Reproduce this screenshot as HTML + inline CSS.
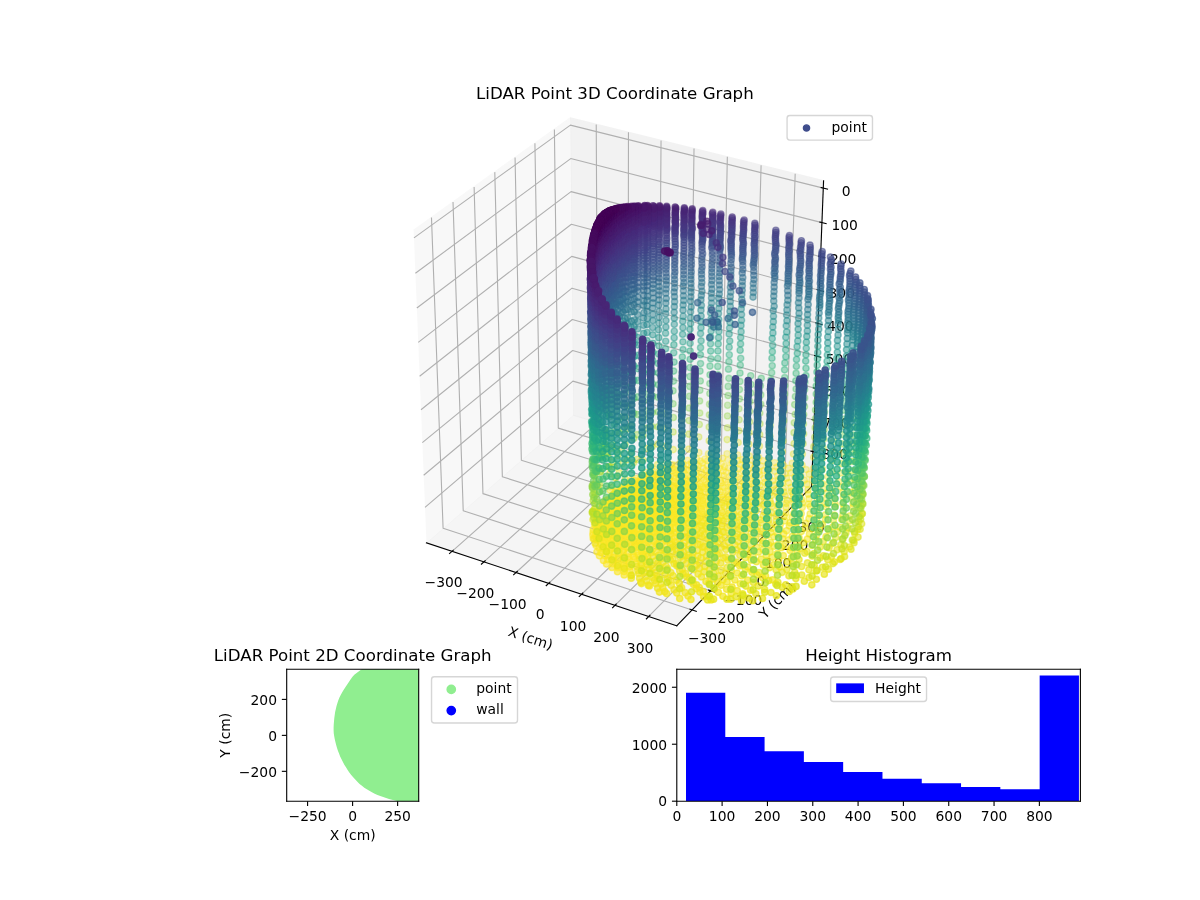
<!DOCTYPE html><html><head><meta charset="utf-8"><title>LiDAR Point Graphs</title><style>html,body{margin:0;padding:0;background:#fff}svg{display:block}</style></head><body><svg width="1200" height="900" viewBox="0 0 864 648"> <defs> <style>text{font-family:"DejaVu Sans","Liberation Sans",sans-serif}.a{fill:#450457;stroke:#450457}.b{fill:#460a5d;stroke:#460a5d}.c{fill:#471063;stroke:#471063}.d{fill:#481668;stroke:#481668}.e{fill:#481b6d;stroke:#481b6d}.f{fill:#482071;stroke:#482071}.g{fill:#482576;stroke:#482576}.h{fill:#472a7a;stroke:#472a7a}.i{fill:#472f7d;stroke:#472f7d}.j{fill:#463480;stroke:#463480}.k{fill:#443983;stroke:#443983}.l{fill:#433e85;stroke:#433e85}.m{fill:#414287;stroke:#414287}.n{fill:#3f4788;stroke:#3f4788}.o{fill:#3e4c8a;stroke:#3e4c8a}.p{fill:#3c508b;stroke:#3c508b}.q{fill:#3a548c;stroke:#3a548c}.r{fill:#38598c;stroke:#38598c}.s{fill:#365d8d;stroke:#365d8d}.t{fill:#34618d;stroke:#34618d}.u{fill:#32658e;stroke:#32658e}.v{fill:#30698e;stroke:#30698e}.w{fill:#2e6d8e;stroke:#2e6d8e}.x{fill:#2d718e;stroke:#2d718e}.y{fill:#2b748e;stroke:#2b748e}.z{fill:#2a788e;stroke:#2a788e}.A{fill:#287c8e;stroke:#287c8e}.B{fill:#27808e;stroke:#27808e}.C{fill:#25838e;stroke:#25838e}.D{fill:#24878e;stroke:#24878e}.E{fill:#228b8d;stroke:#228b8d}.F{fill:#218f8d;stroke:#218f8d}.G{fill:#20928c;stroke:#20928c}.H{fill:#1f968b;stroke:#1f968b}.I{fill:#1f9a8a;stroke:#1f9a8a}.J{fill:#1f9e89;stroke:#1f9e89}.K{fill:#1fa187;stroke:#1fa187}.L{fill:#21a585;stroke:#21a585}.M{fill:#23a983;stroke:#23a983}.N{fill:#26ad81;stroke:#26ad81}.O{fill:#2ab07f;stroke:#2ab07f}.P{fill:#2fb47c;stroke:#2fb47c}.Q{fill:#35b779;stroke:#35b779}.R{fill:#3bbb75;stroke:#3bbb75}.S{fill:#42be71;stroke:#42be71}.T{fill:#4ac16d;stroke:#4ac16d}.U{fill:#52c569;stroke:#52c569}.V{fill:#5ac864;stroke:#5ac864}.W{fill:#63cb5f;stroke:#63cb5f}.X{fill:#6ccd5a;stroke:#6ccd5a}.Y{fill:#75d054;stroke:#75d054}.Z{fill:#7fd34e;stroke:#7fd34e}.aa{fill:#89d548;stroke:#89d548}.ab{fill:#93d741;stroke:#93d741}.ac{fill:#9dd93b;stroke:#9dd93b}.ad{fill:#a8db34;stroke:#a8db34}.ae{fill:#b2dd2d;stroke:#b2dd2d}.af{fill:#bddf26;stroke:#bddf26}.ag{fill:#c8e020;stroke:#c8e020}.ah{fill:#d2e21b;stroke:#d2e21b}.ai{fill:#dde318;stroke:#dde318}.aj{fill:#e7e419;stroke:#e7e419}.ak{fill:#f1e51d;stroke:#f1e51d}.al{fill:#fbe723;stroke:#fbe723}.pts circle{r:2.24px;stroke-width:1px}*{stroke-linejoin: round; stroke-linecap: butt}</style> </defs> <g id="figure_1"> <g id="patch_1"> <path d="M 0 648 L 864 648 L 864 0 L 0 0 z " style="fill: #ffffff"/> </g> <g id="patch_2"> <path d="M 252.53 457.76 L 632.89 457.76 L 632.89 77.40 L 252.53 77.40 z " style="fill: #ffffff"/> </g> <g id="pane3d_1"> <g id="patch_3"> <path d="M 297.81 165.83 L 410.63 84.93 L 412.76 298.83 L 307.04 390.84 " style="fill: #f2f2f2; opacity: 0.5; stroke: #f2f2f2; stroke-linejoin: miter"/> </g> </g> <g id="pane3d_2"> <g id="patch_4"> <path d="M 410.63 84.93 L 592.97 130.11 L 584.32 350.31 L 412.76 298.83 " style="fill: #e6e6e6; opacity: 0.5; stroke: #e6e6e6; stroke-linejoin: miter"/> </g> </g> <g id="pane3d_3"> <g id="patch_5"> <path d="M 307.04 390.84 L 487.29 450.54 L 584.32 350.31 L 412.76 298.83 " style="fill: #ececec; opacity: 0.5; stroke: #ececec; stroke-linejoin: miter"/> </g> </g> <g id="grid3d_1"> <g id="Line3DCollection_1"> <path d="M 325.48 396.94 L 430.36 304.11 L 429.29 89.56 " style="fill: none; stroke: #b0b0b0; stroke-width: 0.8"/> <path d="M 348.40 404.54 L 452.22 310.67 L 452.49 95.30 " style="fill: none; stroke: #b0b0b0; stroke-width: 0.8"/> <path d="M 371.59 412.22 L 474.32 317.31 L 475.95 101.12 " style="fill: none; stroke: #b0b0b0; stroke-width: 0.8"/> <path d="M 395.05 419.99 L 496.66 324.01 L 499.69 107.00 " style="fill: none; stroke: #b0b0b0; stroke-width: 0.8"/> <path d="M 418.78 427.85 L 519.24 330.79 L 523.69 112.94 " style="fill: none; stroke: #b0b0b0; stroke-width: 0.8"/> <path d="M 442.79 435.80 L 542.07 337.64 L 547.98 118.96 " style="fill: none; stroke: #b0b0b0; stroke-width: 0.8"/> <path d="M 467.09 443.85 L 565.14 344.56 L 572.54 125.05 " style="fill: none; stroke: #b0b0b0; stroke-width: 0.8"/> </g> </g> <g id="grid3d_2"> <g id="Line3DCollection_2"> <path d="M 310.66 156.62 L 319.03 380.40 L 498.33 439.14 " style="fill: none; stroke: #b0b0b0; stroke-width: 0.8"/> <path d="M 326.17 145.50 L 333.52 367.79 L 511.65 425.38 " style="fill: none; stroke: #b0b0b0; stroke-width: 0.8"/> <path d="M 341.36 134.60 L 347.73 355.42 L 524.71 411.89 " style="fill: none; stroke: #b0b0b0; stroke-width: 0.8"/> <path d="M 356.25 123.93 L 361.68 343.29 L 537.51 398.66 " style="fill: none; stroke: #b0b0b0; stroke-width: 0.8"/> <path d="M 370.84 113.47 L 375.36 331.38 L 550.06 385.70 " style="fill: none; stroke: #b0b0b0; stroke-width: 0.8"/> <path d="M 385.14 103.21 L 388.79 319.70 L 562.37 372.99 " style="fill: none; stroke: #b0b0b0; stroke-width: 0.8"/> <path d="M 399.16 93.16 L 401.96 308.23 L 574.44 360.52 " style="fill: none; stroke: #b0b0b0; stroke-width: 0.8"/> </g> </g> <g id="grid3d_3"> <g id="Line3DCollection_3"> <path d="M 592.76 135.44 L 410.68 90.10 L 298.04 171.29 " style="fill: none; stroke: #b0b0b0; stroke-width: 0.8"/> <path d="M 591.79 160.29 L 410.92 114.18 L 299.08 196.72 " style="fill: none; stroke: #b0b0b0; stroke-width: 0.8"/> <path d="M 590.82 184.80 L 411.16 137.96 L 300.11 221.80 " style="fill: none; stroke: #b0b0b0; stroke-width: 0.8"/> <path d="M 589.87 208.99 L 411.39 161.42 L 301.12 246.53 " style="fill: none; stroke: #b0b0b0; stroke-width: 0.8"/> <path d="M 588.93 232.85 L 411.62 184.60 L 302.12 270.93 " style="fill: none; stroke: #b0b0b0; stroke-width: 0.8"/> <path d="M 588.01 256.40 L 411.85 207.48 L 303.11 294.99 " style="fill: none; stroke: #b0b0b0; stroke-width: 0.8"/> <path d="M 587.10 279.65 L 412.07 230.07 L 304.08 318.73 " style="fill: none; stroke: #b0b0b0; stroke-width: 0.8"/> <path d="M 586.19 302.60 L 412.30 252.39 L 305.04 342.15 " style="fill: none; stroke: #b0b0b0; stroke-width: 0.8"/> <path d="M 585.30 325.25 L 412.52 274.43 L 305.99 365.27 " style="fill: none; stroke: #b0b0b0; stroke-width: 0.8"/> </g> </g> <g id="axis3d_1"> <g id="line2d_1"> <path d="M 307.04 390.84 L 487.29 450.54 " style="fill: none; stroke: #000000; stroke-width: 0.8; stroke-linecap: square"/> </g> <g id="xtick_1"> <g id="line2d_2"> <path d="M 326.38 396.15 L 323.67 398.54 " style="fill: none; stroke: #000000; stroke-width: 0.8; stroke-linecap: square"/> </g> <g id="text_1"> <text style="font-size: 10px;  text-anchor: middle" x="319.36" y="422.65">−300</text> </g> </g> <g id="xtick_2"> <g id="line2d_3"> <path d="M 349.30 403.73 L 346.61 406.16 " style="fill: none; stroke: #000000; stroke-width: 0.8; stroke-linecap: square"/> </g> <g id="text_2"> <text style="font-size: 10px;  text-anchor: middle" x="342.27" y="430.35">−200</text> </g> </g> <g id="xtick_3"> <g id="line2d_4"> <path d="M 372.47 411.40 L 369.82 413.86 " style="fill: none; stroke: #000000; stroke-width: 0.8; stroke-linecap: square"/> </g> <g id="text_3"> <text style="font-size: 10px;  text-anchor: middle" x="365.44" y="438.14">−100</text> </g> </g> <g id="xtick_4"> <g id="line2d_5"> <path d="M 395.92 419.16 L 393.29 421.64 " style="fill: none; stroke: #000000; stroke-width: 0.8; stroke-linecap: square"/> </g> <g id="text_4"> <text style="font-size: 10px;  text-anchor: middle" x="388.88" y="446.03">0</text> </g> </g> <g id="xtick_5"> <g id="line2d_6"> <path d="M 419.65 427.01 L 417.05 429.53 " style="fill: none; stroke: #000000; stroke-width: 0.8; stroke-linecap: square"/> </g> <g id="text_5"> <text style="font-size: 10px;  text-anchor: middle" x="412.60" y="454.00">100</text> </g> </g> <g id="xtick_6"> <g id="line2d_7"> <path d="M 443.65 434.96 L 441.08 437.50 " style="fill: none; stroke: #000000; stroke-width: 0.8; stroke-linecap: square"/> </g> <g id="text_6"> <text style="font-size: 10px;  text-anchor: middle" x="436.59" y="462.07">200</text> </g> </g> <g id="xtick_7"> <g id="line2d_8"> <path d="M 467.93 443.00 L 465.39 445.57 " style="fill: none; stroke: #000000; stroke-width: 0.8; stroke-linecap: square"/> </g> <g id="text_7"> <text style="font-size: 10px;  text-anchor: middle" x="460.87" y="470.24">300</text> </g> </g> <g id="text_8"> <text style="font-size: 10px;  text-anchor: middle" x="380.88" y="462.77" transform="rotate(-341.67 380.88 462.77)">X (cm)</text> </g> </g> <g id="axis3d_2"> <g id="line2d_9"> <path d="M 584.32 350.31 L 487.29 450.54 " style="fill: none; stroke: #000000; stroke-width: 0.8; stroke-linecap: square"/> </g> <g id="xtick_8"> <g id="line2d_10"> <path d="M 496.83 438.65 L 501.33 440.13 " style="fill: none; stroke: #000000; stroke-width: 0.8; stroke-linecap: square"/> </g> <g id="text_9"> <text style="font-size: 10px;  text-anchor: middle" x="509.00" y="462.82">−300</text> </g> </g> <g id="xtick_9"> <g id="line2d_11"> <path d="M 510.16 424.90 L 514.63 426.34 " style="fill: none; stroke: #000000; stroke-width: 0.8; stroke-linecap: square"/> </g> <g id="text_10"> <text style="font-size: 10px;  text-anchor: middle" x="522.21" y="448.91">−200</text> </g> </g> <g id="xtick_10"> <g id="line2d_12"> <path d="M 523.23 411.42 L 527.67 412.83 " style="fill: none; stroke: #000000; stroke-width: 0.8; stroke-linecap: square"/> </g> <g id="text_11"> <text style="font-size: 10px;  text-anchor: middle" x="535.15" y="435.27">−100</text> </g> </g> <g id="xtick_11"> <g id="line2d_13"> <path d="M 536.05 398.20 L 540.45 399.59 " style="fill: none; stroke: #000000; stroke-width: 0.8; stroke-linecap: square"/> </g> <g id="text_12"> <text style="font-size: 10px;  text-anchor: middle" x="547.83" y="421.90">0</text> </g> </g> <g id="xtick_12"> <g id="line2d_14"> <path d="M 548.61 385.25 L 552.98 386.61 " style="fill: none; stroke: #000000; stroke-width: 0.8; stroke-linecap: square"/> </g> <g id="text_13"> <text style="font-size: 10px;  text-anchor: middle" x="560.27" y="408.80">100</text> </g> </g> <g id="xtick_13"> <g id="line2d_15"> <path d="M 560.92 372.54 L 565.27 373.88 " style="fill: none; stroke: #000000; stroke-width: 0.8; stroke-linecap: square"/> </g> <g id="text_14"> <text style="font-size: 10px;  text-anchor: middle" x="572.46" y="395.95">200</text> </g> </g> <g id="xtick_14"> <g id="line2d_16"> <path d="M 573.00 360.08 L 577.32 361.39 " style="fill: none; stroke: #000000; stroke-width: 0.8; stroke-linecap: square"/> </g> <g id="text_15"> <text style="font-size: 10px;  text-anchor: middle" x="584.43" y="383.35">300</text> </g> </g> <g id="text_16"> <text style="font-size: 10px;  text-anchor: middle" x="562.03" y="434.41" transform="rotate(-45.92 562.03 434.41)">Y (cm)</text> </g> </g> <g id="axis3d_3"> <g id="line2d_17"> <path d="M 584.32 350.31 L 592.97 130.11 " style="fill: none; stroke: #000000; stroke-width: 0.8; stroke-linecap: square"/> </g> <g id="xtick_15"> <g id="line2d_18"> <path d="M 591.24 135.07 L 595.81 136.20 " style="fill: none; stroke: #000000; stroke-width: 0.8; stroke-linecap: square"/> </g> <g id="text_17"> <text style="font-size: 10px;  text-anchor: middle" x="609.28" y="141.03">0</text> </g> </g> <g id="xtick_16"> <g id="line2d_19"> <path d="M 590.27 159.90 L 594.81 161.06 " style="fill: none; stroke: #000000; stroke-width: 0.8; stroke-linecap: square"/> </g> <g id="text_18"> <text style="font-size: 10px;  text-anchor: middle" x="608.19" y="165.84">100</text> </g> </g> <g id="xtick_17"> <g id="line2d_20"> <path d="M 589.32 184.41 L 593.83 185.58 " style="fill: none; stroke: #000000; stroke-width: 0.8; stroke-linecap: square"/> </g> <g id="text_19"> <text style="font-size: 10px;  text-anchor: middle" x="607.12" y="190.32">200</text> </g> </g> <g id="xtick_18"> <g id="line2d_21"> <path d="M 588.38 208.59 L 592.85 209.78 " style="fill: none; stroke: #000000; stroke-width: 0.8; stroke-linecap: square"/> </g> <g id="text_20"> <text style="font-size: 10px;  text-anchor: middle" x="606.07" y="214.48">300</text> </g> </g> <g id="xtick_19"> <g id="line2d_22"> <path d="M 587.45 232.45 L 591.90 233.66 " style="fill: none; stroke: #000000; stroke-width: 0.8; stroke-linecap: square"/> </g> <g id="text_21"> <text style="font-size: 10px;  text-anchor: middle" x="605.02" y="238.31">400</text> </g> </g> <g id="xtick_20"> <g id="line2d_23"> <path d="M 586.54 256.00 L 590.95 257.22 " style="fill: none; stroke: #000000; stroke-width: 0.8; stroke-linecap: square"/> </g> <g id="text_22"> <text style="font-size: 10px;  text-anchor: middle" x="603.99" y="261.84">500</text> </g> </g> <g id="xtick_21"> <g id="line2d_24"> <path d="M 585.64 279.24 L 590.02 280.48 " style="fill: none; stroke: #000000; stroke-width: 0.8; stroke-linecap: square"/> </g> <g id="text_23"> <text style="font-size: 10px;  text-anchor: middle" x="602.98" y="285.06">600</text> </g> </g> <g id="xtick_22"> <g id="line2d_25"> <path d="M 584.74 302.18 L 589.10 303.43 " style="fill: none; stroke: #000000; stroke-width: 0.8; stroke-linecap: square"/> </g> <g id="text_24"> <text style="font-size: 10px;  text-anchor: middle" x="601.98" y="307.97">700</text> </g> </g> <g id="xtick_23"> <g id="line2d_26"> <path d="M 583.86 324.82 L 588.19 326.09 " style="fill: none; stroke: #000000; stroke-width: 0.8; stroke-linecap: square"/> </g> <g id="text_25"> <text style="font-size: 10px;  text-anchor: middle" x="600.99" y="330.60">800</text> </g> </g> </g> <g id="axes_1"> <g id="PTS3D"> <defs> <path id="maa36936b1c" d="M 0 2.23 C 0.59 2.23 1.16 2.00 1.58 1.58 C 2.00 1.16 2.23 0.59 2.23 0 C 2.23 -0.59 2.00 -1.16 1.58 -1.58 C 1.16 -2.00 0.59 -2.23 0 -2.23 C -0.59 -2.23 -1.16 -2.00 -1.58 -1.58 C -2.00 -1.16 -2.23 -0.59 -2.23 0 C -2.23 0.59 -2.00 1.16 -1.58 1.58 C -1.16 2.00 -0.59 2.23 0 2.23 z " style="stroke: #3f4d8c"/> </defs><g class="pts"><g fill-opacity="0.31" stroke-opacity="0.31"><circle cx="523.5" cy="326.7" class="ak"/><circle cx="531.2" cy="327.6" class="al"/><circle cx="513.3" cy="329.7" class="al"/><circle cx="510.1" cy="326.7" class="ak"/><circle cx="539.4" cy="328.2" class="al"/><circle cx="515.5" cy="324.8" class="ak"/><circle cx="507.5" cy="330.6" class="al"/><circle cx="520.3" cy="329.9" class="al"/><circle cx="501.6" cy="330.4" class="al"/><circle cx="528.2" cy="329.9" class="al"/><circle cx="546.3" cy="329.5" class="al"/><circle cx="503.2" cy="325.9" class="ak"/><circle cx="495.1" cy="331.5" class="al"/><circle cx="516.9" cy="332.0" class="al"/><circle cx="534.4" cy="331.0" class="al"/><circle cx="490.2" cy="332.2" class="al"/><circle cx="509.5" cy="331.7" class="al"/><circle cx="553.6" cy="330.1" class="al"/><circle cx="504.4" cy="332.0" class="al"/><circle cx="541.7" cy="331.4" class="al"/><circle cx="524.0" cy="331.4" class="al"/><circle cx="497.8" cy="333.2" class="al"/><circle cx="531.5" cy="318.6" class="ai"/><circle cx="510.6" cy="317.4" class="ah"/><circle cx="531.4" cy="331.8" class="al"/><circle cx="483.8" cy="334.4" class="al"/><circle cx="491.7" cy="334.0" class="al"/><circle cx="549.3" cy="331.7" class="al"/><circle cx="495.9" cy="323.4" class="aj"/><circle cx="523.5" cy="316.5" class="ah"/><circle cx="539.2" cy="319.8" class="ai"/><circle cx="562.6" cy="331.9" class="al"/><circle cx="513.1" cy="333.8" class="al"/><circle cx="546.8" cy="321.2" class="ai"/><circle cx="501.2" cy="334.5" class="al"/><circle cx="505.8" cy="333.5" class="al"/><circle cx="537.0" cy="332.5" class="al"/><circle cx="495.8" cy="334.6" class="al"/><circle cx="519.3" cy="334.0" class="al"/><circle cx="486.6" cy="334.9" class="al"/><circle cx="489.7" cy="335.4" class="al"/><circle cx="545.0" cy="332.8" class="al"/><circle cx="490.5" cy="324.0" class="aj"/><circle cx="527.2" cy="333.2" class="al"/><circle cx="478.4" cy="334.6" class="al"/><circle cx="554.0" cy="321.7" class="ai"/><circle cx="557.8" cy="333.2" class="al"/><circle cx="533.0" cy="334.5" class="al"/><circle cx="503.1" cy="314.6" class="ag"/><circle cx="481.4" cy="335.9" class="al"/><circle cx="502.9" cy="335.4" class="al"/><circle cx="509.3" cy="335.4" class="al"/><circle cx="570.4" cy="333.6" class="al"/><circle cx="497.7" cy="336.3" class="al"/><circle cx="515.7" cy="335.4" class="al"/><circle cx="539.9" cy="334.8" class="al"/><circle cx="563.3" cy="325.1" class="ai"/><circle cx="531.9" cy="310.1" class="af"/></g><g fill-opacity="0.33" stroke-opacity="0.33"><circle cx="476.5" cy="337.3" class="al"/><circle cx="484.7" cy="323.7" class="ai"/><circle cx="492.1" cy="336.5" class="al"/><circle cx="539.4" cy="311.4" class="af"/><circle cx="523.8" cy="308.0" class="ae"/><circle cx="521.7" cy="336.0" class="al"/><circle cx="484.0" cy="336.7" class="al"/><circle cx="552.8" cy="334.2" class="al"/><circle cx="500.1" cy="337.1" class="al"/><circle cx="547.0" cy="312.9" class="af"/><circle cx="510.6" cy="307.5" class="ae"/><circle cx="506.2" cy="337.0" class="al"/><circle cx="528.5" cy="335.6" class="al"/><circle cx="536.1" cy="336.1" class="al"/><circle cx="473.5" cy="334.5" class="ak"/><circle cx="496.0" cy="312.6" class="af"/><circle cx="512.4" cy="336.5" class="al"/><circle cx="564.3" cy="335.2" class="al"/><circle cx="478.9" cy="338.5" class="al"/><circle cx="485.6" cy="337.9" class="al"/><circle cx="518.1" cy="337.0" class="al"/><circle cx="554.3" cy="313.7" class="af"/><circle cx="547.8" cy="335.5" class="al"/><circle cx="494.1" cy="338.0" class="al"/><circle cx="571.3" cy="326.9" class="ai"/><circle cx="577.5" cy="334.9" class="ak"/><circle cx="471.5" cy="339.5" class="al"/><circle cx="559.3" cy="336.3" class="al"/><circle cx="524.6" cy="336.9" class="al"/><circle cx="469.3" cy="336.7" class="al"/><circle cx="503.5" cy="305.6" class="ad"/><circle cx="490.9" cy="313.1" class="af"/><circle cx="531.6" cy="337.6" class="al"/><circle cx="474.0" cy="339.9" class="al"/><circle cx="563.8" cy="317.5" class="ag"/><circle cx="481.3" cy="338.4" class="al"/><circle cx="488.3" cy="339.0" class="al"/><circle cx="508.4" cy="338.7" class="al"/><circle cx="496.2" cy="338.6" class="al"/><circle cx="502.2" cy="338.3" class="al"/><circle cx="532.1" cy="302.2" class="ac"/><circle cx="572.7" cy="336.0" class="ak"/><circle cx="543.2" cy="336.9" class="al"/><circle cx="539.7" cy="303.7" class="ad"/><circle cx="465.2" cy="340.0" class="al"/><circle cx="483.6" cy="339.1" class="al"/><circle cx="514.6" cy="338.4" class="al"/><circle cx="476.7" cy="340.2" class="al"/><circle cx="520.7" cy="338.8" class="al"/><circle cx="478.7" cy="321.3" class="ah"/><circle cx="547.2" cy="305.1" class="ad"/><circle cx="523.8" cy="299.5" class="ab"/><circle cx="554.2" cy="337.6" class="al"/><circle cx="527.8" cy="338.8" class="al"/><circle cx="491.5" cy="339.3" class="al"/><circle cx="470.0" cy="341.3" class="al"/><circle cx="467.5" cy="341.3" class="al"/><circle cx="538.5" cy="338.7" class="al"/><circle cx="567.6" cy="337.1" class="ak"/><circle cx="486.5" cy="340.4" class="al"/><circle cx="510.8" cy="298.7" class="ab"/><circle cx="504.9" cy="340.1" class="al"/><circle cx="498.8" cy="340.5" class="al"/><circle cx="550.1" cy="338.7" class="al"/><circle cx="511.0" cy="339.7" class="al"/><circle cx="571.8" cy="319.4" class="ag"/><circle cx="554.5" cy="306.1" class="ad"/><circle cx="478.3" cy="341.5" class="al"/><circle cx="496.2" cy="302.8" class="ac"/><circle cx="481.1" cy="341.5" class="al"/><circle cx="492.6" cy="340.2" class="al"/><circle cx="577.7" cy="326.8" class="ai"/><circle cx="471.8" cy="341.9" class="al"/><circle cx="516.4" cy="340.1" class="al"/><circle cx="462.5" cy="342.2" class="al"/><circle cx="562.0" cy="338.2" class="ak"/><circle cx="484.6" cy="311.0" class="ae"/><circle cx="503.8" cy="297.4" class="ab"/><circle cx="585.7" cy="337.3" class="ak"/><circle cx="534.8" cy="339.2" class="al"/><circle cx="546.5" cy="339.6" class="al"/><circle cx="463.7" cy="342.1" class="al"/><circle cx="522.8" cy="340.1" class="al"/><circle cx="474.3" cy="342.1" class="al"/><circle cx="487.9" cy="341.7" class="al"/><circle cx="563.7" cy="309.5" class="ad"/><circle cx="532.0" cy="294.3" class="aa"/><circle cx="501.4" cy="341.2" class="al"/><circle cx="465.8" cy="343.0" class="al"/><circle cx="557.7" cy="339.3" class="ak"/><circle cx="482.9" cy="342.7" class="al"/><circle cx="512.9" cy="341.3" class="al"/><circle cx="539.8" cy="296.1" class="aa"/><circle cx="506.8" cy="341.6" class="al"/><circle cx="495.0" cy="342.5" class="al"/><circle cx="580.4" cy="338.1" class="ak"/><circle cx="476.2" cy="343.2" class="al"/><circle cx="523.9" cy="291.8" class="Z"/><circle cx="490.9" cy="302.6" class="ab"/><circle cx="547.1" cy="297.4" class="aa"/><circle cx="467.4" cy="343.8" class="al"/><circle cx="489.6" cy="341.7" class="al"/><circle cx="473.6" cy="319.8" class="ag"/><circle cx="541.3" cy="340.8" class="al"/><circle cx="510.9" cy="291.0" class="Z"/><circle cx="469.8" cy="343.7" class="al"/><circle cx="517.6" cy="342.1" class="al"/><circle cx="529.6" cy="340.2" class="ak"/><circle cx="575.0" cy="339.9" class="ak"/></g><g fill-opacity="0.36" stroke-opacity="0.36"><circle cx="458.4" cy="344.3" class="al"/><circle cx="552.6" cy="340.7" class="al"/><circle cx="477.6" cy="343.8" class="al"/><circle cx="485.0" cy="342.9" class="al"/><circle cx="526.3" cy="342.2" class="al"/><circle cx="554.4" cy="298.6" class="aa"/><circle cx="461.1" cy="344.3" class="al"/><circle cx="509.0" cy="342.9" class="al"/><circle cx="471.9" cy="343.7" class="al"/><circle cx="497.0" cy="343.5" class="al"/><circle cx="502.6" cy="343.3" class="al"/><circle cx="463.0" cy="331.4" class="ai"/><circle cx="491.7" cy="343.9" class="al"/><circle cx="514.9" cy="342.6" class="al"/><circle cx="578.2" cy="319.4" class="af"/><circle cx="571.7" cy="311.5" class="ad"/><circle cx="462.0" cy="345.0" class="al"/><circle cx="569.6" cy="340.5" class="ak"/><circle cx="469.5" cy="321.7" class="ag"/><circle cx="536.1" cy="341.9" class="al"/><circle cx="486.4" cy="344.3" class="al"/><circle cx="473.9" cy="344.8" class="al"/><circle cx="564.3" cy="302.9" class="ab"/><circle cx="496.2" cy="293.8" class="Z"/><circle cx="585.9" cy="329.2" class="ai"/><circle cx="547.0" cy="342.0" class="al"/><circle cx="479.9" cy="343.9" class="al"/><circle cx="463.7" cy="345.7" class="al"/><circle cx="478.7" cy="308.6" class="ad"/><circle cx="466.1" cy="345.2" class="al"/><circle cx="503.7" cy="288.7" class="Y"/><circle cx="532.3" cy="287.2" class="X"/><circle cx="588.4" cy="340.6" class="ak"/><circle cx="540.0" cy="289.1" class="Y"/><circle cx="565.2" cy="341.1" class="ak"/><circle cx="547.7" cy="291.0" class="Y"/><circle cx="592.2" cy="337.8" class="aj"/><circle cx="467.8" cy="345.4" class="al"/><circle cx="531.4" cy="343.5" class="al"/><circle cx="475.5" cy="345.1" class="al"/><circle cx="524.2" cy="284.8" class="X"/><circle cx="505.0" cy="343.8" class="al"/><circle cx="484.8" cy="300.6" class="aa"/><circle cx="481.8" cy="345.1" class="al"/><circle cx="543.0" cy="342.7" class="al"/><circle cx="510.6" cy="344.1" class="al"/><circle cx="499.2" cy="344.2" class="al"/><circle cx="493.6" cy="344.7" class="al"/><circle cx="455.9" cy="346.2" class="al"/><circle cx="521.2" cy="342.6" class="al"/><circle cx="489.1" cy="344.3" class="al"/><circle cx="454.1" cy="345.7" class="al"/><circle cx="559.9" cy="342.8" class="al"/><circle cx="582.6" cy="341.4" class="ak"/><circle cx="460.8" cy="346.6" class="al"/><circle cx="469.7" cy="345.8" class="al"/><circle cx="457.2" cy="346.0" class="al"/><circle cx="465.5" cy="322.9" class="ag"/><circle cx="459.5" cy="347.0" class="al"/><circle cx="511.1" cy="283.3" class="W"/><circle cx="528.0" cy="344.1" class="al"/><circle cx="554.8" cy="292.1" class="Y"/><circle cx="491.0" cy="293.2" class="Y"/><circle cx="538.0" cy="344.0" class="al"/><circle cx="476.9" cy="346.0" class="al"/><circle cx="576.7" cy="342.8" class="ak"/><circle cx="482.1" cy="346.4" class="al"/><circle cx="578.6" cy="312.3" class="ad"/><circle cx="515.8" cy="344.9" class="al"/><circle cx="501.0" cy="345.3" class="al"/><circle cx="506.7" cy="345.4" class="al"/><circle cx="571.9" cy="304.4" class="ab"/><circle cx="490.5" cy="346.1" class="al"/><circle cx="494.9" cy="346.3" class="al"/><circle cx="564.3" cy="295.8" class="Z"/><circle cx="554.0" cy="343.9" class="al"/><circle cx="461.7" cy="347.8" class="al"/><circle cx="470.9" cy="346.8" class="al"/><circle cx="458.8" cy="330.7" class="ah"/><circle cx="540.6" cy="283.0" class="W"/><circle cx="478.4" cy="346.9" class="al"/><circle cx="484.8" cy="346.7" class="al"/><circle cx="463.7" cy="347.7" class="al"/><circle cx="455.0" cy="347.8" class="al"/><circle cx="572.3" cy="343.5" class="ak"/><circle cx="532.4" cy="280.5" class="V"/><circle cx="472.2" cy="347.8" class="al"/><circle cx="550.2" cy="344.4" class="al"/><circle cx="586.0" cy="321.6" class="af"/><circle cx="522.2" cy="345.3" class="al"/><circle cx="473.7" cy="307.3" class="ac"/><circle cx="533.1" cy="344.7" class="al"/><circle cx="547.7" cy="284.2" class="W"/><circle cx="511.6" cy="346.1" class="al"/><circle cx="524.3" cy="278.2" class="U"/><circle cx="453.4" cy="348.7" class="al"/><circle cx="496.4" cy="285.3" class="W"/><circle cx="465.1" cy="348.4" class="al"/><circle cx="503.9" cy="281.0" class="V"/><circle cx="467.1" cy="348.5" class="al"/><circle cx="491.8" cy="347.5" class="al"/><circle cx="566.3" cy="344.3" class="ak"/><circle cx="451.5" cy="348.6" class="al"/><circle cx="479.4" cy="347.4" class="al"/><circle cx="474.0" cy="348.2" class="al"/><circle cx="458.0" cy="349.0" class="al"/><circle cx="487.0" cy="347.6" class="al"/><circle cx="501.8" cy="346.6" class="al"/><circle cx="496.2" cy="347.2" class="al"/><circle cx="592.2" cy="329.7" class="ah"/><circle cx="518.6" cy="346.1" class="al"/><circle cx="544.1" cy="345.7" class="al"/><circle cx="527.7" cy="346.4" class="al"/><circle cx="508.5" cy="347.1" class="al"/><circle cx="511.1" cy="276.2" class="U"/><circle cx="555.0" cy="285.7" class="W"/><circle cx="478.8" cy="297.9" class="Z"/><circle cx="455.7" cy="348.9" class="al"/><circle cx="596.0" cy="343.1" class="ak"/><circle cx="458.8" cy="349.3" class="al"/><circle cx="468.5" cy="348.6" class="al"/><circle cx="560.7" cy="345.4" class="ak"/><circle cx="481.6" cy="348.3" class="al"/><circle cx="572.6" cy="298.3" class="Z"/><circle cx="456.3" cy="333.0" class="ah"/><circle cx="484.6" cy="290.7" class="X"/><circle cx="461.9" cy="349.6" class="al"/><circle cx="475.1" cy="349.1" class="al"/><circle cx="493.5" cy="348.4" class="al"/><circle cx="564.9" cy="289.9" class="X"/><circle cx="524.3" cy="347.0" class="al"/><circle cx="539.8" cy="346.5" class="al"/><circle cx="450.0" cy="344.9" class="ak"/><circle cx="469.5" cy="349.5" class="al"/><circle cx="590.4" cy="344.2" class="ak"/><circle cx="491.1" cy="284.9" class="W"/><circle cx="497.8" cy="348.1" class="al"/><circle cx="556.2" cy="346.3" class="al"/><circle cx="578.5" cy="305.1" class="ab"/><circle cx="540.7" cy="276.8" class="U"/><circle cx="532.7" cy="274.6" class="T"/><circle cx="513.8" cy="347.8" class="al"/><circle cx="460.1" cy="349.2" class="al"/><circle cx="483.5" cy="349.4" class="al"/><circle cx="599.2" cy="339.5" class="aj"/><circle cx="504.1" cy="348.5" class="al"/><circle cx="476.1" cy="349.3" class="al"/><circle cx="487.8" cy="349.1" class="al"/><circle cx="449.6" cy="350.4" class="al"/><circle cx="524.8" cy="272.4" class="T"/><circle cx="584.6" cy="345.4" class="ak"/><circle cx="469.4" cy="307.1" class="ab"/><circle cx="535.4" cy="347.5" class="al"/><circle cx="586.6" cy="314.8" class="ad"/><circle cx="463.0" cy="349.8" class="al"/><circle cx="447.2" cy="350.9" class="al"/><circle cx="470.9" cy="350.0" class="al"/></g><g fill-opacity="0.38" stroke-opacity="0.38"><circle cx="452.5" cy="350.9" class="al"/><circle cx="547.5" cy="277.7" class="U"/><circle cx="496.6" cy="278.2" class="U"/><circle cx="550.8" cy="347.2" class="al"/><circle cx="504.2" cy="274.3" class="T"/><circle cx="464.6" cy="350.2" class="al"/><circle cx="450.9" cy="351.2" class="al"/><circle cx="519.3" cy="347.6" class="al"/><circle cx="509.5" cy="348.8" class="al"/><circle cx="448.5" cy="351.0" class="al"/><circle cx="456.6" cy="351.0" class="al"/><circle cx="579.1" cy="345.7" class="ak"/><circle cx="555.2" cy="279.6" class="U"/><circle cx="472.3" cy="350.5" class="al"/><circle cx="457.3" cy="351.5" class="al"/><circle cx="485.0" cy="349.8" class="al"/><circle cx="516.8" cy="269.7" class="S"/><circle cx="488.8" cy="349.8" class="al"/><circle cx="453.6" cy="350.8" class="al"/><circle cx="477.3" cy="350.6" class="al"/><circle cx="454.6" cy="351.0" class="al"/><circle cx="499.6" cy="349.3" class="al"/><circle cx="493.7" cy="348.9" class="al"/><circle cx="511.2" cy="269.8" class="S"/><circle cx="592.7" cy="322.6" class="ae"/><circle cx="545.6" cy="347.7" class="ak"/><circle cx="462.9" cy="313.3" class="ac"/><circle cx="573.6" cy="346.6" class="ak"/><circle cx="514.6" cy="349.3" class="al"/><circle cx="529.2" cy="348.0" class="ak"/><circle cx="479.6" cy="351.1" class="al"/><circle cx="465.3" cy="308.3" class="ab"/><circle cx="472.9" cy="351.5" class="al"/><circle cx="474.0" cy="296.5" class="Y"/><circle cx="504.9" cy="350.2" class="al"/><circle cx="532.8" cy="268.6" class="R"/><circle cx="465.3" cy="350.8" class="al"/><circle cx="541.4" cy="348.4" class="al"/><circle cx="564.9" cy="283.6" class="V"/><circle cx="458.2" cy="351.8" class="al"/><circle cx="572.2" cy="291.3" class="X"/><circle cx="466.4" cy="351.2" class="al"/><circle cx="525.9" cy="348.9" class="al"/><circle cx="578.7" cy="298.5" class="Y"/><circle cx="567.8" cy="347.5" class="ak"/><circle cx="489.8" cy="350.5" class="al"/><circle cx="540.5" cy="270.5" class="S"/><circle cx="459.6" cy="352.0" class="al"/><circle cx="548.1" cy="272.4" class="S"/><circle cx="495.1" cy="351.0" class="al"/><circle cx="462.3" cy="352.3" class="al"/><circle cx="510.1" cy="350.4" class="al"/><circle cx="491.2" cy="277.2" class="T"/><circle cx="468.0" cy="351.7" class="al"/><circle cx="460.6" cy="352.2" class="al"/><circle cx="445.0" cy="353.0" class="al"/><circle cx="474.8" cy="351.2" class="al"/><circle cx="586.9" cy="308.0" class="ab"/><circle cx="484.5" cy="351.0" class="al"/><circle cx="501.0" cy="350.9" class="al"/><circle cx="478.8" cy="288.0" class="W"/><circle cx="563.4" cy="347.8" class="ak"/><circle cx="536.1" cy="349.1" class="al"/><circle cx="524.5" cy="265.8" class="Q"/><circle cx="480.8" cy="351.4" class="al"/><circle cx="520.6" cy="350.2" class="al"/><circle cx="469.5" cy="351.7" class="al"/><circle cx="603.8" cy="346.8" class="ak"/><circle cx="454.3" cy="325.8" class="af"/><circle cx="449.1" cy="352.7" class="al"/><circle cx="599.2" cy="331.6" class="ag"/><circle cx="516.8" cy="263.8" class="Q"/><circle cx="557.3" cy="349.3" class="ak"/><circle cx="476.2" cy="352.2" class="al"/><circle cx="446.1" cy="353.2" class="al"/><circle cx="496.7" cy="271.1" class="S"/><circle cx="443.7" cy="352.9" class="al"/><circle cx="451.6" cy="353.2" class="al"/><circle cx="484.6" cy="281.4" class="U"/><circle cx="448.4" cy="353.2" class="al"/><circle cx="450.5" cy="353.4" class="al"/><circle cx="451.7" cy="331.1" class="ag"/><circle cx="532.5" cy="349.9" class="al"/><circle cx="452.6" cy="353.5" class="al"/><circle cx="447.4" cy="353.3" class="al"/><circle cx="485.9" cy="352.2" class="al"/><circle cx="463.0" cy="353.0" class="al"/><circle cx="504.0" cy="267.2" class="R"/><circle cx="453.6" cy="352.0" class="al"/><circle cx="596.6" cy="347.8" class="ak"/><circle cx="555.1" cy="273.5" class="S"/><circle cx="469.7" cy="297.0" class="Y"/><circle cx="455.9" cy="353.2" class="al"/><circle cx="516.2" cy="351.2" class="al"/><circle cx="505.9" cy="350.7" class="al"/><circle cx="511.2" cy="263.6" class="Q"/><circle cx="469.9" cy="352.1" class="al"/><circle cx="492.7" cy="351.0" class="al"/><circle cx="593.2" cy="315.9" class="ac"/><circle cx="497.1" cy="352.1" class="al"/><circle cx="481.4" cy="352.7" class="al"/><circle cx="454.9" cy="353.6" class="al"/><circle cx="456.9" cy="353.8" class="al"/><circle cx="502.8" cy="352.1" class="al"/><circle cx="465.6" cy="353.0" class="al"/><circle cx="552.2" cy="349.3" class="ak"/><circle cx="467.2" cy="353.3" class="al"/><circle cx="591.7" cy="348.0" class="ak"/><circle cx="463.7" cy="352.6" class="al"/><circle cx="526.3" cy="351.3" class="al"/><circle cx="476.9" cy="352.9" class="al"/><circle cx="572.7" cy="285.5" class="V"/><circle cx="458.7" cy="312.9" class="ab"/><circle cx="565.0" cy="277.6" class="T"/><circle cx="533.0" cy="262.9" class="P"/><circle cx="457.5" cy="353.9" class="al"/><circle cx="586.9" cy="348.5" class="ak"/><circle cx="511.6" cy="351.9" class="al"/><circle cx="579.2" cy="292.6" class="X"/><circle cx="487.8" cy="353.2" class="al"/><circle cx="547.1" cy="349.5" class="ak"/><circle cx="524.8" cy="260.4" class="P"/><circle cx="492.2" cy="353.2" class="al"/><circle cx="470.2" cy="353.6" class="al"/><circle cx="521.5" cy="351.3" class="al"/><circle cx="482.0" cy="352.9" class="al"/><circle cx="477.5" cy="354.0" class="al"/><circle cx="472.3" cy="353.7" class="al"/><circle cx="458.2" cy="354.5" class="al"/><circle cx="467.2" cy="354.3" class="al"/><circle cx="447.7" cy="355.2" class="al"/><circle cx="448.1" cy="355.0" class="al"/><circle cx="459.5" cy="354.7" class="al"/><circle cx="449.9" cy="355.0" class="al"/><circle cx="504.4" cy="261.8" class="P"/><circle cx="542.0" cy="351.1" class="ak"/><circle cx="605.3" cy="340.6" class="ai"/><circle cx="576.0" cy="349.9" class="ak"/><circle cx="460.3" cy="355.0" class="al"/><circle cx="581.0" cy="348.6" class="ak"/><circle cx="445.6" cy="355.3" class="al"/><circle cx="448.8" cy="355.1" class="al"/><circle cx="497.5" cy="352.7" class="al"/><circle cx="448.5" cy="333.6" class="ag"/><circle cx="454.5" cy="354.9" class="al"/><circle cx="555.6" cy="268.3" class="R"/><circle cx="516.8" cy="258.1" class="O"/><circle cx="444.7" cy="355.6" class="al"/><circle cx="445.9" cy="340.4" class="ai"/><circle cx="451.1" cy="355.4" class="al"/><circle cx="507.5" cy="351.8" class="al"/><circle cx="587.1" cy="301.5" class="Y"/><circle cx="484.9" cy="274.4" class="S"/><circle cx="491.2" cy="269.6" class="R"/><circle cx="516.4" cy="352.9" class="al"/><circle cx="511.8" cy="258.3" class="O"/><circle cx="478.9" cy="354.5" class="al"/><circle cx="479.1" cy="279.8" class="T"/><circle cx="496.8" cy="264.6" class="Q"/><circle cx="456.4" cy="315.6" class="ac"/><circle cx="599.9" cy="324.9" class="ae"/><circle cx="569.4" cy="351.1" class="ak"/><circle cx="442.8" cy="355.3" class="al"/><circle cx="533.3" cy="258.0" class="O"/><circle cx="446.6" cy="354.9" class="al"/><circle cx="443.7" cy="354.9" class="al"/><circle cx="451.7" cy="355.4" class="al"/><circle cx="453.6" cy="355.7" class="al"/><circle cx="441.3" cy="356.0" class="al"/><circle cx="503.3" cy="353.5" class="al"/><circle cx="472.6" cy="354.9" class="al"/><circle cx="488.6" cy="354.0" class="al"/><circle cx="483.2" cy="354.0" class="al"/><circle cx="473.8" cy="286.0" class="V"/><circle cx="493.4" cy="354.2" class="al"/><circle cx="442.2" cy="355.8" class="al"/><circle cx="452.3" cy="355.9" class="al"/><circle cx="461.0" cy="355.2" class="al"/><circle cx="573.2" cy="280.1" class="T"/><circle cx="512.8" cy="353.5" class="al"/><circle cx="463.2" cy="300.7" class="Y"/><circle cx="532.2" cy="352.5" class="al"/><circle cx="536.7" cy="351.2" class="ak"/><circle cx="564.0" cy="351.5" class="ak"/><circle cx="474.2" cy="355.3" class="al"/><circle cx="467.2" cy="354.9" class="al"/><circle cx="461.8" cy="355.6" class="al"/><circle cx="593.5" cy="309.3" class="aa"/><circle cx="525.1" cy="255.4" class="N"/><circle cx="463.1" cy="355.5" class="al"/><circle cx="465.5" cy="295.9" class="X"/><circle cx="565.0" cy="271.9" class="R"/><circle cx="441.0" cy="356.7" class="al"/><circle cx="455.6" cy="355.5" class="al"/><circle cx="558.9" cy="351.9" class="ak"/><circle cx="507.9" cy="354.4" class="al"/><circle cx="480.3" cy="354.5" class="al"/><circle cx="484.3" cy="355.3" class="al"/><circle cx="468.6" cy="354.9" class="al"/><circle cx="456.2" cy="356.6" class="al"/><circle cx="527.7" cy="352.6" class="ak"/><circle cx="489.3" cy="354.9" class="al"/><circle cx="454.5" cy="355.9" class="al"/><circle cx="579.4" cy="286.5" class="V"/><circle cx="553.8" cy="352.6" class="ak"/><circle cx="464.7" cy="356.4" class="al"/><circle cx="498.3" cy="353.9" class="al"/><circle cx="469.5" cy="356.1" class="al"/><circle cx="524.0" cy="353.5" class="al"/><circle cx="556.0" cy="263.3" class="P"/><circle cx="474.3" cy="355.9" class="al"/><circle cx="504.0" cy="355.0" class="al"/><circle cx="605.4" cy="350.7" class="ak"/><circle cx="463.2" cy="355.6" class="al"/></g><g fill-opacity="0.41" stroke-opacity="0.41"><circle cx="516.9" cy="252.7" class="M"/><circle cx="443.2" cy="344.2" class="ai"/><circle cx="457.0" cy="355.8" class="al"/><circle cx="548.0" cy="353.0" class="ak"/><circle cx="457.9" cy="357.0" class="al"/><circle cx="599.0" cy="351.5" class="ak"/><circle cx="511.7" cy="252.8" class="M"/><circle cx="587.2" cy="295.2" class="X"/><circle cx="491.6" cy="263.5" class="P"/><circle cx="496.9" cy="258.7" class="O"/><circle cx="448.0" cy="357.6" class="al"/><circle cx="446.6" cy="357.6" class="al"/><circle cx="470.2" cy="356.4" class="al"/><circle cx="458.9" cy="356.1" class="al"/><circle cx="593.0" cy="351.9" class="ak"/><circle cx="543.3" cy="353.8" class="al"/><circle cx="518.6" cy="354.1" class="al"/><circle cx="444.6" cy="357.7" class="al"/><circle cx="475.9" cy="356.6" class="al"/><circle cx="479.9" cy="356.1" class="al"/><circle cx="447.5" cy="357.5" class="al"/><circle cx="494.0" cy="355.0" class="al"/><circle cx="452.4" cy="356.8" class="al"/><circle cx="450.6" cy="357.7" class="al"/><circle cx="465.2" cy="357.1" class="al"/><circle cx="452.8" cy="357.4" class="al"/><circle cx="483.9" cy="356.3" class="al"/><circle cx="606.0" cy="333.8" class="ag"/><circle cx="445.9" cy="357.2" class="al"/><circle cx="609.3" cy="347.6" class="aj"/><circle cx="504.3" cy="255.4" class="N"/><circle cx="448.9" cy="357.1" class="al"/><circle cx="587.6" cy="352.5" class="ak"/><circle cx="459.7" cy="356.3" class="al"/><circle cx="513.6" cy="355.1" class="al"/><circle cx="490.8" cy="355.9" class="al"/><circle cx="485.0" cy="267.2" class="Q"/><circle cx="538.1" cy="354.4" class="al"/><circle cx="459.9" cy="357.4" class="al"/><circle cx="449.3" cy="358.1" class="al"/><circle cx="600.1" cy="317.9" class="ac"/><circle cx="439.2" cy="353.0" class="ak"/><circle cx="466.1" cy="357.4" class="al"/><circle cx="441.2" cy="357.9" class="al"/><circle cx="444.3" cy="358.2" class="al"/><circle cx="532.9" cy="252.2" class="M"/><circle cx="498.7" cy="355.3" class="al"/><circle cx="470.6" cy="357.0" class="al"/><circle cx="443.0" cy="357.9" class="al"/><circle cx="445.6" cy="358.4" class="al"/><circle cx="442.4" cy="358.7" class="al"/><circle cx="573.0" cy="274.2" class="R"/><circle cx="510.0" cy="355.5" class="al"/><circle cx="450.0" cy="357.0" class="al"/><circle cx="564.9" cy="266.3" class="P"/><circle cx="469.9" cy="285.1" class="U"/><circle cx="581.8" cy="352.7" class="ak"/><circle cx="480.7" cy="356.7" class="al"/><circle cx="495.1" cy="356.5" class="al"/><circle cx="440.9" cy="358.4" class="al"/><circle cx="453.6" cy="358.1" class="al"/><circle cx="460.7" cy="357.0" class="al"/><circle cx="534.4" cy="354.7" class="al"/><circle cx="525.0" cy="250.0" class="L"/><circle cx="450.9" cy="358.2" class="al"/><circle cx="479.0" cy="271.5" class="R"/><circle cx="475.8" cy="357.2" class="al"/><circle cx="440.3" cy="358.6" class="al"/><circle cx="444.0" cy="358.6" class="al"/><circle cx="485.2" cy="357.0" class="al"/><circle cx="575.5" cy="353.1" class="ak"/><circle cx="593.5" cy="302.7" class="Y"/><circle cx="440.0" cy="350.6" class="aj"/><circle cx="504.7" cy="356.6" class="al"/><circle cx="569.8" cy="353.8" class="ak"/><circle cx="450.1" cy="320.0" class="ac"/><circle cx="467.7" cy="358.2" class="al"/><circle cx="461.0" cy="358.0" class="al"/><circle cx="466.2" cy="357.4" class="al"/><circle cx="462.0" cy="358.3" class="al"/><circle cx="471.5" cy="357.0" class="al"/><circle cx="490.4" cy="357.4" class="al"/><circle cx="474.0" cy="277.1" class="S"/><circle cx="579.3" cy="280.5" class="T"/><circle cx="527.9" cy="355.0" class="ak"/><circle cx="452.7" cy="358.5" class="al"/><circle cx="564.5" cy="354.3" class="ak"/><circle cx="524.1" cy="356.1" class="al"/><circle cx="555.8" cy="257.9" class="N"/><circle cx="437.9" cy="359.5" class="al"/><circle cx="439.8" cy="359.6" class="al"/><circle cx="517.1" cy="247.6" class="L"/><circle cx="472.6" cy="358.4" class="al"/><circle cx="454.5" cy="358.6" class="al"/><circle cx="504.4" cy="250.3" class="L"/><circle cx="482.2" cy="357.9" class="al"/><circle cx="519.7" cy="356.4" class="al"/><circle cx="511.6" cy="247.5" class="L"/><circle cx="559.6" cy="355.0" class="ak"/><circle cx="475.7" cy="358.4" class="al"/><circle cx="453.5" cy="358.8" class="al"/><circle cx="462.5" cy="359.0" class="al"/><circle cx="440.6" cy="358.6" class="al"/><circle cx="458.9" cy="298.4" class="X"/><circle cx="499.9" cy="356.9" class="al"/><circle cx="455.5" cy="358.7" class="al"/><circle cx="533.2" cy="247.6" class="L"/><circle cx="439.7" cy="359.5" class="al"/><circle cx="587.7" cy="289.6" class="V"/><circle cx="467.5" cy="359.0" class="al"/><circle cx="486.7" cy="357.4" class="al"/><circle cx="491.3" cy="257.0" class="N"/><circle cx="455.0" cy="358.4" class="al"/><circle cx="456.9" cy="359.5" class="al"/><circle cx="525.4" cy="245.5" class="K"/><circle cx="496.9" cy="252.7" class="M"/><circle cx="447.5" cy="359.7" class="al"/><circle cx="554.6" cy="354.7" class="ak"/><circle cx="457.7" cy="359.3" class="al"/><circle cx="549.3" cy="355.6" class="ak"/><circle cx="495.4" cy="357.8" class="al"/><circle cx="462.0" cy="359.3" class="al"/><circle cx="544.0" cy="356.3" class="al"/><circle cx="438.5" cy="360.3" class="al"/><circle cx="455.7" cy="359.5" class="al"/><circle cx="513.3" cy="357.0" class="al"/><circle cx="447.3" cy="323.7" class="ad"/><circle cx="448.6" cy="359.6" class="al"/><circle cx="468.4" cy="359.3" class="al"/><circle cx="438.1" cy="360.5" class="al"/><circle cx="449.4" cy="359.5" class="al"/><circle cx="444.0" cy="360.4" class="al"/><circle cx="437.1" cy="360.4" class="al"/><circle cx="573.2" cy="268.8" class="Q"/><circle cx="606.2" cy="326.5" class="ad"/><circle cx="444.9" cy="360.2" class="al"/><circle cx="565.1" cy="261.3" class="O"/><circle cx="511.1" cy="357.2" class="al"/><circle cx="463.3" cy="288.7" class="U"/><circle cx="476.3" cy="359.0" class="al"/><circle cx="482.4" cy="358.8" class="al"/><circle cx="454.4" cy="306.4" class="Z"/><circle cx="446.8" cy="360.0" class="al"/><circle cx="491.6" cy="358.4" class="al"/><circle cx="457.6" cy="359.9" class="al"/><circle cx="471.9" cy="358.8" class="al"/><circle cx="448.0" cy="360.4" class="al"/><circle cx="485.3" cy="260.7" class="O"/><circle cx="449.6" cy="360.1" class="al"/><circle cx="446.7" cy="360.0" class="al"/><circle cx="449.8" cy="360.3" class="al"/><circle cx="462.9" cy="359.4" class="al"/><circle cx="458.0" cy="360.1" class="al"/><circle cx="436.7" cy="360.5" class="al"/><circle cx="600.2" cy="311.1" class="aa"/><circle cx="446.1" cy="359.7" class="al"/><circle cx="539.5" cy="355.6" class="ak"/><circle cx="445.3" cy="360.0" class="al"/><circle cx="448.2" cy="360.4" class="al"/><circle cx="443.7" cy="360.6" class="al"/><circle cx="445.7" cy="360.5" class="al"/><circle cx="609.6" cy="340.1" class="ah"/><circle cx="444.8" cy="360.8" class="al"/><circle cx="450.7" cy="360.1" class="al"/><circle cx="452.0" cy="360.5" class="al"/><circle cx="533.9" cy="356.7" class="ak"/><circle cx="517.4" cy="243.1" class="J"/><circle cx="505.3" cy="357.6" class="al"/><circle cx="450.3" cy="360.2" class="al"/><circle cx="556.1" cy="253.2" class="M"/><circle cx="529.7" cy="357.4" class="al"/><circle cx="500.9" cy="358.7" class="al"/><circle cx="452.4" cy="360.3" class="al"/><circle cx="472.6" cy="359.5" class="al"/><circle cx="477.6" cy="359.5" class="al"/><circle cx="451.4" cy="359.5" class="al"/><circle cx="593.7" cy="296.5" class="W"/><circle cx="579.5" cy="275.1" class="R"/><circle cx="452.9" cy="360.4" class="al"/><circle cx="443.6" cy="361.0" class="al"/><circle cx="486.0" cy="358.9" class="al"/><circle cx="467.5" cy="360.0" class="al"/><circle cx="436.5" cy="361.2" class="al"/><circle cx="442.3" cy="336.4" class="ag"/><circle cx="458.3" cy="360.5" class="al"/><circle cx="465.5" cy="283.8" class="T"/><circle cx="443.4" cy="361.0" class="al"/><circle cx="463.1" cy="359.6" class="al"/><circle cx="479.1" cy="264.3" class="O"/><circle cx="612.5" cy="354.3" class="ak"/><circle cx="524.4" cy="357.9" class="al"/><circle cx="469.8" cy="276.4" class="R"/><circle cx="504.8" cy="245.4" class="K"/><circle cx="606.9" cy="354.5" class="ak"/><circle cx="599.5" cy="355.1" class="ak"/><circle cx="482.1" cy="359.6" class="al"/><circle cx="511.7" cy="242.6" class="J"/><circle cx="533.3" cy="243.0" class="J"/><circle cx="444.9" cy="327.9" class="ad"/><circle cx="459.4" cy="359.6" class="al"/><circle cx="451.4" cy="360.0" class="al"/><circle cx="443.1" cy="361.2" class="al"/><circle cx="495.4" cy="358.8" class="al"/><circle cx="442.6" cy="361.3" class="al"/><circle cx="473.8" cy="359.9" class="al"/><circle cx="520.6" cy="358.1" class="al"/><circle cx="441.8" cy="361.4" class="al"/><circle cx="594.9" cy="355.0" class="ak"/><circle cx="442.4" cy="361.6" class="al"/><circle cx="463.4" cy="360.4" class="al"/><circle cx="436.5" cy="360.9" class="al"/><circle cx="452.4" cy="360.9" class="al"/><circle cx="440.4" cy="361.6" class="al"/><circle cx="491.8" cy="251.7" class="L"/><circle cx="468.2" cy="360.2" class="al"/><circle cx="454.1" cy="361.3" class="al"/><circle cx="565.8" cy="256.8" class="M"/><circle cx="451.9" cy="308.8" class="Z"/><circle cx="453.0" cy="360.7" class="al"/><circle cx="491.0" cy="359.5" class="al"/><circle cx="458.5" cy="361.1" class="al"/><circle cx="588.6" cy="354.9" class="ak"/><circle cx="587.7" cy="283.7" class="T"/><circle cx="582.0" cy="355.9" class="ak"/><circle cx="511.2" cy="358.6" class="al"/><circle cx="575.7" cy="356.6" class="ak"/><circle cx="441.6" cy="361.9" class="al"/><circle cx="441.8" cy="361.6" class="al"/><circle cx="515.2" cy="357.9" class="ak"/><circle cx="453.1" cy="361.6" class="al"/><circle cx="496.9" cy="247.2" class="K"/><circle cx="459.9" cy="360.8" class="al"/><circle cx="525.0" cy="240.4" class="I"/><circle cx="435.8" cy="361.9" class="al"/><circle cx="463.9" cy="360.4" class="al"/><circle cx="439.6" cy="362.3" class="al"/><circle cx="477.8" cy="360.0" class="al"/><circle cx="573.4" cy="263.7" class="O"/><circle cx="469.4" cy="360.7" class="al"/><circle cx="486.8" cy="359.6" class="al"/><circle cx="454.3" cy="361.8" class="al"/><circle cx="506.2" cy="359.0" class="al"/><circle cx="453.9" cy="361.6" class="al"/><circle cx="460.8" cy="360.8" class="al"/><circle cx="435.1" cy="362.1" class="al"/><circle cx="565.3" cy="357.0" class="ak"/><circle cx="455.1" cy="361.6" class="al"/><circle cx="435.9" cy="360.2" class="al"/><circle cx="500.4" cy="359.9" class="al"/><circle cx="474.1" cy="268.6" class="P"/><circle cx="517.6" cy="238.7" class="I"/><circle cx="482.8" cy="360.5" class="al"/><circle cx="560.3" cy="357.6" class="ak"/><circle cx="464.9" cy="360.7" class="al"/><circle cx="449.8" cy="362.1" class="al"/><circle cx="446.7" cy="361.4" class="al"/><circle cx="472.8" cy="361.1" class="al"/><circle cx="570.9" cy="355.9" class="ak"/><circle cx="440.1" cy="362.5" class="al"/><circle cx="449.3" cy="361.5" class="al"/><circle cx="580.3" cy="270.4" class="P"/><circle cx="556.3" cy="248.6" class="K"/><circle cx="435.3" cy="362.6" class="al"/><circle cx="465.0" cy="361.7" class="al"/><circle cx="441.2" cy="361.8" class="al"/><circle cx="456.4" cy="297.7" class="W"/><circle cx="455.0" cy="362.0" class="al"/><circle cx="497.3" cy="360.1" class="al"/><circle cx="512.0" cy="238.3" class="I"/><circle cx="469.6" cy="361.6" class="al"/><circle cx="549.4" cy="357.7" class="ak"/><circle cx="447.4" cy="361.4" class="al"/><circle cx="446.1" cy="361.5" class="al"/><circle cx="448.0" cy="361.1" class="al"/><circle cx="459.6" cy="361.5" class="al"/><circle cx="478.4" cy="360.9" class="al"/><circle cx="448.5" cy="361.4" class="al"/><circle cx="533.6" cy="238.8" class="I"/><circle cx="544.6" cy="358.4" class="ak"/><circle cx="445.6" cy="361.9" class="al"/><circle cx="440.0" cy="362.7" class="al"/><circle cx="455.9" cy="362.2" class="al"/><circle cx="447.6" cy="362.2" class="al"/><circle cx="448.7" cy="362.1" class="al"/><circle cx="539.5" cy="358.6" class="ak"/><circle cx="492.6" cy="360.5" class="al"/><circle cx="555.4" cy="356.7" class="ak"/><circle cx="447.8" cy="361.6" class="al"/><circle cx="600.6" cy="305.1" class="Y"/><circle cx="446.6" cy="362.1" class="al"/><circle cx="450.2" cy="362.4" class="al"/><circle cx="447.3" cy="362.6" class="al"/><circle cx="448.6" cy="362.2" class="al"/><circle cx="594.3" cy="291.0" class="U"/><circle cx="606.3" cy="319.6" class="ab"/><circle cx="435.8" cy="363.2" class="al"/><circle cx="446.0" cy="362.8" class="al"/><circle cx="441.5" cy="332.5" class="ae"/><circle cx="444.5" cy="362.4" class="al"/><circle cx="487.6" cy="361.0" class="al"/><circle cx="460.0" cy="361.9" class="al"/><circle cx="473.8" cy="361.4" class="al"/><circle cx="485.1" cy="254.0" class="L"/><circle cx="439.7" cy="362.6" class="al"/><circle cx="446.2" cy="362.3" class="al"/><circle cx="448.1" cy="362.4" class="al"/><circle cx="444.4" cy="362.6" class="al"/><circle cx="524.6" cy="359.6" class="al"/><circle cx="465.3" cy="361.8" class="al"/><circle cx="504.4" cy="240.2" class="I"/><circle cx="533.7" cy="358.7" class="ak"/><circle cx="454.6" cy="361.6" class="al"/><circle cx="455.5" cy="362.8" class="al"/><circle cx="528.4" cy="359.0" class="ak"/><circle cx="445.0" cy="362.5" class="al"/><circle cx="448.9" cy="362.5" class="al"/><circle cx="456.8" cy="362.4" class="al"/><circle cx="610.0" cy="333.1" class="ae"/><circle cx="520.3" cy="359.8" class="al"/><circle cx="439.3" cy="362.9" class="al"/><circle cx="449.7" cy="361.3" class="al"/><circle cx="446.0" cy="363.1" class="al"/><circle cx="433.6" cy="362.6" class="al"/><circle cx="514.3" cy="360.5" class="al"/><circle cx="478.6" cy="361.7" class="al"/><circle cx="449.0" cy="362.9" class="al"/><circle cx="460.2" cy="362.1" class="al"/><circle cx="450.5" cy="362.6" class="al"/><circle cx="445.7" cy="362.7" class="al"/><circle cx="439.0" cy="341.2" class="ag"/><circle cx="451.3" cy="362.7" class="al"/><circle cx="470.2" cy="361.4" class="al"/><circle cx="482.9" cy="361.1" class="al"/><circle cx="445.5" cy="362.8" class="al"/><circle cx="450.7" cy="362.5" class="al"/><circle cx="434.5" cy="363.8" class="al"/><circle cx="451.4" cy="363.1" class="al"/><circle cx="443.8" cy="323.5" class="ac"/><circle cx="443.4" cy="363.3" class="al"/><circle cx="440.1" cy="363.1" class="al"/><circle cx="565.7" cy="251.9" class="L"/><circle cx="450.7" cy="362.8" class="al"/><circle cx="444.9" cy="363.2" class="al"/><circle cx="525.3" cy="236.2" class="H"/><circle cx="510.2" cy="360.2" class="al"/><circle cx="464.8" cy="362.6" class="al"/><circle cx="443.8" cy="363.2" class="al"/><circle cx="491.7" cy="246.1" class="J"/><circle cx="444.6" cy="362.9" class="al"/><circle cx="449.8" cy="363.0" class="al"/><circle cx="444.8" cy="363.5" class="al"/><circle cx="451.3" cy="362.9" class="al"/><circle cx="479.0" cy="257.3" class="M"/><circle cx="505.8" cy="360.4" class="al"/><circle cx="474.2" cy="361.6" class="al"/><circle cx="443.0" cy="363.5" class="al"/><circle cx="573.5" cy="258.8" class="M"/><circle cx="439.4" cy="363.1" class="al"/><circle cx="443.4" cy="363.6" class="al"/><circle cx="455.3" cy="362.8" class="al"/><circle cx="496.9" cy="242.0" class="I"/><circle cx="451.9" cy="362.5" class="al"/><circle cx="460.0" cy="362.2" class="al"/><circle cx="495.9" cy="361.4" class="al"/></g><g fill-opacity="0.43" stroke-opacity="0.43"><circle cx="587.7" cy="278.0" class="R"/><circle cx="465.8" cy="275.2" class="Q"/><circle cx="444.6" cy="363.2" class="al"/><circle cx="438.6" cy="363.0" class="al"/><circle cx="491.9" cy="362.0" class="al"/><circle cx="455.7" cy="363.0" class="al"/><circle cx="612.5" cy="346.2" class="ah"/><circle cx="434.7" cy="364.2" class="al"/><circle cx="469.7" cy="362.3" class="al"/><circle cx="501.9" cy="360.5" class="al"/><circle cx="488.2" cy="362.1" class="al"/><circle cx="460.5" cy="363.2" class="al"/><circle cx="483.1" cy="362.5" class="al"/><circle cx="451.8" cy="363.5" class="al"/><circle cx="451.2" cy="363.1" class="al"/><circle cx="459.1" cy="285.7" class="T"/><circle cx="439.3" cy="363.4" class="al"/><circle cx="464.5" cy="363.2" class="al"/><circle cx="469.7" cy="268.0" class="O"/><circle cx="511.9" cy="233.8" class="G"/><circle cx="451.0" cy="363.5" class="al"/><circle cx="448.5" cy="309.3" class="Y"/><circle cx="556.0" cy="243.7" class="J"/><circle cx="443.3" cy="363.5" class="al"/><circle cx="455.7" cy="362.9" class="al"/><circle cx="443.2" cy="363.9" class="al"/><circle cx="517.2" cy="233.8" class="G"/><circle cx="478.9" cy="362.1" class="al"/><circle cx="452.4" cy="363.5" class="al"/><circle cx="447.0" cy="363.7" class="al"/><circle cx="460.4" cy="363.4" class="al"/><circle cx="438.6" cy="363.7" class="al"/><circle cx="580.3" cy="265.2" class="O"/><circle cx="463.4" cy="277.8" class="R"/><circle cx="474.0" cy="261.7" class="N"/><circle cx="434.4" cy="363.4" class="al"/><circle cx="455.6" cy="363.3" class="al"/><circle cx="533.5" cy="234.3" class="G"/><circle cx="465.6" cy="363.2" class="al"/><circle cx="451.7" cy="363.6" class="al"/><circle cx="451.7" cy="364.2" class="al"/><circle cx="504.7" cy="235.9" class="H"/><circle cx="469.2" cy="363.1" class="al"/><circle cx="457.1" cy="363.5" class="al"/><circle cx="435.3" cy="364.6" class="al"/><circle cx="474.9" cy="362.0" class="al"/><circle cx="461.1" cy="363.5" class="al"/><circle cx="438.5" cy="364.6" class="al"/><circle cx="443.6" cy="363.3" class="al"/><circle cx="443.2" cy="364.4" class="al"/><circle cx="456.9" cy="364.0" class="al"/><circle cx="451.9" cy="363.5" class="al"/><circle cx="438.7" cy="363.6" class="al"/><circle cx="448.2" cy="363.9" class="al"/><circle cx="525.6" cy="232.2" class="G"/><circle cx="452.7" cy="364.1" class="al"/><circle cx="438.4" cy="364.8" class="al"/><circle cx="451.3" cy="364.1" class="al"/><circle cx="444.1" cy="364.1" class="al"/><circle cx="594.5" cy="285.4" class="S"/><circle cx="461.6" cy="364.1" class="al"/><circle cx="443.9" cy="363.6" class="al"/><circle cx="434.0" cy="364.6" class="al"/><circle cx="448.1" cy="363.7" class="al"/><circle cx="446.8" cy="364.3" class="al"/><circle cx="485.2" cy="248.2" class="K"/><circle cx="469.6" cy="363.8" class="al"/><circle cx="479.2" cy="363.1" class="al"/><circle cx="487.5" cy="363.0" class="al"/><circle cx="506.1" cy="362.3" class="al"/><circle cx="455.7" cy="363.9" class="al"/><circle cx="444.5" cy="364.7" class="al"/><circle cx="447.8" cy="363.7" class="al"/><circle cx="566.0" cy="247.4" class="J"/><circle cx="519.8" cy="362.0" class="al"/><circle cx="491.9" cy="362.9" class="al"/><circle cx="439.0" cy="365.0" class="al"/><circle cx="448.0" cy="363.9" class="al"/><circle cx="446.4" cy="363.9" class="al"/><circle cx="465.0" cy="363.5" class="al"/><circle cx="600.6" cy="298.8" class="W"/><circle cx="474.4" cy="363.0" class="al"/><circle cx="517.5" cy="230.0" class="F"/><circle cx="511.4" cy="362.0" class="al"/><circle cx="496.4" cy="362.4" class="al"/><circle cx="451.3" cy="364.2" class="al"/><circle cx="447.7" cy="363.8" class="al"/><circle cx="529.7" cy="361.5" class="al"/><circle cx="452.8" cy="363.5" class="al"/><circle cx="457.4" cy="364.4" class="al"/><circle cx="447.7" cy="363.9" class="al"/><circle cx="606.3" cy="312.9" class="Z"/><circle cx="447.8" cy="364.0" class="al"/><circle cx="501.2" cy="362.2" class="al"/><circle cx="566.7" cy="360.2" class="ak"/><circle cx="574.1" cy="254.4" class="L"/><circle cx="561.0" cy="360.4" class="ak"/><circle cx="447.2" cy="363.7" class="al"/><circle cx="541.1" cy="361.3" class="ak"/><circle cx="447.8" cy="363.5" class="al"/><circle cx="443.3" cy="365.2" class="al"/><circle cx="443.8" cy="364.7" class="al"/><circle cx="447.3" cy="364.8" class="al"/><circle cx="447.9" cy="364.6" class="al"/><circle cx="554.4" cy="360.6" class="ak"/><circle cx="607.2" cy="358.3" class="ak"/><circle cx="524.8" cy="361.3" class="ak"/><circle cx="582.5" cy="359.2" class="ak"/><circle cx="447.8" cy="364.5" class="al"/><circle cx="447.2" cy="364.9" class="al"/><circle cx="456.8" cy="364.6" class="al"/><circle cx="433.6" cy="365.2" class="al"/><circle cx="483.0" cy="362.1" class="al"/><circle cx="600.7" cy="358.8" class="ak"/><circle cx="465.6" cy="364.5" class="al"/><circle cx="577.1" cy="359.6" class="ak"/><circle cx="515.4" cy="361.3" class="ak"/><circle cx="447.7" cy="364.4" class="al"/><circle cx="550.1" cy="360.4" class="ak"/><circle cx="443.5" cy="364.3" class="al"/><circle cx="447.2" cy="364.3" class="al"/><circle cx="544.4" cy="360.2" class="ak"/><circle cx="556.5" cy="239.7" class="H"/><circle cx="588.3" cy="273.2" class="P"/><circle cx="461.0" cy="363.9" class="al"/><circle cx="533.9" cy="230.6" class="F"/><circle cx="451.2" cy="364.2" class="al"/><circle cx="433.9" cy="365.8" class="al"/><circle cx="447.6" cy="365.1" class="al"/><circle cx="534.3" cy="360.6" class="ak"/><circle cx="446.9" cy="365.1" class="al"/><circle cx="456.2" cy="365.0" class="al"/><circle cx="595.1" cy="359.0" class="ak"/><circle cx="571.3" cy="359.2" class="ak"/><circle cx="443.4" cy="365.1" class="al"/><circle cx="610.3" cy="326.2" class="ac"/><circle cx="496.8" cy="237.1" class="H"/><circle cx="588.4" cy="358.9" class="ak"/><circle cx="460.8" cy="364.4" class="al"/><circle cx="443.6" cy="365.1" class="al"/><circle cx="612.9" cy="357.6" class="aj"/><circle cx="469.9" cy="364.0" class="al"/><circle cx="451.5" cy="365.2" class="al"/><circle cx="452.0" cy="364.2" class="al"/><circle cx="454.3" cy="291.3" class="U"/><circle cx="443.6" cy="365.2" class="al"/><circle cx="491.5" cy="240.7" class="I"/><circle cx="439.6" cy="365.5" class="al"/><circle cx="474.8" cy="364.0" class="al"/><circle cx="439.3" cy="365.1" class="al"/><circle cx="452.4" cy="364.5" class="al"/><circle cx="444.1" cy="365.3" class="al"/><circle cx="456.5" cy="286.8" class="T"/><circle cx="450.7" cy="365.2" class="al"/><circle cx="446.0" cy="312.0" class="Z"/><circle cx="452.5" cy="364.5" class="al"/><circle cx="504.7" cy="231.6" class="F"/><circle cx="451.7" cy="365.5" class="al"/><circle cx="456.7" cy="365.3" class="al"/><circle cx="438.3" cy="363.9" class="al"/><circle cx="512.0" cy="229.5" class="F"/><circle cx="438.5" cy="336.0" class="ae"/><circle cx="451.0" cy="364.6" class="al"/><circle cx="488.0" cy="364.1" class="al"/><circle cx="470.2" cy="364.7" class="al"/><circle cx="443.7" cy="365.7" class="al"/><circle cx="444.3" cy="365.6" class="al"/><circle cx="465.0" cy="364.1" class="al"/><circle cx="479.2" cy="251.1" class="K"/><circle cx="479.1" cy="363.6" class="al"/><circle cx="450.1" cy="300.2" class="W"/><circle cx="483.9" cy="363.2" class="al"/><circle cx="451.1" cy="365.7" class="al"/><circle cx="474.1" cy="364.8" class="al"/><circle cx="455.3" cy="364.7" class="al"/><circle cx="438.1" cy="336.1" class="ae"/><circle cx="443.4" cy="366.1" class="al"/><circle cx="461.7" cy="364.9" class="al"/><circle cx="492.1" cy="364.0" class="al"/><circle cx="450.6" cy="365.5" class="al"/><circle cx="580.1" cy="260.0" class="M"/><circle cx="435.2" cy="366.4" class="al"/><circle cx="433.8" cy="365.8" class="al"/><circle cx="438.8" cy="365.5" class="al"/><circle cx="450.5" cy="365.5" class="al"/><circle cx="449.8" cy="365.3" class="al"/><circle cx="451.0" cy="365.5" class="al"/><circle cx="525.4" cy="228.0" class="E"/><circle cx="460.0" cy="365.3" class="al"/><circle cx="497.0" cy="363.6" class="al"/><circle cx="444.3" cy="365.4" class="al"/><circle cx="478.3" cy="364.7" class="al"/><circle cx="438.2" cy="366.5" class="al"/><circle cx="501.4" cy="363.6" class="al"/><circle cx="445.3" cy="366.2" class="al"/><circle cx="444.4" cy="365.7" class="al"/><circle cx="450.1" cy="366.0" class="al"/><circle cx="439.8" cy="366.3" class="al"/><circle cx="456.2" cy="365.4" class="al"/><circle cx="444.2" cy="365.9" class="al"/><circle cx="445.7" cy="365.4" class="al"/><circle cx="456.0" cy="365.6" class="al"/><circle cx="450.6" cy="366.1" class="al"/><circle cx="612.8" cy="338.9" class="af"/><circle cx="485.4" cy="243.2" class="I"/><circle cx="465.0" cy="364.9" class="al"/><circle cx="451.6" cy="366.2" class="al"/><circle cx="506.4" cy="363.5" class="al"/><circle cx="445.5" cy="366.5" class="al"/><circle cx="434.6" cy="366.8" class="al"/><circle cx="443.7" cy="365.9" class="al"/><circle cx="449.0" cy="366.2" class="al"/><circle cx="511.0" cy="363.9" class="al"/><circle cx="435.1" cy="367.0" class="al"/><circle cx="448.7" cy="366.3" class="al"/><circle cx="445.7" cy="366.3" class="al"/><circle cx="448.8" cy="365.4" class="al"/><circle cx="464.5" cy="365.8" class="al"/><circle cx="439.8" cy="366.5" class="al"/><circle cx="565.8" cy="242.8" class="I"/><circle cx="459.7" cy="366.0" class="al"/><circle cx="474.1" cy="254.9" class="L"/><circle cx="454.8" cy="366.0" class="al"/><circle cx="446.0" cy="366.3" class="al"/><circle cx="459.9" cy="365.5" class="al"/><circle cx="594.7" cy="280.0" class="R"/><circle cx="446.1" cy="366.4" class="al"/><circle cx="444.1" cy="366.6" class="al"/><circle cx="489.0" cy="364.8" class="al"/><circle cx="440.2" cy="366.8" class="al"/><circle cx="469.4" cy="365.5" class="al"/><circle cx="447.6" cy="366.4" class="al"/><circle cx="497.2" cy="233.0" class="G"/><circle cx="456.1" cy="366.1" class="al"/><circle cx="515.2" cy="363.0" class="ak"/><circle cx="573.9" cy="249.6" class="J"/><circle cx="491.9" cy="364.9" class="al"/><circle cx="483.9" cy="363.6" class="al"/><circle cx="450.2" cy="366.4" class="al"/><circle cx="533.9" cy="226.5" class="E"/><circle cx="444.3" cy="366.1" class="al"/><circle cx="446.3" cy="366.2" class="al"/><circle cx="448.1" cy="366.4" class="al"/><circle cx="520.1" cy="363.3" class="ak"/><circle cx="473.7" cy="365.3" class="al"/><circle cx="517.3" cy="225.7" class="E"/><circle cx="450.5" cy="366.6" class="al"/><circle cx="449.4" cy="366.1" class="al"/><circle cx="445.9" cy="366.4" class="al"/><circle cx="556.4" cy="235.4" class="G"/><circle cx="446.6" cy="366.5" class="al"/><circle cx="601.0" cy="293.1" class="U"/><circle cx="497.2" cy="364.9" class="al"/><circle cx="455.2" cy="366.5" class="al"/><circle cx="448.6" cy="366.5" class="al"/><circle cx="465.6" cy="265.9" class="N"/><circle cx="450.2" cy="365.8" class="al"/><circle cx="448.0" cy="366.8" class="al"/><circle cx="459.9" cy="366.4" class="al"/><circle cx="455.2" cy="366.2" class="al"/><circle cx="615.6" cy="353.1" class="ai"/><circle cx="525.5" cy="363.0" class="ak"/><circle cx="439.7" cy="366.8" class="al"/><circle cx="447.2" cy="366.6" class="al"/><circle cx="440.1" cy="367.3" class="al"/><circle cx="450.1" cy="366.8" class="al"/><circle cx="530.3" cy="363.0" class="ak"/><circle cx="469.4" cy="365.4" class="al"/><circle cx="511.6" cy="225.2" class="E"/><circle cx="606.8" cy="307.0" class="X"/><circle cx="504.8" cy="227.5" class="E"/><circle cx="446.8" cy="366.3" class="al"/><circle cx="539.0" cy="363.2" class="ak"/><circle cx="588.2" cy="267.8" class="O"/><circle cx="448.7" cy="366.3" class="al"/><circle cx="451.8" cy="292.5" class="U"/><circle cx="465.1" cy="366.0" class="al"/><circle cx="501.1" cy="364.7" class="al"/><circle cx="491.7" cy="235.9" class="G"/><circle cx="440.3" cy="367.5" class="al"/><circle cx="469.9" cy="259.5" class="M"/><circle cx="506.3" cy="364.8" class="al"/><circle cx="440.9" cy="367.5" class="al"/><circle cx="434.2" cy="367.4" class="al"/><circle cx="478.6" cy="365.5" class="al"/><circle cx="440.5" cy="322.7" class="ab"/><circle cx="435.9" cy="367.1" class="al"/><circle cx="463.4" cy="268.4" class="O"/><circle cx="446.4" cy="367.2" class="al"/><circle cx="535.9" cy="362.7" class="ak"/><circle cx="525.6" cy="224.1" class="D"/><circle cx="479.3" cy="245.7" class="I"/><circle cx="545.3" cy="362.6" class="ak"/><circle cx="454.3" cy="367.0" class="al"/><circle cx="460.3" cy="366.4" class="al"/><circle cx="455.5" cy="367.2" class="al"/><circle cx="430.9" cy="367.6" class="al"/><circle cx="580.3" cy="255.4" class="L"/><circle cx="465.3" cy="366.5" class="al"/><circle cx="550.2" cy="363.3" class="ak"/><circle cx="454.9" cy="366.4" class="al"/><circle cx="483.3" cy="366.0" class="al"/><circle cx="435.9" cy="367.6" class="al"/><circle cx="610.9" cy="319.9" class="aa"/><circle cx="473.3" cy="365.6" class="al"/><circle cx="468.9" cy="366.6" class="al"/><circle cx="441.6" cy="367.5" class="al"/><circle cx="517.6" cy="222.1" class="D"/><circle cx="511.0" cy="364.4" class="al"/><circle cx="440.7" cy="367.8" class="al"/><circle cx="464.1" cy="366.9" class="al"/><circle cx="566.4" cy="239.0" class="H"/><circle cx="485.5" cy="238.5" class="H"/><circle cx="560.6" cy="363.1" class="ak"/><circle cx="514.8" cy="364.7" class="al"/><circle cx="555.2" cy="362.6" class="ak"/><circle cx="430.7" cy="368.4" class="al"/><circle cx="441.5" cy="367.9" class="al"/><circle cx="442.3" cy="367.9" class="al"/><circle cx="460.4" cy="366.8" class="al"/><circle cx="478.5" cy="366.6" class="al"/><circle cx="435.8" cy="368.2" class="al"/><circle cx="487.8" cy="366.4" class="al"/><circle cx="453.8" cy="367.3" class="al"/><circle cx="497.2" cy="228.7" class="E"/><circle cx="574.4" cy="245.5" class="I"/><circle cx="453.2" cy="367.7" class="al"/><circle cx="521.5" cy="364.6" class="ak"/><circle cx="566.2" cy="362.4" class="ak"/><circle cx="556.8" cy="231.6" class="F"/><circle cx="458.9" cy="367.3" class="al"/><circle cx="454.5" cy="366.4" class="al"/><circle cx="454.0" cy="367.9" class="al"/><circle cx="431.5" cy="368.8" class="al"/><circle cx="442.1" cy="368.4" class="al"/><circle cx="459.1" cy="273.9" class="P"/><circle cx="571.4" cy="362.1" class="ak"/><circle cx="533.7" cy="222.5" class="D"/><circle cx="582.2" cy="362.9" class="ak"/><circle cx="460.1" cy="367.5" class="al"/><circle cx="441.1" cy="320.1" class="aa"/><circle cx="436.2" cy="368.5" class="al"/><circle cx="511.9" cy="221.6" class="C"/><circle cx="469.4" cy="366.9" class="al"/><circle cx="444.5" cy="368.0" class="al"/><circle cx="442.7" cy="367.9" class="al"/><circle cx="442.8" cy="368.5" class="al"/><circle cx="525.8" cy="220.6" class="C"/><circle cx="464.3" cy="367.7" class="al"/><circle cx="443.7" cy="368.5" class="al"/><circle cx="492.0" cy="366.3" class="al"/><circle cx="452.9" cy="368.0" class="al"/><circle cx="447.4" cy="300.2" class="V"/><circle cx="577.6" cy="362.1" class="ak"/><circle cx="525.3" cy="364.0" class="ak"/><circle cx="474.5" cy="367.1" class="al"/><circle cx="530.1" cy="365.0" class="ak"/><circle cx="444.0" cy="368.2" class="al"/><circle cx="482.0" cy="366.3" class="al"/><circle cx="452.4" cy="367.7" class="al"/><circle cx="594.7" cy="274.6" class="P"/><circle cx="534.4" cy="365.0" class="ak"/><circle cx="474.4" cy="249.0" class="J"/><circle cx="589.4" cy="362.4" class="ak"/><circle cx="594.4" cy="362.7" class="ak"/><circle cx="613.3" cy="332.2" class="ad"/><circle cx="457.6" cy="368.1" class="al"/><circle cx="504.7" cy="223.3" class="D"/><circle cx="464.3" cy="368.0" class="al"/><circle cx="436.3" cy="368.9" class="al"/><circle cx="601.2" cy="287.5" class="S"/><circle cx="458.8" cy="368.0" class="al"/><circle cx="496.5" cy="366.6" class="al"/><circle cx="468.6" cy="367.5" class="al"/><circle cx="444.4" cy="368.8" class="al"/><circle cx="437.5" cy="368.8" class="al"/><circle cx="450.5" cy="368.3" class="al"/><circle cx="588.4" cy="262.9" class="M"/><circle cx="448.6" cy="368.0" class="al"/><circle cx="491.6" cy="231.3" class="F"/><circle cx="451.4" cy="368.6" class="al"/><circle cx="431.0" cy="369.1" class="al"/><circle cx="452.6" cy="368.1" class="al"/><circle cx="601.3" cy="362.7" class="ak"/><circle cx="445.8" cy="368.9" class="al"/><circle cx="478.4" cy="367.4" class="al"/><circle cx="607.8" cy="301.7" class="V"/><circle cx="446.5" cy="368.9" class="al"/><circle cx="487.4" cy="367.2" class="al"/><circle cx="432.5" cy="369.2" class="al"/><circle cx="437.7" cy="369.0" class="al"/><circle cx="470.0" cy="253.5" class="K"/><circle cx="437.9" cy="329.2" class="ac"/><circle cx="606.9" cy="362.6" class="ak"/><circle cx="539.8" cy="364.6" class="ak"/><circle cx="473.4" cy="366.8" class="al"/><circle cx="580.5" cy="250.8" class="J"/><circle cx="443.2" cy="311.0" class="X"/><circle cx="450.1" cy="368.2" class="al"/><circle cx="501.0" cy="366.5" class="al"/><circle cx="517.6" cy="218.4" class="C"/><circle cx="448.2" cy="368.8" class="al"/><circle cx="534.2" cy="219.2" class="C"/><circle cx="451.4" cy="368.1" class="al"/><circle cx="545.5" cy="365.0" class="ak"/><circle cx="447.4" cy="368.8" class="al"/><circle cx="447.8" cy="368.9" class="al"/><circle cx="449.7" cy="368.5" class="al"/><circle cx="444.7" cy="369.0" class="al"/><circle cx="481.6" cy="367.9" class="al"/><circle cx="614.1" cy="362.4" class="ak"/><circle cx="465.8" cy="258.6" class="L"/><circle cx="447.0" cy="369.2" class="al"/><circle cx="452.5" cy="368.5" class="al"/><circle cx="566.1" cy="234.6" class="F"/><circle cx="438.1" cy="369.0" class="al"/><circle cx="469.2" cy="368.1" class="al"/><circle cx="512.3" cy="218.2" class="B"/><circle cx="449.4" cy="368.9" class="al"/><circle cx="490.9" cy="367.0" class="al"/><circle cx="550.1" cy="364.4" class="ak"/><circle cx="449.7" cy="368.9" class="al"/><circle cx="464.3" cy="368.7" class="al"/><circle cx="556.9" cy="227.7" class="E"/><circle cx="458.4" cy="368.1" class="al"/><circle cx="491.9" cy="227.7" class="E"/><circle cx="463.6" cy="368.9" class="al"/><circle cx="574.7" cy="241.3" class="H"/><circle cx="505.1" cy="366.6" class="al"/><circle cx="505.0" cy="219.9" class="C"/><circle cx="479.2" cy="239.9" class="H"/><circle cx="446.1" cy="369.2" class="al"/><circle cx="473.6" cy="368.6" class="al"/><circle cx="445.0" cy="369.1" class="al"/><circle cx="477.8" cy="367.6" class="al"/><circle cx="497.2" cy="224.5" class="D"/><circle cx="458.4" cy="368.7" class="al"/><circle cx="525.8" cy="217.0" class="B"/><circle cx="431.8" cy="369.6" class="al"/><circle cx="455.7" cy="369.3" class="al"/><circle cx="468.4" cy="368.8" class="al"/><circle cx="457.1" cy="369.2" class="al"/><circle cx="485.5" cy="233.5" class="F"/><circle cx="615.6" cy="345.5" class="ag"/><circle cx="556.0" cy="364.6" class="ak"/><circle cx="611.1" cy="313.5" class="Y"/><circle cx="444.9" cy="302.9" class="V"/><circle cx="433.2" cy="369.6" class="al"/></g><g fill-opacity="0.46" stroke-opacity="0.46"><circle cx="437.6" cy="370.2" class="al"/><circle cx="510.8" cy="366.8" class="al"/><circle cx="462.5" cy="369.0" class="al"/><circle cx="566.0" cy="365.2" class="ak"/><circle cx="560.4" cy="364.6" class="ak"/><circle cx="434.3" cy="370.4" class="al"/><circle cx="438.7" cy="369.9" class="al"/><circle cx="595.2" cy="269.8" class="N"/><circle cx="461.1" cy="368.5" class="al"/><circle cx="571.9" cy="365.1" class="ak"/><circle cx="457.1" cy="369.0" class="al"/><circle cx="496.5" cy="366.6" class="ak"/><circle cx="454.4" cy="278.0" class="P"/><circle cx="472.4" cy="368.9" class="al"/><circle cx="486.4" cy="367.9" class="al"/><circle cx="515.5" cy="367.2" class="al"/><circle cx="482.0" cy="368.7" class="al"/><circle cx="477.1" cy="369.1" class="al"/><circle cx="467.3" cy="369.0" class="al"/><circle cx="440.3" cy="370.5" class="al"/><circle cx="439.0" cy="370.5" class="al"/><circle cx="455.6" cy="369.4" class="al"/><circle cx="588.6" cy="258.3" class="L"/><circle cx="456.5" cy="273.8" class="O"/><circle cx="617.5" cy="359.1" class="aj"/><circle cx="601.5" cy="282.2" class="Q"/><circle cx="577.6" cy="365.3" class="ak"/><circle cx="439.6" cy="370.7" class="al"/><circle cx="437.5" cy="326.2" class="ab"/><circle cx="466.8" cy="369.4" class="al"/><circle cx="463.5" cy="259.8" class="L"/><circle cx="441.9" cy="370.7" class="al"/><circle cx="517.5" cy="214.7" class="A"/><circle cx="497.6" cy="221.1" class="C"/><circle cx="566.6" cy="230.9" class="E"/><circle cx="474.3" cy="243.1" class="H"/><circle cx="519.7" cy="367.6" class="al"/><circle cx="580.6" cy="246.4" class="I"/><circle cx="448.7" cy="290.4" class="S"/><circle cx="512.3" cy="214.6" class="A"/><circle cx="454.6" cy="370.2" class="al"/><circle cx="461.6" cy="369.9" class="al"/><circle cx="534.1" cy="215.6" class="A"/><circle cx="491.0" cy="368.6" class="al"/><circle cx="440.8" cy="371.0" class="al"/><circle cx="505.4" cy="368.1" class="al"/><circle cx="500.6" cy="366.4" class="ak"/><circle cx="455.5" cy="370.2" class="al"/><circle cx="459.0" cy="265.4" class="M"/><circle cx="479.4" cy="235.5" class="F"/><circle cx="475.9" cy="369.7" class="al"/><circle cx="436.9" cy="326.4" class="ab"/><circle cx="556.7" cy="223.7" class="C"/><circle cx="485.8" cy="368.5" class="al"/><circle cx="525.8" cy="213.5" class="A"/><circle cx="434.7" cy="371.0" class="al"/><circle cx="574.7" cy="237.1" class="G"/><circle cx="453.9" cy="369.3" class="al"/><circle cx="583.4" cy="364.8" class="ak"/><circle cx="450.5" cy="370.7" class="al"/><circle cx="433.4" cy="369.9" class="al"/><circle cx="435.7" cy="371.0" class="al"/><circle cx="613.6" cy="325.6" class="aa"/><circle cx="453.1" cy="370.2" class="al"/><circle cx="439.9" cy="314.6" class="Y"/><circle cx="588.3" cy="365.4" class="ak"/><circle cx="451.6" cy="370.8" class="al"/><circle cx="472.6" cy="369.0" class="al"/><circle cx="485.5" cy="229.1" class="E"/><circle cx="504.7" cy="215.9" class="A"/><circle cx="482.2" cy="369.8" class="al"/><circle cx="607.3" cy="295.3" class="T"/><circle cx="444.1" cy="370.9" class="al"/><circle cx="525.1" cy="367.2" class="ak"/><circle cx="470.1" cy="247.1" class="I"/><circle cx="453.4" cy="370.8" class="al"/><circle cx="495.3" cy="369.0" class="al"/><circle cx="429.3" cy="370.9" class="al"/><circle cx="442.7" cy="371.2" class="al"/><circle cx="459.5" cy="370.6" class="al"/><circle cx="450.5" cy="370.9" class="al"/><circle cx="449.8" cy="371.2" class="al"/><circle cx="594.8" cy="365.0" class="ak"/><circle cx="467.0" cy="370.5" class="al"/><circle cx="460.0" cy="370.3" class="al"/><circle cx="444.7" cy="370.8" class="al"/><circle cx="443.5" cy="370.2" class="al"/><circle cx="517.9" cy="211.7" class="z"/><circle cx="462.1" cy="370.8" class="al"/><circle cx="470.8" cy="370.2" class="al"/><circle cx="449.3" cy="371.2" class="al"/><circle cx="441.9" cy="370.1" class="al"/><circle cx="510.7" cy="368.6" class="al"/><circle cx="491.8" cy="223.3" class="C"/><circle cx="452.7" cy="371.0" class="al"/><circle cx="465.5" cy="370.5" class="al"/><circle cx="530.2" cy="367.7" class="ak"/><circle cx="431.6" cy="353.6" class="ah"/><circle cx="437.2" cy="371.2" class="al"/><circle cx="491.4" cy="369.8" class="al"/><circle cx="451.8" cy="279.2" class="P"/><circle cx="445.8" cy="371.4" class="al"/><circle cx="446.7" cy="370.6" class="al"/><circle cx="470.9" cy="370.7" class="al"/><circle cx="534.1" cy="212.1" class="z"/><circle cx="445.2" cy="371.6" class="al"/><circle cx="435.8" cy="371.8" class="al"/><circle cx="447.3" cy="371.3" class="al"/><circle cx="430.1" cy="371.7" class="al"/><circle cx="448.4" cy="371.2" class="al"/><circle cx="601.3" cy="364.8" class="ak"/><circle cx="476.0" cy="370.2" class="al"/><circle cx="442.4" cy="305.2" class="V"/><circle cx="595.1" cy="264.7" class="M"/><circle cx="465.8" cy="251.4" class="J"/><circle cx="542.2" cy="213.9" class="A"/><circle cx="499.6" cy="369.5" class="al"/><circle cx="557.4" cy="220.5" class="B"/><circle cx="607.6" cy="365.3" class="ak"/><circle cx="447.9" cy="370.3" class="al"/><circle cx="512.2" cy="211.1" class="z"/><circle cx="480.2" cy="369.8" class="al"/><circle cx="450.0" cy="283.0" class="Q"/><circle cx="580.9" cy="242.2" class="H"/><circle cx="566.4" cy="226.8" class="D"/><circle cx="616.2" cy="338.8" class="ad"/><circle cx="526.1" cy="210.3" class="z"/><circle cx="611.1" cy="307.2" class="W"/><circle cx="588.8" cy="253.8" class="J"/><circle cx="457.7" cy="370.6" class="al"/><circle cx="515.6" cy="368.4" class="ak"/><circle cx="486.5" cy="370.1" class="al"/><circle cx="535.6" cy="367.4" class="ak"/><circle cx="437.2" cy="371.7" class="al"/><circle cx="497.2" cy="216.9" class="A"/><circle cx="469.2" cy="370.8" class="al"/><circle cx="505.0" cy="212.7" class="z"/><circle cx="495.3" cy="370.2" class="al"/><circle cx="614.4" cy="365.1" class="ak"/><circle cx="518.1" cy="208.5" class="y"/><circle cx="465.3" cy="371.2" class="al"/><circle cx="429.9" cy="372.5" class="al"/><circle cx="459.4" cy="370.7" class="al"/><circle cx="574.6" cy="233.0" class="E"/><circle cx="437.7" cy="372.4" class="al"/><circle cx="601.4" cy="276.8" class="P"/><circle cx="539.3" cy="367.3" class="ak"/><circle cx="431.7" cy="349.1" class="ag"/><circle cx="457.7" cy="372.1" class="al"/><circle cx="520.2" cy="369.0" class="ak"/><circle cx="475.0" cy="371.0" class="al"/><circle cx="491.9" cy="219.6" class="B"/><circle cx="464.6" cy="371.7" class="al"/><circle cx="512.6" cy="208.2" class="y"/><circle cx="485.4" cy="224.9" class="C"/><circle cx="474.1" cy="237.5" class="F"/><circle cx="463.2" cy="252.9" class="J"/><circle cx="446.0" cy="291.6" class="S"/><circle cx="479.5" cy="230.8" class="E"/><circle cx="430.9" cy="373.2" class="al"/><circle cx="436.8" cy="322.6" class="Z"/><circle cx="479.9" cy="371.1" class="al"/><circle cx="504.6" cy="369.6" class="al"/><circle cx="534.4" cy="209.0" class="y"/><circle cx="440.6" cy="372.3" class="al"/><circle cx="544.4" cy="367.8" class="ak"/><circle cx="524.7" cy="369.7" class="ak"/><circle cx="438.4" cy="372.8" class="al"/><circle cx="485.2" cy="370.9" class="al"/><circle cx="490.5" cy="370.6" class="al"/><circle cx="607.9" cy="290.0" class="S"/><circle cx="542.4" cy="210.6" class="z"/><circle cx="456.5" cy="372.2" class="al"/><circle cx="474.6" cy="371.5" class="al"/><circle cx="457.2" cy="371.7" class="al"/><circle cx="469.1" cy="371.6" class="al"/><circle cx="454.9" cy="372.3" class="al"/><circle cx="505.4" cy="209.7" class="z"/><circle cx="618.0" cy="351.9" class="ag"/><circle cx="463.4" cy="372.3" class="al"/><circle cx="550.5" cy="368.7" class="ak"/><circle cx="525.9" cy="206.9" class="y"/><circle cx="500.2" cy="370.8" class="al"/><circle cx="614.1" cy="319.4" class="Z"/><circle cx="451.4" cy="372.8" class="al"/><circle cx="566.6" cy="223.2" class="C"/><circle cx="432.2" cy="372.3" class="al"/><circle cx="439.1" cy="310.5" class="W"/><circle cx="581.3" cy="238.3" class="F"/><circle cx="452.8" cy="372.7" class="al"/><circle cx="557.1" cy="216.7" class="A"/><circle cx="618.0" cy="362.7" class="aj"/><circle cx="528.5" cy="370.0" class="ak"/><circle cx="497.4" cy="213.7" class="z"/><circle cx="470.0" cy="241.1" class="G"/><circle cx="432.9" cy="373.9" class="al"/><circle cx="439.4" cy="373.2" class="al"/><circle cx="595.5" cy="260.1" class="K"/><circle cx="453.6" cy="372.6" class="al"/><circle cx="454.5" cy="267.9" class="M"/><circle cx="468.4" cy="372.6" class="al"/><circle cx="588.9" cy="249.3" class="I"/><circle cx="555.4" cy="369.1" class="ak"/><circle cx="509.5" cy="369.6" class="ak"/><circle cx="441.9" cy="373.6" class="al"/><circle cx="455.6" cy="372.6" class="al"/><circle cx="492.2" cy="216.3" class="A"/><circle cx="483.7" cy="372.0" class="al"/><circle cx="517.9" cy="205.2" class="x"/><circle cx="429.5" cy="361.5" class="ai"/><circle cx="503.9" cy="371.2" class="al"/><circle cx="461.9" cy="372.9" class="al"/><circle cx="463.6" cy="372.5" class="al"/><circle cx="473.4" cy="372.1" class="al"/><circle cx="575.0" cy="229.2" class="D"/><circle cx="443.5" cy="373.5" class="al"/><circle cx="494.5" cy="371.4" class="al"/><circle cx="534.5" cy="205.8" class="y"/><circle cx="489.0" cy="371.8" class="al"/><circle cx="443.8" cy="294.9" class="T"/><circle cx="448.9" cy="373.5" class="al"/><circle cx="513.4" cy="370.9" class="al"/><circle cx="467.2" cy="372.8" class="al"/><circle cx="434.6" cy="374.0" class="al"/><circle cx="447.2" cy="284.0" class="Q"/><circle cx="448.0" cy="373.1" class="al"/><circle cx="465.8" cy="245.2" class="H"/><circle cx="559.8" cy="369.3" class="ak"/><circle cx="479.0" cy="371.8" class="al"/><circle cx="533.8" cy="370.3" class="ak"/><circle cx="449.9" cy="373.0" class="al"/><circle cx="440.8" cy="372.7" class="al"/><circle cx="433.3" cy="374.5" class="al"/><circle cx="526.3" cy="204.1" class="x"/><circle cx="611.4" cy="301.5" class="U"/><circle cx="512.3" cy="204.8" class="x"/><circle cx="444.6" cy="373.7" class="al"/><circle cx="601.8" cy="272.0" class="N"/><circle cx="456.5" cy="263.4" class="L"/><circle cx="442.8" cy="373.0" class="al"/><circle cx="450.8" cy="373.6" class="al"/><circle cx="460.9" cy="372.5" class="al"/><circle cx="485.5" cy="220.8" class="B"/><circle cx="436.3" cy="320.2" class="Y"/><circle cx="446.9" cy="374.1" class="al"/><circle cx="474.4" cy="232.7" class="E"/><circle cx="542.4" cy="207.4" class="y"/><circle cx="452.2" cy="373.6" class="al"/><circle cx="445.3" cy="373.4" class="al"/><circle cx="497.5" cy="210.4" class="z"/><circle cx="435.4" cy="374.7" class="al"/><circle cx="498.8" cy="372.0" class="al"/><circle cx="505.0" cy="206.2" class="x"/><circle cx="518.9" cy="371.5" class="al"/><circle cx="566.7" cy="219.5" class="B"/><circle cx="565.9" cy="369.2" class="ak"/><circle cx="460.2" cy="373.9" class="al"/><circle cx="539.5" cy="370.6" class="ak"/><circle cx="616.3" cy="331.8" class="ab"/><circle cx="445.9" cy="373.4" class="al"/><circle cx="459.0" cy="255.9" class="J"/><circle cx="557.1" cy="213.2" class="z"/><circle cx="479.0" cy="372.3" class="al"/><circle cx="472.8" cy="372.6" class="al"/><circle cx="432.2" cy="340.0" class="ad"/><circle cx="479.3" cy="225.9" class="C"/><circle cx="608.5" cy="285.0" class="Q"/><circle cx="492.1" cy="212.9" class="z"/><circle cx="581.3" cy="234.2" class="E"/><circle cx="487.9" cy="372.6" class="al"/><circle cx="509.2" cy="371.6" class="ak"/><circle cx="436.5" cy="374.6" class="al"/><circle cx="441.4" cy="299.2" class="T"/><circle cx="459.5" cy="373.8" class="al"/><circle cx="571.5" cy="369.5" class="ak"/><circle cx="575.3" cy="225.5" class="C"/><circle cx="542.8" cy="370.9" class="ak"/><circle cx="517.9" cy="202.1" class="w"/><circle cx="595.7" cy="255.6" class="J"/><circle cx="534.5" cy="202.7" class="x"/><circle cx="494.3" cy="372.8" class="al"/><circle cx="512.6" cy="201.9" class="w"/><circle cx="465.8" cy="373.2" class="al"/><circle cx="588.9" cy="244.9" class="G"/><circle cx="435.6" cy="319.9" class="Y"/><circle cx="428.9" cy="374.0" class="al"/><circle cx="467.0" cy="373.8" class="al"/><circle cx="469.9" cy="235.8" class="E"/><circle cx="513.0" cy="372.4" class="al"/><circle cx="523.2" cy="371.8" class="ak"/><circle cx="477.9" cy="373.5" class="al"/><circle cx="526.2" cy="200.9" class="w"/><circle cx="448.7" cy="276.7" class="O"/><circle cx="457.2" cy="374.3" class="al"/><circle cx="484.2" cy="373.1" class="al"/><circle cx="464.3" cy="374.4" class="al"/><circle cx="614.4" cy="313.3" class="X"/><circle cx="576.9" cy="369.8" class="ak"/><circle cx="455.1" cy="374.9" class="al"/><circle cx="542.4" cy="204.2" class="x"/><circle cx="429.5" cy="375.4" class="al"/><circle cx="437.5" cy="374.4" class="al"/><circle cx="485.7" cy="217.2" class="A"/><circle cx="463.2" cy="245.5" class="H"/><circle cx="505.3" cy="203.4" class="x"/><circle cx="497.6" cy="207.3" class="y"/><circle cx="479.5" cy="222.4" class="B"/><circle cx="432.4" cy="339.3" class="ad"/><circle cx="459.1" cy="374.3" class="al"/><circle cx="439.5" cy="375.6" class="al"/><circle cx="567.2" cy="216.2" class="A"/><circle cx="457.0" cy="374.9" class="al"/><circle cx="549.5" cy="371.3" class="ak"/><circle cx="504.4" cy="372.6" class="al"/><circle cx="472.7" cy="374.1" class="al"/><circle cx="474.6" cy="228.5" class="C"/><circle cx="618.3" cy="344.8" class="ae"/><circle cx="444.0" cy="375.6" class="al"/><circle cx="483.1" cy="373.5" class="al"/><circle cx="557.3" cy="209.9" class="y"/><circle cx="441.6" cy="375.1" class="al"/><circle cx="430.7" cy="375.7" class="al"/><circle cx="602.1" cy="267.2" class="M"/><circle cx="431.9" cy="376.2" class="al"/><circle cx="583.3" cy="370.0" class="ak"/><circle cx="517.8" cy="199.1" class="w"/><circle cx="451.9" cy="267.4" class="M"/><circle cx="534.8" cy="199.8" class="w"/><circle cx="444.9" cy="375.6" class="al"/><circle cx="527.9" cy="372.4" class="ak"/><circle cx="498.6" cy="373.5" class="al"/><circle cx="465.9" cy="239.4" class="F"/><circle cx="438.1" cy="375.3" class="al"/><circle cx="453.0" cy="375.4" class="al"/><circle cx="450.3" cy="375.5" class="al"/><circle cx="450.1" cy="271.1" class="M"/><circle cx="471.6" cy="374.1" class="al"/><circle cx="493.5" cy="373.9" class="al"/><circle cx="477.0" cy="374.4" class="al"/><circle cx="454.3" cy="375.2" class="al"/><circle cx="442.5" cy="375.8" class="al"/><circle cx="611.6" cy="295.8" class="S"/><circle cx="618.5" cy="355.4" class="ag"/><circle cx="456.8" cy="256.5" class="J"/><circle cx="452.4" cy="375.6" class="al"/><circle cx="492.1" cy="209.4" class="y"/><circle cx="487.1" cy="374.3" class="al"/><circle cx="512.5" cy="198.9" class="v"/><circle cx="433.0" cy="328.8" class="aa"/></g><g fill-opacity="0.48" stroke-opacity="0.48"><circle cx="581.4" cy="230.3" class="D"/><circle cx="518.4" cy="372.8" class="ak"/><circle cx="462.3" cy="375.3" class="al"/><circle cx="440.5" cy="374.7" class="al"/><circle cx="553.6" cy="371.0" class="ak"/><circle cx="588.7" cy="370.5" class="ak"/><circle cx="526.2" cy="198.0" class="v"/><circle cx="451.4" cy="375.2" class="al"/><circle cx="461.4" cy="375.6" class="al"/><circle cx="445.7" cy="376.2" class="al"/><circle cx="464.2" cy="375.4" class="al"/><circle cx="575.1" cy="221.7" class="B"/><circle cx="542.8" cy="201.3" class="w"/><circle cx="446.8" cy="376.3" class="al"/><circle cx="428.5" cy="366.4" class="aj"/><circle cx="508.1" cy="373.0" class="ak"/><circle cx="432.6" cy="376.6" class="al"/><circle cx="444.8" cy="283.9" class="P"/><circle cx="595.9" cy="251.2" class="I"/><circle cx="589.1" cy="240.8" class="F"/><circle cx="481.5" cy="374.7" class="al"/><circle cx="447.7" cy="375.6" class="al"/><circle cx="497.5" cy="204.1" class="x"/><circle cx="531.9" cy="372.2" class="ak"/><circle cx="449.3" cy="376.2" class="al"/><circle cx="518.1" cy="196.4" class="v"/><circle cx="505.2" cy="200.3" class="w"/><circle cx="469.7" cy="374.6" class="al"/><circle cx="608.4" cy="279.7" class="O"/><circle cx="485.6" cy="213.6" class="z"/><circle cx="557.4" cy="206.7" class="x"/><circle cx="558.8" cy="371.7" class="ak"/><circle cx="436.4" cy="314.5" class="X"/><circle cx="594.3" cy="370.7" class="ak"/><circle cx="475.8" cy="375.4" class="al"/><circle cx="567.2" cy="212.7" class="y"/><circle cx="430.0" cy="349.5" class="af"/><circle cx="502.5" cy="373.9" class="ak"/><circle cx="486.9" cy="374.6" class="al"/><circle cx="512.5" cy="196.1" class="v"/><circle cx="616.6" cy="325.5" class="Z"/><circle cx="474.6" cy="224.3" class="B"/><circle cx="512.1" cy="373.8" class="ak"/><circle cx="470.1" cy="230.8" class="D"/><circle cx="433.6" cy="323.4" class="Z"/><circle cx="523.3" cy="373.5" class="ak"/><circle cx="433.9" cy="377.3" class="al"/><circle cx="460.8" cy="376.4" class="al"/><circle cx="479.4" cy="218.2" class="A"/><circle cx="435.6" cy="377.0" class="al"/><circle cx="458.9" cy="248.3" class="H"/><circle cx="537.6" cy="373.2" class="ak"/><circle cx="463.4" cy="240.0" class="F"/><circle cx="470.0" cy="375.7" class="al"/><circle cx="459.0" cy="376.4" class="al"/><circle cx="534.4" cy="196.6" class="v"/><circle cx="497.3" cy="374.4" class="al"/><circle cx="433.1" cy="326.6" class="Z"/><circle cx="434.1" cy="320.8" class="Y"/><circle cx="490.8" cy="374.8" class="al"/><circle cx="526.2" cy="195.1" class="u"/><circle cx="564.6" cy="371.8" class="ak"/><circle cx="443.0" cy="287.5" class="Q"/><circle cx="433.0" cy="328.0" class="aa"/><circle cx="600.7" cy="370.9" class="ak"/><circle cx="505.8" cy="375.0" class="al"/><circle cx="542.7" cy="198.2" class="v"/><circle cx="602.4" cy="262.6" class="K"/><circle cx="492.0" cy="206.0" class="x"/><circle cx="437.9" cy="377.4" class="al"/><circle cx="458.7" cy="376.7" class="al"/><circle cx="480.8" cy="375.8" class="al"/><circle cx="614.7" cy="307.5" class="V"/><circle cx="475.0" cy="375.6" class="al"/><circle cx="581.4" cy="226.5" class="C"/><circle cx="518.2" cy="193.7" class="u"/><circle cx="467.9" cy="376.3" class="al"/><circle cx="436.4" cy="377.6" class="al"/><circle cx="497.5" cy="201.1" class="w"/><circle cx="505.1" cy="197.4" class="v"/><circle cx="527.0" cy="373.7" class="ak"/><circle cx="428.1" cy="377.3" class="al"/><circle cx="570.2" cy="372.5" class="ak"/><circle cx="485.4" cy="210.2" class="y"/><circle cx="557.4" cy="203.4" class="w"/><circle cx="432.9" cy="329.8" class="aa"/><circle cx="574.9" cy="218.0" class="A"/><circle cx="485.4" cy="376.0" class="al"/><circle cx="534.8" cy="194.0" class="u"/><circle cx="512.6" cy="193.4" class="u"/><circle cx="606.9" cy="370.9" class="ak"/><circle cx="501.0" cy="375.6" class="al"/><circle cx="439.1" cy="300.0" class="T"/><circle cx="430.7" cy="378.4" class="al"/><circle cx="567.1" cy="209.3" class="x"/><circle cx="445.9" cy="276.0" class="N"/><circle cx="589.5" cy="237.0" class="E"/><circle cx="596.0" cy="246.9" class="G"/><circle cx="517.4" cy="374.7" class="ak"/><circle cx="465.8" cy="233.7" class="D"/><circle cx="618.7" cy="338.1" class="ac"/><circle cx="433.1" cy="327.2" class="Z"/><circle cx="526.5" cy="192.5" class="t"/><circle cx="438.9" cy="377.7" class="al"/><circle cx="479.7" cy="214.9" class="z"/><circle cx="492.4" cy="203.4" class="w"/><circle cx="440.4" cy="377.9" class="al"/><circle cx="491.0" cy="375.7" class="al"/><circle cx="543.0" cy="373.2" class="ak"/><circle cx="457.1" cy="377.2" class="al"/><circle cx="611.9" cy="371.4" class="ak"/><circle cx="433.7" cy="321.2" class="Y"/><circle cx="455.9" cy="377.7" class="al"/><circle cx="532.3" cy="374.7" class="ak"/><circle cx="428.7" cy="378.4" class="al"/><circle cx="608.6" cy="274.6" class="N"/><circle cx="542.7" cy="195.3" class="u"/><circle cx="446.7" cy="377.9" class="al"/><circle cx="473.3" cy="376.6" class="al"/><circle cx="576.2" cy="373.1" class="ak"/><circle cx="470.1" cy="226.4" class="B"/><circle cx="467.1" cy="377.2" class="al"/><circle cx="618.6" cy="347.9" class="ae"/><circle cx="505.1" cy="194.7" class="u"/><circle cx="441.4" cy="377.9" class="al"/><circle cx="547.6" cy="374.3" class="ak"/><circle cx="497.5" cy="198.3" class="v"/><circle cx="443.0" cy="377.4" class="al"/><circle cx="436.0" cy="311.8" class="V"/><circle cx="479.6" cy="376.8" class="al"/><circle cx="465.4" cy="377.4" class="al"/><circle cx="518.1" cy="190.9" class="t"/><circle cx="441.0" cy="291.1" class="R"/><circle cx="495.7" cy="376.5" class="al"/><circle cx="449.4" cy="378.2" class="al"/><circle cx="440.2" cy="291.6" class="R"/><circle cx="485.7" cy="207.3" class="x"/><circle cx="510.5" cy="375.6" class="ak"/><circle cx="459.1" cy="242.9" class="F"/><circle cx="435.5" cy="312.9" class="W"/><circle cx="472.3" cy="376.9" class="al"/><circle cx="454.3" cy="378.1" class="al"/><circle cx="512.6" cy="190.8" class="t"/><circle cx="453.6" cy="378.0" class="al"/><circle cx="444.0" cy="378.4" class="al"/><circle cx="575.3" cy="214.6" class="z"/><circle cx="445.4" cy="378.6" class="al"/><circle cx="581.6" cy="222.8" class="A"/><circle cx="520.8" cy="375.1" class="ak"/><circle cx="434.7" cy="315.5" class="W"/><circle cx="451.0" cy="377.5" class="al"/><circle cx="557.8" cy="200.5" class="v"/><circle cx="474.3" cy="219.7" class="A"/><circle cx="428.6" cy="356.1" class="ag"/><circle cx="484.2" cy="376.4" class="al"/><circle cx="534.8" cy="191.2" class="t"/><circle cx="464.3" cy="377.8" class="al"/><circle cx="448.1" cy="378.5" class="al"/><circle cx="505.1" cy="376.2" class="al"/><circle cx="452.2" cy="377.2" class="al"/><circle cx="619.4" cy="371.4" class="aj"/><circle cx="567.0" cy="205.9" class="w"/><circle cx="478.3" cy="377.2" class="al"/><circle cx="443.6" cy="278.9" class="O"/><circle cx="492.2" cy="200.4" class="v"/><circle cx="616.9" cy="319.2" class="X"/><circle cx="505.5" cy="192.3" class="t"/><circle cx="431.7" cy="379.0" class="al"/><circle cx="602.4" cy="258.0" class="J"/><circle cx="582.5" cy="373.3" class="ak"/><circle cx="537.1" cy="375.2" class="ak"/><circle cx="589.8" cy="233.1" class="D"/><circle cx="438.0" cy="298.5" class="S"/><circle cx="526.2" cy="189.6" class="t"/><circle cx="463.4" cy="234.2" class="D"/><circle cx="542.7" cy="192.4" class="t"/><circle cx="466.1" cy="229.4" class="C"/><circle cx="497.7" cy="195.7" class="u"/><circle cx="557.9" cy="198.7" class="v"/><circle cx="518.2" cy="188.3" class="s"/><circle cx="489.6" cy="377.0" class="al"/><circle cx="596.0" cy="242.6" class="F"/><circle cx="433.5" cy="378.9" class="al"/><circle cx="442.2" cy="283.3" class="P"/><circle cx="553.6" cy="374.6" class="ak"/><circle cx="454.5" cy="250.4" class="H"/><circle cx="614.5" cy="301.3" class="T"/><circle cx="495.5" cy="376.7" class="ak"/><circle cx="463.3" cy="378.3" class="al"/><circle cx="448.6" cy="264.3" class="K"/><circle cx="447.4" cy="268.4" class="L"/><circle cx="479.4" cy="211.1" class="y"/><circle cx="512.9" cy="188.3" class="s"/><circle cx="461.0" cy="378.7" class="al"/><circle cx="456.7" cy="247.4" class="G"/><circle cx="436.3" cy="379.7" class="al"/><circle cx="460.6" cy="378.5" class="al"/><circle cx="526.8" cy="376.0" class="ak"/><circle cx="588.0" cy="373.6" class="ak"/><circle cx="451.8" cy="256.6" class="I"/><circle cx="567.4" cy="204.2" class="w"/><circle cx="534.8" cy="188.4" class="s"/><circle cx="516.2" cy="376.2" class="ak"/><circle cx="612.0" cy="285.1" class="P"/><circle cx="526.5" cy="187.1" class="s"/><circle cx="471.1" cy="377.8" class="al"/><circle cx="581.9" cy="219.3" class="z"/><circle cx="430.5" cy="338.2" class="ab"/><circle cx="485.6" cy="204.0" class="w"/><circle cx="492.3" cy="197.7" class="u"/><circle cx="437.7" cy="297.2" class="S"/><circle cx="500.0" cy="377.0" class="ak"/><circle cx="505.4" cy="189.6" class="s"/><circle cx="575.3" cy="211.2" class="x"/><circle cx="430.3" cy="336.2" class="ab"/><circle cx="542.2" cy="375.5" class="ak"/><circle cx="428.0" cy="366.5" class="ai"/><circle cx="458.3" cy="378.7" class="al"/><circle cx="469.9" cy="221.9" class="A"/><circle cx="483.3" cy="377.7" class="al"/><circle cx="509.6" cy="376.9" class="ak"/><circle cx="438.9" cy="295.3" class="R"/><circle cx="434.4" cy="379.8" class="al"/><circle cx="557.4" cy="196.7" class="u"/><circle cx="475.5" cy="378.5" class="al"/><circle cx="437.7" cy="379.8" class="al"/><circle cx="608.7" cy="269.7" class="L"/><circle cx="456.9" cy="378.6" class="al"/><circle cx="469.7" cy="379.0" class="al"/><circle cx="542.3" cy="190.6" class="t"/><circle cx="474.5" cy="215.9" class="z"/><circle cx="435.5" cy="309.9" class="V"/><circle cx="558.1" cy="195.3" class="u"/><circle cx="476.6" cy="378.4" class="al"/><circle cx="567.5" cy="202.4" class="v"/><circle cx="559.0" cy="374.9" class="ak"/><circle cx="542.9" cy="189.2" class="s"/><circle cx="488.5" cy="378.5" class="al"/><circle cx="518.3" cy="185.8" class="r"/><circle cx="513.1" cy="185.9" class="r"/><circle cx="439.3" cy="379.8" class="al"/><circle cx="594.4" cy="374.1" class="ak"/><circle cx="440.5" cy="380.4" class="al"/><circle cx="479.6" cy="208.1" class="x"/><circle cx="450.0" cy="258.9" class="J"/><circle cx="497.5" cy="192.9" class="t"/><circle cx="618.5" cy="330.9" class="Z"/><circle cx="602.9" cy="253.7" class="H"/><circle cx="530.6" cy="376.7" class="ak"/><circle cx="534.5" cy="186.8" class="s"/><circle cx="575.4" cy="209.3" class="x"/><circle cx="492.5" cy="378.0" class="al"/><circle cx="468.1" cy="379.4" class="al"/><circle cx="589.5" cy="229.0" class="C"/><circle cx="499.5" cy="378.1" class="al"/><circle cx="520.0" cy="377.2" class="ak"/><circle cx="482.5" cy="379.2" class="al"/><circle cx="596.4" cy="238.7" class="E"/><circle cx="459.2" cy="236.7" class="D"/><circle cx="427.1" cy="381.3" class="al"/><circle cx="526.6" cy="184.6" class="r"/><circle cx="619.3" cy="341.6" class="ac"/><circle cx="485.7" cy="201.2" class="v"/><circle cx="548.0" cy="376.4" class="ak"/><circle cx="452.9" cy="380.0" class="al"/><circle cx="442.1" cy="381.0" class="al"/><circle cx="435.3" cy="309.0" class="U"/><circle cx="534.6" cy="185.3" class="r"/><circle cx="600.0" cy="374.5" class="ak"/><circle cx="567.4" cy="200.5" class="v"/><circle cx="429.4" cy="381.1" class="al"/><circle cx="542.7" cy="187.6" class="s"/><circle cx="497.8" cy="190.6" class="s"/><circle cx="455.6" cy="380.3" class="al"/><circle cx="617.6" cy="313.6" class="V"/><circle cx="492.3" cy="194.9" class="t"/><circle cx="505.3" cy="187.0" class="s"/><circle cx="526.6" cy="183.1" class="r"/><circle cx="454.6" cy="380.4" class="al"/><circle cx="463.3" cy="229.0" class="B"/><circle cx="443.4" cy="380.7" class="al"/><circle cx="565.0" cy="375.0" class="ak"/><circle cx="514.2" cy="378.2" class="ak"/><circle cx="446.6" cy="381.0" class="al"/><circle cx="504.9" cy="378.3" class="ak"/><circle cx="581.7" cy="215.6" class="y"/><circle cx="512.9" cy="183.3" class="r"/><circle cx="486.5" cy="379.5" class="al"/><circle cx="518.1" cy="183.2" class="r"/><circle cx="467.2" cy="380.0" class="al"/><circle cx="448.3" cy="380.6" class="al"/><circle cx="575.4" cy="207.3" class="w"/><circle cx="431.3" cy="381.8" class="al"/><circle cx="474.4" cy="212.4" class="x"/><circle cx="557.6" cy="193.4" class="t"/><circle cx="470.1" cy="218.1" class="z"/><circle cx="449.7" cy="380.8" class="al"/><circle cx="444.9" cy="269.3" class="L"/><circle cx="543.2" cy="186.2" class="r"/><circle cx="439.7" cy="285.9" class="P"/><circle cx="465.3" cy="379.8" class="al"/><circle cx="465.9" cy="224.2" class="A"/><circle cx="445.1" cy="380.9" class="al"/><circle cx="534.8" cy="183.8" class="r"/><circle cx="426.9" cy="374.1" class="aj"/><circle cx="429.1" cy="346.2" class="ad"/><circle cx="568.8" cy="376.3" class="ak"/><circle cx="620.1" cy="364.3" class="ah"/><circle cx="441.5" cy="279.2" class="N"/><circle cx="456.5" cy="241.1" class="E"/><circle cx="615.1" cy="296.3" class="R"/><circle cx="567.6" cy="198.8" class="u"/><circle cx="609.5" cy="265.6" class="K"/><circle cx="479.7" cy="205.0" class="w"/><circle cx="451.7" cy="380.5" class="al"/><circle cx="536.5" cy="377.6" class="ak"/><circle cx="558.1" cy="191.9" class="t"/><circle cx="491.7" cy="379.5" class="al"/><circle cx="535.1" cy="182.5" class="q"/><circle cx="612.1" cy="280.0" class="N"/><circle cx="582.2" cy="213.8" class="y"/><circle cx="553.2" cy="376.8" class="ak"/><circle cx="505.5" cy="184.7" class="r"/><circle cx="474.2" cy="379.8" class="al"/><circle cx="525.4" cy="378.4" class="ak"/><circle cx="589.8" cy="225.4" class="A"/><circle cx="432.6" cy="382.3" class="al"/><circle cx="543.0" cy="184.5" class="r"/><circle cx="497.3" cy="379.7" class="al"/><circle cx="430.7" cy="328.5" class="Z"/><circle cx="575.4" cy="205.4" class="w"/><circle cx="526.6" cy="181.7" class="q"/><circle cx="479.7" cy="380.1" class="al"/><circle cx="485.6" cy="198.3" class="u"/><circle cx="503.6" cy="379.0" class="ak"/><circle cx="463.0" cy="380.5" class="al"/><circle cx="478.7" cy="380.2" class="al"/><circle cx="497.8" cy="188.1" class="s"/><circle cx="518.2" cy="180.9" class="q"/><circle cx="606.0" cy="373.9" class="aj"/><circle cx="513.0" cy="181.0" class="q"/><circle cx="462.7" cy="381.3" class="al"/><circle cx="602.9" cy="249.3" class="G"/><circle cx="434.5" cy="382.4" class="al"/><circle cx="492.2" cy="192.2" class="t"/><circle cx="463.6" cy="225.1" class="A"/><circle cx="485.2" cy="380.3" class="al"/><circle cx="474.7" cy="209.4" class="x"/><circle cx="472.6" cy="380.8" class="al"/><circle cx="567.4" cy="196.9" class="u"/><circle cx="526.4" cy="180.2" class="q"/><circle cx="573.4" cy="376.2" class="ak"/><circle cx="508.2" cy="378.9" class="ak"/><circle cx="558.0" cy="190.2" class="s"/><circle cx="596.1" cy="234.5" class="C"/><circle cx="448.7" cy="255.4" class="H"/><circle cx="582.5" cy="212.0" class="x"/><circle cx="543.4" cy="183.2" class="q"/><circle cx="470.4" cy="214.7" class="y"/><circle cx="454.5" cy="242.5" class="E"/><circle cx="505.9" cy="182.5" class="q"/><circle cx="611.6" cy="375.0" class="aj"/><circle cx="576.0" cy="203.7" class="v"/><circle cx="518.3" cy="179.5" class="p"/></g><g fill-opacity="0.51" stroke-opacity="0.51"><circle cx="492.5" cy="190.0" class="s"/><circle cx="470.2" cy="380.9" class="al"/><circle cx="446.0" cy="262.9" class="J"/><circle cx="479.7" cy="202.1" class="v"/><circle cx="439.2" cy="283.9" class="O"/><circle cx="459.2" cy="231.5" class="C"/><circle cx="485.9" cy="195.9" class="t"/><circle cx="558.4" cy="377.9" class="ak"/><circle cx="427.8" cy="354.7" class="af"/><circle cx="465.9" cy="220.3" class="z"/><circle cx="534.8" cy="180.9" class="q"/><circle cx="518.7" cy="178.3" class="p"/><circle cx="541.5" cy="378.2" class="ak"/><circle cx="437.6" cy="382.8" class="al"/><circle cx="430.8" cy="324.6" class="X"/><circle cx="618.8" cy="324.7" class="Y"/><circle cx="435.9" cy="382.8" class="al"/><circle cx="450.2" cy="251.3" class="G"/><circle cx="519.8" cy="378.8" class="ak"/><circle cx="567.8" cy="195.3" class="t"/><circle cx="530.3" cy="379.2" class="ak"/><circle cx="458.5" cy="381.6" class="al"/><circle cx="526.4" cy="178.8" class="p"/><circle cx="557.8" cy="188.4" class="r"/><circle cx="512.5" cy="178.4" class="p"/><circle cx="460.5" cy="381.6" class="al"/><circle cx="441.4" cy="382.3" class="al"/><circle cx="455.3" cy="381.9" class="al"/><circle cx="534.9" cy="179.5" class="p"/><circle cx="543.2" cy="181.6" class="q"/><circle cx="439.6" cy="382.4" class="al"/><circle cx="497.5" cy="185.5" class="r"/><circle cx="590.0" cy="221.7" class="z"/><circle cx="451.9" cy="247.4" class="F"/><circle cx="582.3" cy="209.9" class="w"/><circle cx="575.7" cy="201.8" class="v"/><circle cx="474.6" cy="206.3" class="w"/><circle cx="476.9" cy="381.8" class="al"/><circle cx="518.6" cy="176.9" class="p"/><circle cx="618.3" cy="375.5" class="aj"/><circle cx="452.2" cy="382.6" class="al"/><circle cx="508.3" cy="380.4" class="ak"/><circle cx="427.0" cy="383.5" class="al"/><circle cx="615.4" cy="290.9" class="P"/><circle cx="467.5" cy="382.3" class="al"/><circle cx="567.9" cy="193.6" class="t"/><circle cx="609.4" cy="260.8" class="I"/><circle cx="456.5" cy="382.6" class="al"/><circle cx="496.1" cy="381.0" class="al"/><circle cx="617.6" cy="307.7" class="T"/><circle cx="526.4" cy="177.4" class="p"/><circle cx="443.0" cy="270.2" class="L"/><circle cx="558.3" cy="187.0" class="r"/><circle cx="580.0" cy="376.8" class="ak"/><circle cx="545.5" cy="379.2" class="ak"/><circle cx="561.8" cy="377.6" class="ak"/><circle cx="442.7" cy="382.4" class="al"/><circle cx="505.5" cy="180.1" class="p"/><circle cx="512.8" cy="177.2" class="p"/><circle cx="447.1" cy="257.2" class="I"/><circle cx="479.8" cy="199.4" class="u"/><circle cx="429.1" cy="337.2" class="aa"/><circle cx="619.4" cy="334.9" class="aa"/><circle cx="512.6" cy="380.2" class="ak"/><circle cx="456.6" cy="235.3" class="C"/><circle cx="453.7" cy="382.9" class="al"/><circle cx="490.8" cy="380.5" class="ak"/><circle cx="469.4" cy="381.0" class="al"/><circle cx="603.0" cy="245.1" class="F"/><circle cx="534.9" cy="178.0" class="p"/><circle cx="482.9" cy="381.8" class="al"/><circle cx="543.1" cy="180.1" class="p"/><circle cx="501.8" cy="381.1" class="al"/><circle cx="497.8" cy="183.4" class="q"/><circle cx="492.4" cy="187.5" class="r"/><circle cx="523.6" cy="379.9" class="ak"/><circle cx="446.5" cy="383.5" class="al"/><circle cx="533.7" cy="379.5" class="ak"/><circle cx="582.5" cy="208.0" class="w"/><circle cx="596.5" cy="230.8" class="B"/><circle cx="435.9" cy="292.1" class="Q"/><circle cx="485.8" cy="193.2" class="s"/><circle cx="590.3" cy="219.8" class="z"/><circle cx="436.9" cy="290.2" class="P"/><circle cx="428.9" cy="384.2" class="al"/><circle cx="489.2" cy="381.9" class="al"/><circle cx="518.3" cy="175.5" class="o"/><circle cx="450.1" cy="383.3" class="al"/><circle cx="513.1" cy="176.0" class="o"/><circle cx="526.5" cy="176.1" class="o"/><circle cx="474.8" cy="382.0" class="al"/><circle cx="558.3" cy="185.4" class="r"/><circle cx="464.2" cy="383.0" class="al"/><circle cx="543.3" cy="178.6" class="p"/><circle cx="535.0" cy="176.7" class="p"/><circle cx="575.7" cy="200.0" class="u"/><circle cx="431.3" cy="384.2" class="al"/><circle cx="505.5" cy="177.8" class="p"/><circle cx="465.9" cy="216.3" class="y"/><circle cx="567.7" cy="191.8" class="s"/><circle cx="465.0" cy="383.0" class="al"/><circle cx="620.5" cy="357.0" class="af"/><circle cx="587.1" cy="378.0" class="ak"/><circle cx="470.2" cy="210.8" class="w"/><circle cx="482.7" cy="382.4" class="al"/><circle cx="448.2" cy="382.8" class="al"/><circle cx="444.6" cy="383.8" class="al"/><circle cx="498.0" cy="181.2" class="q"/><circle cx="518.3" cy="174.2" class="o"/><circle cx="568.3" cy="378.6" class="ak"/><circle cx="459.1" cy="226.5" class="A"/><circle cx="535.3" cy="175.3" class="o"/><circle cx="551.2" cy="380.0" class="ak"/><circle cx="479.6" cy="196.6" class="t"/><circle cx="526.5" cy="174.7" class="o"/><circle cx="473.1" cy="383.2" class="al"/><circle cx="590.3" cy="217.7" class="y"/><circle cx="463.3" cy="219.9" class="z"/><circle cx="575.3" cy="197.9" class="t"/><circle cx="432.6" cy="384.6" class="al"/><circle cx="543.2" cy="177.1" class="p"/><circle cx="568.0" cy="190.2" class="s"/><circle cx="492.2" cy="185.1" class="q"/><circle cx="427.1" cy="360.6" class="af"/><circle cx="582.5" cy="206.1" class="v"/><circle cx="485.7" cy="190.7" class="s"/><circle cx="512.4" cy="381.4" class="ak"/><circle cx="512.7" cy="174.6" class="o"/><circle cx="527.5" cy="380.8" class="ak"/><circle cx="474.3" cy="202.9" class="v"/><circle cx="516.7" cy="381.6" class="ak"/><circle cx="499.4" cy="382.2" class="al"/><circle cx="466.2" cy="213.3" class="x"/><circle cx="557.8" cy="183.6" class="q"/><circle cx="518.4" cy="172.9" class="n"/><circle cx="513.1" cy="173.5" class="o"/><circle cx="437.5" cy="286.9" class="O"/><circle cx="619.5" cy="319.1" class="W"/><circle cx="573.2" cy="379.6" class="ak"/><circle cx="609.5" cy="256.3" class="H"/><circle cx="535.1" cy="173.9" class="o"/><circle cx="470.0" cy="207.6" class="w"/><circle cx="438.8" cy="279.2" class="M"/><circle cx="494.9" cy="382.4" class="al"/><circle cx="603.4" cy="241.2" class="D"/><circle cx="505.5" cy="175.6" class="o"/><circle cx="539.1" cy="380.2" class="ak"/><circle cx="615.6" cy="285.7" class="O"/><circle cx="518.6" cy="171.7" class="n"/><circle cx="612.9" cy="270.6" class="K"/><circle cx="456.7" cy="230.4" class="B"/><circle cx="596.7" cy="227.1" class="A"/><circle cx="454.4" cy="235.5" class="C"/><circle cx="436.7" cy="287.9" class="O"/><circle cx="505.6" cy="381.8" class="ak"/><circle cx="526.1" cy="173.3" class="n"/><circle cx="463.7" cy="216.8" class="y"/><circle cx="443.7" cy="262.3" class="I"/><circle cx="567.9" cy="188.5" class="r"/><circle cx="576.1" cy="196.5" class="t"/><circle cx="471.6" cy="382.8" class="al"/><circle cx="513.0" cy="172.2" class="n"/><circle cx="434.4" cy="384.7" class="al"/><circle cx="557.8" cy="182.0" class="q"/><circle cx="498.1" cy="179.0" class="p"/><circle cx="592.1" cy="377.7" class="aj"/><circle cx="505.6" cy="174.4" class="o"/><circle cx="542.9" cy="175.6" class="o"/><circle cx="436.5" cy="385.1" class="al"/><circle cx="582.3" cy="204.1" class="v"/><circle cx="526.7" cy="172.1" class="n"/><circle cx="617.7" cy="301.9" class="S"/><circle cx="492.3" cy="182.9" class="q"/><circle cx="590.1" cy="215.6" class="x"/><circle cx="620.6" cy="370.0" class="ai"/><circle cx="485.9" cy="188.4" class="r"/><circle cx="480.1" cy="383.8" class="al"/><circle cx="513.3" cy="171.0" class="n"/><circle cx="479.6" cy="193.9" class="s"/><circle cx="558.5" cy="180.7" class="p"/><circle cx="477.3" cy="384.0" class="al"/><circle cx="462.0" cy="383.8" class="al"/><circle cx="534.8" cy="172.4" class="n"/><circle cx="555.9" cy="380.4" class="ak"/><circle cx="438.3" cy="385.5" class="al"/><circle cx="619.6" cy="328.3" class="Y"/><circle cx="568.1" cy="186.9" class="r"/><circle cx="575.8" cy="194.5" class="s"/><circle cx="543.4" cy="174.4" class="o"/><circle cx="518.4" cy="170.4" class="n"/><circle cx="474.6" cy="200.2" class="u"/><circle cx="428.1" cy="341.6" class="ab"/><circle cx="599.5" cy="379.4" class="ak"/><circle cx="526.6" cy="170.8" class="n"/><circle cx="582.8" cy="202.4" class="u"/><circle cx="493.1" cy="383.5" class="al"/><circle cx="440.6" cy="384.9" class="al"/><circle cx="456.5" cy="384.3" class="al"/><circle cx="485.4" cy="383.8" class="al"/><circle cx="469.9" cy="384.1" class="al"/><circle cx="505.7" cy="173.2" class="n"/><circle cx="596.5" cy="224.8" class="z"/><circle cx="442.2" cy="385.7" class="al"/><circle cx="527.0" cy="169.5" class="m"/><circle cx="506.1" cy="172.2" class="n"/><circle cx="440.2" cy="271.0" class="K"/><circle cx="532.5" cy="381.3" class="ak"/><circle cx="431.6" cy="314.1" class="U"/><circle cx="450.5" cy="385.2" class="al"/><circle cx="470.3" cy="204.7" class="v"/><circle cx="518.6" cy="169.2" class="m"/><circle cx="460.2" cy="384.9" class="al"/><circle cx="451.9" cy="239.7" class="D"/><circle cx="497.9" cy="176.8" class="o"/><circle cx="454.6" cy="385.0" class="al"/><circle cx="492.5" cy="180.8" class="p"/><circle cx="487.3" cy="383.5" class="al"/><circle cx="543.3" cy="172.9" class="n"/><circle cx="590.2" cy="213.6" class="x"/><circle cx="426.6" cy="368.5" class="ah"/><circle cx="534.9" cy="171.1" class="n"/><circle cx="442.4" cy="265.0" class="J"/><circle cx="513.2" cy="169.8" class="m"/><circle cx="448.4" cy="384.6" class="al"/><circle cx="516.8" cy="382.2" class="ak"/><circle cx="485.8" cy="186.1" class="q"/><circle cx="579.6" cy="380.2" class="ak"/><circle cx="521.3" cy="382.8" class="ak"/><circle cx="454.6" cy="231.1" class="B"/><circle cx="452.7" cy="385.0" class="al"/><circle cx="558.4" cy="179.1" class="p"/><circle cx="479.7" cy="191.6" class="s"/><circle cx="457.8" cy="384.3" class="al"/><circle cx="544.3" cy="381.4" class="ak"/><circle cx="466.9" cy="384.8" class="al"/><circle cx="475.2" cy="384.6" class="al"/><circle cx="567.9" cy="185.1" class="q"/><circle cx="497.3" cy="382.8" class="ak"/><circle cx="603.6" cy="237.2" class="C"/><circle cx="535.1" cy="169.8" class="m"/><circle cx="446.4" cy="386.0" class="al"/><circle cx="445.8" cy="251.9" class="G"/><circle cx="459.0" cy="221.3" class="y"/><circle cx="426.9" cy="385.3" class="al"/><circle cx="444.3" cy="385.8" class="al"/><circle cx="597.0" cy="222.9" class="z"/><circle cx="609.5" cy="251.8" class="G"/><circle cx="561.7" cy="381.2" class="ak"/><circle cx="504.2" cy="383.8" class="ak"/><circle cx="518.6" cy="167.9" class="m"/><circle cx="428.9" cy="386.5" class="al"/><circle cx="590.6" cy="211.7" class="w"/><circle cx="575.9" cy="192.9" class="s"/><circle cx="441.3" cy="269.0" class="K"/><circle cx="466.0" cy="209.3" class="w"/><circle cx="620.9" cy="350.2" class="ad"/><circle cx="429.6" cy="325.0" class="X"/><circle cx="512.9" cy="168.5" class="m"/><circle cx="431.7" cy="309.7" class="T"/><circle cx="510.1" cy="383.2" class="ak"/><circle cx="492.5" cy="178.7" class="o"/><circle cx="449.8" cy="241.4" class="D"/><circle cx="543.2" cy="171.5" class="n"/><circle cx="605.0" cy="379.6" class="aj"/><circle cx="466.5" cy="385.4" class="al"/><circle cx="505.8" cy="170.9" class="n"/><circle cx="582.2" cy="200.3" class="u"/><circle cx="535.1" cy="168.5" class="m"/><circle cx="474.4" cy="197.3" class="t"/><circle cx="498.0" cy="174.8" class="o"/><circle cx="543.7" cy="170.2" class="m"/><circle cx="558.5" cy="177.6" class="o"/><circle cx="526.5" cy="168.2" class="m"/><circle cx="518.9" cy="166.8" class="m"/><circle cx="576.4" cy="191.3" class="r"/><circle cx="463.4" cy="212.6" class="w"/><circle cx="485.9" cy="183.9" class="q"/><circle cx="526.9" cy="167.0" class="m"/><circle cx="447.3" cy="247.5" class="E"/><circle cx="513.1" cy="167.4" class="m"/><circle cx="619.7" cy="313.2" class="U"/><circle cx="505.9" cy="169.7" class="m"/><circle cx="567.9" cy="183.5" class="q"/><circle cx="479.7" cy="189.2" class="r"/><circle cx="549.1" cy="382.6" class="ak"/><circle cx="537.1" cy="382.8" class="ak"/><circle cx="444.8" cy="254.4" class="G"/><circle cx="618.2" cy="296.8" class="Q"/><circle cx="430.7" cy="387.2" class="al"/><circle cx="585.2" cy="380.6" class="ak"/><circle cx="558.8" cy="176.2" class="o"/><circle cx="582.6" cy="198.7" class="t"/><circle cx="615.4" cy="280.6" class="M"/><circle cx="590.9" cy="209.9" class="w"/><circle cx="470.3" cy="201.6" class="u"/><circle cx="596.9" cy="220.7" class="y"/><circle cx="535.2" cy="167.2" class="m"/><circle cx="520.4" cy="383.1" class="ak"/><circle cx="610.4" cy="380.1" class="aj"/><circle cx="513.2" cy="166.2" class="l"/><circle cx="505.7" cy="168.5" class="m"/><circle cx="474.1" cy="385.3" class="al"/><circle cx="518.6" cy="165.5" class="l"/><circle cx="526.9" cy="165.7" class="l"/><circle cx="432.9" cy="387.2" class="al"/><circle cx="435.7" cy="285.3" class="N"/><circle cx="566.4" cy="382.1" class="ak"/><circle cx="456.7" cy="224.5" class="z"/><circle cx="435.3" cy="387.3" class="al"/><circle cx="497.9" cy="172.7" class="n"/><circle cx="492.5" cy="176.6" class="o"/><circle cx="474.6" cy="194.9" class="s"/><circle cx="490.2" cy="385.4" class="al"/><circle cx="567.9" cy="181.9" class="p"/><circle cx="496.7" cy="384.8" class="ak"/><circle cx="576.3" cy="189.6" class="r"/><circle cx="486.1" cy="181.8" class="p"/><circle cx="513.1" cy="165.0" class="l"/><circle cx="438.0" cy="274.4" class="L"/><circle cx="507.2" cy="384.7" class="ak"/><circle cx="535.4" cy="166.0" class="l"/><circle cx="582.7" cy="196.8" class="s"/><circle cx="518.7" cy="164.3" class="l"/><circle cx="428.2" cy="332.7" class="Y"/><circle cx="459.1" cy="217.3" class="x"/><circle cx="513.8" cy="384.6" class="ak"/><circle cx="543.1" cy="168.7" class="m"/><circle cx="432.0" cy="305.1" class="S"/><circle cx="527.1" cy="164.5" class="l"/><circle cx="501.4" cy="385.2" class="ak"/><circle cx="482.9" cy="384.3" class="ak"/><circle cx="620.0" cy="322.5" class="W"/><circle cx="479.7" cy="187.0" class="q"/><circle cx="590.1" cy="381.6" class="ak"/><circle cx="603.4" cy="233.2" class="B"/><circle cx="568.3" cy="180.4" class="p"/><circle cx="497.8" cy="171.5" class="n"/><circle cx="489.0" cy="385.4" class="al"/><circle cx="480.4" cy="386.1" class="al"/><circle cx="558.4" cy="174.6" class="n"/><circle cx="609.8" cy="247.7" class="E"/><circle cx="432.7" cy="295.9" class="Q"/><circle cx="470.3" cy="199.1" class="t"/><circle cx="543.6" cy="167.4" class="m"/><circle cx="597.0" cy="218.6" class="y"/><circle cx="505.5" cy="167.3" class="m"/><circle cx="441.6" cy="261.6" class="I"/><circle cx="506.1" cy="166.3" class="l"/><circle cx="527.1" cy="383.7" class="ak"/><circle cx="590.7" cy="207.8" class="v"/><circle cx="620.9" cy="362.5" class="af"/><circle cx="464.0" cy="385.7" class="al"/><circle cx="513.4" cy="163.9" class="l"/><circle cx="576.6" cy="187.9" class="q"/><circle cx="444.0" cy="387.8" class="al"/><circle cx="441.6" cy="387.6" class="al"/><circle cx="466.1" cy="205.7" class="u"/><circle cx="526.8" cy="163.2" class="l"/><circle cx="474.8" cy="192.6" class="r"/><circle cx="518.8" cy="163.2" class="l"/><circle cx="455.1" cy="387.3" class="al"/><circle cx="463.5" cy="209.1" class="v"/><circle cx="613.5" cy="261.6" class="I"/><circle cx="492.5" cy="174.6" class="n"/><circle cx="472.6" cy="386.6" class="al"/><circle cx="451.9" cy="233.2" class="B"/><circle cx="437.3" cy="387.9" class="al"/><circle cx="558.4" cy="173.1" class="n"/><circle cx="535.4" cy="164.7" class="l"/><circle cx="497.9" cy="170.4" class="m"/><circle cx="485.9" cy="179.7" class="o"/><circle cx="461.9" cy="386.5" class="al"/><circle cx="430.0" cy="317.8" class="V"/><circle cx="603.8" cy="231.0" class="A"/><circle cx="617.7" cy="381.2" class="aj"/><circle cx="457.7" cy="387.5" class="al"/><circle cx="572.5" cy="383.0" class="ak"/><circle cx="459.3" cy="386.8" class="al"/><circle cx="527.2" cy="162.1" class="k"/><circle cx="542.7" cy="383.3" class="ak"/><circle cx="582.4" cy="194.9" class="s"/><circle cx="543.4" cy="166.0" class="l"/><circle cx="518.8" cy="162.0" class="k"/><circle cx="597.4" cy="216.7" class="x"/><circle cx="439.6" cy="388.3" class="al"/><circle cx="513.1" cy="162.7" class="k"/><circle cx="555.0" cy="383.2" class="ak"/><circle cx="438.6" cy="271.8" class="K"/><circle cx="616.2" cy="276.0" class="L"/><circle cx="479.8" cy="184.8" class="p"/><circle cx="432.3" cy="301.1" class="R"/><circle cx="459.3" cy="214.0" class="w"/><circle cx="535.3" cy="163.4" class="k"/><circle cx="591.0" cy="206.0" class="u"/><circle cx="576.3" cy="186.1" class="q"/><circle cx="439.9" cy="265.5" class="I"/><circle cx="567.9" cy="178.7" class="o"/><circle cx="525.5" cy="385.1" class="ak"/><circle cx="427.7" cy="342.6" class="aa"/><circle cx="497.8" cy="169.3" class="m"/><circle cx="465.9" cy="202.9" class="u"/><circle cx="505.5" cy="165.1" class="l"/><circle cx="433.8" cy="288.8" class="O"/></g><g fill-opacity="0.53" stroke-opacity="0.53"><circle cx="558.3" cy="171.6" class="m"/><circle cx="454.5" cy="224.6" class="z"/><circle cx="535.4" cy="162.1" class="k"/><circle cx="469.1" cy="386.5" class="al"/><circle cx="505.7" cy="164.0" class="l"/><circle cx="513.1" cy="161.6" class="k"/><circle cx="474.7" cy="190.3" class="r"/><circle cx="543.4" cy="164.7" class="l"/><circle cx="478.6" cy="387.0" class="al"/><circle cx="468.1" cy="386.4" class="ak"/><circle cx="618.4" cy="291.6" class="O"/><circle cx="450.1" cy="234.6" class="B"/><circle cx="463.6" cy="206.1" class="u"/><circle cx="582.7" cy="193.3" class="r"/><circle cx="427.1" cy="387.8" class="al"/><circle cx="619.7" cy="307.3" class="S"/><circle cx="621.2" cy="343.4" class="aa"/><circle cx="596.8" cy="381.8" class="aj"/><circle cx="492.6" cy="172.7" class="n"/><circle cx="486.2" cy="177.8" class="o"/><circle cx="446.2" cy="387.8" class="al"/><circle cx="526.9" cy="160.8" class="k"/><circle cx="497.9" cy="168.2" class="m"/><circle cx="436.4" cy="280.3" class="M"/><circle cx="453.4" cy="387.4" class="al"/><circle cx="448.5" cy="388.5" class="al"/><circle cx="439.0" cy="265.4" class="I"/><circle cx="518.6" cy="160.8" class="k"/><circle cx="531.1" cy="384.4" class="ak"/><circle cx="500.3" cy="385.9" class="ak"/><circle cx="470.1" cy="196.1" class="s"/><circle cx="568.1" cy="177.2" class="o"/><circle cx="576.3" cy="184.4" class="p"/><circle cx="426.4" cy="369.0" class="ag"/><circle cx="448.7" cy="237.1" class="C"/><circle cx="543.7" cy="163.4" class="k"/><circle cx="513.5" cy="160.5" class="k"/><circle cx="493.4" cy="386.7" class="ak"/><circle cx="505.9" cy="162.9" class="k"/><circle cx="485.9" cy="386.9" class="al"/><circle cx="597.3" cy="214.7" class="w"/><circle cx="497.8" cy="167.1" class="l"/><circle cx="558.3" cy="170.1" class="m"/><circle cx="451.8" cy="228.7" class="A"/><circle cx="590.6" cy="204.0" class="u"/><circle cx="535.6" cy="160.9" class="k"/><circle cx="456.5" cy="219.4" class="x"/><circle cx="610.0" cy="243.7" class="D"/><circle cx="492.6" cy="170.8" class="m"/><circle cx="479.8" cy="182.6" class="p"/><circle cx="568.5" cy="175.7" class="n"/><circle cx="603.5" cy="228.8" class="A"/><circle cx="450.6" cy="388.4" class="al"/><circle cx="518.0" cy="385.4" class="ak"/><circle cx="559.8" cy="384.5" class="ak"/><circle cx="505.3" cy="386.3" class="ak"/><circle cx="527.0" cy="159.7" class="j"/><circle cx="492.2" cy="386.9" class="ak"/><circle cx="513.2" cy="159.3" class="j"/><circle cx="429.3" cy="388.4" class="al"/><circle cx="474.6" cy="188.0" class="q"/><circle cx="543.6" cy="162.1" class="k"/><circle cx="518.3" cy="159.6" class="j"/><circle cx="470.3" cy="193.9" class="r"/><circle cx="486.2" cy="175.8" class="n"/><circle cx="582.7" cy="191.5" class="r"/><circle cx="512.0" cy="385.7" class="ak"/><circle cx="465.1" cy="388.5" class="al"/><circle cx="547.6" cy="384.3" class="ak"/><circle cx="430.2" cy="311.7" class="T"/><circle cx="576.9" cy="382.7" class="aj"/><circle cx="497.9" cy="166.1" class="l"/><circle cx="576.4" cy="182.8" class="p"/><circle cx="535.4" cy="159.6" class="j"/><circle cx="613.6" cy="257.3" class="G"/><circle cx="466.0" cy="200.0" class="t"/><circle cx="518.7" cy="158.6" class="j"/><circle cx="434.1" cy="389.2" class="al"/><circle cx="479.8" cy="180.7" class="o"/><circle cx="492.3" cy="169.6" class="m"/><circle cx="534.5" cy="385.8" class="ak"/><circle cx="558.5" cy="168.7" class="l"/><circle cx="463.6" cy="203.2" class="u"/><circle cx="527.2" cy="158.5" class="j"/><circle cx="505.8" cy="161.9" class="k"/><circle cx="477.2" cy="387.6" class="al"/><circle cx="433.1" cy="291.2" class="O"/><circle cx="444.7" cy="245.6" class="D"/><circle cx="431.3" cy="389.1" class="al"/><circle cx="620.1" cy="316.5" class="U"/><circle cx="603.1" cy="382.8" class="aj"/><circle cx="513.2" cy="158.2" class="j"/><circle cx="433.0" cy="292.5" class="O"/><circle cx="434.5" cy="284.1" class="M"/><circle cx="590.9" cy="202.2" class="t"/><circle cx="597.2" cy="212.6" class="w"/><circle cx="529.6" cy="386.1" class="ak"/><circle cx="518.8" cy="157.4" class="j"/><circle cx="432.9" cy="293.4" class="O"/><circle cx="498.2" cy="165.1" class="l"/><circle cx="492.7" cy="168.7" class="l"/><circle cx="498.5" cy="164.1" class="k"/><circle cx="505.7" cy="160.7" class="k"/><circle cx="603.7" cy="226.7" class="z"/><circle cx="535.8" cy="158.4" class="j"/><circle cx="454.4" cy="220.2" class="x"/><circle cx="558.6" cy="167.3" class="l"/><circle cx="582.5" cy="189.7" class="q"/><circle cx="527.1" cy="157.3" class="j"/><circle cx="543.5" cy="160.8" class="k"/><circle cx="486.1" cy="173.9" class="n"/><circle cx="620.4" cy="377.1" class="ai"/><circle cx="568.2" cy="174.2" class="n"/><circle cx="435.5" cy="280.1" class="L"/><circle cx="506.1" cy="159.7" class="j"/><circle cx="483.9" cy="388.1" class="al"/><circle cx="463.0" cy="388.5" class="al"/><circle cx="436.2" cy="390.3" class="al"/><circle cx="427.2" cy="349.0" class="ab"/><circle cx="616.0" cy="271.1" class="J"/><circle cx="474.8" cy="388.1" class="al"/><circle cx="575.9" cy="181.0" class="o"/><circle cx="518.7" cy="156.3" class="i"/><circle cx="436.1" cy="278.1" class="L"/><circle cx="492.5" cy="167.5" class="l"/><circle cx="513.1" cy="157.2" class="j"/><circle cx="474.7" cy="185.7" class="p"/><circle cx="582.8" cy="384.4" class="ak"/><circle cx="450.0" cy="229.3" class="z"/><circle cx="503.5" cy="387.8" class="ak"/><circle cx="470.3" cy="191.4" class="r"/><circle cx="591.0" cy="200.4" class="t"/><circle cx="435.2" cy="280.6" class="L"/><circle cx="568.3" cy="172.6" class="m"/><circle cx="479.8" cy="178.7" class="o"/><circle cx="621.1" cy="355.5" class="ad"/><circle cx="492.8" cy="166.6" class="l"/><circle cx="459.1" cy="209.4" class="v"/><circle cx="437.8" cy="268.3" class="J"/><circle cx="604.0" cy="224.6" class="y"/><circle cx="527.2" cy="156.2" class="i"/><circle cx="465.9" cy="197.3" class="s"/><circle cx="558.6" cy="165.8" class="l"/><circle cx="513.3" cy="156.1" class="i"/><circle cx="505.9" cy="158.6" class="j"/><circle cx="610.2" cy="239.7" class="C"/><circle cx="522.1" cy="387.3" class="ak"/><circle cx="460.3" cy="389.3" class="al"/><circle cx="564.3" cy="384.4" class="ak"/><circle cx="456.6" cy="215.3" class="w"/><circle cx="446.0" cy="390.4" class="al"/><circle cx="518.9" cy="155.2" class="i"/><circle cx="597.2" cy="210.7" class="v"/><circle cx="552.5" cy="385.5" class="ak"/><circle cx="618.5" cy="286.4" class="N"/><circle cx="498.0" cy="162.9" class="k"/><circle cx="582.7" cy="188.1" class="q"/><circle cx="453.9" cy="389.9" class="al"/><circle cx="433.8" cy="286.1" class="N"/><circle cx="458.7" cy="389.9" class="al"/><circle cx="620.2" cy="302.1" class="Q"/><circle cx="441.0" cy="389.4" class="al"/><circle cx="429.0" cy="319.8" class="U"/><circle cx="576.6" cy="179.6" class="o"/><circle cx="533.1" cy="387.0" class="ak"/><circle cx="486.0" cy="172.0" class="m"/><circle cx="513.4" cy="155.0" class="i"/><circle cx="609.1" cy="383.5" class="aj"/><circle cx="448.7" cy="231.2" class="A"/><circle cx="463.6" cy="200.2" class="t"/><circle cx="470.4" cy="189.3" class="q"/><circle cx="519.0" cy="154.1" class="i"/><circle cx="590.8" cy="198.4" class="s"/><circle cx="433.1" cy="291.9" class="O"/><circle cx="435.0" cy="280.1" class="L"/><circle cx="497.8" cy="161.9" class="k"/><circle cx="516.2" cy="387.4" class="ak"/><circle cx="496.8" cy="388.0" class="ak"/><circle cx="441.1" cy="255.1" class="F"/><circle cx="459.2" cy="206.7" class="u"/><circle cx="509.5" cy="388.2" class="ak"/><circle cx="456.3" cy="389.8" class="al"/><circle cx="427.8" cy="330.4" class="X"/><circle cx="447.3" cy="233.6" class="A"/><circle cx="479.9" cy="176.8" class="n"/><circle cx="613.7" cy="252.9" class="F"/><circle cx="583.1" cy="186.5" class="p"/><circle cx="438.7" cy="391.1" class="al"/><circle cx="568.1" cy="171.1" class="m"/><circle cx="440.2" cy="255.4" class="F"/><circle cx="505.8" cy="157.7" class="j"/><circle cx="621.3" cy="336.8" class="Y"/><circle cx="597.3" cy="208.7" class="u"/><circle cx="443.4" cy="391.1" class="al"/><circle cx="492.3" cy="165.4" class="k"/><circle cx="466.2" cy="195.0" class="r"/><circle cx="489.2" cy="388.5" class="ak"/><circle cx="539.5" cy="386.7" class="ak"/><circle cx="434.2" cy="283.3" class="M"/><circle cx="448.5" cy="390.8" class="al"/><circle cx="610.4" cy="237.4" class="B"/><circle cx="588.0" cy="385.2" class="ak"/><circle cx="474.6" cy="183.5" class="p"/><circle cx="498.1" cy="160.9" class="j"/><circle cx="451.9" cy="222.8" class="y"/><circle cx="576.4" cy="178.0" class="n"/><circle cx="603.6" cy="222.3" class="y"/><circle cx="430.6" cy="304.0" class="R"/><circle cx="492.5" cy="164.5" class="k"/><circle cx="486.0" cy="170.2" class="l"/><circle cx="470.8" cy="390.0" class="al"/><circle cx="454.4" cy="216.0" class="w"/><circle cx="505.6" cy="156.6" class="i"/><circle cx="481.8" cy="388.5" class="ak"/><circle cx="512.9" cy="153.9" class="i"/><circle cx="591.2" cy="196.7" class="s"/><circle cx="430.4" cy="301.4" class="Q"/><circle cx="616.6" cy="266.8" class="I"/><circle cx="471.8" cy="389.6" class="al"/><circle cx="568.4" cy="169.6" class="l"/><circle cx="576.9" cy="176.4" class="n"/><circle cx="570.4" cy="386.2" class="ak"/><circle cx="498.0" cy="159.9" class="j"/><circle cx="451.1" cy="389.9" class="al"/><circle cx="496.1" cy="388.7" class="ak"/><circle cx="620.6" cy="311.0" class="S"/><circle cx="479.6" cy="389.5" class="ak"/><circle cx="480.0" cy="175.0" class="n"/><circle cx="505.7" cy="155.5" class="i"/><circle cx="474.8" cy="181.7" class="o"/><circle cx="492.9" cy="163.6" class="k"/><circle cx="463.8" cy="197.6" class="s"/><circle cx="486.3" cy="389.9" class="al"/><circle cx="513.2" cy="152.9" class="h"/><circle cx="597.7" cy="206.9" class="u"/><circle cx="466.8" cy="390.5" class="al"/><circle cx="615.4" cy="384.1" class="aj"/><circle cx="557.2" cy="386.5" class="ak"/><circle cx="427.0" cy="340.5" class="Z"/><circle cx="582.7" cy="184.6" class="p"/><circle cx="470.2" cy="186.9" class="p"/><circle cx="498.0" cy="158.9" class="j"/><circle cx="476.8" cy="390.6" class="al"/><circle cx="486.0" cy="168.5" class="l"/><circle cx="436.9" cy="266.5" class="I"/><circle cx="610.7" cy="235.3" class="A"/><circle cx="486.2" cy="167.5" class="l"/><circle cx="427.7" cy="388.1" class="ak"/><circle cx="505.7" cy="154.5" class="i"/><circle cx="603.9" cy="220.4" class="x"/><circle cx="583.3" cy="183.1" class="o"/><circle cx="591.1" cy="194.8" class="r"/><circle cx="506.1" cy="153.5" class="h"/><circle cx="430.6" cy="297.7" class="P"/><circle cx="619.2" cy="281.9" class="L"/><circle cx="576.8" cy="174.8" class="m"/><circle cx="459.3" cy="203.5" class="t"/><circle cx="466.1" cy="192.4" class="q"/><circle cx="456.6" cy="211.0" class="v"/><circle cx="432.6" cy="392.1" class="al"/><circle cx="498.1" cy="157.9" class="i"/><circle cx="492.5" cy="162.5" class="j"/><circle cx="429.0" cy="311.7" class="S"/><circle cx="519.6" cy="388.6" class="ak"/><circle cx="620.8" cy="297.1" class="P"/><circle cx="474.8" cy="179.7" class="n"/><circle cx="479.8" cy="173.1" class="m"/><circle cx="426.9" cy="368.1" class="af"/><circle cx="594.7" cy="386.4" class="ak"/><circle cx="492.4" cy="161.5" class="j"/><circle cx="437.4" cy="264.7" class="H"/><circle cx="486.0" cy="166.5" class="k"/><circle cx="597.5" cy="204.9" class="t"/><circle cx="527.3" cy="388.2" class="ak"/><circle cx="613.8" cy="248.7" class="D"/><circle cx="470.3" cy="184.9" class="p"/><circle cx="498.2" cy="157.0" class="i"/><circle cx="544.3" cy="388.1" class="ak"/><circle cx="575.4" cy="387.2" class="ak"/><circle cx="620.9" cy="369.8" class="ag"/><circle cx="444.8" cy="237.1" class="B"/><circle cx="464.4" cy="390.8" class="al"/><circle cx="499.7" cy="388.9" class="ak"/><circle cx="449.9" cy="223.2" class="y"/><circle cx="538.9" cy="388.0" class="ak"/><circle cx="505.7" cy="152.5" class="h"/><circle cx="508.2" cy="389.3" class="ak"/><circle cx="429.2" cy="392.8" class="al"/><circle cx="492.5" cy="160.5" class="j"/><circle cx="604.2" cy="218.4" class="w"/><circle cx="591.5" cy="193.2" class="r"/><circle cx="435.1" cy="392.4" class="al"/><circle cx="480.1" cy="171.5" class="l"/><circle cx="577.0" cy="173.3" class="m"/><circle cx="463.5" cy="194.7" class="r"/><circle cx="621.4" cy="348.8" class="ab"/><circle cx="426.5" cy="349.4" class="ab"/><circle cx="445.8" cy="233.6" class="A"/><circle cx="454.6" cy="212.0" class="v"/><circle cx="498.1" cy="156.0" class="i"/><circle cx="583.2" cy="181.4" class="o"/><circle cx="610.4" cy="232.9" class="A"/><circle cx="484.0" cy="391.2" class="al"/><circle cx="436.6" cy="265.1" class="H"/><circle cx="461.5" cy="392.0" class="al"/><circle cx="486.0" cy="165.5" class="k"/><circle cx="456.6" cy="208.1" class="u"/><circle cx="492.7" cy="391.0" class="al"/><circle cx="506.0" cy="151.6" class="h"/><circle cx="459.6" cy="392.0" class="al"/><circle cx="454.5" cy="392.6" class="al"/><circle cx="492.7" cy="159.6" class="j"/><circle cx="470.5" cy="183.0" class="o"/><circle cx="616.7" cy="262.3" class="H"/><circle cx="597.7" cy="203.1" class="t"/><circle cx="439.1" cy="256.4" class="F"/><circle cx="498.9" cy="390.2" class="ak"/><circle cx="465.8" cy="189.8" class="q"/><circle cx="514.0" cy="389.4" class="ak"/><circle cx="563.5" cy="388.0" class="ak"/><circle cx="486.1" cy="164.6" class="k"/><circle cx="474.6" cy="177.7" class="n"/><circle cx="440.2" cy="392.9" class="al"/><circle cx="448.6" cy="224.6" class="y"/><circle cx="451.9" cy="217.6" class="w"/><circle cx="463.7" cy="192.6" class="q"/><circle cx="436.2" cy="265.1" class="H"/><circle cx="604.6" cy="216.5" class="w"/><circle cx="445.9" cy="393.2" class="al"/><circle cx="492.8" cy="158.7" class="i"/><circle cx="591.3" cy="191.4" class="q"/><circle cx="583.3" cy="179.8" class="n"/><circle cx="498.0" cy="155.0" class="h"/><circle cx="621.3" cy="330.5" class="W"/><circle cx="437.7" cy="392.9" class="al"/><circle cx="473.7" cy="392.1" class="al"/><circle cx="498.1" cy="154.1" class="h"/><circle cx="485.9" cy="163.6" class="j"/><circle cx="466.2" cy="188.0" class="p"/><circle cx="457.1" cy="392.7" class="al"/><circle cx="619.3" cy="381.1" class="ai"/><circle cx="620.6" cy="305.3" class="Q"/><circle cx="531.3" cy="389.8" class="ak"/><circle cx="610.6" cy="230.8" class="z"/><circle cx="472.8" cy="391.9" class="al"/><circle cx="479.8" cy="169.6" class="l"/><circle cx="486.3" cy="162.7" class="j"/><circle cx="448.6" cy="392.9" class="al"/><circle cx="470.6" cy="181.1" class="o"/><circle cx="597.7" cy="201.1" class="s"/><circle cx="459.1" cy="199.9" class="s"/><circle cx="474.5" cy="175.9" class="m"/><circle cx="492.6" cy="157.7" class="i"/><circle cx="583.4" cy="178.2" class="n"/><circle cx="443.1" cy="393.1" class="al"/><circle cx="451.4" cy="393.5" class="al"/><circle cx="619.2" cy="276.9" class="K"/><circle cx="601.7" cy="387.0" class="aj"/><circle cx="498.1" cy="153.1" class="h"/><circle cx="549.5" cy="389.5" class="ak"/><circle cx="454.5" cy="208.5" class="u"/><circle cx="614.1" cy="244.8" class="C"/><circle cx="435.8" cy="264.6" class="H"/><circle cx="543.2" cy="389.4" class="ak"/><circle cx="428.3" cy="317.4" class="T"/><circle cx="591.4" cy="189.6" class="p"/><circle cx="478.9" cy="392.5" class="al"/><circle cx="475.1" cy="174.4" class="m"/><circle cx="486.5" cy="161.9" class="j"/><circle cx="581.3" cy="388.2" class="ak"/><circle cx="492.6" cy="156.8" class="i"/><circle cx="468.4" cy="392.8" class="al"/><circle cx="511.4" cy="390.4" class="ak"/><circle cx="604.1" cy="214.2" class="v"/><circle cx="524.4" cy="390.4" class="ak"/><circle cx="482.6" cy="391.8" class="ak"/><circle cx="456.7" cy="204.7" class="t"/><circle cx="489.9" cy="391.8" class="ak"/><circle cx="463.7" cy="190.2" class="q"/><circle cx="498.3" cy="152.3" class="h"/><circle cx="459.4" cy="197.7" class="r"/><circle cx="480.0" cy="168.0" class="k"/><circle cx="567.7" cy="388.7" class="ak"/><circle cx="610.8" cy="228.6" class="y"/><circle cx="449.9" cy="218.3" class="w"/><circle cx="597.8" cy="199.3" class="s"/><circle cx="447.3" cy="225.4" class="y"/><circle cx="492.7" cy="155.9" class="i"/><circle cx="429.5" cy="302.6" class="Q"/><circle cx="517.5" cy="391.4" class="ak"/><circle cx="466.0" cy="185.8" class="o"/><circle cx="620.6" cy="291.8" class="N"/><circle cx="583.2" cy="176.5" class="m"/><circle cx="486.3" cy="160.9" class="j"/><circle cx="498.2" cy="151.3" class="g"/><circle cx="435.4" cy="264.3" class="H"/><circle cx="591.6" cy="187.9" class="p"/><circle cx="431.3" cy="394.6" class="al"/><circle cx="465.8" cy="393.4" class="al"/><circle cx="492.6" cy="155.0" class="h"/><circle cx="504.0" cy="392.1" class="ak"/><circle cx="470.3" cy="179.0" class="n"/><circle cx="445.9" cy="227.7" class="y"/><circle cx="604.9" cy="212.6" class="v"/><circle cx="498.4" cy="150.4" class="g"/><circle cx="451.8" cy="213.4" class="v"/><circle cx="479.7" cy="166.3" class="k"/><circle cx="616.6" cy="257.8" class="F"/><circle cx="614.4" cy="242.6" class="C"/><circle cx="431.4" cy="288.1" class="M"/><circle cx="480.1" cy="165.5" class="k"/><circle cx="486.2" cy="159.9" class="i"/><circle cx="459.2" cy="195.4" class="r"/><circle cx="480.2" cy="164.7" class="j"/><circle cx="431.5" cy="282.7" class="L"/></g><g fill-opacity="0.56" stroke-opacity="0.56"><circle cx="428.5" cy="391.1" class="ak"/><circle cx="622.3" cy="342.9" class="Z"/><circle cx="607.0" cy="387.9" class="aj"/><circle cx="598.1" cy="197.6" class="r"/><circle cx="492.5" cy="154.1" class="h"/><circle cx="457.6" cy="394.2" class="al"/><circle cx="486.6" cy="392.7" class="ak"/><circle cx="437.6" cy="254.3" class="E"/><circle cx="456.6" cy="201.8" class="s"/><circle cx="427.1" cy="370.1" class="af"/><circle cx="465.9" cy="183.7" class="o"/><circle cx="492.7" cy="153.1" class="h"/><circle cx="610.6" cy="226.4" class="y"/><circle cx="496.0" cy="392.7" class="ak"/><circle cx="474.5" cy="172.4" class="l"/><circle cx="470.3" cy="177.2" class="m"/><circle cx="462.5" cy="394.3" class="al"/><circle cx="535.5" cy="391.3" class="ak"/><circle cx="591.7" cy="186.2" class="o"/><circle cx="463.4" cy="187.8" class="p"/><circle cx="437.9" cy="253.6" class="E"/><circle cx="454.8" cy="205.1" class="t"/><circle cx="621.3" cy="362.8" class="ad"/><circle cx="502.5" cy="391.8" class="ak"/><circle cx="475.3" cy="393.8" class="al"/><circle cx="486.1" cy="159.1" class="i"/><circle cx="460.6" cy="394.5" class="al"/><circle cx="486.3" cy="158.2" class="i"/><circle cx="604.8" cy="210.5" class="u"/><circle cx="474.8" cy="170.9" class="l"/><circle cx="587.2" cy="388.8" class="aj"/><circle cx="433.9" cy="395.3" class="al"/><circle cx="619.6" cy="272.5" class="I"/><circle cx="448.6" cy="218.9" class="w"/><circle cx="452.0" cy="210.3" class="u"/><circle cx="480.1" cy="163.7" class="j"/><circle cx="426.4" cy="350.6" class="ab"/><circle cx="621.0" cy="300.3" class="P"/><circle cx="439.7" cy="395.5" class="al"/><circle cx="614.3" cy="240.1" class="B"/><circle cx="474.2" cy="393.3" class="ak"/><circle cx="427.6" cy="323.0" class="U"/><circle cx="598.3" cy="195.8" class="r"/><circle cx="621.5" cy="324.5" class="U"/><circle cx="515.1" cy="392.5" class="ak"/><circle cx="554.8" cy="390.6" class="ak"/><circle cx="463.7" cy="185.9" class="o"/><circle cx="447.2" cy="220.9" class="w"/><circle cx="486.3" cy="157.3" class="i"/><circle cx="549.0" cy="391.2" class="ak"/><circle cx="444.9" cy="228.8" class="y"/><circle cx="591.7" cy="184.4" class="o"/><circle cx="573.5" cy="390.2" class="ak"/><circle cx="493.0" cy="151.5" class="g"/><circle cx="492.5" cy="152.3" class="g"/><circle cx="610.6" cy="224.2" class="x"/><circle cx="484.6" cy="393.8" class="ak"/><circle cx="459.1" cy="192.8" class="q"/><circle cx="529.1" cy="392.3" class="ak"/><circle cx="492.2" cy="393.2" class="ak"/><circle cx="437.1" cy="394.9" class="al"/><circle cx="451.5" cy="394.2" class="al"/><circle cx="431.8" cy="282.7" class="L"/><circle cx="492.8" cy="150.5" class="g"/><circle cx="470.4" cy="175.5" class="m"/><circle cx="466.1" cy="181.8" class="n"/><circle cx="486.4" cy="156.5" class="h"/><circle cx="479.9" cy="162.8" class="j"/><circle cx="449.9" cy="213.6" class="v"/><circle cx="429.8" cy="295.2" class="O"/><circle cx="474.8" cy="169.2" class="k"/><circle cx="456.7" cy="198.9" class="r"/><circle cx="604.5" cy="208.4" class="t"/><circle cx="445.6" cy="395.9" class="al"/><circle cx="435.0" cy="262.4" class="G"/><circle cx="506.9" cy="393.6" class="ak"/><circle cx="455.4" cy="395.0" class="al"/><circle cx="597.9" cy="193.8" class="q"/><circle cx="428.7" cy="307.2" class="Q"/><circle cx="616.6" cy="253.5" class="E"/><circle cx="442.6" cy="394.8" class="al"/><circle cx="448.8" cy="395.6" class="al"/><circle cx="521.7" cy="393.0" class="ak"/><circle cx="486.1" cy="155.6" class="h"/><circle cx="429.7" cy="292.5" class="N"/><circle cx="454.6" cy="201.8" class="s"/><circle cx="614.6" cy="389.1" class="aj"/><circle cx="614.2" cy="237.8" class="A"/><circle cx="426.8" cy="331.4" class="W"/><circle cx="619.6" cy="373.8" class="ag"/><circle cx="591.7" cy="182.8" class="n"/><circle cx="474.7" cy="167.7" class="k"/><circle cx="433.6" cy="266.7" class="H"/><circle cx="479.9" cy="161.9" class="i"/><circle cx="479.8" cy="161.0" class="i"/><circle cx="611.1" cy="222.3" class="w"/><circle cx="470.4" cy="173.8" class="l"/><circle cx="492.7" cy="149.7" class="g"/><circle cx="466.2" cy="180.0" class="n"/><circle cx="463.5" cy="183.7" class="o"/><circle cx="592.7" cy="389.9" class="aj"/><circle cx="459.3" cy="190.5" class="p"/><circle cx="486.3" cy="154.8" class="h"/><circle cx="432.1" cy="278.8" class="K"/><circle cx="448.6" cy="214.8" class="v"/><circle cx="498.5" cy="394.3" class="ak"/><circle cx="605.0" cy="206.6" class="t"/><circle cx="479.9" cy="160.2" class="i"/><circle cx="481.9" cy="394.9" class="ak"/><circle cx="470.3" cy="395.3" class="al"/><circle cx="592.0" cy="181.1" class="n"/><circle cx="598.4" cy="192.2" class="p"/><circle cx="486.1" cy="153.9" class="h"/><circle cx="456.7" cy="196.4" class="q"/><circle cx="463.6" cy="182.1" class="n"/><circle cx="553.4" cy="392.3" class="ak"/><circle cx="560.1" cy="392.1" class="ak"/><circle cx="486.3" cy="153.0" class="g"/><circle cx="451.8" cy="206.3" class="t"/><circle cx="474.8" cy="166.2" class="j"/><circle cx="614.6" cy="235.7" class="z"/><circle cx="470.3" cy="172.1" class="l"/><circle cx="578.6" cy="390.7" class="aj"/><circle cx="479.9" cy="159.4" class="i"/><circle cx="454.5" cy="199.1" class="r"/><circle cx="540.5" cy="392.2" class="ak"/><circle cx="611.3" cy="220.3" class="w"/><circle cx="459.4" cy="188.5" class="p"/><circle cx="621.8" cy="295.6" class="N"/><circle cx="505.9" cy="393.9" class="ak"/><circle cx="467.4" cy="396.2" class="al"/><circle cx="622.1" cy="336.2" class="X"/><circle cx="465.9" cy="178.1" class="m"/><circle cx="428.7" cy="301.8" class="P"/><circle cx="447.4" cy="216.1" class="v"/><circle cx="429.8" cy="397.3" class="al"/><circle cx="442.8" cy="229.2" class="y"/><circle cx="533.0" cy="393.5" class="ak"/><circle cx="443.6" cy="226.2" class="x"/><circle cx="466.4" cy="176.7" class="m"/><circle cx="449.8" cy="209.6" class="t"/><circle cx="470.4" cy="170.6" class="k"/><circle cx="480.0" cy="158.5" class="i"/><circle cx="427.7" cy="313.1" class="R"/><circle cx="474.8" cy="164.7" class="j"/><circle cx="486.2" cy="152.2" class="g"/><circle cx="477.5" cy="395.7" class="al"/><circle cx="444.7" cy="223.0" class="w"/><circle cx="597.8" cy="190.2" class="p"/><circle cx="622.5" cy="319.6" class="T"/><circle cx="604.2" cy="204.4" class="s"/><circle cx="617.3" cy="249.7" class="D"/><circle cx="480.1" cy="156.9" class="h"/><circle cx="489.9" cy="394.7" class="ak"/><circle cx="463.8" cy="396.7" class="al"/><circle cx="432.7" cy="398.0" class="al"/><circle cx="479.9" cy="157.7" class="h"/><circle cx="519.3" cy="394.0" class="ak"/><circle cx="427.6" cy="373.0" class="af"/><circle cx="474.9" cy="163.9" class="j"/><circle cx="445.9" cy="220.0" class="w"/><circle cx="621.4" cy="355.9" class="ab"/><circle cx="614.8" cy="233.6" class="z"/><circle cx="463.9" cy="180.1" class="m"/><circle cx="461.8" cy="397.0" class="al"/><circle cx="486.4" cy="151.5" class="g"/><circle cx="435.1" cy="259.2" class="F"/><circle cx="474.9" cy="163.1" class="i"/><circle cx="495.4" cy="395.6" class="ak"/><circle cx="486.3" cy="150.6" class="g"/><circle cx="599.4" cy="391.4" class="aj"/><circle cx="470.5" cy="169.1" class="k"/><circle cx="611.2" cy="218.2" class="v"/><circle cx="438.9" cy="398.1" class="al"/><circle cx="525.8" cy="394.5" class="ak"/><circle cx="487.1" cy="396.0" class="ak"/><circle cx="486.6" cy="149.8" class="f"/><circle cx="454.6" cy="196.4" class="q"/><circle cx="617.8" cy="386.7" class="ai"/><circle cx="604.9" cy="202.7" class="s"/><circle cx="466.2" cy="174.9" class="l"/><circle cx="452.1" cy="203.1" class="s"/><circle cx="598.3" cy="188.6" class="o"/><circle cx="430.3" cy="284.9" class="L"/><circle cx="564.3" cy="392.9" class="ak"/><circle cx="479.9" cy="156.1" class="h"/><circle cx="557.4" cy="393.3" class="ak"/><circle cx="436.3" cy="397.1" class="al"/><circle cx="426.7" cy="351.6" class="aa"/><circle cx="456.7" cy="193.3" class="p"/><circle cx="432.8" cy="271.4" class="I"/><circle cx="450.1" cy="206.4" class="s"/><circle cx="426.9" cy="321.2" class="T"/><circle cx="474.8" cy="162.2" class="i"/><circle cx="459.3" cy="186.0" class="o"/><circle cx="458.7" cy="397.5" class="al"/><circle cx="511.1" cy="395.4" class="ak"/><circle cx="584.6" cy="392.7" class="ak"/><circle cx="617.3" cy="247.3" class="C"/><circle cx="476.8" cy="396.2" class="ak"/><circle cx="615.0" cy="231.4" class="y"/><circle cx="544.7" cy="393.9" class="ak"/><circle cx="474.9" cy="161.4" class="i"/><circle cx="442.3" cy="398.3" class="al"/><circle cx="448.9" cy="397.7" class="al"/><circle cx="448.8" cy="209.9" class="t"/><circle cx="455.8" cy="397.4" class="al"/><circle cx="463.6" cy="178.2" class="m"/><circle cx="486.1" cy="149.0" class="f"/><circle cx="480.0" cy="154.5" class="g"/><circle cx="470.5" cy="167.6" class="j"/><circle cx="605.0" cy="200.8" class="r"/><circle cx="466.2" cy="173.3" class="l"/><circle cx="445.5" cy="398.1" class="al"/><circle cx="463.8" cy="176.8" class="l"/><circle cx="446.0" cy="216.2" class="v"/><circle cx="430.3" cy="280.9" class="K"/><circle cx="479.9" cy="155.3" class="h"/><circle cx="619.3" cy="263.2" class="F"/><circle cx="426.4" cy="332.5" class="W"/><circle cx="448.5" cy="207.7" class="t"/><circle cx="610.9" cy="216.0" class="v"/><circle cx="475.1" cy="160.7" class="i"/><circle cx="454.6" cy="194.1" class="p"/><circle cx="598.6" cy="187.0" class="o"/><circle cx="433.9" cy="262.7" class="F"/><circle cx="447.3" cy="211.7" class="u"/><circle cx="619.7" cy="366.2" class="ad"/><circle cx="484.2" cy="397.2" class="ak"/><circle cx="621.7" cy="290.3" class="M"/><circle cx="434.8" cy="258.6" class="E"/><circle cx="456.6" cy="191.1" class="p"/><circle cx="537.2" cy="395.1" class="ak"/><circle cx="452.1" cy="398.5" class="al"/><circle cx="471.9" cy="397.4" class="al"/><circle cx="502.1" cy="396.4" class="ak"/><circle cx="459.3" cy="184.0" class="n"/><circle cx="441.3" cy="229.4" class="y"/><circle cx="429.0" cy="292.6" class="M"/><circle cx="617.7" cy="245.2" class="B"/><circle cx="509.6" cy="395.6" class="ak"/><circle cx="470.1" cy="166.0" class="j"/><circle cx="479.9" cy="153.8" class="g"/><circle cx="474.8" cy="159.8" class="h"/><circle cx="452.0" cy="200.0" class="r"/><circle cx="466.1" cy="171.7" class="k"/><circle cx="480.0" cy="153.0" class="g"/><circle cx="605.4" cy="392.3" class="aj"/><circle cx="444.9" cy="217.6" class="v"/><circle cx="622.8" cy="330.7" class="V"/><circle cx="522.7" cy="395.6" class="ak"/><circle cx="605.1" cy="199.0" class="q"/><circle cx="611.4" cy="214.2" class="u"/><circle cx="614.7" cy="229.2" class="x"/><circle cx="597.9" cy="185.0" class="n"/><circle cx="622.6" cy="313.8" class="R"/><circle cx="463.7" cy="175.0" class="l"/><circle cx="456.6" cy="189.0" class="o"/><circle cx="470.4" cy="164.7" class="j"/><circle cx="492.3" cy="397.4" class="ak"/><circle cx="450.0" cy="202.8" class="r"/><circle cx="430.7" cy="276.3" class="I"/><circle cx="475.2" cy="157.6" class="h"/><circle cx="474.8" cy="159.0" class="h"/><circle cx="468.8" cy="397.9" class="ak"/><circle cx="569.7" cy="394.4" class="ak"/><circle cx="454.5" cy="191.5" class="p"/><circle cx="466.1" cy="170.2" class="k"/><circle cx="474.9" cy="158.3" class="h"/><circle cx="479.8" cy="151.4" class="f"/><circle cx="480.2" cy="150.7" class="f"/><circle cx="463.8" cy="173.6" class="l"/><circle cx="442.2" cy="224.8" class="w"/><circle cx="479.8" cy="152.2" class="g"/><circle cx="428.1" cy="301.0" class="O"/><circle cx="590.6" cy="393.8" class="aj"/><circle cx="622.0" cy="349.6" class="Z"/><circle cx="530.1" cy="395.8" class="ak"/><circle cx="459.3" cy="182.0" class="m"/><circle cx="549.4" cy="395.6" class="ak"/><circle cx="442.9" cy="221.7" class="w"/><circle cx="443.5" cy="219.1" class="v"/><circle cx="445.8" cy="212.0" class="t"/><circle cx="562.6" cy="394.3" class="ak"/><circle cx="617.3" cy="242.6" class="A"/><circle cx="614.7" cy="226.9" class="x"/><circle cx="605.5" cy="197.4" class="q"/><circle cx="611.4" cy="212.1" class="t"/><circle cx="474.8" cy="156.7" class="h"/><circle cx="465.0" cy="399.0" class="al"/><circle cx="452.0" cy="197.2" class="q"/><circle cx="470.5" cy="163.3" class="i"/><circle cx="619.7" cy="259.0" class="E"/><circle cx="431.6" cy="400.2" class="al"/><circle cx="466.1" cy="168.7" class="j"/><circle cx="435.5" cy="400.0" class="al"/><circle cx="459.3" cy="180.4" class="m"/><circle cx="541.3" cy="396.3" class="ak"/><circle cx="428.4" cy="376.3" class="af"/><circle cx="426.8" cy="356.1" class="ab"/><circle cx="470.4" cy="162.5" class="i"/><circle cx="490.0" cy="397.9" class="ak"/><circle cx="470.5" cy="161.8" class="i"/><circle cx="478.7" cy="398.5" class="ak"/><circle cx="480.0" cy="398.6" class="ak"/><circle cx="480.0" cy="149.2" class="f"/><circle cx="480.0" cy="150.0" class="f"/><circle cx="475.0" cy="156.0" class="g"/><circle cx="463.8" cy="172.0" class="k"/><circle cx="514.7" cy="396.9" class="ak"/><circle cx="448.7" cy="203.4" class="r"/><circle cx="605.6" cy="195.5" class="p"/><circle cx="454.5" cy="189.2" class="o"/><circle cx="499.0" cy="397.8" class="ak"/><circle cx="456.7" cy="186.6" class="n"/><circle cx="450.0" cy="199.8" class="q"/><circle cx="463.0" cy="399.2" class="al"/><circle cx="470.5" cy="161.1" class="h"/><circle cx="618.1" cy="379.2" class="ag"/><circle cx="611.7" cy="393.8" class="aj"/><circle cx="456.8" cy="185.1" class="n"/><circle cx="427.3" cy="308.6" class="Q"/><circle cx="475.0" cy="155.3" class="g"/><circle cx="429.4" cy="284.4" class="K"/><circle cx="480.0" cy="148.5" class="f"/><circle cx="459.2" cy="178.7" class="l"/><circle cx="611.2" cy="210.1" class="t"/><circle cx="614.8" cy="224.9" class="w"/><circle cx="447.4" cy="206.7" class="s"/><circle cx="426.4" cy="335.4" class="W"/><circle cx="474.9" cy="154.5" class="g"/><circle cx="617.6" cy="240.6" class="A"/><circle cx="438.2" cy="400.4" class="al"/><circle cx="466.0" cy="167.3" class="j"/><circle cx="475.1" cy="153.8" class="g"/><circle cx="431.2" cy="268.0" class="G"/><circle cx="513.3" cy="397.7" class="ak"/><circle cx="451.8" cy="194.5" class="p"/></g><g fill-opacity="0.58" stroke-opacity="0.58"><circle cx="459.6" cy="399.8" class="al"/><circle cx="463.6" cy="170.4" class="k"/><circle cx="470.7" cy="159.6" class="h"/><circle cx="470.6" cy="160.3" class="h"/><circle cx="466.1" cy="165.9" class="i"/><circle cx="443.0" cy="217.2" class="u"/><circle cx="605.3" cy="193.6" class="p"/><circle cx="444.8" cy="212.3" class="t"/><circle cx="620.4" cy="359.9" class="ab"/><circle cx="441.3" cy="222.6" class="w"/><circle cx="441.0" cy="225.3" class="w"/><circle cx="611.6" cy="208.2" class="s"/><circle cx="456.7" cy="183.2" class="m"/><circle cx="452.4" cy="401.0" class="al"/><circle cx="622.7" cy="308.3" class="P"/><circle cx="527.6" cy="397.8" class="ak"/><circle cx="454.5" cy="187.0" class="n"/><circle cx="449.1" cy="400.8" class="al"/><circle cx="456.4" cy="400.8" class="al"/><circle cx="426.7" cy="317.6" class="R"/><circle cx="486.8" cy="398.9" class="ak"/><circle cx="447.2" cy="204.0" class="r"/><circle cx="441.8" cy="401.2" class="al"/><circle cx="622.7" cy="324.6" class="T"/><circle cx="470.5" cy="158.8" class="h"/><circle cx="459.1" cy="176.9" class="l"/><circle cx="475.2" cy="152.4" class="f"/><circle cx="445.9" cy="207.7" class="s"/><circle cx="617.6" cy="238.2" class="z"/><circle cx="614.9" cy="222.8" class="w"/><circle cx="596.9" cy="394.4" class="aj"/><circle cx="470.7" cy="158.1" class="h"/><circle cx="619.9" cy="254.9" class="D"/><circle cx="429.5" cy="279.4" class="J"/><circle cx="475.0" cy="153.1" class="f"/><circle cx="466.3" cy="164.7" class="i"/><circle cx="445.3" cy="401.5" class="al"/><circle cx="428.4" cy="292.0" class="M"/><circle cx="505.9" cy="397.7" class="ak"/><circle cx="463.7" cy="169.0" class="j"/><circle cx="568.9" cy="396.3" class="ak"/><circle cx="554.5" cy="397.2" class="ak"/><circle cx="534.0" cy="397.0" class="ak"/><circle cx="605.4" cy="191.7" class="o"/><circle cx="431.6" cy="262.8" class="F"/><circle cx="474.0" cy="399.9" class="ak"/><circle cx="451.8" cy="192.0" class="o"/><circle cx="576.0" cy="395.0" class="aj"/><circle cx="463.7" cy="167.7" class="j"/><circle cx="448.6" cy="199.8" class="q"/><circle cx="456.9" cy="181.4" class="m"/><circle cx="474.9" cy="151.7" class="f"/><circle cx="611.9" cy="206.4" class="s"/><circle cx="470.5" cy="157.4" class="g"/><circle cx="466.3" cy="163.4" class="i"/><circle cx="459.4" cy="175.4" class="k"/><circle cx="454.7" cy="185.0" class="n"/><circle cx="517.9" cy="398.6" class="ak"/><circle cx="474.8" cy="151.0" class="f"/><circle cx="622.3" cy="343.2" class="X"/><circle cx="470.2" cy="400.5" class="ak"/><circle cx="442.3" cy="218.1" class="u"/><circle cx="475.0" cy="150.3" class="f"/><circle cx="615.0" cy="220.7" class="v"/><circle cx="618.0" cy="236.1" class="y"/><circle cx="495.9" cy="399.8" class="ak"/><circle cx="470.3" cy="156.6" class="g"/><circle cx="470.5" cy="156.0" class="g"/><circle cx="619.9" cy="252.4" class="C"/><circle cx="546.2" cy="397.5" class="ak"/><circle cx="463.8" cy="166.4" class="i"/><circle cx="449.9" cy="194.4" class="p"/><circle cx="614.9" cy="390.7" class="ai"/><circle cx="429.8" cy="382.8" class="ag"/><circle cx="450.0" cy="195.9" class="p"/><circle cx="443.8" cy="212.7" class="t"/><circle cx="466.1" cy="162.0" class="h"/><circle cx="605.6" cy="190.1" class="o"/><circle cx="481.9" cy="400.5" class="ak"/><circle cx="474.9" cy="149.6" class="e"/><circle cx="444.9" cy="208.3" class="s"/><circle cx="459.2" cy="173.8" class="k"/><circle cx="463.9" cy="165.1" class="i"/><circle cx="466.3" cy="400.6" class="ak"/><circle cx="492.8" cy="400.3" class="ak"/><circle cx="451.9" cy="189.7" class="o"/><circle cx="612.0" cy="204.5" class="r"/><circle cx="480.7" cy="401.2" class="ak"/><circle cx="470.6" cy="155.3" class="g"/><circle cx="470.7" cy="154.6" class="g"/><circle cx="475.0" cy="148.9" class="e"/><circle cx="448.7" cy="197.1" class="p"/><circle cx="466.2" cy="161.3" class="h"/><circle cx="516.5" cy="399.2" class="ak"/><circle cx="615.4" cy="218.8" class="u"/><circle cx="454.4" cy="183.0" class="m"/><circle cx="427.6" cy="358.2" class="ab"/><circle cx="502.5" cy="400.4" class="ak"/><circle cx="440.0" cy="220.5" class="v"/><circle cx="428.6" cy="285.2" class="K"/><circle cx="470.7" cy="153.9" class="f"/><circle cx="456.8" cy="179.4" class="l"/><circle cx="459.3" cy="172.4" class="k"/><circle cx="463.9" cy="402.0" class="al"/><circle cx="430.0" cy="273.6" class="H"/><circle cx="581.0" cy="397.1" class="aj"/><circle cx="439.6" cy="223.2" class="v"/><circle cx="508.7" cy="400.3" class="ak"/><circle cx="457.3" cy="402.4" class="al"/><circle cx="602.7" cy="395.8" class="aj"/><circle cx="466.2" cy="160.6" class="h"/><circle cx="474.9" cy="148.2" class="e"/><circle cx="617.9" cy="233.9" class="y"/><circle cx="463.9" cy="163.8" class="i"/><circle cx="446.0" cy="203.5" class="r"/><circle cx="623.1" cy="303.2" class="O"/><circle cx="574.0" cy="397.7" class="ak"/><circle cx="437.6" cy="402.9" class="al"/><circle cx="538.2" cy="399.2" class="ak"/><circle cx="618.5" cy="372.2" class="ae"/><circle cx="443.6" cy="209.5" class="s"/><circle cx="427.0" cy="307.4" class="P"/><circle cx="620.0" cy="250.1" class="B"/><circle cx="434.5" cy="403.6" class="al"/><circle cx="426.7" cy="336.9" class="W"/><circle cx="456.7" cy="177.8" class="l"/><circle cx="612.0" cy="202.5" class="q"/><circle cx="466.1" cy="159.9" class="h"/><circle cx="623.1" cy="319.1" class="R"/><circle cx="470.6" cy="152.6" class="f"/><circle cx="447.2" cy="199.6" class="q"/><circle cx="559.6" cy="398.6" class="ak"/><circle cx="426.2" cy="319.4" class="R"/><circle cx="451.9" cy="187.5" class="n"/><circle cx="448.5" cy="194.6" class="p"/><circle cx="470.5" cy="153.3" class="f"/><circle cx="459.3" cy="171.0" class="j"/><circle cx="466.3" cy="159.3" class="g"/><circle cx="463.9" cy="162.6" class="h"/><circle cx="620.6" cy="353.2" class="Z"/><circle cx="615.5" cy="216.9" class="u"/><circle cx="502.3" cy="217.9" class="u"/><circle cx="438.7" cy="222.6" class="v"/><circle cx="532.7" cy="399.8" class="ak"/><circle cx="452.5" cy="402.8" class="al"/><circle cx="449.9" cy="191.4" class="o"/><circle cx="618.4" cy="231.9" class="x"/><circle cx="445.9" cy="201.0" class="q"/><circle cx="466.2" cy="158.6" class="g"/><circle cx="440.9" cy="218.5" class="u"/><circle cx="454.5" cy="181.0" class="l"/><circle cx="463.7" cy="161.4" class="h"/><circle cx="447.2" cy="197.4" class="p"/><circle cx="449.1" cy="403.5" class="al"/><circle cx="470.6" cy="151.9" class="f"/><circle cx="456.8" cy="176.3" class="k"/><circle cx="441.3" cy="215.5" class="t"/><circle cx="460.5" cy="402.5" class="ak"/><circle cx="498.2" cy="400.8" class="ak"/><circle cx="470.6" cy="151.3" class="f"/><circle cx="607.8" cy="397.3" class="aj"/><circle cx="459.2" cy="169.6" class="j"/><circle cx="620.5" cy="248.0" class="B"/><circle cx="466.3" cy="157.9" class="g"/><circle cx="489.5" cy="401.2" class="ak"/><circle cx="466.3" cy="157.2" class="g"/><circle cx="441.5" cy="403.6" class="al"/><circle cx="612.0" cy="200.6" class="q"/><circle cx="454.5" cy="179.5" class="l"/><circle cx="445.0" cy="402.7" class="ak"/><circle cx="448.5" cy="192.3" class="o"/><circle cx="464.0" cy="160.7" class="h"/><circle cx="459.2" cy="168.4" class="i"/><circle cx="438.9" cy="224.4" class="v"/><circle cx="466.2" cy="156.6" class="g"/><circle cx="443.6" cy="206.0" class="r"/><circle cx="615.7" cy="214.8" class="t"/><circle cx="522.4" cy="400.9" class="ak"/><circle cx="551.7" cy="399.8" class="ak"/><circle cx="586.1" cy="398.5" class="aj"/><circle cx="452.0" cy="185.4" class="m"/><circle cx="442.2" cy="212.3" class="t"/><circle cx="429.0" cy="277.4" class="I"/><circle cx="470.7" cy="150.0" class="e"/><circle cx="450.0" cy="189.3" class="n"/><circle cx="444.8" cy="203.7" class="r"/><circle cx="451.9" cy="184.0" class="m"/><circle cx="475.7" cy="402.4" class="ak"/><circle cx="442.8" cy="209.8" class="s"/><circle cx="622.3" cy="337.0" class="V"/><circle cx="454.6" cy="178.0" class="l"/><circle cx="470.5" cy="150.7" class="e"/><circle cx="618.2" cy="229.6" class="w"/><circle cx="456.9" cy="174.7" class="k"/><circle cx="463.7" cy="160.0" class="g"/><circle cx="466.2" cy="155.9" class="f"/><circle cx="463.9" cy="159.4" class="g"/><circle cx="504.8" cy="401.6" class="ak"/><circle cx="428.0" cy="287.7" class="K"/><circle cx="470.6" cy="149.4" class="e"/><circle cx="611.7" cy="198.6" class="p"/><circle cx="459.3" cy="167.1" class="i"/><circle cx="466.3" cy="155.3" class="f"/><circle cx="470.8" cy="148.7" class="e"/><circle cx="495.1" cy="401.5" class="ak"/><circle cx="463.9" cy="158.7" class="g"/><circle cx="620.1" cy="245.5" class="A"/><circle cx="431.3" cy="387.7" class="ah"/><circle cx="454.7" cy="176.5" class="k"/><circle cx="623.1" cy="297.9" class="M"/><circle cx="456.8" cy="173.3" class="j"/><circle cx="564.0" cy="400.0" class="ak"/><circle cx="521.0" cy="401.8" class="ak"/><circle cx="441.3" cy="211.5" class="s"/><circle cx="444.7" cy="201.0" class="q"/><circle cx="615.2" cy="382.8" class="ag"/><circle cx="542.3" cy="400.5" class="ak"/><circle cx="428.2" cy="362.5" class="ab"/><circle cx="615.6" cy="212.9" class="s"/><circle cx="447.3" cy="194.2" class="o"/><circle cx="426.9" cy="341.9" class="W"/><circle cx="466.1" cy="154.6" class="f"/><circle cx="459.1" cy="165.8" class="i"/><circle cx="470.2" cy="148.1" class="e"/><circle cx="579.4" cy="398.3" class="aj"/><circle cx="472.2" cy="403.7" class="ak"/><circle cx="463.6" cy="158.0" class="g"/><circle cx="454.6" cy="175.1" class="k"/><circle cx="426.2" cy="323.2" class="S"/><circle cx="618.5" cy="227.7" class="w"/><circle cx="466.2" cy="154.0" class="f"/><circle cx="451.8" cy="181.9" class="l"/><circle cx="484.4" cy="402.5" class="ak"/><circle cx="482.7" cy="403.1" class="ak"/><circle cx="447.3" cy="192.4" class="o"/><circle cx="612.0" cy="196.9" class="p"/><circle cx="463.8" cy="157.4" class="g"/><circle cx="438.5" cy="222.5" class="v"/><circle cx="623.1" cy="313.5" class="Q"/><circle cx="439.5" cy="216.4" class="t"/><circle cx="512.4" cy="402.3" class="ak"/><circle cx="536.6" cy="401.6" class="ak"/><circle cx="445.8" cy="197.0" class="p"/><circle cx="427.3" cy="294.9" class="L"/><circle cx="465.2" cy="404.4" class="al"/><circle cx="466.2" cy="153.4" class="f"/><circle cx="450.0" cy="186.7" class="m"/><circle cx="620.5" cy="243.3" class="z"/><circle cx="448.6" cy="189.3" class="n"/><circle cx="440.9" cy="213.0" class="s"/><circle cx="438.7" cy="216.7" class="t"/><circle cx="615.6" cy="210.8" class="s"/><circle cx="619.0" cy="365.4" class="ac"/><circle cx="456.6" cy="171.7" class="j"/><circle cx="437.3" cy="223.2" class="v"/><circle cx="450.1" cy="185.1" class="m"/><circle cx="442.3" cy="207.9" class="r"/><circle cx="426.7" cy="305.9" class="O"/><circle cx="459.2" cy="164.5" class="h"/><circle cx="439.9" cy="213.1" class="s"/><circle cx="467.7" cy="404.0" class="ak"/><circle cx="443.6" cy="201.8" class="q"/><circle cx="466.2" cy="152.1" class="e"/><circle cx="466.2" cy="152.8" class="e"/><circle cx="448.7" cy="187.6" class="n"/><circle cx="500.8" cy="403.4" class="ak"/><circle cx="612.6" cy="195.2" class="o"/><circle cx="463.7" cy="156.7" class="f"/><circle cx="428.2" cy="279.9" class="I"/><circle cx="620.7" cy="346.8" class="X"/><circle cx="463.9" cy="155.5" class="f"/><circle cx="463.6" cy="156.1" class="f"/><circle cx="454.7" cy="173.5" class="j"/><circle cx="429.3" cy="267.3" class="F"/><circle cx="450.1" cy="183.6" class="m"/><circle cx="556.1" cy="401.3" class="ak"/><circle cx="451.9" cy="180.0" class="l"/><circle cx="438.7" cy="218.3" class="u"/><circle cx="618.2" cy="225.4" class="v"/><circle cx="456.7" cy="170.4" class="j"/><circle cx="444.7" cy="197.8" class="p"/><circle cx="459.3" cy="163.4" class="h"/><circle cx="443.1" cy="205.1" class="q"/><circle cx="491.9" cy="403.3" class="ak"/><circle cx="445.8" cy="194.5" class="o"/><circle cx="447.3" cy="190.0" class="n"/><circle cx="526.1" cy="402.4" class="ak"/><circle cx="612.7" cy="395.4" class="ai"/><circle cx="466.1" cy="151.6" class="e"/><circle cx="442.9" cy="203.1" class="q"/><circle cx="456.7" cy="169.3" class="i"/><circle cx="616.2" cy="209.1" class="r"/><circle cx="463.8" cy="154.9" class="f"/><circle cx="466.3" cy="151.0" class="e"/><circle cx="592.8" cy="400.1" class="aj"/><circle cx="441.3" cy="405.9" class="al"/><circle cx="463.9" cy="154.3" class="f"/><circle cx="477.2" cy="404.9" class="ak"/><circle cx="461.4" cy="405.5" class="al"/><circle cx="459.2" cy="162.3" class="h"/><circle cx="441.1" cy="207.2" class="r"/><circle cx="620.8" cy="241.3" class="z"/><circle cx="622.9" cy="331.6" class="U"/><circle cx="464.0" cy="153.7" class="f"/><circle cx="457.8" cy="405.7" class="al"/><circle cx="452.0" cy="178.5" class="k"/><circle cx="454.7" cy="172.1" class="j"/><circle cx="584.7" cy="400.4" class="aj"/><circle cx="456.9" cy="168.1" class="i"/><circle cx="452.9" cy="405.7" class="al"/><circle cx="466.2" cy="150.4" class="e"/><circle cx="623.5" cy="293.3" class="L"/><circle cx="438.0" cy="220.7" class="u"/><circle cx="445.1" cy="406.4" class="al"/><circle cx="618.4" cy="223.4" class="v"/><circle cx="436.7" cy="406.1" class="al"/><circle cx="466.3" cy="149.2" class="d"/><circle cx="449.3" cy="406.2" class="al"/><circle cx="463.7" cy="153.1" class="e"/><circle cx="459.2" cy="161.2" class="g"/><circle cx="448.6" cy="185.3" class="m"/><circle cx="524.3" cy="403.3" class="ak"/><circle cx="466.2" cy="149.8" class="e"/><circle cx="443.7" cy="198.5" class="p"/><circle cx="429.7" cy="370.2" class="ac"/><circle cx="497.9" cy="404.6" class="ak"/><circle cx="615.4" cy="206.8" class="r"/><circle cx="466.4" cy="148.6" class="d"/><circle cx="442.1" cy="204.0" class="q"/><circle cx="508.3" cy="403.9" class="ak"/><circle cx="623.7" cy="308.5" class="O"/><circle cx="459.2" cy="160.1" class="g"/><circle cx="436.7" cy="224.8" class="v"/><circle cx="450.0" cy="181.4" class="l"/><circle cx="466.2" cy="148.0" class="d"/><circle cx="463.9" cy="152.6" class="e"/><circle cx="427.4" cy="346.3" class="X"/><circle cx="456.7" cy="166.8" class="h"/><circle cx="451.9" cy="176.8" class="k"/><circle cx="444.8" cy="194.8" class="o"/><circle cx="454.7" cy="170.6" class="i"/><circle cx="454.4" cy="169.5" class="i"/><circle cx="620.5" cy="238.8" class="y"/></g><g fill-opacity="0.61" stroke-opacity="0.61"><circle cx="569.9" cy="401.4" class="aj"/><circle cx="426.7" cy="296.2" class="L"/><circle cx="447.2" cy="187.4" class="m"/><circle cx="463.8" cy="152.0" class="e"/><circle cx="540.9" cy="403.3" class="ak"/><circle cx="463.9" cy="151.4" class="e"/><circle cx="547.9" cy="402.6" class="ak"/><circle cx="440.1" cy="208.3" class="r"/><circle cx="434.2" cy="393.7" class="ai"/><circle cx="446.0" cy="191.5" class="n"/><circle cx="441.0" cy="207.7" class="r"/><circle cx="618.1" cy="221.1" class="u"/><circle cx="446.0" cy="190.0" class="n"/><circle cx="426.7" cy="325.3" class="S"/><circle cx="473.6" cy="405.4" class="ak"/><circle cx="459.2" cy="159.5" class="g"/><circle cx="450.0" cy="179.8" class="k"/><circle cx="448.6" cy="183.3" class="l"/><circle cx="456.7" cy="165.6" class="h"/><circle cx="615.8" cy="376.4" class="ae"/><circle cx="616.1" cy="205.1" class="q"/><circle cx="454.5" cy="168.3" class="i"/><circle cx="456.8" cy="164.6" class="h"/><circle cx="459.4" cy="158.3" class="f"/><circle cx="560.7" cy="402.8" class="ak"/><circle cx="463.8" cy="150.8" class="e"/><circle cx="438.5" cy="215.7" class="t"/><circle cx="444.7" cy="192.6" class="n"/><circle cx="426.4" cy="306.7" class="O"/><circle cx="459.2" cy="158.9" class="f"/><circle cx="452.0" cy="175.3" class="j"/><circle cx="437.7" cy="216.3" class="t"/><circle cx="439.5" cy="210.0" class="r"/><circle cx="487.0" cy="405.8" class="ak"/><circle cx="463.6" cy="150.2" class="d"/><circle cx="448.5" cy="181.8" class="l"/><circle cx="485.3" cy="405.9" class="ak"/><circle cx="451.9" cy="174.1" class="j"/><circle cx="619.3" cy="358.9" class="Z"/><circle cx="459.3" cy="157.1" class="f"/><circle cx="620.8" cy="236.8" class="x"/><circle cx="428.6" cy="267.2" class="E"/><circle cx="437.3" cy="219.2" class="t"/><circle cx="621.1" cy="340.9" class="V"/><circle cx="443.7" cy="195.3" class="o"/><circle cx="447.4" cy="185.3" class="m"/><circle cx="516.0" cy="403.9" class="ak"/><circle cx="443.0" cy="198.6" class="p"/><circle cx="618.7" cy="219.4" class="t"/><circle cx="466.0" cy="406.7" class="ak"/><circle cx="441.3" cy="202.6" class="p"/><circle cx="463.8" cy="149.7" class="d"/><circle cx="469.1" cy="407.0" class="ak"/><circle cx="459.2" cy="157.7" class="f"/><circle cx="616.6" cy="203.3" class="q"/><circle cx="463.9" cy="149.1" class="d"/><circle cx="503.7" cy="405.3" class="ak"/><circle cx="454.7" cy="166.1" class="h"/><circle cx="456.8" cy="163.4" class="g"/><circle cx="494.3" cy="405.7" class="ak"/><circle cx="440.8" cy="204.5" class="q"/><circle cx="438.6" cy="212.2" class="s"/><circle cx="454.5" cy="167.0" class="h"/><circle cx="450.2" cy="176.9" class="k"/><circle cx="450.0" cy="178.0" class="k"/><circle cx="623.9" cy="288.7" class="J"/><circle cx="464.2" cy="148.0" class="d"/><circle cx="590.5" cy="401.6" class="aj"/><circle cx="437.5" cy="215.5" class="s"/><circle cx="459.3" cy="156.6" class="f"/><circle cx="598.6" cy="400.8" class="aj"/><circle cx="513.9" cy="235.5" class="x"/><circle cx="623.1" cy="325.8" class="S"/><circle cx="463.9" cy="148.6" class="d"/><circle cx="442.2" cy="200.0" class="p"/><circle cx="456.6" cy="162.4" class="g"/><circle cx="461.9" cy="407.0" class="ak"/><circle cx="451.9" cy="172.7" class="j"/><circle cx="448.6" cy="180.1" class="k"/><circle cx="501.9" cy="229.1" class="v"/><circle cx="440.6" cy="408.6" class="al"/><circle cx="438.8" cy="209.3" class="r"/><circle cx="436.7" cy="219.2" class="t"/><circle cx="530.4" cy="404.7" class="ak"/><circle cx="621.2" cy="234.7" class="x"/><circle cx="459.3" cy="156.0" class="f"/><circle cx="436.5" cy="219.2" class="t"/><circle cx="447.3" cy="183.4" class="l"/><circle cx="459.2" cy="155.4" class="f"/><circle cx="453.3" cy="408.2" class="al"/><circle cx="445.9" cy="187.2" class="m"/><circle cx="449.9" cy="175.5" class="j"/><circle cx="454.5" cy="164.9" class="h"/><circle cx="449.3" cy="408.4" class="al"/><circle cx="613.7" cy="388.8" class="ag"/><circle cx="444.9" cy="408.7" class="al"/><circle cx="575.3" cy="402.8" class="aj"/><circle cx="428.1" cy="275.3" class="G"/><circle cx="618.6" cy="217.3" class="t"/><circle cx="616.1" cy="201.2" class="p"/><circle cx="623.9" cy="303.4" class="M"/><circle cx="443.8" cy="192.6" class="n"/><circle cx="439.4" cy="206.1" class="q"/><circle cx="456.8" cy="161.3" class="g"/><circle cx="451.9" cy="170.3" class="i"/><circle cx="459.4" cy="154.9" class="e"/><circle cx="436.0" cy="219.3" class="t"/><circle cx="440.0" cy="203.6" class="q"/><circle cx="458.4" cy="407.9" class="ak"/><circle cx="438.3" cy="211.0" class="r"/><circle cx="442.9" cy="195.5" class="o"/><circle cx="427.0" cy="330.3" class="T"/><circle cx="451.9" cy="171.2" class="i"/><circle cx="511.6" cy="405.9" class="ak"/><circle cx="459.2" cy="153.8" class="e"/><circle cx="456.8" cy="160.3" class="g"/><circle cx="459.3" cy="154.3" class="e"/><circle cx="442.2" cy="197.1" class="o"/><circle cx="552.1" cy="404.0" class="ak"/><circle cx="459.3" cy="153.2" class="e"/><circle cx="544.7" cy="404.5" class="ak"/><circle cx="621.5" cy="232.7" class="w"/><circle cx="428.4" cy="350.2" class="X"/><circle cx="454.9" cy="162.9" class="g"/><circle cx="445.7" cy="185.2" class="l"/><circle cx="426.5" cy="311.3" class="O"/><circle cx="619.1" cy="215.4" class="s"/><circle cx="444.8" cy="189.1" class="m"/><circle cx="441.3" cy="198.9" class="o"/><circle cx="454.3" cy="163.7" class="g"/><circle cx="431.6" cy="374.2" class="ad"/><circle cx="449.9" cy="173.9" class="j"/><circle cx="447.2" cy="181.4" class="k"/><circle cx="528.9" cy="405.6" class="ak"/><circle cx="448.5" cy="178.0" class="k"/><circle cx="438.8" cy="205.6" class="q"/><circle cx="616.0" cy="199.4" class="o"/><circle cx="475.1" cy="408.1" class="ak"/><circle cx="479.6" cy="407.6" class="ak"/><circle cx="426.6" cy="294.2" class="K"/><circle cx="448.5" cy="176.8" class="j"/><circle cx="456.7" cy="159.3" class="f"/><circle cx="444.7" cy="187.4" class="m"/><circle cx="459.2" cy="152.7" class="e"/><circle cx="459.2" cy="152.2" class="e"/><circle cx="488.5" cy="407.3" class="ak"/><circle cx="456.7" cy="158.8" class="f"/><circle cx="440.0" cy="200.7" class="p"/><circle cx="604.9" cy="402.8" class="aj"/><circle cx="501.5" cy="407.1" class="ak"/><circle cx="519.0" cy="405.4" class="ak"/><circle cx="596.0" cy="403.1" class="aj"/><circle cx="448.5" cy="175.6" class="j"/><circle cx="443.7" cy="190.0" class="m"/><circle cx="447.2" cy="179.9" class="k"/><circle cx="452.1" cy="168.9" class="h"/><circle cx="450.0" cy="172.6" class="i"/><circle cx="428.3" cy="268.0" class="E"/><circle cx="438.7" cy="207.0" class="q"/><circle cx="456.8" cy="158.2" class="f"/><circle cx="454.5" cy="161.7" class="g"/><circle cx="445.9" cy="183.2" class="l"/><circle cx="440.9" cy="199.9" class="o"/><circle cx="621.5" cy="335.1" class="T"/><circle cx="436.7" cy="397.2" class="ai"/><circle cx="621.3" cy="230.5" class="v"/><circle cx="618.8" cy="213.3" class="s"/><circle cx="470.1" cy="409.1" class="ak"/><circle cx="446.0" cy="182.0" class="k"/><circle cx="616.1" cy="369.6" class="ab"/><circle cx="459.1" cy="151.7" class="d"/><circle cx="524.2" cy="229.3" class="v"/><circle cx="459.4" cy="151.2" class="d"/><circle cx="566.9" cy="404.5" class="aj"/><circle cx="442.9" cy="192.6" class="n"/><circle cx="456.9" cy="157.7" class="f"/><circle cx="456.9" cy="157.2" class="f"/><circle cx="459.3" cy="150.6" class="d"/><circle cx="623.7" cy="320.6" class="Q"/><circle cx="444.8" cy="185.5" class="l"/><circle cx="619.3" cy="352.2" class="X"/><circle cx="442.1" cy="194.2" class="n"/><circle cx="533.9" cy="406.7" class="ak"/><circle cx="443.7" cy="188.2" class="m"/><circle cx="437.8" cy="209.5" class="r"/><circle cx="452.0" cy="167.7" class="h"/><circle cx="437.4" cy="209.8" class="r"/><circle cx="441.4" cy="195.8" class="n"/><circle cx="454.7" cy="160.7" class="f"/><circle cx="450.2" cy="171.3" class="i"/><circle cx="454.8" cy="159.8" class="f"/><circle cx="459.3" cy="150.1" class="d"/><circle cx="451.9" cy="166.7" class="h"/><circle cx="467.2" cy="409.4" class="ak"/><circle cx="456.7" cy="156.6" class="e"/><circle cx="459.4" cy="149.6" class="d"/><circle cx="448.6" cy="174.0" class="i"/><circle cx="487.4" cy="407.6" class="ak"/><circle cx="496.8" cy="408.5" class="ak"/><circle cx="436.9" cy="212.4" class="r"/><circle cx="456.8" cy="156.1" class="e"/><circle cx="624.5" cy="298.9" class="L"/><circle cx="447.2" cy="178.1" class="j"/><circle cx="451.9" cy="165.7" class="g"/><circle cx="426.7" cy="286.8" class="I"/><circle cx="459.5" cy="149.1" class="d"/><circle cx="429.9" cy="253.1" class="B"/><circle cx="621.5" cy="228.4" class="v"/><circle cx="437.4" cy="211.7" class="r"/><circle cx="456.8" cy="155.6" class="e"/><circle cx="438.8" cy="201.7" class="p"/><circle cx="447.2" cy="176.9" class="j"/><circle cx="428.6" cy="262.8" class="D"/><circle cx="456.9" cy="155.1" class="e"/><circle cx="435.4" cy="217.5" class="s"/><circle cx="442.9" cy="190.3" class="m"/><circle cx="618.9" cy="211.4" class="r"/><circle cx="438.2" cy="205.9" class="q"/><circle cx="450.0" cy="169.1" class="h"/><circle cx="429.8" cy="359.3" class="Z"/><circle cx="450.0" cy="170.0" class="h"/><circle cx="439.7" cy="200.8" class="o"/><circle cx="427.4" cy="335.1" class="T"/><circle cx="451.9" cy="164.7" class="g"/><circle cx="459.6" cy="148.2" class="c"/><circle cx="426.2" cy="298.2" class="L"/><circle cx="623.1" cy="243.9" class="y"/><circle cx="581.4" cy="405.3" class="aj"/><circle cx="436.2" cy="215.7" class="s"/><circle cx="507.5" cy="407.8" class="ak"/><circle cx="435.8" cy="213.4" class="r"/><circle cx="509.6" cy="161.2" class="f"/><circle cx="454.7" cy="158.8" class="f"/><circle cx="445.8" cy="179.9" class="k"/><circle cx="426.7" cy="314.9" class="P"/><circle cx="456.7" cy="154.5" class="e"/><circle cx="444.8" cy="183.3" class="k"/><circle cx="463.1" cy="409.7" class="ak"/><circle cx="557.1" cy="406.5" class="ak"/><circle cx="440.0" cy="196.8" class="o"/><circle cx="443.5" cy="185.8" class="l"/><circle cx="459.3" cy="148.7" class="c"/><circle cx="480.7" cy="409.5" class="ak"/><circle cx="453.7" cy="410.9" class="al"/><circle cx="441.0" cy="196.2" class="n"/><circle cx="600.8" cy="404.6" class="aj"/><circle cx="532.6" cy="407.5" class="ak"/><circle cx="549.7" cy="406.8" class="ak"/><circle cx="454.7" cy="156.8" class="e"/><circle cx="448.4" cy="172.5" class="i"/><circle cx="514.8" cy="408.4" class="ak"/><circle cx="613.4" cy="380.8" class="ae"/><circle cx="442.2" cy="191.1" class="m"/><circle cx="619.2" cy="209.5" class="q"/><circle cx="454.5" cy="157.7" class="e"/><circle cx="456.8" cy="154.1" class="e"/><circle cx="504.5" cy="162.5" class="g"/><circle cx="456.8" cy="153.6" class="e"/><circle cx="454.8" cy="157.3" class="e"/><circle cx="441.2" cy="192.7" class="m"/><circle cx="621.5" cy="226.3" class="u"/><circle cx="448.7" cy="171.4" class="i"/><circle cx="503.6" cy="409.2" class="ak"/><circle cx="445.7" cy="178.3" class="j"/><circle cx="454.4" cy="158.2" class="f"/><circle cx="447.2" cy="175.2" class="i"/><circle cx="436.7" cy="211.2" class="r"/><circle cx="608.1" cy="400.7" class="ai"/><circle cx="449.9" cy="166.9" class="h"/><circle cx="435.4" cy="216.3" class="s"/><circle cx="434.4" cy="380.9" class="ae"/><circle cx="448.6" cy="170.4" class="h"/><circle cx="447.3" cy="174.1" class="i"/><circle cx="454.7" cy="156.3" class="e"/><circle cx="443.7" cy="184.0" class="k"/><circle cx="450.0" cy="167.7" class="h"/><circle cx="623.3" cy="241.7" class="y"/><circle cx="451.9" cy="163.5" class="g"/><circle cx="444.7" cy="181.4" class="k"/><circle cx="571.2" cy="406.1" class="aj"/><circle cx="456.8" cy="152.6" class="d"/><circle cx="438.7" cy="198.3" class="o"/><circle cx="456.8" cy="153.1" class="d"/><circle cx="444.6" cy="411.7" class="al"/><circle cx="454.6" cy="155.3" class="e"/><circle cx="437.1" cy="207.7" class="q"/><circle cx="452.0" cy="162.6" class="g"/><circle cx="443.0" cy="187.6" class="l"/><circle cx="449.3" cy="411.5" class="al"/><circle cx="439.6" cy="197.5" class="o"/><circle cx="459.2" cy="410.8" class="ak"/><circle cx="440.9" cy="193.7" class="n"/><circle cx="454.5" cy="155.8" class="e"/><circle cx="438.8" cy="201.6" class="o"/><circle cx="437.9" cy="204.4" class="p"/><circle cx="621.8" cy="329.5" class="S"/><circle cx="619.3" cy="207.5" class="q"/><circle cx="517.2" cy="235.4" class="w"/><circle cx="437.5" cy="204.7" class="p"/><circle cx="447.4" cy="172.9" class="i"/><circle cx="440.1" cy="193.8" class="n"/><circle cx="621.3" cy="224.0" class="u"/><circle cx="624.1" cy="315.5" class="P"/><circle cx="456.7" cy="152.1" class="d"/><circle cx="454.7" cy="154.8" class="e"/><circle cx="516.6" cy="232.0" class="v"/><circle cx="445.8" cy="176.7" class="j"/><circle cx="454.7" cy="154.3" class="e"/><circle cx="476.7" cy="411.0" class="ak"/><circle cx="442.1" cy="188.6" class="l"/><circle cx="456.8" cy="151.6" class="d"/><circle cx="620.0" cy="346.5" class="W"/><circle cx="447.3" cy="171.8" class="i"/><circle cx="523.4" cy="408.7" class="ak"/><circle cx="448.5" cy="169.1" class="h"/><circle cx="624.3" cy="293.7" class="J"/><circle cx="444.7" cy="179.8" class="j"/><circle cx="426.0" cy="303.6" class="M"/><circle cx="516.3" cy="231.7" class="v"/><circle cx="452.1" cy="161.6" class="f"/><circle cx="443.7" cy="182.1" class="k"/><circle cx="448.7" cy="168.1" class="h"/><circle cx="508.9" cy="165.0" class="g"/><circle cx="450.0" cy="164.8" class="g"/><circle cx="456.9" cy="151.2" class="d"/><circle cx="616.6" cy="363.4" class="Z"/><circle cx="442.9" cy="185.6" class="l"/><circle cx="450.1" cy="165.6" class="g"/><circle cx="522.0" cy="195.5" class="n"/><circle cx="426.8" cy="321.4" class="Q"/><circle cx="445.8" cy="175.5" class="i"/><circle cx="623.0" cy="239.3" class="x"/><circle cx="586.2" cy="406.9" class="aj"/><circle cx="441.4" cy="189.8" class="m"/><circle cx="440.5" cy="403.1" class="ai"/><circle cx="491.2" cy="409.8" class="ak"/><circle cx="489.4" cy="410.9" class="ak"/><circle cx="436.7" cy="207.0" class="q"/><circle cx="454.6" cy="153.8" class="d"/><circle cx="456.8" cy="150.7" class="d"/><circle cx="435.9" cy="210.7" class="q"/><circle cx="452.1" cy="159.9" class="f"/><circle cx="439.4" cy="195.0" class="n"/><circle cx="454.7" cy="153.4" class="d"/><circle cx="451.9" cy="160.7" class="f"/><circle cx="456.9" cy="150.2" class="d"/><circle cx="621.8" cy="222.2" class="t"/><circle cx="454.8" cy="152.9" class="d"/><circle cx="450.1" cy="163.8" class="g"/><circle cx="435.3" cy="211.6" class="r"/><circle cx="426.5" cy="284.9" class="H"/><circle cx="435.5" cy="214.6" class="r"/><circle cx="443.7" cy="180.4" class="j"/><circle cx="618.9" cy="205.6" class="p"/><circle cx="538.4" cy="408.2" class="ak"/><circle cx="454.6" cy="152.4" class="d"/><circle cx="561.4" cy="408.1" class="ak"/><circle cx="438.8" cy="198.3" class="n"/><circle cx="456.9" cy="149.3" class="c"/><circle cx="428.5" cy="339.2" class="U"/><circle cx="445.8" cy="174.1" class="i"/><circle cx="499.4" cy="410.2" class="ak"/><circle cx="442.1" cy="186.4" class="l"/><circle cx="445.8" cy="173.1" class="i"/><circle cx="456.7" cy="149.8" class="c"/><circle cx="456.9" cy="148.9" class="c"/><circle cx="434.6" cy="216.5" class="s"/><circle cx="454.6" cy="152.0" class="d"/><circle cx="441.3" cy="187.9" class="l"/><circle cx="435.1" cy="215.0" class="r"/><circle cx="431.5" cy="364.2" class="Z"/><circle cx="450.1" cy="162.8" class="f"/><circle cx="448.6" cy="166.9" class="g"/><circle cx="440.9" cy="190.6" class="m"/><circle cx="452.0" cy="158.2" class="e"/><circle cx="623.5" cy="237.3" class="w"/><circle cx="435.7" cy="207.7" class="q"/><circle cx="444.8" cy="177.8" class="j"/><circle cx="452.1" cy="159.0" class="e"/><circle cx="454.6" cy="151.5" class="d"/><circle cx="447.1" cy="169.3" class="h"/><circle cx="444.6" cy="176.8" class="i"/><circle cx="442.3" cy="184.8" class="k"/><circle cx="438.7" cy="199.7" class="o"/><circle cx="456.9" cy="148.4" class="c"/></g><g fill-opacity="0.63" stroke-opacity="0.63"><circle cx="440.0" cy="190.8" class="m"/><circle cx="443.1" cy="183.4" class="k"/><circle cx="554.0" cy="408.7" class="ak"/><circle cx="448.4" cy="165.9" class="g"/><circle cx="450.0" cy="161.9" class="f"/><circle cx="447.2" cy="170.1" class="h"/><circle cx="619.1" cy="203.7" class="p"/><circle cx="434.0" cy="217.8" class="s"/><circle cx="450.2" cy="161.1" class="f"/><circle cx="436.6" cy="205.8" class="p"/><circle cx="468.6" cy="412.4" class="ak"/><circle cx="536.7" cy="410.0" class="ak"/><circle cx="444.6" cy="175.6" class="i"/><circle cx="443.7" cy="178.6" class="j"/><circle cx="471.7" cy="412.3" class="ak"/><circle cx="437.9" cy="199.9" class="o"/><circle cx="621.6" cy="220.2" class="s"/><circle cx="534.6" cy="218.0" class="s"/><circle cx="454.6" cy="150.2" class="c"/><circle cx="451.9" cy="157.2" class="e"/><circle cx="451.9" cy="157.6" class="e"/><circle cx="426.7" cy="277.7" class="F"/><circle cx="454.5" cy="151.1" class="d"/><circle cx="442.8" cy="180.7" class="j"/><circle cx="435.4" cy="210.1" class="q"/><circle cx="438.8" cy="193.7" class="m"/><circle cx="448.6" cy="164.9" class="g"/><circle cx="443.0" cy="181.7" class="k"/><circle cx="438.5" cy="197.2" class="n"/><circle cx="447.1" cy="168.1" class="g"/><circle cx="624.0" cy="309.9" class="N"/><circle cx="605.6" cy="402.2" class="ai"/><circle cx="452.0" cy="155.8" class="e"/><circle cx="510.9" cy="410.0" class="ak"/><circle cx="613.8" cy="374.1" class="ac"/><circle cx="623.7" cy="235.2" class="w"/><circle cx="622.3" cy="324.3" class="Q"/><circle cx="441.2" cy="185.5" class="k"/><circle cx="624.3" cy="288.8" class="I"/><circle cx="440.0" cy="188.6" class="l"/><circle cx="451.8" cy="156.7" class="e"/><circle cx="454.6" cy="150.7" class="c"/><circle cx="445.9" cy="171.4" class="h"/><circle cx="459.9" cy="412.9" class="ak"/><circle cx="507.0" cy="411.6" class="ak"/><circle cx="577.1" cy="407.9" class="aj"/><circle cx="454.6" cy="149.8" class="c"/><circle cx="439.7" cy="191.4" class="m"/><circle cx="452.2" cy="156.3" class="e"/><circle cx="510.6" cy="168.8" class="g"/><circle cx="437.7" cy="199.3" class="n"/><circle cx="436.7" cy="384.8" class="ae"/><circle cx="483.0" cy="412.2" class="ak"/><circle cx="426.2" cy="288.6" class="I"/><circle cx="454.5" cy="149.4" class="c"/><circle cx="436.8" cy="202.3" class="o"/><circle cx="448.6" cy="163.9" class="f"/><circle cx="437.3" cy="201.7" class="o"/><circle cx="450.1" cy="160.1" class="e"/><circle cx="463.9" cy="412.2" class="ak"/><circle cx="448.6" cy="163.1" class="f"/><circle cx="438.9" cy="194.6" class="m"/><circle cx="438.6" cy="191.7" class="m"/><circle cx="440.7" cy="186.6" class="l"/><circle cx="443.6" cy="177.0" class="i"/><circle cx="452.1" cy="154.9" class="d"/><circle cx="621.7" cy="218.2" class="s"/><circle cx="526.5" cy="410.7" class="ak"/><circle cx="434.2" cy="216.6" class="r"/><circle cx="445.8" cy="170.4" class="h"/><circle cx="447.4" cy="167.0" class="g"/><circle cx="426.6" cy="305.1" class="M"/><circle cx="447.3" cy="166.2" class="g"/><circle cx="454.7" cy="148.5" class="c"/><circle cx="449.4" cy="414.0" class="al"/><circle cx="452.0" cy="154.5" class="d"/><circle cx="444.9" cy="173.9" class="i"/><circle cx="433.4" cy="214.3" class="r"/><circle cx="452.0" cy="155.4" class="d"/><circle cx="508.9" cy="159.3" class="e"/><circle cx="454.8" cy="149.0" class="c"/><circle cx="427.5" cy="324.9" class="Q"/><circle cx="608.0" cy="392.8" class="ag"/><circle cx="620.2" cy="340.7" class="U"/><circle cx="429.7" cy="349.2" class="W"/><circle cx="519.0" cy="410.6" class="ak"/><circle cx="435.8" cy="205.6" class="p"/><circle cx="592.2" cy="408.4" class="aj"/><circle cx="542.2" cy="410.5" class="ak"/><circle cx="446.0" cy="169.4" class="h"/><circle cx="448.6" cy="162.2" class="f"/><circle cx="444.9" cy="172.8" class="h"/><circle cx="452.1" cy="154.1" class="d"/><circle cx="617.0" cy="357.0" class="X"/><circle cx="437.2" cy="197.3" class="n"/><circle cx="450.2" cy="159.3" class="e"/><circle cx="520.2" cy="189.8" class="l"/><circle cx="527.7" cy="206.0" class="p"/><circle cx="443.7" cy="175.6" class="i"/><circle cx="438.0" cy="196.4" class="n"/><circle cx="623.5" cy="233.0" class="v"/><circle cx="447.4" cy="165.2" class="g"/><circle cx="438.6" cy="189.6" class="l"/><circle cx="442.9" cy="178.6" class="j"/><circle cx="452.0" cy="153.6" class="d"/><circle cx="454.2" cy="414.4" class="al"/><circle cx="450.0" cy="157.8" class="e"/><circle cx="441.4" cy="183.2" class="k"/><circle cx="512.7" cy="231.0" class="v"/><circle cx="622.0" cy="216.2" class="r"/><circle cx="446.0" cy="168.3" class="g"/><circle cx="442.2" cy="181.8" class="j"/><circle cx="623.4" cy="244.7" class="y"/><circle cx="441.1" cy="186.8" class="k"/><circle cx="450.1" cy="158.5" class="e"/><circle cx="566.5" cy="410.1" class="aj"/><circle cx="439.8" cy="188.7" class="l"/><circle cx="442.2" cy="180.6" class="j"/><circle cx="434.3" cy="211.2" class="q"/><circle cx="438.7" cy="192.1" class="m"/><circle cx="447.2" cy="164.3" class="f"/><circle cx="436.5" cy="201.4" class="o"/><circle cx="448.6" cy="161.3" class="f"/><circle cx="444.7" cy="171.6" class="h"/><circle cx="434.9" cy="209.6" class="q"/><circle cx="443.6" cy="174.4" class="i"/><circle cx="438.4" cy="193.8" class="m"/><circle cx="440.1" cy="184.6" class="k"/><circle cx="452.1" cy="153.2" class="d"/><circle cx="440.1" cy="185.7" class="k"/><circle cx="435.9" cy="202.2" class="o"/><circle cx="493.7" cy="412.8" class="ak"/><circle cx="525.5" cy="199.5" class="n"/><circle cx="491.8" cy="413.2" class="ak"/><circle cx="442.8" cy="177.2" class="i"/><circle cx="435.5" cy="208.0" class="p"/><circle cx="433.1" cy="214.8" class="r"/><circle cx="452.0" cy="152.8" class="d"/><circle cx="450.1" cy="156.9" class="e"/><circle cx="444.6" cy="407.3" class="aj"/><circle cx="434.7" cy="210.0" class="q"/><circle cx="451.9" cy="152.4" class="d"/><circle cx="439.5" cy="187.1" class="k"/><circle cx="434.1" cy="371.4" class="ab"/><circle cx="440.8" cy="184.0" class="k"/><circle cx="449.9" cy="157.2" class="e"/><circle cx="447.2" cy="163.4" class="f"/><circle cx="442.2" cy="179.2" class="j"/><circle cx="426.0" cy="294.9" class="J"/><circle cx="441.4" cy="181.5" class="j"/><circle cx="478.7" cy="413.6" class="ak"/><circle cx="435.6" cy="204.8" class="o"/><circle cx="445.9" cy="167.2" class="g"/><circle cx="450.2" cy="156.0" class="d"/><circle cx="448.7" cy="160.5" class="e"/><circle cx="623.8" cy="231.0" class="u"/><circle cx="451.9" cy="151.5" class="c"/><circle cx="504.8" cy="161.5" class="f"/><circle cx="452.0" cy="152.0" class="c"/><circle cx="624.9" cy="284.5" class="H"/><circle cx="438.6" cy="187.4" class="k"/><circle cx="436.7" cy="198.5" class="n"/><circle cx="449.9" cy="156.4" class="d"/><circle cx="448.5" cy="159.0" class="e"/><circle cx="624.0" cy="242.7" class="x"/><circle cx="447.3" cy="162.6" class="f"/><circle cx="443.7" cy="173.1" class="h"/><circle cx="447.2" cy="161.8" class="f"/><circle cx="426.9" cy="313.2" class="N"/><circle cx="558.8" cy="410.3" class="aj"/><circle cx="448.6" cy="159.7" class="e"/><circle cx="450.1" cy="155.6" class="d"/><circle cx="520.5" cy="185.3" class="k"/><circle cx="437.3" cy="197.5" class="n"/><circle cx="514.0" cy="412.8" class="ak"/><circle cx="624.2" cy="304.9" class="L"/><circle cx="515.7" cy="174.8" class="i"/><circle cx="439.2" cy="185.5" class="k"/><circle cx="622.0" cy="214.3" class="r"/><circle cx="502.6" cy="413.3" class="ak"/><circle cx="445.0" cy="170.2" class="g"/><circle cx="440.8" cy="182.3" class="j"/><circle cx="441.3" cy="180.0" class="j"/><circle cx="450.1" cy="155.1" class="d"/><circle cx="452.1" cy="151.2" class="c"/><circle cx="435.7" cy="204.0" class="o"/><circle cx="445.9" cy="166.2" class="g"/><circle cx="442.8" cy="174.7" class="h"/><circle cx="426.7" cy="275.7" class="F"/><circle cx="622.1" cy="318.6" class="O"/><circle cx="506.4" cy="168.0" class="g"/><circle cx="532.3" cy="209.3" class="p"/><circle cx="541.4" cy="412.1" class="ak"/><circle cx="438.0" cy="193.0" class="m"/><circle cx="582.4" cy="410.3" class="aj"/><circle cx="596.5" cy="409.8" class="aj"/><circle cx="473.0" cy="414.4" class="ak"/><circle cx="435.7" cy="199.3" class="n"/><circle cx="451.9" cy="150.4" class="c"/><circle cx="444.8" cy="169.3" class="g"/><circle cx="448.6" cy="158.2" class="e"/><circle cx="443.5" cy="171.9" class="h"/><circle cx="438.2" cy="191.1" class="l"/><circle cx="451.8" cy="150.8" class="c"/><circle cx="436.5" cy="198.1" class="n"/><circle cx="445.7" cy="165.3" class="f"/><circle cx="435.2" cy="204.7" class="o"/><circle cx="450.2" cy="154.3" class="d"/><circle cx="446.0" cy="164.5" class="f"/><circle cx="624.3" cy="229.1" class="u"/><circle cx="452.0" cy="149.6" class="c"/><circle cx="440.9" cy="180.8" class="j"/><circle cx="448.7" cy="157.5" class="d"/><circle cx="428.3" cy="330.8" class="R"/><circle cx="435.5" cy="201.5" class="o"/><circle cx="614.6" cy="368.1" class="aa"/><circle cx="442.8" cy="175.3" class="i"/><circle cx="437.5" cy="193.1" class="m"/><circle cx="450.1" cy="153.9" class="d"/><circle cx="436.0" cy="200.6" class="n"/><circle cx="437.1" cy="195.1" class="m"/><circle cx="439.9" cy="182.2" class="j"/><circle cx="623.9" cy="240.3" class="w"/><circle cx="447.3" cy="160.9" class="e"/><circle cx="622.5" cy="212.5" class="q"/><circle cx="438.8" cy="188.9" class="l"/><circle cx="450.1" cy="153.1" class="c"/><circle cx="450.1" cy="153.5" class="d"/><circle cx="447.5" cy="160.2" class="e"/><circle cx="444.9" cy="168.2" class="g"/><circle cx="442.3" cy="177.1" class="i"/><circle cx="452.0" cy="150.0" class="c"/><circle cx="449.8" cy="154.7" class="d"/><circle cx="448.8" cy="157.0" class="d"/><circle cx="620.4" cy="334.7" class="S"/><circle cx="452.1" cy="149.2" class="c"/><circle cx="440.4" cy="392.5" class="af"/><circle cx="448.6" cy="156.6" class="d"/><circle cx="522.4" cy="413.0" class="ak"/><circle cx="438.5" cy="187.5" class="k"/><circle cx="606.2" cy="395.2" class="ag"/><circle cx="445.9" cy="163.6" class="f"/><circle cx="425.8" cy="282.8" class="G"/><circle cx="443.7" cy="169.7" class="g"/><circle cx="451.8" cy="148.8" class="b"/><circle cx="443.0" cy="173.1" class="h"/><circle cx="431.5" cy="354.2" class="W"/><circle cx="448.6" cy="155.4" class="d"/><circle cx="464.8" cy="415.2" class="ak"/><circle cx="448.5" cy="154.6" class="d"/><circle cx="444.7" cy="167.3" class="g"/><circle cx="441.3" cy="178.0" class="i"/><circle cx="441.2" cy="177.1" class="i"/><circle cx="484.6" cy="414.5" class="ak"/><circle cx="436.6" cy="195.1" class="m"/><circle cx="443.8" cy="170.4" class="g"/><circle cx="448.5" cy="155.0" class="d"/><circle cx="449.9" cy="152.7" class="c"/><circle cx="442.3" cy="175.8" class="i"/><circle cx="438.0" cy="190.3" class="l"/><circle cx="617.0" cy="350.5" class="V"/><circle cx="470.0" cy="415.8" class="ak"/><circle cx="448.6" cy="155.8" class="d"/><circle cx="443.5" cy="168.8" class="g"/><circle cx="435.1" cy="204.1" class="o"/><circle cx="622.3" cy="210.3" class="p"/><circle cx="623.7" cy="226.7" class="t"/><circle cx="444.7" cy="166.4" class="f"/><circle cx="625.4" cy="280.3" class="F"/><circle cx="450.1" cy="152.4" class="c"/><circle cx="546.5" cy="412.2" class="aj"/><circle cx="608.3" cy="385.5" class="ad"/><circle cx="447.2" cy="159.3" class="e"/><circle cx="448.6" cy="156.2" class="d"/><circle cx="516.9" cy="178.1" class="i"/><circle cx="625.4" cy="263.8" class="C"/><circle cx="440.2" cy="180.1" class="i"/><circle cx="448.8" cy="154.2" class="d"/><circle cx="437.5" cy="189.0" class="l"/><circle cx="624.2" cy="238.3" class="w"/><circle cx="438.5" cy="188.2" class="k"/><circle cx="447.2" cy="157.9" class="d"/><circle cx="440.0" cy="179.2" class="i"/><circle cx="530.8" cy="412.6" class="ak"/><circle cx="450.1" cy="152.0" class="c"/><circle cx="439.5" cy="182.5" class="j"/><circle cx="435.6" cy="195.8" class="m"/><circle cx="445.9" cy="162.7" class="e"/><circle cx="442.9" cy="171.9" class="h"/><circle cx="450.1" cy="151.2" class="c"/><circle cx="426.7" cy="298.2" class="J"/><circle cx="437.6" cy="190.2" class="l"/><circle cx="434.8" cy="204.4" class="o"/><circle cx="435.0" cy="198.8" class="n"/><circle cx="450.0" cy="150.8" class="c"/><circle cx="440.9" cy="178.7" class="i"/><circle cx="447.3" cy="158.6" class="e"/><circle cx="442.4" cy="174.5" class="h"/><circle cx="439.0" cy="183.8" class="j"/><circle cx="427.2" cy="318.1" class="O"/><circle cx="445.9" cy="161.9" class="e"/><circle cx="438.8" cy="182.8" class="j"/><circle cx="433.9" cy="206.8" class="p"/><circle cx="450.0" cy="151.6" class="c"/><circle cx="436.0" cy="197.1" class="m"/><circle cx="438.7" cy="185.1" class="k"/><circle cx="441.3" cy="175.6" class="h"/><circle cx="437.2" cy="192.0" class="l"/><circle cx="435.5" cy="200.1" class="n"/><circle cx="454.5" cy="416.3" class="ak"/><circle cx="624.4" cy="300.0" class="K"/><circle cx="448.8" cy="153.8" class="c"/><circle cx="443.6" cy="167.7" class="g"/><circle cx="432.6" cy="211.2" class="q"/><circle cx="444.8" cy="165.3" class="f"/><circle cx="460.5" cy="416.3" class="ak"/><circle cx="436.6" cy="194.2" class="m"/><circle cx="444.9" cy="164.6" class="f"/><circle cx="563.2" cy="412.1" class="aj"/><circle cx="449.9" cy="150.5" class="c"/><circle cx="447.4" cy="157.2" class="d"/><circle cx="624.3" cy="224.9" class="t"/><circle cx="437.2" cy="188.6" class="k"/><circle cx="447.3" cy="156.8" class="d"/><circle cx="572.2" cy="412.0" class="aj"/><circle cx="433.4" cy="208.2" class="p"/><circle cx="443.6" cy="166.8" class="f"/><circle cx="433.7" cy="207.3" class="p"/><circle cx="444.8" cy="163.9" class="f"/><circle cx="434.8" cy="204.2" class="o"/><circle cx="622.3" cy="208.4" class="p"/><circle cx="450.1" cy="150.1" class="c"/><circle cx="448.5" cy="153.5" class="c"/><circle cx="622.7" cy="313.7" class="N"/><circle cx="442.9" cy="170.6" class="g"/><circle cx="442.2" cy="173.2" class="h"/><circle cx="439.9" cy="177.5" class="i"/><circle cx="441.2" cy="174.3" class="h"/><circle cx="433.0" cy="209.6" class="p"/><circle cx="438.4" cy="186.0" class="k"/><circle cx="496.3" cy="415.8" class="ak"/><circle cx="450.1" cy="149.8" class="b"/><circle cx="432.4" cy="212.3" class="q"/><circle cx="445.9" cy="161.0" class="e"/><circle cx="450.0" cy="149.4" class="b"/><circle cx="434.6" cy="201.5" class="n"/><circle cx="625.3" cy="261.2" class="B"/><circle cx="436.6" cy="375.1" class="ab"/><circle cx="439.5" cy="180.6" class="i"/><circle cx="624.5" cy="236.3" class="v"/><circle cx="429.6" cy="339.5" class="T"/><circle cx="511.0" cy="414.4" class="ak"/><circle cx="447.2" cy="156.0" class="d"/><circle cx="445.9" cy="159.1" class="e"/><circle cx="445.7" cy="160.4" class="e"/><circle cx="440.9" cy="177.0" class="i"/><circle cx="432.3" cy="212.7" class="q"/><circle cx="448.6" cy="153.1" class="c"/><circle cx="445.8" cy="159.7" class="e"/><circle cx="436.7" cy="191.8" class="l"/><circle cx="448.6" cy="152.4" class="c"/><circle cx="448.7" cy="152.7" class="c"/><circle cx="447.3" cy="156.4" class="d"/><circle cx="442.2" cy="171.3" class="g"/><circle cx="438.5" cy="183.2" class="j"/><circle cx="442.3" cy="172.1" class="g"/><circle cx="444.6" cy="162.3" class="e"/><circle cx="436.5" cy="190.2" class="l"/><circle cx="449.5" cy="409.3" class="aj"/><circle cx="545.1" cy="413.9" class="ak"/><circle cx="443.6" cy="165.8" class="f"/><circle cx="474.1" cy="416.8" class="ak"/><circle cx="448.6" cy="152.0" class="c"/><circle cx="433.6" cy="203.6" class="o"/><circle cx="435.5" cy="199.2" class="n"/><circle cx="447.4" cy="155.6" class="d"/><circle cx="448.6" cy="150.5" class="c"/><circle cx="480.5" cy="416.4" class="ak"/><circle cx="426.0" cy="286.0" class="G"/><circle cx="443.7" cy="165.0" class="f"/><circle cx="450.0" cy="149.1" class="b"/><circle cx="440.7" cy="174.9" class="h"/><circle cx="587.6" cy="411.1" class="aj"/><circle cx="442.7" cy="169.5" class="g"/><circle cx="444.9" cy="162.9" class="e"/><circle cx="447.4" cy="155.2" class="d"/><circle cx="624.4" cy="222.8" class="s"/><circle cx="426.6" cy="269.4" class="D"/><circle cx="438.9" cy="180.4" class="i"/><circle cx="512.4" cy="166.1" class="f"/><circle cx="448.6" cy="151.3" class="c"/><circle cx="447.2" cy="154.9" class="c"/><circle cx="517.3" cy="414.7" class="ak"/><circle cx="505.1" cy="415.4" class="ak"/><circle cx="434.6" cy="201.0" class="n"/><circle cx="439.8" cy="176.0" class="h"/><circle cx="494.5" cy="415.4" class="ak"/><circle cx="443.7" cy="164.3" class="f"/><circle cx="440.8" cy="175.6" class="h"/><circle cx="439.5" cy="179.0" class="i"/><circle cx="442.9" cy="168.6" class="g"/><circle cx="435.8" cy="194.1" class="l"/><circle cx="432.4" cy="207.3" class="o"/><circle cx="439.8" cy="175.0" class="h"/><circle cx="436.6" cy="191.2" class="l"/><circle cx="434.2" cy="201.8" class="n"/><circle cx="620.6" cy="329.2" class="Q"/><circle cx="441.4" cy="172.8" class="h"/><circle cx="445.8" cy="158.3" class="d"/><circle cx="426.7" cy="304.5" class="L"/><circle cx="448.6" cy="150.9" class="c"/><circle cx="442.9" cy="167.8" class="f"/><circle cx="624.4" cy="234.1" class="u"/><circle cx="442.3" cy="170.1" class="g"/><circle cx="447.3" cy="154.5" class="c"/><circle cx="614.7" cy="361.4" class="Y"/><circle cx="445.8" cy="157.6" class="d"/><circle cx="445.0" cy="161.4" class="e"/><circle cx="448.8" cy="149.9" class="b"/><circle cx="447.3" cy="154.2" class="c"/><circle cx="441.3" cy="171.8" class="g"/><circle cx="438.3" cy="183.8" class="j"/><circle cx="625.2" cy="275.7" class="E"/><circle cx="447.4" cy="153.8" class="c"/><circle cx="504.9" cy="162.3" class="e"/><circle cx="435.3" cy="194.6" class="l"/><circle cx="448.8" cy="150.2" class="b"/><circle cx="441.9" cy="169.3" class="g"/><circle cx="448.7" cy="149.5" class="b"/><circle cx="447.3" cy="153.1" class="c"/><circle cx="447.4" cy="153.4" class="c"/><circle cx="443.5" cy="163.4" class="e"/><circle cx="438.5" cy="181.2" class="i"/><circle cx="444.6" cy="160.1" class="e"/><circle cx="525.5" cy="415.2" class="ak"/><circle cx="439.3" cy="177.7" class="i"/><circle cx="434.2" cy="361.4" class="X"/><circle cx="435.5" cy="196.1" class="m"/><circle cx="433.2" cy="204.5" class="o"/><circle cx="437.9" cy="185.1" class="j"/><circle cx="437.7" cy="184.0" class="j"/><circle cx="436.0" cy="191.5" class="l"/><circle cx="599.7" cy="405.8" class="ai"/><circle cx="441.0" cy="170.2" class="g"/><circle cx="435.2" cy="196.7" class="m"/><circle cx="445.7" cy="157.0" class="d"/><circle cx="437.3" cy="185.6" class="j"/><circle cx="439.3" cy="176.6" class="h"/><circle cx="436.4" cy="189.3" class="k"/><circle cx="448.7" cy="149.2" class="b"/><circle cx="443.7" cy="162.7" class="e"/><circle cx="446.1" cy="156.6" class="d"/><circle cx="433.6" cy="203.0" class="n"/><circle cx="445.9" cy="156.2" class="d"/><circle cx="617.3" cy="344.8" class="U"/><circle cx="432.7" cy="211.8" class="p"/><circle cx="425.7" cy="276.0" class="E"/><circle cx="439.0" cy="178.6" class="i"/><circle cx="624.2" cy="220.8" class="r"/><circle cx="437.5" cy="187.9" class="k"/><circle cx="471.1" cy="417.9" class="ak"/><circle cx="447.4" cy="152.4" class="c"/><circle cx="442.9" cy="166.7" class="f"/><circle cx="444.5" cy="396.7" class="af"/><circle cx="534.1" cy="414.7" class="ak"/><circle cx="624.9" cy="295.6" class="I"/><circle cx="428.3" cy="322.5" class="P"/><circle cx="606.5" cy="388.2" class="ad"/><circle cx="441.4" cy="170.5" class="g"/><circle cx="440.7" cy="172.3" class="g"/><circle cx="437.2" cy="186.6" class="k"/><circle cx="444.9" cy="160.6" class="e"/><circle cx="447.2" cy="152.7" class="c"/><circle cx="440.0" cy="173.3" class="g"/><circle cx="465.7" cy="418.2" class="ak"/><circle cx="442.0" cy="168.1" class="f"/><circle cx="624.6" cy="232.1" class="u"/><circle cx="434.0" cy="198.8" class="m"/><circle cx="443.0" cy="165.9" class="f"/><circle cx="440.9" cy="173.0" class="g"/><circle cx="442.8" cy="165.2" class="f"/><circle cx="551.2" cy="414.8" class="ak"/><circle cx="443.5" cy="161.9" class="e"/><circle cx="446.0" cy="155.5" class="c"/><circle cx="447.3" cy="151.7" class="c"/><circle cx="433.4" cy="200.3" class="n"/><circle cx="439.3" cy="175.3" class="h"/><circle cx="435.9" cy="189.4" class="k"/><circle cx="444.7" cy="159.3" class="d"/><circle cx="432.5" cy="207.0" class="o"/><circle cx="625.9" cy="273.5" class="D"/><circle cx="608.8" cy="378.8" class="ab"/><circle cx="442.0" cy="167.3" class="f"/><circle cx="434.8" cy="197.0" class="m"/><circle cx="437.6" cy="183.5" class="j"/></g><g fill-opacity="0.66" stroke-opacity="0.66"><circle cx="444.7" cy="158.7" class="d"/><circle cx="622.8" cy="308.6" class="L"/><circle cx="438.5" cy="181.6" class="i"/><circle cx="440.0" cy="172.4" class="g"/><circle cx="577.3" cy="414.0" class="aj"/><circle cx="445.9" cy="155.1" class="c"/><circle cx="447.3" cy="152.1" class="c"/><circle cx="432.2" cy="208.5" class="o"/><circle cx="568.0" cy="414.6" class="aj"/><circle cx="447.4" cy="151.4" class="b"/><circle cx="445.9" cy="154.8" class="c"/><circle cx="445.7" cy="155.8" class="c"/><circle cx="434.4" cy="197.7" class="m"/><circle cx="436.2" cy="187.3" class="k"/><circle cx="447.3" cy="150.7" class="b"/><circle cx="438.1" cy="179.5" class="i"/><circle cx="438.4" cy="180.4" class="i"/><circle cx="433.2" cy="200.7" class="n"/><circle cx="435.3" cy="191.7" class="l"/><circle cx="442.9" cy="163.7" class="e"/><circle cx="444.7" cy="157.5" class="d"/><circle cx="438.8" cy="179.0" class="i"/><circle cx="442.7" cy="164.3" class="e"/><circle cx="435.7" cy="192.8" class="l"/><circle cx="441.4" cy="168.7" class="f"/><circle cx="442.2" cy="166.4" class="f"/><circle cx="624.3" cy="218.8" class="r"/><circle cx="447.2" cy="151.1" class="b"/><circle cx="431.4" cy="213.9" class="q"/><circle cx="439.4" cy="174.0" class="h"/><circle cx="443.5" cy="161.1" class="e"/><circle cx="445.9" cy="154.1" class="c"/><circle cx="433.1" cy="204.7" class="o"/><circle cx="447.4" cy="150.1" class="b"/><circle cx="445.7" cy="154.5" class="c"/><circle cx="443.5" cy="160.5" class="d"/><circle cx="426.7" cy="290.1" class="H"/><circle cx="431.4" cy="345.2" class="U"/><circle cx="486.9" cy="417.8" class="ak"/><circle cx="441.1" cy="167.9" class="f"/><circle cx="625.0" cy="230.1" class="t"/><circle cx="432.0" cy="210.5" class="p"/><circle cx="436.9" cy="186.1" class="j"/><circle cx="443.5" cy="159.8" class="d"/><circle cx="513.6" cy="416.8" class="ak"/><circle cx="436.1" cy="190.1" class="k"/><circle cx="437.1" cy="184.5" class="j"/><circle cx="437.9" cy="181.4" class="i"/><circle cx="447.3" cy="150.4" class="b"/><circle cx="440.6" cy="170.9" class="g"/><circle cx="447.1" cy="149.8" class="b"/><circle cx="437.5" cy="180.6" class="i"/><circle cx="444.7" cy="157.9" class="d"/><circle cx="436.5" cy="185.0" class="j"/><circle cx="440.5" cy="382.6" class="ac"/><circle cx="445.8" cy="153.4" class="c"/><circle cx="442.0" cy="165.6" class="f"/><circle cx="593.5" cy="413.4" class="aj"/><circle cx="441.3" cy="167.0" class="f"/><circle cx="441.0" cy="166.4" class="f"/><circle cx="431.9" cy="211.3" class="p"/><circle cx="442.8" cy="162.9" class="e"/><circle cx="432.6" cy="202.3" class="n"/><circle cx="439.0" cy="175.6" class="h"/><circle cx="427.4" cy="309.5" class="L"/><circle cx="445.8" cy="153.1" class="c"/><circle cx="437.4" cy="181.6" class="i"/><circle cx="447.2" cy="149.4" class="b"/><circle cx="461.4" cy="419.3" class="ak"/><circle cx="440.2" cy="170.9" class="g"/><circle cx="438.8" cy="177.5" class="h"/><circle cx="445.9" cy="153.8" class="c"/><circle cx="444.7" cy="156.4" class="c"/><circle cx="443.4" cy="159.2" class="d"/><circle cx="549.1" cy="415.9" class="ak"/><circle cx="444.8" cy="156.8" class="d"/><circle cx="433.2" cy="200.4" class="m"/><circle cx="436.9" cy="183.1" class="j"/><circle cx="440.7" cy="169.1" class="f"/><circle cx="441.9" cy="164.1" class="e"/><circle cx="445.8" cy="152.5" class="c"/><circle cx="624.6" cy="216.8" class="q"/><circle cx="439.0" cy="174.5" class="h"/><circle cx="625.5" cy="270.8" class="C"/><circle cx="444.8" cy="156.1" class="c"/><circle cx="435.9" cy="186.9" class="j"/><circle cx="425.8" cy="280.9" class="F"/><circle cx="442.9" cy="162.1" class="e"/><circle cx="440.9" cy="169.7" class="f"/><circle cx="620.6" cy="323.7" class="P"/><circle cx="446.0" cy="152.8" class="c"/><circle cx="432.1" cy="204.5" class="n"/><circle cx="436.2" cy="183.7" class="j"/><circle cx="432.6" cy="207.4" class="o"/><circle cx="442.1" cy="164.7" class="e"/><circle cx="438.7" cy="176.3" class="h"/><circle cx="481.7" cy="418.3" class="ak"/><circle cx="440.1" cy="169.2" class="f"/><circle cx="434.0" cy="195.5" class="l"/><circle cx="445.8" cy="151.8" class="b"/><circle cx="430.7" cy="211.8" class="p"/><circle cx="443.5" cy="157.9" class="d"/><circle cx="434.3" cy="194.6" class="l"/><circle cx="439.5" cy="172.4" class="g"/><circle cx="443.5" cy="158.5" class="d"/><circle cx="444.7" cy="155.7" class="c"/><circle cx="498.7" cy="417.6" class="ak"/><circle cx="445.8" cy="152.2" class="b"/><circle cx="438.3" cy="177.4" class="h"/><circle cx="435.4" cy="188.8" class="k"/><circle cx="435.5" cy="190.4" class="k"/><circle cx="444.9" cy="155.4" class="c"/><circle cx="445.8" cy="151.5" class="b"/><circle cx="454.6" cy="414.1" class="aj"/><circle cx="433.4" cy="196.7" class="m"/><circle cx="435.5" cy="192.3" class="l"/><circle cx="614.9" cy="355.1" class="W"/><circle cx="435.6" cy="185.5" class="j"/><circle cx="440.0" cy="169.8" class="f"/><circle cx="625.3" cy="291.1" class="H"/><circle cx="624.7" cy="227.9" class="t"/><circle cx="442.7" cy="161.4" class="d"/><circle cx="444.8" cy="154.8" class="c"/><circle cx="444.7" cy="155.1" class="c"/><circle cx="435.1" cy="192.8" class="l"/><circle cx="440.7" cy="168.1" class="f"/><circle cx="429.7" cy="331.1" class="Q"/><circle cx="443.8" cy="157.3" class="d"/><circle cx="426.3" cy="257.9" class="z"/><circle cx="439.6" cy="171.4" class="g"/><circle cx="437.1" cy="179.0" class="h"/><circle cx="436.1" cy="187.6" class="j"/><circle cx="445.9" cy="150.9" class="b"/><circle cx="439.1" cy="173.1" class="g"/><circle cx="435.0" cy="191.0" class="k"/><circle cx="439.9" cy="168.3" class="f"/><circle cx="520.6" cy="417.5" class="ak"/><circle cx="436.6" cy="184.1" class="j"/><circle cx="437.5" cy="179.7" class="i"/><circle cx="617.5" cy="338.8" class="S"/><circle cx="436.2" cy="181.9" class="i"/><circle cx="442.1" cy="163.2" class="e"/><circle cx="442.9" cy="160.7" class="d"/><circle cx="426.6" cy="297.4" class="I"/><circle cx="497.0" cy="418.8" class="ak"/><circle cx="441.4" cy="165.1" class="e"/><circle cx="444.8" cy="154.1" class="c"/><circle cx="436.5" cy="367.2" class="Y"/><circle cx="437.9" cy="178.2" class="h"/><circle cx="445.8" cy="151.2" class="b"/><circle cx="431.7" cy="207.0" class="o"/><circle cx="436.9" cy="181.1" class="i"/><circle cx="541.8" cy="224.9" class="s"/><circle cx="441.1" cy="164.5" class="e"/><circle cx="529.1" cy="417.6" class="ak"/><circle cx="432.4" cy="203.4" class="n"/><circle cx="439.8" cy="167.5" class="f"/><circle cx="624.7" cy="215.0" class="q"/><circle cx="438.9" cy="172.2" class="g"/><circle cx="444.9" cy="154.4" class="c"/><circle cx="444.8" cy="153.5" class="c"/><circle cx="433.5" cy="196.2" class="l"/><circle cx="445.8" cy="150.6" class="b"/><circle cx="445.9" cy="150.3" class="b"/><circle cx="622.8" cy="303.6" class="K"/><circle cx="440.8" cy="167.1" class="f"/><circle cx="442.0" cy="161.9" class="e"/><circle cx="443.6" cy="156.7" class="c"/><circle cx="438.8" cy="174.7" class="g"/><circle cx="508.3" cy="418.6" class="ak"/><circle cx="445.9" cy="150.0" class="b"/><circle cx="512.4" cy="223.2" class="r"/><circle cx="433.2" cy="200.5" class="m"/><circle cx="444.6" cy="153.2" class="c"/><circle cx="434.7" cy="191.2" class="k"/><circle cx="433.1" cy="197.4" class="m"/><circle cx="441.9" cy="161.3" class="d"/><circle cx="625.5" cy="268.5" class="C"/><circle cx="439.9" cy="166.7" class="f"/><circle cx="538.3" cy="417.7" class="ak"/><circle cx="625.0" cy="225.9" class="s"/><circle cx="443.5" cy="156.0" class="c"/><circle cx="444.7" cy="153.8" class="c"/><circle cx="432.6" cy="198.7" class="m"/><circle cx="434.0" cy="192.6" class="k"/><circle cx="443.0" cy="160.0" class="d"/><circle cx="442.7" cy="159.5" class="d"/><circle cx="441.2" cy="163.2" class="e"/><circle cx="438.9" cy="171.2" class="g"/><circle cx="442.4" cy="162.3" class="e"/><circle cx="436.1" cy="185.5" class="j"/><circle cx="441.3" cy="163.7" class="e"/><circle cx="445.9" cy="149.7" class="b"/><circle cx="443.6" cy="155.7" class="c"/><circle cx="600.1" cy="398.5" class="af"/><circle cx="435.6" cy="187.7" class="j"/><circle cx="439.3" cy="169.5" class="f"/><circle cx="443.6" cy="156.3" class="c"/><circle cx="426.0" cy="267.6" class="B"/><circle cx="606.7" cy="380.9" class="ab"/><circle cx="435.3" cy="186.5" class="j"/><circle cx="432.5" cy="203.8" class="n"/><circle cx="438.4" cy="175.4" class="g"/><circle cx="449.6" cy="401.7" class="ag"/><circle cx="440.7" cy="165.0" class="e"/><circle cx="442.9" cy="158.8" class="d"/><circle cx="439.7" cy="169.9" class="f"/><circle cx="440.9" cy="166.1" class="e"/><circle cx="472.1" cy="420.2" class="ak"/><circle cx="436.6" cy="182.0" class="i"/><circle cx="437.5" cy="176.9" class="h"/><circle cx="624.6" cy="212.8" class="p"/><circle cx="444.7" cy="152.9" class="b"/><circle cx="442.0" cy="160.5" class="d"/><circle cx="442.9" cy="158.2" class="d"/><circle cx="435.9" cy="182.7" class="i"/><circle cx="573.0" cy="416.6" class="aj"/><circle cx="434.6" cy="191.1" class="k"/><circle cx="438.1" cy="174.6" class="g"/><circle cx="439.0" cy="170.2" class="f"/><circle cx="428.0" cy="315.5" class="M"/><circle cx="438.9" cy="173.3" class="g"/><circle cx="432.1" cy="206.4" class="o"/><circle cx="582.5" cy="415.8" class="aj"/><circle cx="443.6" cy="155.1" class="c"/><circle cx="437.8" cy="175.6" class="h"/><circle cx="556.2" cy="417.5" class="ak"/><circle cx="445.0" cy="152.6" class="b"/><circle cx="444.7" cy="152.3" class="b"/><circle cx="609.1" cy="372.4" class="Z"/><circle cx="434.1" cy="353.5" class="V"/><circle cx="439.4" cy="168.5" class="f"/><circle cx="438.0" cy="176.4" class="h"/><circle cx="475.9" cy="420.5" class="ak"/><circle cx="443.7" cy="154.4" class="c"/><circle cx="443.5" cy="154.8" class="c"/><circle cx="514.6" cy="226.8" class="s"/><circle cx="440.9" cy="165.3" class="e"/><circle cx="432.3" cy="200.1" class="m"/><circle cx="433.7" cy="190.8" class="k"/><circle cx="438.2" cy="173.5" class="g"/><circle cx="442.9" cy="157.1" class="c"/><circle cx="444.8" cy="151.4" class="b"/><circle cx="431.3" cy="204.6" class="n"/><circle cx="438.9" cy="172.3" class="g"/><circle cx="624.9" cy="223.8" class="r"/><circle cx="439.9" cy="165.6" class="e"/><circle cx="436.4" cy="180.7" class="i"/><circle cx="432.9" cy="198.2" class="m"/><circle cx="430.9" cy="207.2" class="o"/><circle cx="444.8" cy="151.7" class="b"/><circle cx="625.7" cy="266.0" class="B"/><circle cx="442.0" cy="159.9" class="d"/><circle cx="426.5" cy="283.8" class="F"/><circle cx="441.2" cy="161.7" class="d"/><circle cx="444.7" cy="150.8" class="b"/><circle cx="440.8" cy="164.0" class="e"/><circle cx="433.9" cy="192.5" class="k"/><circle cx="437.7" cy="174.5" class="g"/><circle cx="435.4" cy="187.4" class="j"/><circle cx="441.2" cy="162.2" class="d"/><circle cx="438.9" cy="169.2" class="f"/><circle cx="443.7" cy="154.1" class="c"/><circle cx="432.2" cy="200.9" class="m"/><circle cx="435.4" cy="185.8" class="j"/><circle cx="444.8" cy="151.1" class="b"/><circle cx="437.3" cy="175.6" class="g"/><circle cx="444.7" cy="152.0" class="b"/><circle cx="437.1" cy="177.7" class="h"/><circle cx="440.7" cy="163.4" class="e"/><circle cx="443.6" cy="153.5" class="b"/><circle cx="442.9" cy="157.6" class="c"/><circle cx="426.3" cy="259.3" class="z"/><circle cx="444.8" cy="150.5" class="b"/><circle cx="435.4" cy="184.3" class="i"/><circle cx="439.6" cy="167.4" class="f"/><circle cx="435.8" cy="181.1" class="i"/><circle cx="625.1" cy="286.3" class="G"/><circle cx="439.8" cy="164.2" class="e"/><circle cx="442.1" cy="158.7" class="d"/><circle cx="432.4" cy="196.2" class="l"/><circle cx="437.2" cy="178.5" class="h"/><circle cx="620.7" cy="318.5" class="N"/><circle cx="444.7" cy="150.2" class="b"/><circle cx="438.9" cy="171.2" class="f"/><circle cx="436.2" cy="183.1" class="i"/><circle cx="466.8" cy="421.3" class="ak"/><circle cx="442.9" cy="156.5" class="c"/><circle cx="442.0" cy="159.2" class="d"/><circle cx="444.8" cy="149.9" class="b"/><circle cx="436.9" cy="178.8" class="h"/><circle cx="441.3" cy="161.0" class="d"/><circle cx="443.7" cy="153.2" class="b"/><circle cx="516.7" cy="419.6" class="ak"/><circle cx="430.8" cy="209.1" class="o"/><circle cx="443.5" cy="152.7" class="b"/><circle cx="443.5" cy="153.0" class="b"/><circle cx="441.1" cy="159.9" class="d"/><circle cx="439.8" cy="163.6" class="e"/><circle cx="433.2" cy="194.0" class="l"/><circle cx="433.7" cy="192.9" class="k"/><circle cx="440.0" cy="164.7" class="e"/><circle cx="442.9" cy="156.2" class="c"/><circle cx="436.2" cy="179.4" class="h"/><circle cx="438.3" cy="172.2" class="g"/><circle cx="439.4" cy="166.7" class="e"/><circle cx="442.2" cy="158.1" class="c"/><circle cx="427.0" cy="303.4" class="J"/><circle cx="435.2" cy="184.4" class="i"/><circle cx="444.4" cy="387.6" class="ad"/><circle cx="441.3" cy="160.4" class="d"/><circle cx="437.5" cy="174.3" class="g"/><circle cx="439.9" cy="162.9" class="d"/><circle cx="425.8" cy="274.3" class="D"/><circle cx="594.5" cy="408.1" class="ah"/><circle cx="435.0" cy="187.8" class="j"/><circle cx="436.7" cy="177.7" class="h"/><circle cx="442.8" cy="155.9" class="c"/><circle cx="443.6" cy="152.1" class="b"/><circle cx="442.9" cy="155.6" class="c"/><circle cx="435.9" cy="181.9" class="i"/><circle cx="625.3" cy="221.9" class="r"/><circle cx="553.5" cy="418.0" class="aj"/><circle cx="438.9" cy="170.2" class="f"/><circle cx="443.6" cy="152.4" class="b"/><circle cx="434.7" cy="188.3" class="j"/><circle cx="433.2" cy="191.6" class="k"/><circle cx="431.3" cy="337.2" class="R"/><circle cx="442.8" cy="155.3" class="c"/><circle cx="437.2" cy="176.2" class="g"/><circle cx="432.5" cy="196.1" class="l"/><circle cx="439.5" cy="165.9" class="e"/><circle cx="431.9" cy="203.3" class="n"/><circle cx="489.1" cy="419.9" class="ak"/><circle cx="433.6" cy="190.5" class="k"/><circle cx="440.9" cy="162.5" class="d"/><circle cx="625.9" cy="263.7" class="A"/><circle cx="437.3" cy="173.3" class="g"/><circle cx="434.5" cy="186.7" class="j"/><circle cx="442.1" cy="157.1" class="c"/><circle cx="437.0" cy="175.3" class="g"/><circle cx="439.0" cy="167.3" class="e"/><circle cx="437.9" cy="172.9" class="g"/><circle cx="435.4" cy="185.1" class="i"/><circle cx="442.9" cy="154.7" class="c"/><circle cx="483.3" cy="421.4" class="ak"/><circle cx="614.9" cy="349.2" class="U"/><circle cx="623.0" cy="299.0" class="I"/><circle cx="461.9" cy="420.2" class="ak"/><circle cx="432.5" cy="200.2" class="m"/><circle cx="438.6" cy="168.8" class="f"/><circle cx="618.0" cy="333.8" class="Q"/><circle cx="443.7" cy="151.6" class="b"/><circle cx="443.6" cy="151.3" class="b"/><circle cx="432.9" cy="192.2" class="k"/><circle cx="439.5" cy="165.2" class="e"/><circle cx="432.4" cy="196.8" class="l"/><circle cx="435.8" cy="180.5" class="h"/><circle cx="442.2" cy="157.5" class="c"/><circle cx="439.4" cy="164.6" class="e"/><circle cx="438.7" cy="169.3" class="f"/><circle cx="438.9" cy="166.6" class="e"/><circle cx="438.8" cy="166.0" class="e"/><circle cx="437.8" cy="172.0" class="f"/><circle cx="443.6" cy="151.0" class="b"/><circle cx="442.8" cy="154.2" class="b"/><circle cx="438.3" cy="170.2" class="f"/><circle cx="440.0" cy="162.1" class="d"/><circle cx="442.8" cy="154.4" class="b"/><circle cx="426.4" cy="291.5" class="H"/><circle cx="436.7" cy="176.2" class="g"/><circle cx="435.1" cy="182.6" class="i"/><circle cx="440.8" cy="161.3" class="d"/><circle cx="439.9" cy="161.5" class="d"/><circle cx="442.1" cy="156.5" class="c"/><circle cx="441.4" cy="159.1" class="c"/><circle cx="523.5" cy="419.0" class="ak"/><circle cx="442.1" cy="155.9" class="c"/><circle cx="434.0" cy="187.5" class="j"/><circle cx="440.8" cy="161.8" class="d"/><circle cx="443.9" cy="150.7" class="b"/><circle cx="432.3" cy="197.1" class="l"/><circle cx="510.5" cy="419.8" class="ak"/><circle cx="429.3" cy="325.0" class="O"/><circle cx="442.0" cy="155.7" class="c"/><circle cx="438.5" cy="170.6" class="f"/><circle cx="441.4" cy="158.6" class="c"/><circle cx="431.6" cy="200.2" class="m"/><circle cx="443.6" cy="150.5" class="a"/><circle cx="425.8" cy="262.7" class="A"/><circle cx="443.7" cy="150.2" class="a"/><circle cx="434.6" cy="186.3" class="j"/><circle cx="625.3" cy="219.9" class="q"/><circle cx="438.6" cy="167.2" class="e"/><circle cx="435.9" cy="177.9" class="h"/><circle cx="435.2" cy="180.9" class="h"/><circle cx="440.5" cy="372.6" class="Z"/><circle cx="436.6" cy="177.1" class="h"/><circle cx="440.8" cy="160.7" class="d"/><circle cx="442.0" cy="155.4" class="c"/><circle cx="441.4" cy="158.0" class="c"/><circle cx="501.5" cy="421.1" class="ak"/><circle cx="431.2" cy="202.9" class="m"/><circle cx="436.9" cy="174.0" class="g"/><circle cx="430.3" cy="209.4" class="o"/><circle cx="440.1" cy="160.8" class="d"/><circle cx="437.6" cy="171.8" class="f"/><circle cx="438.8" cy="167.6" class="e"/><circle cx="442.2" cy="156.1" class="c"/><circle cx="440.7" cy="159.1" class="c"/><circle cx="432.8" cy="192.4" class="k"/><circle cx="439.3" cy="163.2" class="d"/><circle cx="438.1" cy="169.2" class="f"/><circle cx="434.8" cy="184.2" class="i"/><circle cx="443.2" cy="153.8" class="b"/><circle cx="430.8" cy="205.4" class="n"/><circle cx="438.4" cy="166.4" class="e"/><circle cx="438.9" cy="165.0" class="e"/><circle cx="435.4" cy="183.2" class="i"/><circle cx="441.8" cy="155.1" class="b"/><circle cx="533.0" cy="420.3" class="ak"/><circle cx="437.4" cy="171.1" class="f"/><circle cx="440.1" cy="160.3" class="d"/><circle cx="626.2" cy="261.6" class="A"/><circle cx="436.8" cy="174.8" class="g"/><circle cx="435.8" cy="178.8" class="h"/><circle cx="443.1" cy="153.3" class="b"/><circle cx="442.7" cy="152.3" class="b"/><circle cx="442.8" cy="153.6" class="b"/><circle cx="437.9" cy="170.7" class="f"/><circle cx="439.7" cy="163.5" class="d"/><circle cx="432.3" cy="197.7" class="l"/><circle cx="435.2" cy="179.5" class="h"/><circle cx="431.7" cy="200.5" class="m"/><circle cx="442.0" cy="154.8" class="b"/><circle cx="441.2" cy="156.5" class="c"/><circle cx="433.9" cy="187.6" class="j"/><circle cx="441.2" cy="157.0" class="c"/><circle cx="442.8" cy="152.0" class="b"/><circle cx="442.3" cy="154.5" class="b"/><circle cx="440.9" cy="159.5" class="c"/><circle cx="432.3" cy="194.1" class="k"/><circle cx="433.0" cy="189.5" class="j"/><circle cx="443.1" cy="152.8" class="b"/><circle cx="625.4" cy="282.1" class="E"/><circle cx="437.7" cy="170.0" class="f"/><circle cx="441.2" cy="156.3" class="c"/><circle cx="440.9" cy="160.0" class="d"/><circle cx="439.9" cy="159.2" class="c"/><circle cx="436.8" cy="175.5" class="g"/><circle cx="435.3" cy="180.4" class="h"/><circle cx="560.1" cy="419.3" class="aj"/><circle cx="440.1" cy="159.7" class="c"/><circle cx="438.4" cy="168.2" class="e"/><circle cx="426.3" cy="279.4" class="E"/><circle cx="600.2" cy="390.7" class="ad"/><circle cx="433.6" cy="188.1" class="j"/><circle cx="437.3" cy="170.1" class="f"/><circle cx="434.0" cy="185.3" class="i"/><circle cx="436.4" cy="174.9" class="g"/><circle cx="621.3" cy="313.8" class="L"/><circle cx="439.1" cy="163.6" class="d"/><circle cx="437.6" cy="169.3" class="f"/><circle cx="499.4" cy="420.8" class="ak"/><circle cx="441.2" cy="156.0" class="c"/><circle cx="606.8" cy="374.2" class="Z"/><circle cx="609.4" cy="365.8" class="X"/><circle cx="442.8" cy="151.8" class="b"/><circle cx="508.4" cy="232.1" class="t"/><circle cx="432.1" cy="194.9" class="k"/><circle cx="437.2" cy="172.4" class="f"/><circle cx="454.7" cy="406.4" class="ag"/><circle cx="433.0" cy="192.0" class="k"/><circle cx="442.0" cy="153.2" class="b"/><circle cx="435.2" cy="181.7" class="h"/><circle cx="438.4" cy="167.4" class="e"/><circle cx="442.8" cy="151.2" class="b"/><circle cx="440.7" cy="158.5" class="c"/><circle cx="437.0" cy="171.8" class="f"/><circle cx="587.8" cy="417.1" class="aj"/><circle cx="436.6" cy="358.1" class="V"/><circle cx="426.4" cy="253.2" class="y"/><circle cx="436.4" cy="173.1" class="f"/><circle cx="436.8" cy="173.6" class="g"/><circle cx="435.3" cy="177.9" class="h"/><circle cx="439.5" cy="161.8" class="d"/><circle cx="625.1" cy="217.9" class="q"/><circle cx="519.2" cy="421.4" class="ak"/><circle cx="434.7" cy="184.1" class="i"/><circle cx="441.3" cy="155.7" class="b"/><circle cx="442.9" cy="151.5" class="b"/><circle cx="542.5" cy="419.4" class="aj"/><circle cx="439.6" cy="162.2" class="d"/><circle cx="428.1" cy="307.5" class="K"/><circle cx="432.8" cy="190.2" class="j"/><circle cx="430.9" cy="200.5" class="m"/><circle cx="434.8" cy="182.3" class="i"/><circle cx="438.8" cy="165.2" class="e"/><circle cx="433.7" cy="185.8" class="i"/><circle cx="437.6" cy="168.3" class="e"/><circle cx="442.3" cy="153.7" class="b"/><circle cx="442.9" cy="150.7" class="a"/><circle cx="440.8" cy="157.9" class="c"/><circle cx="438.6" cy="164.8" class="e"/><circle cx="439.9" cy="158.1" class="c"/><circle cx="442.9" cy="151.0" class="a"/><circle cx="436.0" cy="176.9" class="g"/><circle cx="625.9" cy="258.9" class="z"/><circle cx="439.5" cy="161.2" class="d"/><circle cx="425.7" cy="269.6" class="B"/><circle cx="435.8" cy="175.2" class="g"/><circle cx="431.7" cy="197.0" class="l"/><circle cx="437.4" cy="169.1" class="e"/><circle cx="442.0" cy="153.4" class="b"/><circle cx="438.9" cy="162.4" class="d"/><circle cx="442.1" cy="152.7" class="b"/><circle cx="442.9" cy="150.5" class="a"/><circle cx="438.5" cy="164.2" class="d"/><circle cx="434.4" cy="181.5" class="h"/><circle cx="623.5" cy="294.5" class="H"/><circle cx="442.0" cy="152.4" class="b"/><circle cx="440.9" cy="156.9" class="c"/><circle cx="439.5" cy="160.6" class="d"/><circle cx="442.1" cy="152.1" class="b"/><circle cx="430.2" cy="206.6" class="n"/><circle cx="438.4" cy="165.9" class="e"/><circle cx="436.7" cy="173.3" class="f"/><circle cx="435.0" cy="180.5" class="h"/><circle cx="435.4" cy="178.6" class="h"/><circle cx="477.2" cy="423.2" class="ak"/><circle cx="435.7" cy="174.2" class="g"/><circle cx="430.7" cy="202.8" class="m"/><circle cx="434.5" cy="182.5" class="h"/><circle cx="438.4" cy="166.4" class="e"/><circle cx="437.1" cy="170.6" class="f"/><circle cx="433.5" cy="186.3" class="i"/><circle cx="441.1" cy="157.3" class="c"/><circle cx="511.0" cy="243.1" class="v"/><circle cx="432.7" cy="190.4" class="j"/><circle cx="440.0" cy="157.1" class="c"/><circle cx="441.0" cy="156.4" class="c"/><circle cx="441.4" cy="154.6" class="b"/><circle cx="442.2" cy="151.9" class="b"/><circle cx="625.5" cy="279.6" class="D"/><circle cx="430.7" cy="203.8" class="m"/><circle cx="432.4" cy="194.8" class="k"/><circle cx="434.2" cy="344.9" class="S"/><circle cx="442.0" cy="151.4" class="a"/><circle cx="439.3" cy="160.1" class="c"/><circle cx="438.7" cy="163.4" class="d"/><circle cx="438.0" cy="167.2" class="e"/><circle cx="626.2" cy="241.1" class="v"/><circle cx="430.2" cy="207.9" class="n"/><circle cx="579.1" cy="418.5" class="aj"/><circle cx="437.8" cy="166.7" class="e"/><circle cx="441.4" cy="153.8" class="b"/><circle cx="427.1" cy="295.9" class="H"/><circle cx="625.1" cy="215.9" class="p"/><circle cx="437.5" cy="168.1" class="e"/><circle cx="434.3" cy="182.9" class="i"/><circle cx="436.4" cy="171.0" class="f"/><circle cx="615.4" cy="343.6" class="S"/><circle cx="618.0" cy="328.2" class="O"/><circle cx="433.8" cy="182.3" class="h"/><circle cx="473.5" cy="423.5" class="ak"/><circle cx="436.9" cy="171.3" class="f"/><circle cx="438.8" cy="160.7" class="c"/><circle cx="436.2" cy="175.3" class="g"/><circle cx="439.4" cy="159.1" class="c"/><circle cx="432.3" cy="192.0" class="k"/><circle cx="449.8" cy="391.9" class="ad"/><circle cx="432.6" cy="190.9" class="j"/><circle cx="490.8" cy="423.2" class="ak"/><circle cx="437.5" cy="166.8" class="e"/><circle cx="432.0" cy="197.0" class="l"/><circle cx="436.5" cy="172.4" class="f"/><circle cx="442.2" cy="151.7" class="a"/><circle cx="441.5" cy="153.5" class="b"/><circle cx="441.0" cy="156.1" class="b"/><circle cx="439.6" cy="159.4" class="c"/><circle cx="441.2" cy="153.3" class="b"/><circle cx="437.0" cy="169.6" class="e"/><circle cx="431.3" cy="195.7" class="k"/><circle cx="438.3" cy="165.1" class="d"/><circle cx="433.4" cy="186.4" class="i"/><circle cx="440.9" cy="155.6" class="b"/><circle cx="442.3" cy="151.2" class="a"/><circle cx="438.6" cy="162.8" class="d"/><circle cx="441.3" cy="153.1" class="b"/><circle cx="442.2" cy="151.0" class="a"/><circle cx="432.8" cy="188.0" class="j"/><circle cx="437.6" cy="166.0" class="e"/><circle cx="435.9" cy="172.8" class="f"/><circle cx="426.0" cy="257.3" class="y"/><circle cx="442.2" cy="150.7" class="a"/><circle cx="441.0" cy="155.9" class="b"/><circle cx="439.2" cy="158.1" class="c"/><circle cx="440.1" cy="155.5" class="b"/><circle cx="594.8" cy="400.6" class="af"/><circle cx="436.4" cy="171.5" class="f"/><circle cx="434.5" cy="180.9" class="h"/><circle cx="626.2" cy="256.8" class="y"/><circle cx="441.4" cy="152.3" class="b"/><circle cx="430.8" cy="198.3" class="l"/><circle cx="435.4" cy="178.3" class="g"/><circle cx="435.9" cy="174.5" class="g"/><circle cx="438.8" cy="160.1" class="c"/><circle cx="435.6" cy="176.8" class="g"/><circle cx="437.3" cy="166.0" class="e"/><circle cx="441.3" cy="152.8" class="b"/><circle cx="435.4" cy="175.1" class="g"/><circle cx="438.5" cy="164.3" class="d"/><circle cx="437.8" cy="165.2" class="d"/><circle cx="436.6" cy="169.8" class="e"/><circle cx="441.2" cy="152.1" class="a"/><circle cx="426.6" cy="284.5" class="E"/><circle cx="432.9" cy="187.9" class="j"/><circle cx="434.1" cy="183.0" class="h"/><circle cx="431.5" cy="329.4" class="P"/><circle cx="435.3" cy="176.1" class="g"/><circle cx="441.0" cy="155.3" class="b"/><circle cx="434.8" cy="179.1" class="h"/><circle cx="430.2" cy="202.2" class="m"/><circle cx="438.4" cy="163.7" class="d"/><circle cx="439.6" cy="158.4" class="c"/><circle cx="432.3" cy="192.5" class="k"/><circle cx="441.2" cy="151.1" class="a"/><circle cx="438.3" cy="163.2" class="d"/><circle cx="438.5" cy="161.6" class="d"/><circle cx="440.9" cy="154.6" class="b"/><circle cx="441.4" cy="151.4" class="a"/><circle cx="435.9" cy="173.5" class="f"/><circle cx="467.6" cy="421.9" class="ak"/><circle cx="439.5" cy="157.5" class="c"/><circle cx="558.6" cy="420.5" class="aj"/><circle cx="433.6" cy="182.4" class="h"/></g><g fill-opacity="0.68" stroke-opacity="0.68"><circle cx="441.2" cy="151.9" class="a"/><circle cx="430.1" cy="203.6" class="m"/><circle cx="440.9" cy="154.4" class="b"/><circle cx="440.8" cy="153.9" class="b"/><circle cx="439.0" cy="159.0" class="c"/><circle cx="438.6" cy="161.1" class="c"/><circle cx="438.9" cy="161.9" class="d"/><circle cx="437.2" cy="168.5" class="e"/><circle cx="626.1" cy="239.0" class="u"/><circle cx="437.0" cy="168.0" class="e"/><circle cx="439.3" cy="157.1" class="c"/><circle cx="429.7" cy="208.0" class="n"/><circle cx="440.9" cy="154.9" class="b"/><circle cx="625.1" cy="276.7" class="D"/><circle cx="436.7" cy="168.8" class="e"/><circle cx="435.2" cy="177.2" class="g"/><circle cx="431.8" cy="194.8" class="k"/><circle cx="433.8" cy="183.7" class="i"/><circle cx="527.1" cy="422.6" class="ak"/><circle cx="433.4" cy="184.5" class="i"/><circle cx="437.7" cy="164.5" class="d"/><circle cx="437.9" cy="163.9" class="d"/><circle cx="436.3" cy="169.8" class="e"/><circle cx="435.3" cy="174.0" class="f"/><circle cx="436.6" cy="170.3" class="f"/><circle cx="434.9" cy="176.5" class="g"/><circle cx="440.1" cy="154.5" class="b"/><circle cx="621.5" cy="308.9" class="K"/><circle cx="441.3" cy="151.7" class="a"/><circle cx="431.1" cy="198.8" class="l"/><circle cx="438.2" cy="162.6" class="d"/><circle cx="444.4" cy="377.1" class="Z"/><circle cx="435.9" cy="172.5" class="f"/><circle cx="438.4" cy="160.6" class="c"/><circle cx="429.5" cy="317.6" class="M"/><circle cx="440.1" cy="154.3" class="b"/><circle cx="437.8" cy="165.0" class="d"/><circle cx="503.5" cy="423.0" class="ak"/><circle cx="434.3" cy="179.7" class="h"/><circle cx="441.3" cy="151.0" class="a"/><circle cx="439.3" cy="156.4" class="b"/><circle cx="438.8" cy="157.7" class="c"/><circle cx="439.5" cy="156.6" class="b"/><circle cx="434.6" cy="179.1" class="g"/><circle cx="438.0" cy="162.2" class="d"/><circle cx="440.9" cy="153.6" class="b"/><circle cx="439.4" cy="156.1" class="b"/><circle cx="440.7" cy="153.2" class="b"/><circle cx="432.8" cy="188.3" class="j"/><circle cx="441.0" cy="153.4" class="b"/><circle cx="436.9" cy="166.6" class="e"/><circle cx="430.4" cy="204.2" class="m"/><circle cx="434.8" cy="177.7" class="g"/><circle cx="435.7" cy="170.3" class="e"/><circle cx="440.8" cy="153.0" class="b"/><circle cx="437.2" cy="167.0" class="e"/><circle cx="626.5" cy="254.7" class="y"/><circle cx="426.4" cy="272.8" class="C"/><circle cx="432.7" cy="186.2" class="i"/><circle cx="440.6" cy="152.8" class="a"/><circle cx="440.0" cy="153.1" class="b"/><circle cx="432.5" cy="189.3" class="j"/><circle cx="438.3" cy="161.5" class="c"/><circle cx="485.3" cy="424.6" class="ak"/><circle cx="438.9" cy="158.1" class="c"/><circle cx="439.4" cy="155.9" class="b"/><circle cx="435.5" cy="174.6" class="f"/><circle cx="433.6" cy="182.3" class="h"/><circle cx="433.1" cy="183.4" class="h"/><circle cx="501.4" cy="423.9" class="ak"/><circle cx="436.8" cy="167.9" class="e"/><circle cx="623.6" cy="290.0" class="G"/><circle cx="437.7" cy="163.3" class="d"/><circle cx="437.4" cy="164.0" class="d"/><circle cx="430.9" cy="195.4" class="k"/><circle cx="434.0" cy="178.9" class="g"/><circle cx="435.7" cy="171.6" class="f"/><circle cx="433.8" cy="180.4" class="h"/><circle cx="437.7" cy="164.3" class="d"/><circle cx="545.9" cy="421.9" class="aj"/><circle cx="609.5" cy="359.5" class="V"/><circle cx="431.9" cy="191.8" class="j"/><circle cx="439.5" cy="155.4" class="b"/><circle cx="435.0" cy="175.1" class="f"/><circle cx="425.8" cy="263.9" class="A"/><circle cx="438.7" cy="159.9" class="c"/><circle cx="430.6" cy="197.2" class="k"/><circle cx="436.8" cy="167.1" class="e"/><circle cx="440.8" cy="152.0" class="a"/><circle cx="439.4" cy="155.2" class="b"/><circle cx="430.2" cy="199.4" class="l"/><circle cx="626.3" cy="236.9" class="t"/><circle cx="440.9" cy="152.5" class="a"/><circle cx="435.3" cy="173.8" class="f"/><circle cx="436.4" cy="168.8" class="e"/><circle cx="429.3" cy="206.4" class="n"/><circle cx="434.8" cy="176.4" class="g"/><circle cx="435.8" cy="170.7" class="e"/><circle cx="440.4" cy="364.4" class="W"/><circle cx="439.5" cy="155.6" class="b"/><circle cx="436.5" cy="167.9" class="e"/><circle cx="607.1" cy="368.0" class="X"/><circle cx="438.2" cy="161.0" class="c"/><circle cx="427.9" cy="302.5" class="I"/><circle cx="438.9" cy="156.7" class="b"/><circle cx="437.7" cy="162.1" class="d"/><circle cx="429.2" cy="208.0" class="n"/><circle cx="625.4" cy="274.4" class="C"/><circle cx="432.5" cy="189.9" class="j"/><circle cx="433.7" cy="179.2" class="g"/><circle cx="461.9" cy="410.9" class="ah"/><circle cx="440.7" cy="151.6" class="a"/><circle cx="438.7" cy="159.4" class="c"/><circle cx="433.4" cy="181.3" class="h"/><circle cx="438.2" cy="160.5" class="c"/><circle cx="434.7" cy="177.6" class="g"/><circle cx="432.7" cy="186.7" class="i"/><circle cx="440.8" cy="151.9" class="a"/><circle cx="436.5" cy="166.6" class="e"/><circle cx="439.4" cy="154.2" class="b"/><circle cx="436.0" cy="169.0" class="e"/><circle cx="435.2" cy="172.9" class="f"/><circle cx="433.8" cy="177.8" class="g"/><circle cx="440.8" cy="151.4" class="a"/><circle cx="439.4" cy="154.7" class="b"/><circle cx="438.9" cy="156.2" class="b"/><circle cx="431.9" cy="192.1" class="j"/><circle cx="430.3" cy="200.4" class="l"/><circle cx="600.5" cy="384.4" class="ab"/><circle cx="514.5" cy="423.9" class="ak"/><circle cx="440.9" cy="151.2" class="a"/><circle cx="537.0" cy="422.0" class="aj"/><circle cx="437.5" cy="162.7" class="d"/><circle cx="588.3" cy="410.7" class="ah"/><circle cx="438.6" cy="158.5" class="c"/><circle cx="430.0" cy="202.8" class="m"/><circle cx="435.8" cy="169.8" class="e"/><circle cx="440.0" cy="151.8" class="a"/><circle cx="439.6" cy="154.4" class="b"/><circle cx="425.7" cy="253.5" class="x"/><circle cx="618.5" cy="323.2" class="N"/><circle cx="437.4" cy="165.4" class="d"/><circle cx="434.7" cy="175.3" class="f"/><circle cx="439.9" cy="151.6" class="a"/><circle cx="438.4" cy="159.9" class="c"/><circle cx="440.2" cy="151.3" class="a"/><circle cx="626.5" cy="252.3" class="x"/><circle cx="437.8" cy="161.5" class="c"/><circle cx="437.2" cy="164.9" class="d"/><circle cx="437.7" cy="161.1" class="c"/><circle cx="433.3" cy="181.4" class="h"/><circle cx="520.0" cy="217.8" class="p"/><circle cx="438.7" cy="158.0" class="c"/><circle cx="435.3" cy="171.8" class="f"/><circle cx="438.7" cy="157.6" class="b"/><circle cx="432.4" cy="185.5" class="i"/><circle cx="438.3" cy="159.4" class="c"/><circle cx="615.8" cy="338.1" class="Q"/><circle cx="438.9" cy="155.5" class="b"/><circle cx="432.7" cy="186.8" class="i"/><circle cx="439.5" cy="154.0" class="b"/><circle cx="427.1" cy="290.6" class="G"/><circle cx="437.5" cy="162.1" class="c"/><circle cx="436.4" cy="167.2" class="e"/><circle cx="431.8" cy="190.0" class="j"/><circle cx="436.2" cy="166.1" class="d"/><circle cx="436.6" cy="350.0" class="T"/><circle cx="436.6" cy="165.2" class="d"/><circle cx="432.9" cy="180.7" class="h"/><circle cx="435.9" cy="167.6" class="e"/><circle cx="439.5" cy="153.7" class="b"/><circle cx="626.7" cy="234.9" class="t"/><circle cx="434.8" cy="176.1" class="g"/><circle cx="439.4" cy="153.5" class="a"/><circle cx="439.4" cy="153.1" class="a"/><circle cx="435.5" cy="173.1" class="f"/><circle cx="434.9" cy="173.0" class="f"/><circle cx="584.5" cy="421.1" class="aj"/><circle cx="433.2" cy="183.4" class="h"/><circle cx="433.6" cy="179.5" class="g"/><circle cx="528.8" cy="223.9" class="q"/><circle cx="434.8" cy="174.1" class="f"/><circle cx="433.7" cy="177.9" class="g"/><circle cx="430.2" cy="196.9" class="k"/><circle cx="439.5" cy="153.3" class="a"/><circle cx="436.0" cy="168.7" class="e"/><circle cx="432.4" cy="188.0" class="i"/><circle cx="438.7" cy="156.7" class="b"/><circle cx="436.5" cy="166.4" class="d"/><circle cx="436.4" cy="164.7" class="d"/><circle cx="565.7" cy="421.0" class="aj"/><circle cx="437.8" cy="160.4" class="c"/><circle cx="434.0" cy="176.2" class="g"/><circle cx="438.6" cy="157.2" class="b"/><circle cx="437.2" cy="164.2" class="d"/><circle cx="426.2" cy="244.1" class="v"/><circle cx="431.3" cy="192.4" class="j"/><circle cx="478.6" cy="426.0" class="ak"/><circle cx="437.5" cy="161.0" class="c"/><circle cx="432.3" cy="185.9" class="i"/><circle cx="436.2" cy="164.8" class="d"/><circle cx="430.8" cy="194.8" class="k"/><circle cx="431.3" cy="189.0" class="i"/><circle cx="434.5" cy="175.4" class="f"/><circle cx="435.4" cy="169.9" class="e"/><circle cx="426.5" cy="280.0" class="D"/><circle cx="437.1" cy="163.2" class="d"/><circle cx="439.5" cy="152.9" class="a"/><circle cx="437.4" cy="163.5" class="d"/><circle cx="439.2" cy="154.7" class="b"/><circle cx="431.9" cy="190.1" class="j"/><circle cx="432.7" cy="181.3" class="h"/><circle cx="438.5" cy="156.3" class="b"/><circle cx="435.4" cy="170.7" class="e"/><circle cx="437.1" cy="162.6" class="c"/><circle cx="438.2" cy="157.7" class="b"/><circle cx="625.4" cy="272.0" class="B"/><circle cx="429.8" cy="200.5" class="l"/><circle cx="434.0" cy="337.4" class="Q"/><circle cx="621.7" cy="304.0" class="I"/><circle cx="429.4" cy="203.4" class="m"/><circle cx="430.6" cy="191.8" class="j"/><circle cx="438.6" cy="158.4" class="b"/><circle cx="433.6" cy="176.9" class="g"/><circle cx="529.3" cy="233.6" class="t"/><circle cx="432.4" cy="183.9" class="h"/><circle cx="438.7" cy="156.5" class="b"/><circle cx="438.3" cy="158.0" class="b"/><circle cx="432.8" cy="182.7" class="h"/><circle cx="436.0" cy="167.9" class="e"/><circle cx="430.4" cy="197.4" class="k"/><circle cx="436.5" cy="164.0" class="d"/><circle cx="434.1" cy="175.0" class="f"/><circle cx="429.3" cy="205.2" class="m"/><circle cx="437.5" cy="160.1" class="c"/><circle cx="454.7" cy="395.7" class="ad"/><circle cx="437.9" cy="159.5" class="c"/><circle cx="439.5" cy="151.8" class="a"/><circle cx="627.0" cy="250.4" class="w"/><circle cx="435.3" cy="171.5" class="e"/><circle cx="433.0" cy="179.2" class="g"/><circle cx="433.5" cy="178.2" class="g"/><circle cx="439.4" cy="151.6" class="a"/><circle cx="435.9" cy="167.3" class="d"/><circle cx="432.2" cy="184.4" class="h"/><circle cx="623.7" cy="285.3" class="E"/><circle cx="439.1" cy="153.7" class="a"/><circle cx="439.7" cy="152.0" class="a"/><circle cx="432.3" cy="186.5" class="i"/><circle cx="434.9" cy="172.8" class="f"/><circle cx="437.2" cy="162.0" class="c"/><circle cx="438.8" cy="155.8" class="b"/><circle cx="435.5" cy="169.7" class="e"/><circle cx="438.3" cy="156.8" class="b"/><circle cx="437.9" cy="159.0" class="c"/><circle cx="438.5" cy="152.0" class="a"/><circle cx="434.6" cy="174.2" class="f"/><circle cx="437.7" cy="158.7" class="b"/><circle cx="436.7" cy="164.9" class="d"/><circle cx="439.7" cy="152.3" class="a"/><circle cx="432.7" cy="181.5" class="h"/><circle cx="426.2" cy="267.2" class="A"/><circle cx="595.4" cy="393.9" class="ad"/><circle cx="626.6" cy="232.8" class="s"/><circle cx="528.7" cy="227.0" class="r"/><circle cx="438.3" cy="157.2" class="b"/><circle cx="523.2" cy="424.3" class="ak"/><circle cx="437.2" cy="161.5" class="c"/><circle cx="474.8" cy="426.3" class="ak"/><circle cx="438.9" cy="155.1" class="b"/><circle cx="431.2" cy="187.4" class="i"/><circle cx="437.6" cy="159.5" class="c"/><circle cx="433.5" cy="177.0" class="g"/><circle cx="438.3" cy="156.6" class="b"/><circle cx="438.7" cy="155.3" class="b"/><circle cx="438.0" cy="156.4" class="b"/><circle cx="432.1" cy="182.8" class="h"/><circle cx="433.7" cy="175.5" class="f"/><circle cx="425.7" cy="259.9" class="y"/><circle cx="436.0" cy="164.8" class="d"/><circle cx="431.5" cy="322.5" class="N"/><circle cx="432.4" cy="180.6" class="g"/><circle cx="435.3" cy="170.6" class="e"/><circle cx="437.4" cy="159.2" class="c"/><circle cx="435.2" cy="169.2" class="e"/><circle cx="437.9" cy="158.1" class="b"/><circle cx="429.7" cy="197.5" class="k"/><circle cx="436.6" cy="163.8" class="d"/><circle cx="438.9" cy="152.5" class="a"/><circle cx="434.4" cy="173.4" class="f"/><circle cx="434.2" cy="173.7" class="f"/><circle cx="435.7" cy="166.2" class="d"/><circle cx="438.2" cy="156.2" class="b"/><circle cx="439.0" cy="151.8" class="a"/><circle cx="437.4" cy="158.7" class="b"/><circle cx="438.8" cy="154.7" class="b"/><circle cx="430.5" cy="194.1" class="j"/><circle cx="438.7" cy="154.5" class="a"/><circle cx="430.9" cy="192.4" class="j"/><circle cx="436.4" cy="162.9" class="c"/><circle cx="437.6" cy="157.8" class="b"/><circle cx="436.8" cy="162.2" class="c"/><circle cx="433.4" cy="176.0" class="f"/><circle cx="437.3" cy="160.9" class="c"/><circle cx="436.8" cy="163.1" class="c"/><circle cx="437.6" cy="157.0" class="b"/><circle cx="438.6" cy="153.8" class="a"/><circle cx="435.0" cy="171.8" class="e"/><circle cx="563.3" cy="422.9" class="aj"/><circle cx="433.2" cy="177.6" class="g"/><circle cx="625.7" cy="269.7" class="B"/><circle cx="436.6" cy="161.8" class="c"/><circle cx="429.6" cy="310.6" class="K"/><circle cx="425.7" cy="248.9" class="w"/><circle cx="449.5" cy="382.6" class="aa"/><circle cx="429.5" cy="200.6" class="l"/><circle cx="432.2" cy="187.6" class="i"/><circle cx="438.2" cy="155.9" class="b"/><circle cx="436.1" cy="166.3" class="d"/><circle cx="432.5" cy="179.0" class="g"/><circle cx="438.6" cy="153.7" class="a"/><circle cx="432.2" cy="185.2" class="h"/><circle cx="438.4" cy="155.6" class="b"/><circle cx="436.7" cy="161.3" class="c"/><circle cx="438.5" cy="153.2" class="a"/><circle cx="437.7" cy="157.4" class="b"/><circle cx="437.4" cy="158.3" class="b"/><circle cx="626.5" cy="247.8" class="w"/><circle cx="435.7" cy="165.5" class="d"/><circle cx="438.4" cy="155.4" class="b"/><circle cx="435.4" cy="168.2" class="e"/><circle cx="438.7" cy="153.4" class="a"/><circle cx="432.3" cy="182.8" class="h"/><circle cx="437.8" cy="156.5" class="b"/><circle cx="429.0" cy="205.0" class="m"/><circle cx="431.2" cy="185.8" class="i"/><circle cx="435.0" cy="170.9" class="e"/><circle cx="435.4" cy="169.6" class="e"/><circle cx="437.0" cy="159.8" class="c"/><circle cx="437.5" cy="160.4" class="c"/><circle cx="437.2" cy="160.1" class="c"/><circle cx="434.1" cy="172.9" class="f"/><circle cx="610.1" cy="354.0" class="U"/><circle cx="431.2" cy="188.6" class="i"/><circle cx="430.1" cy="197.5" class="k"/><circle cx="437.8" cy="156.7" class="b"/><circle cx="434.6" cy="172.2" class="e"/><circle cx="493.3" cy="426.7" class="ak"/><circle cx="432.3" cy="181.0" class="g"/><circle cx="626.6" cy="230.7" class="s"/><circle cx="438.3" cy="154.8" class="a"/><circle cx="437.8" cy="156.3" class="b"/><circle cx="438.6" cy="153.1" class="a"/><circle cx="435.0" cy="168.6" class="e"/><circle cx="435.4" cy="167.5" class="d"/><circle cx="437.3" cy="157.1" class="b"/><circle cx="618.9" cy="318.3" class="L"/><circle cx="438.5" cy="155.2" class="b"/><circle cx="436.3" cy="161.4" class="c"/><circle cx="434.9" cy="170.1" class="e"/><circle cx="506.3" cy="426.0" class="ak"/><circle cx="429.6" cy="201.7" class="l"/><circle cx="427.9" cy="296.6" class="H"/><circle cx="433.1" cy="176.6" class="f"/><circle cx="624.3" cy="283.3" class="E"/><circle cx="435.7" cy="164.8" class="d"/><circle cx="432.0" cy="181.8" class="h"/><circle cx="438.2" cy="154.4" class="a"/><circle cx="431.8" cy="187.0" class="i"/><circle cx="432.1" cy="183.5" class="h"/><circle cx="435.4" cy="166.9" class="d"/><circle cx="530.8" cy="425.2" class="ak"/><circle cx="437.8" cy="155.8" class="b"/><circle cx="437.7" cy="156.1" class="b"/><circle cx="438.5" cy="152.9" class="a"/><circle cx="438.7" cy="152.2" class="a"/><circle cx="430.7" cy="190.9" class="j"/><circle cx="436.8" cy="160.7" class="c"/><circle cx="434.3" cy="171.7" class="e"/><circle cx="433.6" cy="174.7" class="f"/><circle cx="607.2" cy="361.8" class="V"/><circle cx="437.4" cy="156.7" class="b"/><circle cx="436.7" cy="161.6" class="c"/><circle cx="540.5" cy="425.0" class="ak"/><circle cx="436.3" cy="160.9" class="c"/><circle cx="434.5" cy="171.4" class="e"/><circle cx="438.3" cy="154.6" class="a"/><circle cx="426.8" cy="286.2" class="E"/><circle cx="438.9" cy="152.6" class="a"/><circle cx="616.0" cy="332.7" class="P"/><circle cx="438.6" cy="152.5" class="a"/><circle cx="444.5" cy="369.8" class="X"/><circle cx="435.9" cy="163.6" class="c"/><circle cx="438.4" cy="153.8" class="a"/><circle cx="434.8" cy="169.5" class="e"/><circle cx="437.7" cy="155.7" class="b"/><circle cx="432.8" cy="178.6" class="g"/><circle cx="437.7" cy="155.5" class="b"/><circle cx="434.5" cy="170.6" class="e"/><circle cx="430.8" cy="187.8" class="i"/><circle cx="434.0" cy="171.3" class="e"/><circle cx="436.9" cy="159.7" class="c"/><circle cx="435.5" cy="165.5" class="d"/><circle cx="430.6" cy="192.1" class="j"/><circle cx="437.3" cy="158.7" class="b"/><circle cx="437.5" cy="156.4" class="b"/><circle cx="437.9" cy="155.2" class="a"/><circle cx="429.8" cy="196.3" class="k"/><circle cx="438.3" cy="154.0" class="a"/><circle cx="436.5" cy="160.4" class="c"/><circle cx="433.4" cy="175.0" class="f"/><circle cx="467.9" cy="413.0" class="ah"/><circle cx="601.2" cy="378.2" class="Z"/><circle cx="436.0" cy="164.0" class="c"/><circle cx="433.4" cy="174.0" class="f"/><circle cx="433.8" cy="172.4" class="e"/><circle cx="503.9" cy="426.3" class="ak"/><circle cx="438.8" cy="152.1" class="a"/><circle cx="438.4" cy="153.6" class="a"/><circle cx="438.2" cy="153.0" class="a"/><circle cx="438.2" cy="152.8" class="a"/><circle cx="430.3" cy="193.8" class="j"/><circle cx="626.0" cy="267.5" class="A"/><circle cx="438.3" cy="153.2" class="a"/><circle cx="435.2" cy="167.6" class="d"/><circle cx="437.1" cy="158.4" class="b"/><circle cx="433.0" cy="174.6" class="f"/><circle cx="431.5" cy="183.8" class="h"/><circle cx="436.8" cy="159.4" class="b"/><circle cx="437.5" cy="156.0" class="b"/><circle cx="426.5" cy="274.8" class="B"/><circle cx="437.8" cy="154.8" class="a"/><circle cx="626.8" cy="245.8" class="v"/><circle cx="436.7" cy="159.0" class="b"/><circle cx="621.8" cy="299.3" class="H"/><circle cx="437.8" cy="154.6" class="a"/><circle cx="429.6" cy="198.1" class="k"/><circle cx="432.7" cy="177.6" class="f"/><circle cx="438.4" cy="153.4" class="a"/><circle cx="430.1" cy="191.2" class="j"/><circle cx="435.8" cy="163.1" class="c"/><circle cx="433.9" cy="170.5" class="e"/><circle cx="429.3" cy="200.2" class="l"/><circle cx="432.1" cy="182.3" class="h"/><circle cx="434.9" cy="168.7" class="d"/><circle cx="626.8" cy="228.7" class="r"/><circle cx="438.2" cy="152.7" class="a"/><circle cx="440.4" cy="357.3" class="U"/><circle cx="437.1" cy="157.6" class="b"/><circle cx="435.8" cy="162.6" class="c"/><circle cx="435.6" cy="166.0" class="d"/><circle cx="429.0" cy="202.8" class="l"/><circle cx="437.3" cy="157.9" class="b"/><circle cx="435.7" cy="162.2" class="c"/><circle cx="437.0" cy="156.8" class="b"/><circle cx="436.5" cy="158.2" class="b"/><circle cx="436.4" cy="159.9" class="b"/><circle cx="434.6" cy="169.7" class="e"/><circle cx="435.7" cy="165.3" class="d"/><circle cx="438.1" cy="152.3" class="a"/><circle cx="435.3" cy="165.0" class="d"/><circle cx="550.5" cy="424.3" class="aj"/><circle cx="437.9" cy="154.0" class="a"/><circle cx="437.8" cy="154.2" class="a"/><circle cx="434.8" cy="168.0" class="d"/><circle cx="431.0" cy="188.5" class="i"/><circle cx="434.5" cy="169.0" class="e"/><circle cx="433.6" cy="172.8" class="e"/><circle cx="432.3" cy="184.1" class="h"/><circle cx="436.3" cy="159.6" class="b"/><circle cx="517.2" cy="426.5" class="ak"/><circle cx="430.7" cy="186.5" class="h"/><circle cx="438.2" cy="152.5" class="a"/><circle cx="588.6" cy="403.4" class="ae"/><circle cx="436.9" cy="158.5" class="b"/><circle cx="426.4" cy="263.2" class="z"/><circle cx="425.7" cy="255.0" class="x"/><circle cx="437.2" cy="157.0" class="b"/><circle cx="437.7" cy="153.7" class="a"/><circle cx="436.5" cy="157.9" class="b"/><circle cx="433.4" cy="171.2" class="e"/><circle cx="435.4" cy="163.4" class="c"/><circle cx="437.5" cy="155.0" class="a"/><circle cx="435.3" cy="166.2" class="d"/><circle cx="584.7" cy="414.7" class="ah"/><circle cx="434.9" cy="166.0" class="d"/><circle cx="434.7" cy="167.4" class="d"/><circle cx="624.2" cy="280.8" class="D"/><circle cx="436.8" cy="157.4" class="b"/><circle cx="425.6" cy="245.7" class="v"/><circle cx="430.3" cy="191.9" class="j"/><circle cx="432.8" cy="179.2" class="g"/><circle cx="570.9" cy="424.1" class="aj"/><circle cx="433.0" cy="176.0" class="f"/><circle cx="435.8" cy="161.2" class="c"/><circle cx="437.7" cy="153.5" class="a"/><circle cx="436.6" cy="342.9" class="R"/><circle cx="487.3" cy="427.0" class="ak"/><circle cx="431.6" cy="182.1" class="g"/><circle cx="431.8" cy="183.7" class="h"/><circle cx="437.4" cy="156.5" class="b"/><circle cx="434.2" cy="169.4" class="e"/><circle cx="436.3" cy="158.4" class="b"/><circle cx="437.8" cy="153.1" class="a"/><circle cx="434.9" cy="165.4" class="d"/><circle cx="435.3" cy="163.9" class="c"/><circle cx="432.3" cy="180.5" class="g"/><circle cx="433.7" cy="171.8" class="e"/><circle cx="434.0" cy="168.9" class="d"/><circle cx="437.9" cy="152.9" class="a"/><circle cx="433.3" cy="173.3" class="e"/><circle cx="432.3" cy="178.9" class="g"/><circle cx="437.7" cy="152.7" class="a"/><circle cx="434.8" cy="168.0" class="d"/><circle cx="433.4" cy="170.4" class="e"/><circle cx="462.2" cy="402.2" class="ae"/><circle cx="430.1" cy="189.4" class="i"/><circle cx="430.1" cy="193.5" class="j"/><circle cx="435.4" cy="162.8" class="c"/><circle cx="437.1" cy="156.2" class="b"/><circle cx="437.4" cy="153.6" class="a"/><circle cx="431.1" cy="181.7" class="g"/><circle cx="435.9" cy="161.6" class="c"/><circle cx="429.7" cy="195.7" class="j"/><circle cx="437.3" cy="153.0" class="a"/><circle cx="435.6" cy="162.2" class="c"/><circle cx="436.6" cy="158.6" class="b"/><circle cx="434.4" cy="167.8" class="d"/><circle cx="426.1" cy="232.3" class="s"/><circle cx="432.7" cy="175.4" class="f"/><circle cx="437.4" cy="153.2" class="a"/><circle cx="435.2" cy="163.0" class="c"/><circle cx="432.7" cy="174.4" class="f"/><circle cx="430.7" cy="187.6" class="i"/><circle cx="433.8" cy="168.5" class="d"/><circle cx="437.3" cy="155.9" class="a"/><circle cx="434.0" cy="331.0" class="O"/><circle cx="433.3" cy="172.4" class="e"/><circle cx="436.8" cy="157.2" class="b"/><circle cx="428.9" cy="200.8" class="l"/><circle cx="435.3" cy="163.4" class="c"/><circle cx="432.7" cy="176.8" class="f"/><circle cx="429.3" cy="198.1" class="k"/><circle cx="437.1" cy="155.8" class="a"/><circle cx="435.9" cy="159.0" class="b"/><circle cx="626.8" cy="243.7" class="u"/><circle cx="626.0" cy="265.1" class="z"/><circle cx="433.3" cy="169.9" class="e"/><circle cx="437.3" cy="152.9" class="a"/><circle cx="626.9" cy="226.7" class="q"/><circle cx="428.6" cy="203.3" class="l"/><circle cx="437.2" cy="155.5" class="a"/><circle cx="437.1" cy="155.0" class="a"/><circle cx="437.1" cy="152.8" class="a"/><circle cx="438.0" cy="152.6" class="a"/><circle cx="434.3" cy="167.3" class="d"/><circle cx="431.0" cy="184.3" class="h"/><circle cx="432.6" cy="173.5" class="e"/><circle cx="436.1" cy="160.5" class="b"/><circle cx="433.9" cy="167.7" class="d"/><circle cx="430.1" cy="190.7" class="i"/><circle cx="432.3" cy="177.7" class="f"/><circle cx="433.1" cy="170.9" class="e"/><circle cx="432.2" cy="179.5" class="g"/><circle cx="432.3" cy="176.4" class="f"/><circle cx="437.2" cy="155.2" class="a"/><circle cx="431.2" cy="316.6" class="L"/><circle cx="436.5" cy="157.6" class="b"/><circle cx="437.0" cy="156.7" class="b"/><circle cx="434.9" cy="165.9" class="d"/><circle cx="436.4" cy="157.2" class="b"/><circle cx="432.7" cy="174.5" class="f"/><circle cx="435.1" cy="164.6" class="c"/><circle cx="435.2" cy="166.3" class="d"/><circle cx="437.1" cy="154.8" class="a"/><circle cx="435.9" cy="160.2" class="b"/><circle cx="436.6" cy="156.2" class="a"/><circle cx="526.4" cy="427.2" class="ak"/><circle cx="435.0" cy="163.7" class="c"/><circle cx="432.1" cy="181.6" class="g"/><circle cx="433.6" cy="168.8" class="d"/><circle cx="437.1" cy="154.6" class="a"/><circle cx="437.0" cy="154.5" class="a"/><circle cx="429.4" cy="305.0" class="I"/><circle cx="430.0" cy="188.2" class="i"/><circle cx="434.4" cy="166.5" class="d"/><circle cx="624.2" cy="278.1" class="C"/><circle cx="595.7" cy="387.2" class="ab"/><circle cx="429.9" cy="192.3" class="j"/><circle cx="436.4" cy="156.8" class="b"/><circle cx="436.1" cy="158.1" class="b"/><circle cx="436.6" cy="156.1" class="a"/><circle cx="434.9" cy="165.4" class="d"/><circle cx="619.1" cy="313.4" class="K"/><circle cx="433.6" cy="168.1" class="d"/><circle cx="433.5" cy="171.4" class="e"/><circle cx="429.5" cy="194.5" class="j"/><circle cx="431.4" cy="180.1" class="g"/><circle cx="435.3" cy="162.0" class="c"/><circle cx="433.4" cy="169.8" class="e"/><circle cx="437.1" cy="154.3" class="a"/><circle cx="432.2" cy="176.9" class="f"/><circle cx="480.0" cy="427.4" class="ak"/><circle cx="435.9" cy="159.4" class="b"/><circle cx="437.0" cy="154.1" class="a"/><circle cx="432.3" cy="175.4" class="f"/><circle cx="434.1" cy="166.8" class="d"/><circle cx="436.9" cy="155.7" class="a"/><circle cx="430.9" cy="185.7" class="h"/><circle cx="431.0" cy="183.0" class="g"/><circle cx="436.7" cy="153.2" class="a"/><circle cx="436.1" cy="159.7" class="b"/><circle cx="436.8" cy="155.2" class="a"/><circle cx="436.6" cy="156.5" class="a"/><circle cx="436.4" cy="156.4" class="a"/><circle cx="435.2" cy="163.0" class="c"/><circle cx="434.3" cy="166.0" class="d"/><circle cx="428.0" cy="290.8" class="F"/><circle cx="435.7" cy="159.1" class="b"/><circle cx="432.7" cy="173.6" class="e"/><circle cx="610.2" cy="348.2" class="S"/><circle cx="432.4" cy="178.0" class="f"/><circle cx="434.9" cy="164.8" class="c"/><circle cx="429.3" cy="196.0" class="j"/><circle cx="428.7" cy="199.2" class="k"/><circle cx="434.0" cy="166.3" class="d"/><circle cx="433.4" cy="169.1" class="d"/><circle cx="435.8" cy="158.3" class="b"/><circle cx="432.4" cy="173.2" class="e"/><circle cx="432.9" cy="170.5" class="e"/><circle cx="568.2" cy="425.8" class="aj"/><circle cx="435.3" cy="162.5" class="c"/><circle cx="433.4" cy="167.6" class="d"/><circle cx="454.9" cy="387.1" class="ab"/><circle cx="513.2" cy="232.0" class="r"/><circle cx="427.1" cy="279.7" class="C"/><circle cx="430.4" cy="182.9" class="g"/><circle cx="436.7" cy="154.5" class="a"/><circle cx="430.2" cy="188.8" class="i"/><circle cx="626.7" cy="241.5" class="u"/><circle cx="432.2" cy="180.4" class="g"/><circle cx="435.8" cy="158.7" class="b"/><circle cx="436.4" cy="156.0" class="a"/><circle cx="426.3" cy="270.6" class="A"/><circle cx="435.4" cy="161.0" class="b"/><circle cx="432.7" cy="171.8" class="e"/><circle cx="625.6" cy="262.5" class="y"/><circle cx="434.0" cy="165.8" class="d"/><circle cx="616.1" cy="327.5" class="N"/><circle cx="428.6" cy="201.6" class="l"/><circle cx="626.7" cy="224.7" class="q"/><circle cx="430.6" cy="184.8" class="h"/><circle cx="607.7" cy="356.0" class="T"/><circle cx="432.8" cy="169.9" class="d"/><circle cx="622.4" cy="295.2" class="G"/><circle cx="435.8" cy="157.9" class="b"/><circle cx="437.3" cy="153.5" class="a"/><circle cx="433.4" cy="168.4" class="d"/><circle cx="430.0" cy="190.1" class="i"/><circle cx="433.5" cy="167.0" class="d"/><circle cx="437.3" cy="153.4" class="a"/><circle cx="425.6" cy="241.6" class="u"/><circle cx="436.5" cy="155.4" class="a"/><circle cx="434.5" cy="165.3" class="c"/><circle cx="426.2" cy="259.8" class="y"/><circle cx="435.0" cy="162.2" class="c"/><circle cx="425.8" cy="250.6" class="w"/><circle cx="434.8" cy="163.4" class="c"/><circle cx="436.5" cy="155.2" class="a"/><circle cx="429.3" cy="193.1" class="j"/><circle cx="432.2" cy="177.4" class="f"/><circle cx="434.6" cy="164.6" class="c"/><circle cx="437.2" cy="153.1" class="a"/><circle cx="432.6" cy="175.3" class="f"/><circle cx="435.8" cy="157.3" class="b"/><circle cx="430.5" cy="185.9" class="h"/><circle cx="436.5" cy="154.8" class="a"/><circle cx="435.8" cy="157.7" class="b"/><circle cx="428.9" cy="195.3" class="j"/><circle cx="436.6" cy="153.6" class="a"/><circle cx="436.4" cy="155.0" class="a"/><circle cx="436.7" cy="153.2" class="a"/><circle cx="436.5" cy="153.8" class="a"/><circle cx="433.4" cy="166.4" class="d"/><circle cx="432.0" cy="179.6" class="g"/><circle cx="436.4" cy="154.3" class="a"/><circle cx="495.4" cy="429.1" class="ak"/><circle cx="435.2" cy="161.2" class="b"/><circle cx="624.4" cy="275.7" class="B"/><circle cx="433.6" cy="167.6" class="d"/><circle cx="434.6" cy="164.1" class="c"/><circle cx="430.7" cy="183.1" class="g"/><circle cx="435.3" cy="161.6" class="b"/><circle cx="449.5" cy="374.3" class="X"/><circle cx="435.5" cy="160.2" class="b"/><circle cx="432.6" cy="174.3" class="e"/><circle cx="475.1" cy="417.1" class="ah"/><circle cx="436.1" cy="153.6" class="a"/><circle cx="430.2" cy="187.3" class="h"/><circle cx="435.1" cy="162.7" class="c"/><circle cx="433.1" cy="167.6" class="d"/><circle cx="436.2" cy="157.4" class="b"/><circle cx="432.6" cy="170.5" class="d"/><circle cx="431.8" cy="178.7" class="f"/><circle cx="428.9" cy="196.8" class="j"/><circle cx="432.5" cy="175.9" class="f"/><circle cx="436.2" cy="153.5" class="a"/><circle cx="627.1" cy="222.7" class="p"/><circle cx="436.5" cy="154.2" class="a"/><circle cx="601.1" cy="371.4" class="X"/><circle cx="436.5" cy="153.8" class="a"/><circle cx="433.8" cy="165.5" class="c"/><circle cx="431.2" cy="180.3" class="g"/><circle cx="430.3" cy="184.9" class="h"/><circle cx="626.6" cy="260.7" class="y"/><circle cx="433.0" cy="170.8" class="e"/><circle cx="431.9" cy="175.9" class="f"/><circle cx="435.5" cy="159.3" class="b"/><circle cx="432.2" cy="174.1" class="e"/><circle cx="433.1" cy="168.3" class="d"/><circle cx="429.3" cy="191.5" class="i"/><circle cx="435.0" cy="160.1" class="b"/><circle cx="436.2" cy="155.2" class="a"/><circle cx="435.4" cy="160.7" class="b"/><circle cx="436.0" cy="156.9" class="a"/><circle cx="428.6" cy="199.3" class="k"/><circle cx="434.3" cy="163.9" class="c"/><circle cx="427.9" cy="203.9" class="l"/><circle cx="435.9" cy="156.4" class="a"/><circle cx="434.7" cy="163.5" class="c"/><circle cx="626.8" cy="239.5" class="t"/><circle cx="434.8" cy="162.0" class="c"/><circle cx="436.2" cy="156.5" class="a"/><circle cx="544.2" cy="427.5" class="aj"/><circle cx="435.1" cy="160.5" class="b"/><circle cx="435.4" cy="158.7" class="b"/><circle cx="444.5" cy="362.3" class="V"/><circle cx="430.3" cy="188.4" class="h"/><circle cx="433.6" cy="166.4" class="c"/><circle cx="430.6" cy="180.3" class="g"/><circle cx="433.2" cy="167.5" class="d"/><circle cx="431.6" cy="178.1" class="f"/><circle cx="435.5" cy="153.8" class="a"/><circle cx="434.7" cy="163.0" class="c"/><circle cx="431.7" cy="176.5" class="f"/><circle cx="430.0" cy="186.3" class="h"/><circle cx="435.9" cy="156.2" class="a"/><circle cx="435.7" cy="156.1" class="a"/><circle cx="433.0" cy="167.1" class="d"/><circle cx="435.4" cy="158.3" class="b"/><circle cx="534.7" cy="427.6" class="aj"/><circle cx="434.4" cy="163.4" class="c"/><circle cx="435.8" cy="154.1" class="a"/><circle cx="433.0" cy="169.3" class="d"/><circle cx="435.6" cy="154.0" class="a"/></g><g fill-opacity="0.71" stroke-opacity="0.71"><circle cx="434.6" cy="162.2" class="c"/><circle cx="430.2" cy="183.8" class="g"/><circle cx="430.9" cy="181.8" class="g"/><circle cx="434.7" cy="161.3" class="b"/><circle cx="430.4" cy="179.4" class="f"/><circle cx="432.8" cy="171.4" class="e"/><circle cx="436.1" cy="155.6" class="a"/><circle cx="433.9" cy="164.4" class="c"/><circle cx="434.1" cy="163.2" class="c"/><circle cx="428.9" cy="195.0" class="j"/><circle cx="434.8" cy="160.8" class="b"/><circle cx="429.8" cy="187.8" class="h"/><circle cx="432.2" cy="174.6" class="e"/><circle cx="440.4" cy="349.3" class="S"/><circle cx="431.5" cy="176.0" class="f"/><circle cx="429.8" cy="191.6" class="i"/><circle cx="433.4" cy="165.5" class="c"/><circle cx="433.1" cy="166.5" class="c"/><circle cx="435.0" cy="159.4" class="b"/><circle cx="433.7" cy="165.7" class="c"/><circle cx="429.2" cy="190.2" class="i"/><circle cx="555.1" cy="426.6" class="aj"/><circle cx="619.0" cy="308.2" class="I"/><circle cx="573.2" cy="422.2" class="ai"/><circle cx="436.0" cy="155.3" class="a"/><circle cx="434.5" cy="161.9" class="b"/><circle cx="433.2" cy="165.2" class="c"/><circle cx="625.0" cy="273.7" class="B"/><circle cx="430.6" cy="181.2" class="g"/><circle cx="435.6" cy="157.7" class="a"/><circle cx="435.1" cy="159.0" class="b"/><circle cx="435.9" cy="155.1" class="a"/><circle cx="432.5" cy="172.0" class="e"/><circle cx="435.9" cy="154.6" class="a"/><circle cx="434.2" cy="162.2" class="b"/><circle cx="425.6" cy="238.8" class="t"/><circle cx="435.6" cy="154.3" class="a"/><circle cx="436.4" cy="335.7" class="P"/><circle cx="428.5" cy="197.8" class="j"/><circle cx="430.1" cy="184.8" class="h"/><circle cx="588.7" cy="396.1" class="ac"/><circle cx="435.1" cy="158.6" class="b"/><circle cx="433.0" cy="166.0" class="c"/><circle cx="435.7" cy="154.5" class="a"/><circle cx="434.8" cy="160.0" class="b"/><circle cx="434.9" cy="161.1" class="b"/><circle cx="425.6" cy="247.4" class="v"/><circle cx="432.9" cy="168.1" class="d"/><circle cx="627.2" cy="237.4" class="s"/><circle cx="432.0" cy="176.6" class="f"/><circle cx="435.5" cy="157.2" class="a"/><circle cx="434.0" cy="325.1" class="M"/><circle cx="434.5" cy="161.1" class="b"/><circle cx="506.6" cy="429.6" class="ak"/><circle cx="435.5" cy="156.7" class="a"/><circle cx="432.4" cy="173.4" class="e"/><circle cx="430.4" cy="182.1" class="g"/><circle cx="467.8" cy="404.6" class="ae"/><circle cx="429.1" cy="300.1" class="H"/><circle cx="434.4" cy="160.7" class="b"/><circle cx="432.4" cy="171.4" class="d"/><circle cx="431.3" cy="311.4" class="J"/><circle cx="434.0" cy="161.5" class="b"/><circle cx="428.0" cy="201.8" class="k"/><circle cx="433.0" cy="168.8" class="d"/><circle cx="426.9" cy="276.5" class="B"/><circle cx="426.1" cy="255.3" class="w"/><circle cx="434.8" cy="159.6" class="b"/><circle cx="435.6" cy="156.9" class="a"/><circle cx="429.3" cy="191.2" class="i"/><circle cx="584.5" cy="406.6" class="af"/><circle cx="626.0" cy="258.1" class="x"/><circle cx="520.5" cy="429.3" class="ak"/><circle cx="426.5" cy="265.1" class="z"/><circle cx="428.0" cy="285.8" class="D"/><circle cx="428.7" cy="193.8" class="j"/><circle cx="433.7" cy="164.2" class="c"/><circle cx="435.9" cy="154.0" class="a"/><circle cx="622.5" cy="290.7" class="E"/><circle cx="435.5" cy="156.2" class="a"/><circle cx="430.6" cy="180.1" class="f"/><circle cx="434.4" cy="160.3" class="b"/><circle cx="435.3" cy="157.7" class="a"/><circle cx="434.9" cy="154.3" class="a"/><circle cx="434.5" cy="161.5" class="b"/><circle cx="431.8" cy="176.0" class="f"/><circle cx="435.2" cy="154.4" class="a"/><circle cx="430.0" cy="186.3" class="h"/><circle cx="431.0" cy="177.7" class="f"/><circle cx="433.3" cy="164.1" class="c"/><circle cx="610.8" cy="343.0" class="Q"/><circle cx="432.6" cy="169.5" class="d"/><circle cx="435.1" cy="154.7" class="a"/><circle cx="436.3" cy="154.1" class="a"/><circle cx="509.5" cy="429.5" class="ak"/><circle cx="432.7" cy="168.0" class="d"/><circle cx="433.3" cy="163.6" class="c"/><circle cx="433.5" cy="162.4" class="b"/><circle cx="428.3" cy="202.7" class="k"/><circle cx="432.5" cy="172.5" class="e"/><circle cx="431.6" cy="174.1" class="e"/><circle cx="435.2" cy="157.4" class="a"/><circle cx="435.5" cy="155.5" class="a"/><circle cx="432.0" cy="172.3" class="e"/><circle cx="435.6" cy="155.9" class="a"/><circle cx="429.7" cy="187.7" class="h"/><circle cx="434.7" cy="159.8" class="b"/><circle cx="616.3" cy="322.4" class="L"/><circle cx="489.4" cy="430.9" class="ak"/><circle cx="435.5" cy="155.7" class="a"/><circle cx="433.2" cy="164.8" class="c"/><circle cx="430.4" cy="183.1" class="g"/><circle cx="431.8" cy="175.2" class="e"/><circle cx="428.6" cy="196.0" class="j"/><circle cx="430.9" cy="176.8" class="f"/><circle cx="429.6" cy="185.6" class="h"/><circle cx="435.3" cy="155.5" class="a"/><circle cx="434.5" cy="159.6" class="b"/><circle cx="435.2" cy="158.7" class="b"/><circle cx="596.1" cy="380.8" class="Z"/><circle cx="435.3" cy="154.7" class="a"/><circle cx="434.0" cy="159.9" class="b"/><circle cx="429.5" cy="189.2" class="h"/><circle cx="435.5" cy="155.1" class="a"/><circle cx="433.4" cy="163.1" class="c"/><circle cx="427.9" cy="199.9" class="k"/><circle cx="435.0" cy="158.1" class="a"/><circle cx="430.7" cy="179.0" class="f"/><circle cx="433.6" cy="161.1" class="b"/><circle cx="608.0" cy="350.3" class="S"/><circle cx="430.5" cy="176.4" class="f"/><circle cx="624.5" cy="271.0" class="A"/><circle cx="433.1" cy="163.9" class="c"/><circle cx="462.0" cy="394.0" class="ac"/><circle cx="433.3" cy="164.3" class="c"/><circle cx="435.4" cy="154.9" class="a"/><circle cx="434.7" cy="159.9" class="b"/><circle cx="627.4" cy="235.4" class="s"/><circle cx="432.7" cy="165.5" class="c"/><circle cx="435.1" cy="156.4" class="a"/><circle cx="434.6" cy="159.2" class="b"/><circle cx="427.6" cy="202.5" class="k"/><circle cx="430.4" cy="178.3" class="f"/><circle cx="432.0" cy="173.9" class="e"/><circle cx="434.1" cy="159.5" class="b"/><circle cx="428.9" cy="192.1" class="i"/><circle cx="435.3" cy="154.7" class="a"/><circle cx="432.5" cy="169.3" class="d"/><circle cx="435.3" cy="156.5" class="a"/><circle cx="430.3" cy="182.2" class="g"/><circle cx="432.3" cy="171.3" class="d"/><circle cx="434.8" cy="158.9" class="b"/><circle cx="435.0" cy="155.9" class="a"/><circle cx="429.6" cy="186.6" class="h"/><circle cx="432.9" cy="166.0" class="c"/><circle cx="433.4" cy="162.8" class="b"/><circle cx="434.6" cy="158.6" class="a"/><circle cx="435.0" cy="155.7" class="a"/><circle cx="432.2" cy="170.7" class="d"/><circle cx="626.6" cy="256.1" class="w"/><circle cx="433.8" cy="162.0" class="b"/><circle cx="435.0" cy="157.1" class="a"/><circle cx="434.7" cy="158.4" class="a"/><circle cx="425.7" cy="234.9" class="s"/><circle cx="432.4" cy="168.8" class="d"/><circle cx="435.5" cy="154.5" class="a"/><circle cx="428.4" cy="194.9" class="j"/><circle cx="433.1" cy="163.1" class="b"/><circle cx="432.4" cy="167.4" class="c"/><circle cx="429.9" cy="183.8" class="g"/><circle cx="434.1" cy="159.2" class="b"/><circle cx="432.6" cy="165.8" class="c"/><circle cx="429.2" cy="188.5" class="h"/><circle cx="434.7" cy="155.0" class="a"/><circle cx="435.0" cy="155.3" class="a"/><circle cx="622.6" cy="288.1" class="E"/><circle cx="434.7" cy="158.2" class="a"/><circle cx="431.0" cy="174.9" class="e"/><circle cx="430.4" cy="177.4" class="f"/><circle cx="433.0" cy="162.7" class="b"/><circle cx="434.4" cy="158.8" class="a"/><circle cx="432.3" cy="168.3" class="d"/><circle cx="433.3" cy="161.5" class="b"/><circle cx="428.5" cy="191.1" class="i"/><circle cx="433.6" cy="160.0" class="b"/><circle cx="425.7" cy="243.7" class="u"/><circle cx="432.5" cy="164.8" class="c"/><circle cx="432.1" cy="173.2" class="e"/><circle cx="570.3" cy="422.5" class="ai"/><circle cx="427.9" cy="198.0" class="j"/><circle cx="432.8" cy="162.4" class="b"/><circle cx="432.1" cy="167.8" class="c"/><circle cx="432.3" cy="166.9" class="c"/><circle cx="434.4" cy="158.4" class="a"/><circle cx="434.9" cy="157.7" class="a"/><circle cx="434.7" cy="157.4" class="a"/><circle cx="432.0" cy="172.4" class="d"/><circle cx="430.4" cy="181.1" class="f"/><circle cx="435.1" cy="154.8" class="a"/><circle cx="429.6" cy="185.6" class="g"/><circle cx="433.4" cy="161.1" class="b"/><circle cx="430.7" cy="174.7" class="e"/><circle cx="601.2" cy="365.0" class="V"/><circle cx="434.5" cy="157.3" class="a"/><circle cx="434.5" cy="157.8" class="a"/><circle cx="434.7" cy="157.0" class="a"/><circle cx="435.1" cy="156.1" class="a"/><circle cx="429.9" cy="182.6" class="g"/><circle cx="429.0" cy="187.6" class="h"/><circle cx="454.7" cy="378.6" class="Y"/><circle cx="530.1" cy="429.6" class="aj"/><circle cx="434.5" cy="157.0" class="a"/><circle cx="426.3" cy="251.7" class="v"/><circle cx="627.5" cy="233.4" class="r"/><circle cx="434.0" cy="158.1" class="a"/><circle cx="624.8" cy="268.7" class="z"/><circle cx="432.3" cy="169.4" class="d"/><circle cx="427.9" cy="199.9" class="k"/><circle cx="430.8" cy="176.1" class="e"/><circle cx="430.2" cy="180.2" class="f"/><circle cx="434.7" cy="155.2" class="a"/><circle cx="426.4" cy="261.9" class="y"/><circle cx="619.3" cy="303.8" class="H"/><circle cx="480.3" cy="419.3" class="ah"/><circle cx="435.0" cy="155.5" class="a"/><circle cx="432.2" cy="167.3" class="c"/><circle cx="433.7" cy="160.6" class="b"/><circle cx="434.6" cy="156.6" class="a"/><circle cx="433.5" cy="160.3" class="b"/><circle cx="435.0" cy="155.3" class="a"/><circle cx="434.7" cy="156.8" class="a"/><circle cx="431.9" cy="172.0" class="d"/><circle cx="432.7" cy="164.4" class="c"/><circle cx="433.1" cy="161.5" class="b"/><circle cx="428.8" cy="192.7" class="i"/><circle cx="626.9" cy="254.0" class="w"/><circle cx="430.6" cy="178.1" class="f"/><circle cx="434.6" cy="156.3" class="a"/><circle cx="431.0" cy="173.4" class="e"/><circle cx="427.0" cy="271.1" class="A"/><circle cx="429.3" cy="185.0" class="g"/><circle cx="434.6" cy="155.1" class="a"/><circle cx="434.7" cy="156.4" class="a"/><circle cx="434.0" cy="157.2" class="a"/><circle cx="427.6" cy="197.1" class="j"/><circle cx="432.7" cy="163.9" class="b"/><circle cx="434.1" cy="156.9" class="a"/><circle cx="429.6" cy="182.4" class="g"/><circle cx="429.8" cy="180.0" class="f"/><circle cx="433.4" cy="160.2" class="b"/><circle cx="449.6" cy="367.6" class="V"/><circle cx="433.6" cy="159.4" class="a"/><circle cx="432.3" cy="166.8" class="c"/><circle cx="434.5" cy="156.2" class="a"/><circle cx="428.0" cy="281.4" class="C"/><circle cx="432.8" cy="163.4" class="b"/><circle cx="431.7" cy="171.6" class="d"/><circle cx="434.6" cy="155.6" class="a"/><circle cx="429.1" cy="189.0" class="h"/><circle cx="434.9" cy="155.9" class="a"/><circle cx="430.8" cy="175.4" class="e"/><circle cx="434.5" cy="155.9" class="a"/><circle cx="429.2" cy="186.0" class="g"/><circle cx="434.5" cy="155.5" class="a"/><circle cx="434.1" cy="155.4" class="a"/><circle cx="429.3" cy="294.9" class="F"/><circle cx="431.1" cy="172.7" class="d"/><circle cx="432.4" cy="168.1" class="c"/><circle cx="433.8" cy="158.0" class="a"/><circle cx="432.6" cy="163.1" class="b"/><circle cx="622.8" cy="285.6" class="D"/><circle cx="429.4" cy="183.6" class="g"/><circle cx="444.4" cy="355.2" class="T"/><circle cx="433.1" cy="159.8" class="b"/><circle cx="434.3" cy="156.2" class="a"/><circle cx="431.2" cy="305.7" class="H"/><circle cx="434.2" cy="156.1" class="a"/><circle cx="425.8" cy="232.4" class="r"/><circle cx="428.6" cy="191.5" class="i"/><circle cx="430.1" cy="178.4" class="f"/><circle cx="430.9" cy="172.2" class="d"/><circle cx="430.3" cy="176.6" class="e"/><circle cx="433.4" cy="159.0" class="a"/><circle cx="428.0" cy="198.4" class="j"/><circle cx="440.3" cy="343.2" class="Q"/><circle cx="432.0" cy="170.5" class="d"/><circle cx="433.6" cy="155.8" class="a"/><circle cx="434.0" cy="156.0" class="a"/><circle cx="432.8" cy="161.6" class="b"/><circle cx="432.3" cy="164.6" class="c"/><circle cx="436.3" cy="330.2" class="N"/><circle cx="433.5" cy="158.8" class="a"/><circle cx="434.1" cy="317.9" class="K"/><circle cx="433.9" cy="159.2" class="a"/><circle cx="428.9" cy="188.1" class="h"/><circle cx="433.2" cy="159.7" class="a"/><circle cx="434.0" cy="155.9" class="a"/><circle cx="627.2" cy="231.2" class="r"/><circle cx="431.0" cy="171.3" class="d"/><circle cx="430.2" cy="175.9" class="e"/><circle cx="433.5" cy="158.4" class="a"/><circle cx="616.6" cy="317.6" class="K"/><circle cx="474.9" cy="409.3" class="af"/><circle cx="432.9" cy="162.0" class="b"/><circle cx="431.3" cy="173.9" class="e"/><circle cx="432.0" cy="169.9" class="d"/><circle cx="432.2" cy="167.3" class="c"/><circle cx="425.6" cy="240.2" class="t"/><circle cx="432.9" cy="162.6" class="b"/><circle cx="432.5" cy="164.0" class="b"/><circle cx="430.4" cy="180.2" class="f"/><circle cx="433.3" cy="156.4" class="a"/><circle cx="589.5" cy="390.0" class="aa"/><circle cx="432.3" cy="163.6" class="b"/><circle cx="429.5" cy="184.5" class="g"/><circle cx="429.3" cy="182.8" class="g"/><circle cx="625.0" cy="266.5" class="y"/><circle cx="428.1" cy="194.9" class="i"/><circle cx="433.9" cy="156.6" class="a"/><circle cx="431.1" cy="173.3" class="d"/><circle cx="610.7" cy="337.5" class="O"/><circle cx="433.4" cy="158.1" class="a"/><circle cx="433.8" cy="156.5" class="a"/><circle cx="626.8" cy="251.7" class="v"/><circle cx="433.2" cy="161.5" class="b"/><circle cx="428.5" cy="190.3" class="h"/><circle cx="433.2" cy="156.1" class="a"/><circle cx="432.8" cy="160.6" class="b"/><circle cx="432.5" cy="163.1" class="b"/><circle cx="432.6" cy="161.5" class="b"/><circle cx="433.7" cy="156.2" class="a"/><circle cx="431.9" cy="169.5" class="d"/><circle cx="497.5" cy="431.6" class="ak"/><circle cx="430.3" cy="179.3" class="f"/><circle cx="428.7" cy="187.1" class="h"/><circle cx="431.5" cy="169.3" class="d"/><circle cx="432.6" cy="161.3" class="b"/><circle cx="433.3" cy="158.5" class="a"/><circle cx="430.7" cy="173.2" class="d"/><circle cx="559.0" cy="428.9" class="aj"/><circle cx="431.0" cy="170.9" class="d"/><circle cx="432.3" cy="166.3" class="c"/><circle cx="426.1" cy="248.7" class="u"/><circle cx="512.0" cy="432.0" class="ak"/><circle cx="538.8" cy="430.6" class="aj"/><circle cx="573.3" cy="414.2" class="ag"/><circle cx="428.1" cy="196.6" class="j"/><circle cx="432.2" cy="165.7" class="c"/><circle cx="549.0" cy="430.9" class="aj"/><circle cx="608.4" cy="345.0" class="Q"/><circle cx="433.6" cy="157.3" class="a"/><circle cx="430.0" cy="177.0" class="e"/><circle cx="429.2" cy="183.9" class="g"/><circle cx="432.4" cy="163.8" class="b"/><circle cx="433.0" cy="158.3" class="a"/><circle cx="430.6" cy="170.6" class="d"/><circle cx="433.6" cy="156.9" class="a"/><circle cx="430.4" cy="172.8" class="d"/><circle cx="584.9" cy="399.6" class="ac"/><circle cx="432.9" cy="160.7" class="b"/><circle cx="433.1" cy="157.8" class="a"/><circle cx="433.3" cy="156.5" class="a"/><circle cx="622.6" cy="282.9" class="C"/><circle cx="628.1" cy="229.4" class="q"/><circle cx="432.7" cy="160.6" class="b"/><circle cx="433.3" cy="158.0" class="a"/><circle cx="523.4" cy="431.4" class="aj"/><circle cx="426.4" cy="258.3" class="x"/><circle cx="433.7" cy="156.6" class="a"/><circle cx="428.2" cy="189.8" class="h"/><circle cx="432.4" cy="165.1" class="c"/><circle cx="430.3" cy="178.5" class="f"/><circle cx="427.5" cy="200.2" class="j"/><circle cx="428.2" cy="193.3" class="i"/><circle cx="431.9" cy="168.5" class="c"/><circle cx="596.2" cy="374.3" class="X"/><circle cx="431.7" cy="168.0" class="c"/><circle cx="425.7" cy="229.5" class="q"/><circle cx="433.3" cy="157.4" class="a"/><circle cx="433.2" cy="157.1" class="a"/><circle cx="429.3" cy="182.6" class="f"/><circle cx="432.1" cy="164.9" class="b"/><circle cx="432.8" cy="160.2" class="a"/><circle cx="433.7" cy="156.3" class="a"/><circle cx="429.5" cy="180.5" class="f"/><circle cx="430.5" cy="172.2" class="d"/><circle cx="427.5" cy="196.0" class="i"/><circle cx="432.9" cy="160.0" class="a"/><circle cx="431.1" cy="169.6" class="c"/><circle cx="432.7" cy="156.9" class="a"/><circle cx="428.9" cy="186.0" class="g"/><circle cx="467.8" cy="395.7" class="ab"/><circle cx="619.9" cy="299.5" class="G"/><circle cx="432.4" cy="162.7" class="b"/><circle cx="429.9" cy="178.1" class="e"/><circle cx="427.1" cy="266.5" class="y"/><circle cx="432.2" cy="164.4" class="b"/><circle cx="430.8" cy="169.3" class="c"/><circle cx="433.1" cy="157.0" class="a"/><circle cx="432.4" cy="156.9" class="a"/><circle cx="432.9" cy="159.3" class="a"/><circle cx="624.9" cy="264.2" class="y"/><circle cx="430.5" cy="171.5" class="d"/><circle cx="428.3" cy="188.1" class="h"/><circle cx="431.6" cy="167.0" class="c"/><circle cx="432.1" cy="167.1" class="c"/><circle cx="432.3" cy="164.0" class="b"/><circle cx="430.4" cy="175.0" class="e"/><circle cx="430.9" cy="168.6" class="c"/><circle cx="428.4" cy="185.4" class="g"/><circle cx="626.9" cy="249.6" class="u"/><circle cx="509.5" cy="432.0" class="aj"/><circle cx="432.8" cy="158.8" class="a"/><circle cx="429.2" cy="180.1" class="f"/><circle cx="425.7" cy="237.6" class="s"/><circle cx="428.0" cy="276.8" class="B"/><circle cx="430.5" cy="170.8" class="d"/><circle cx="429.5" cy="181.5" class="f"/><circle cx="429.8" cy="177.6" class="e"/><circle cx="432.2" cy="163.7" class="b"/><circle cx="489.4" cy="423.9" class="ai"/><circle cx="427.4" cy="199.0" class="j"/><circle cx="430.0" cy="174.8" class="e"/><circle cx="432.5" cy="160.0" class="a"/><circle cx="601.3" cy="358.9" class="T"/><circle cx="432.6" cy="160.5" class="a"/><circle cx="431.8" cy="166.4" class="c"/><circle cx="432.2" cy="163.2" class="b"/><circle cx="432.6" cy="157.5" class="a"/><circle cx="432.1" cy="157.5" class="a"/><circle cx="431.0" cy="168.1" class="c"/><circle cx="429.3" cy="178.9" class="e"/><circle cx="427.8" cy="194.1" class="i"/><circle cx="462.0" cy="386.2" class="Z"/><circle cx="432.4" cy="161.5" class="b"/><circle cx="429.4" cy="289.3" class="D"/><circle cx="627.3" cy="227.1" class="p"/><circle cx="432.8" cy="158.6" class="a"/><circle cx="430.0" cy="176.4" class="e"/><circle cx="429.0" cy="183.5" class="g"/><circle cx="432.0" cy="165.8" class="c"/><circle cx="428.1" cy="187.8" class="g"/><circle cx="432.7" cy="157.6" class="a"/><circle cx="432.8" cy="157.2" class="a"/><circle cx="430.8" cy="170.1" class="c"/><circle cx="427.8" cy="191.3" class="h"/><circle cx="623.3" cy="281.0" class="B"/><circle cx="432.7" cy="157.9" class="a"/><circle cx="432.9" cy="158.0" class="a"/><circle cx="429.6" cy="180.6" class="f"/><circle cx="431.7" cy="165.6" class="b"/><circle cx="426.4" cy="244.8" class="t"/><circle cx="430.6" cy="169.6" class="c"/><circle cx="431.0" cy="301.4" class="G"/><circle cx="432.4" cy="162.8" class="b"/><circle cx="432.0" cy="157.6" class="a"/><circle cx="430.8" cy="167.2" class="c"/><circle cx="625.1" cy="261.8" class="x"/><circle cx="429.1" cy="178.4" class="e"/><circle cx="432.0" cy="164.8" class="b"/><circle cx="432.7" cy="157.5" class="a"/><circle cx="429.0" cy="180.3" class="f"/><circle cx="432.6" cy="159.2" class="a"/><circle cx="430.0" cy="173.4" class="d"/><circle cx="425.9" cy="226.6" class="p"/><circle cx="427.1" cy="197.9" class="j"/><circle cx="432.6" cy="158.7" class="a"/><circle cx="432.6" cy="160.1" class="a"/><circle cx="617.2" cy="313.1" class="J"/><circle cx="430.2" cy="171.2" class="d"/><circle cx="570.3" cy="414.3" class="af"/><circle cx="427.6" cy="193.0" class="i"/><circle cx="430.2" cy="175.6" class="e"/><circle cx="428.6" cy="183.0" class="f"/><circle cx="430.7" cy="168.9" class="c"/><circle cx="432.3" cy="161.7" class="b"/><circle cx="626.9" cy="247.4" class="u"/><circle cx="431.0" cy="166.6" class="c"/><circle cx="426.2" cy="254.7" class="v"/><circle cx="428.0" cy="186.8" class="g"/><circle cx="454.8" cy="371.0" class="W"/><circle cx="433.8" cy="313.4" class="J"/><circle cx="429.9" cy="175.1" class="e"/><circle cx="431.6" cy="164.4" class="b"/><circle cx="431.7" cy="164.8" class="b"/><circle cx="430.8" cy="166.3" class="c"/><circle cx="428.0" cy="189.8" class="h"/><circle cx="429.2" cy="177.7" class="e"/><circle cx="430.3" cy="172.5" class="d"/><circle cx="611.0" cy="332.2" class="N"/><circle cx="432.1" cy="158.1" class="a"/><circle cx="432.1" cy="157.9" class="a"/><circle cx="430.7" cy="168.6" class="c"/><circle cx="432.6" cy="159.5" class="a"/><circle cx="429.2" cy="179.3" class="e"/><circle cx="425.5" cy="235.1" class="r"/><circle cx="436.6" cy="323.2" class="L"/><circle cx="432.5" cy="161.3" class="a"/><circle cx="449.5" cy="360.8" class="T"/><circle cx="432.1" cy="158.4" class="a"/><circle cx="430.3" cy="170.0" class="c"/><circle cx="427.3" cy="192.2" class="h"/><circle cx="440.4" cy="337.9" class="O"/><circle cx="430.4" cy="171.8" class="d"/><circle cx="428.2" cy="185.3" class="g"/><circle cx="432.6" cy="161.0" class="a"/><circle cx="444.4" cy="348.7" class="R"/><circle cx="432.4" cy="159.0" class="a"/><circle cx="432.5" cy="159.2" class="a"/><circle cx="427.4" cy="196.1" class="i"/><circle cx="427.0" cy="263.0" class="x"/><circle cx="430.0" cy="174.4" class="d"/><circle cx="533.9" cy="432.5" class="aj"/><circle cx="431.0" cy="167.8" class="c"/><circle cx="431.7" cy="163.7" class="b"/><circle cx="432.0" cy="163.8" class="b"/><circle cx="432.3" cy="160.8" class="a"/><circle cx="432.2" cy="160.6" class="a"/><circle cx="429.2" cy="181.6" class="f"/><circle cx="429.1" cy="178.5" class="e"/><circle cx="429.5" cy="176.4" class="e"/><circle cx="432.1" cy="158.5" class="a"/><circle cx="430.0" cy="173.4" class="d"/><circle cx="623.0" cy="278.3" class="B"/><circle cx="430.5" cy="167.7" class="c"/><circle cx="430.0" cy="171.5" class="d"/><circle cx="432.3" cy="158.7" class="a"/><circle cx="432.1" cy="163.2" class="b"/><circle cx="432.1" cy="158.4" class="a"/><circle cx="432.4" cy="160.3" class="a"/><circle cx="608.6" cy="339.5" class="O"/><circle cx="428.2" cy="188.5" class="g"/><circle cx="431.7" cy="163.3" class="b"/><circle cx="429.3" cy="175.9" class="e"/><circle cx="431.1" cy="164.7" class="b"/><circle cx="480.2" cy="410.5" class="ae"/><circle cx="625.3" cy="259.6" class="w"/><circle cx="428.8" cy="181.0" class="f"/><circle cx="425.6" cy="224.8" class="p"/><circle cx="430.8" cy="164.7" class="b"/><circle cx="432.2" cy="158.2" class="a"/><circle cx="431.7" cy="162.8" class="b"/><circle cx="589.5" cy="383.0" class="Y"/><circle cx="430.6" cy="167.2" class="c"/><circle cx="428.3" cy="184.0" class="f"/><circle cx="432.3" cy="160.1" class="a"/><circle cx="432.3" cy="162.7" class="b"/><circle cx="626.9" cy="245.3" class="t"/><circle cx="431.7" cy="162.6" class="b"/><circle cx="432.3" cy="159.6" class="a"/><circle cx="619.8" cy="295.0" class="E"/><circle cx="432.3" cy="159.9" class="a"/><circle cx="431.7" cy="162.3" class="b"/><circle cx="429.8" cy="173.2" class="d"/><circle cx="428.0" cy="273.2" class="z"/><circle cx="429.3" cy="177.7" class="e"/><circle cx="427.9" cy="190.1" class="h"/><circle cx="430.3" cy="166.9" class="c"/><circle cx="432.5" cy="159.4" class="a"/><circle cx="426.4" cy="241.8" class="s"/><circle cx="429.8" cy="172.3" class="d"/><circle cx="430.8" cy="164.0" class="b"/><circle cx="430.2" cy="168.6" class="c"/><circle cx="430.2" cy="170.2" class="c"/><circle cx="429.6" cy="175.0" class="d"/><circle cx="431.8" cy="162.2" class="a"/><circle cx="428.2" cy="187.3" class="g"/><circle cx="428.9" cy="180.1" class="e"/><circle cx="427.5" cy="194.8" class="i"/><circle cx="430.6" cy="166.2" class="b"/><circle cx="432.3" cy="158.9" class="a"/><circle cx="431.7" cy="162.0" class="a"/><circle cx="429.2" cy="174.6" class="d"/><circle cx="596.6" cy="368.3" class="V"/><circle cx="428.5" cy="182.9" class="f"/><circle cx="431.9" cy="161.7" class="a"/><circle cx="541.9" cy="432.5" class="aj"/><circle cx="432.2" cy="158.6" class="a"/><circle cx="430.6" cy="165.8" class="b"/><circle cx="585.0" cy="392.3" class="aa"/><circle cx="430.2" cy="167.5" class="c"/><circle cx="429.2" cy="285.5" class="C"/><circle cx="432.4" cy="158.8" class="a"/><circle cx="426.1" cy="251.7" class="v"/><circle cx="474.9" cy="401.4" class="ac"/><circle cx="428.8" cy="179.5" class="e"/><circle cx="431.9" cy="161.6" class="a"/><circle cx="430.1" cy="171.7" class="d"/><circle cx="425.7" cy="232.2" class="q"/><circle cx="427.7" cy="189.4" class="h"/><circle cx="428.2" cy="182.2" class="f"/><circle cx="429.3" cy="176.0" class="e"/><circle cx="430.7" cy="165.2" class="b"/><circle cx="497.9" cy="426.1" class="ai"/><circle cx="430.2" cy="169.1" class="c"/><circle cx="573.5" cy="406.7" class="ad"/><circle cx="432.0" cy="161.0" class="a"/><circle cx="432.2" cy="161.2" class="a"/><circle cx="623.2" cy="275.9" class="A"/><circle cx="431.2" cy="159.7" class="a"/><circle cx="428.1" cy="186.5" class="g"/><circle cx="431.3" cy="159.5" class="a"/><circle cx="432.0" cy="160.9" class="a"/><circle cx="430.7" cy="165.6" class="b"/><circle cx="550.6" cy="426.4" class="ai"/><circle cx="430.1" cy="168.6" class="c"/><circle cx="431.1" cy="162.8" class="b"/><circle cx="430.0" cy="171.3" class="c"/><circle cx="427.9" cy="192.8" class="h"/><circle cx="431.5" cy="159.2" class="a"/><circle cx="429.7" cy="173.7" class="d"/><circle cx="559.5" cy="421.5" class="ah"/><circle cx="425.8" cy="221.8" class="o"/><circle cx="627.2" cy="243.2" class="t"/><circle cx="430.7" cy="164.8" class="b"/><circle cx="429.0" cy="178.4" class="e"/><circle cx="432.2" cy="160.4" class="a"/><circle cx="625.1" cy="257.3" class="w"/><circle cx="513.8" cy="431.4" class="aj"/><circle cx="429.0" cy="173.6" class="d"/><circle cx="430.2" cy="166.7" class="b"/><circle cx="616.9" cy="307.9" class="H"/><circle cx="429.2" cy="175.6" class="d"/><circle cx="431.2" cy="296.4" class="E"/><circle cx="430.8" cy="164.1" class="b"/><circle cx="429.9" cy="170.8" class="c"/><circle cx="431.4" cy="161.7" class="a"/><circle cx="431.6" cy="160.1" class="a"/><circle cx="428.0" cy="185.6" class="g"/><circle cx="427.5" cy="188.8" class="g"/><circle cx="430.1" cy="166.4" class="b"/><circle cx="428.3" cy="181.3" class="f"/><circle cx="620.2" cy="292.7" class="E"/><circle cx="428.7" cy="177.7" class="e"/></g><g fill-opacity="0.73" stroke-opacity="0.73"><circle cx="430.5" cy="164.8" class="b"/><circle cx="427.1" cy="259.2" class="w"/><circle cx="601.7" cy="353.9" class="R"/><circle cx="431.0" cy="163.8" class="b"/><circle cx="427.5" cy="191.9" class="h"/><circle cx="431.2" cy="161.7" class="a"/><circle cx="431.1" cy="160.2" class="a"/><circle cx="429.0" cy="175.3" class="d"/><circle cx="426.3" cy="239.0" class="s"/><circle cx="429.4" cy="172.7" class="d"/><circle cx="430.3" cy="170.0" class="c"/><circle cx="467.9" cy="387.9" class="Z"/><circle cx="426.8" cy="197.3" class="i"/><circle cx="431.7" cy="159.8" class="a"/><circle cx="430.7" cy="163.9" class="b"/><circle cx="430.6" cy="163.6" class="b"/><circle cx="427.7" cy="187.0" class="g"/><circle cx="431.7" cy="159.6" class="a"/><circle cx="429.4" cy="172.0" class="c"/><circle cx="433.7" cy="308.0" class="H"/><circle cx="428.2" cy="180.7" class="e"/><circle cx="430.6" cy="163.1" class="a"/><circle cx="429.5" cy="173.9" class="d"/><circle cx="428.2" cy="184.4" class="f"/><circle cx="430.0" cy="169.7" class="c"/><circle cx="430.8" cy="163.4" class="b"/><circle cx="526.0" cy="431.4" class="aj"/><circle cx="429.2" cy="176.7" class="e"/><circle cx="611.0" cy="327.1" class="L"/><circle cx="425.5" cy="230.2" class="q"/><circle cx="431.2" cy="160.7" class="a"/><circle cx="430.8" cy="160.6" class="a"/><circle cx="431.1" cy="162.7" class="a"/><circle cx="430.3" cy="165.2" class="b"/><circle cx="430.6" cy="160.5" class="a"/><circle cx="429.8" cy="169.3" class="c"/><circle cx="427.9" cy="269.6" class="y"/><circle cx="510.7" cy="429.1" class="ai"/><circle cx="427.5" cy="191.0" class="h"/><circle cx="430.7" cy="162.2" class="a"/><circle cx="626.9" cy="240.9" class="s"/><circle cx="429.3" cy="171.6" class="c"/><circle cx="429.3" cy="173.5" class="d"/><circle cx="425.7" cy="220.0" class="n"/><circle cx="436.4" cy="318.0" class="J"/><circle cx="623.1" cy="273.5" class="z"/><circle cx="427.8" cy="183.8" class="f"/><circle cx="428.5" cy="179.5" class="e"/><circle cx="430.0" cy="168.6" class="c"/><circle cx="431.0" cy="160.2" class="a"/><circle cx="462.0" cy="379.3" class="X"/><circle cx="625.4" cy="255.3" class="v"/><circle cx="428.7" cy="176.7" class="d"/><circle cx="430.2" cy="163.8" class="b"/><circle cx="430.9" cy="162.5" class="a"/><circle cx="426.2" cy="248.6" class="u"/><circle cx="427.2" cy="195.4" class="i"/><circle cx="428.0" cy="186.0" class="g"/><circle cx="430.2" cy="167.9" class="b"/><circle cx="428.6" cy="175.9" class="d"/><circle cx="489.5" cy="415.1" class="af"/><circle cx="430.2" cy="165.7" class="b"/><circle cx="429.0" cy="173.4" class="d"/><circle cx="440.3" cy="331.0" class="M"/><circle cx="428.4" cy="178.9" class="e"/><circle cx="430.7" cy="161.7" class="a"/><circle cx="430.8" cy="161.9" class="a"/><circle cx="430.6" cy="161.5" class="a"/><circle cx="429.9" cy="167.9" class="b"/><circle cx="427.4" cy="190.1" class="g"/><circle cx="608.5" cy="334.2" class="N"/><circle cx="571.1" cy="407.8" class="ad"/><circle cx="429.4" cy="170.4" class="c"/><circle cx="619.8" cy="289.8" class="D"/><circle cx="454.8" cy="364.9" class="U"/><circle cx="428.0" cy="182.9" class="f"/><circle cx="429.2" cy="172.5" class="c"/><circle cx="444.5" cy="342.8" class="P"/><circle cx="429.2" cy="169.9" class="c"/><circle cx="429.7" cy="167.9" class="b"/><circle cx="428.9" cy="175.0" class="d"/><circle cx="430.2" cy="165.3" class="b"/><circle cx="429.2" cy="281.3" class="B"/><circle cx="427.8" cy="185.4" class="f"/><circle cx="449.5" cy="353.6" class="R"/><circle cx="430.9" cy="161.3" class="a"/><circle cx="430.8" cy="160.8" class="a"/><circle cx="430.0" cy="166.9" class="b"/><circle cx="427.1" cy="194.1" class="h"/><circle cx="430.4" cy="162.9" class="a"/><circle cx="426.3" cy="236.5" class="r"/><circle cx="430.6" cy="161.2" class="a"/><circle cx="427.7" cy="188.1" class="g"/><circle cx="426.9" cy="256.2" class="v"/><circle cx="429.0" cy="172.1" class="c"/><circle cx="429.9" cy="167.6" class="b"/><circle cx="428.5" cy="178.2" class="e"/><circle cx="427.9" cy="182.1" class="f"/><circle cx="430.2" cy="164.2" class="b"/><circle cx="425.5" cy="227.7" class="p"/><circle cx="428.8" cy="174.4" class="d"/><circle cx="426.9" cy="198.8" class="i"/><circle cx="430.0" cy="165.0" class="b"/><circle cx="425.6" cy="218.3" class="n"/><circle cx="429.9" cy="166.9" class="b"/><circle cx="534.9" cy="428.6" class="ai"/><circle cx="429.5" cy="168.9" class="c"/><circle cx="428.3" cy="177.5" class="e"/><circle cx="427.8" cy="184.3" class="f"/><circle cx="627.3" cy="239.0" class="r"/><circle cx="625.3" cy="253.0" class="u"/><circle cx="623.6" cy="271.4" class="z"/><circle cx="429.6" cy="171.0" class="c"/><circle cx="430.1" cy="162.3" class="a"/><circle cx="429.8" cy="166.8" class="b"/><circle cx="430.1" cy="166.3" class="b"/><circle cx="589.8" cy="377.1" class="W"/><circle cx="428.7" cy="174.0" class="d"/><circle cx="427.1" cy="192.7" class="h"/><circle cx="430.3" cy="163.5" class="a"/><circle cx="429.2" cy="170.7" class="c"/><circle cx="617.2" cy="303.4" class="G"/><circle cx="429.9" cy="162.2" class="a"/><circle cx="431.1" cy="291.9" class="D"/><circle cx="428.2" cy="181.1" class="e"/><circle cx="427.6" cy="183.4" class="f"/><circle cx="429.6" cy="168.3" class="b"/><circle cx="429.8" cy="162.0" class="a"/><circle cx="427.2" cy="188.2" class="g"/><circle cx="428.7" cy="176.6" class="d"/><circle cx="426.7" cy="197.6" class="i"/><circle cx="596.4" cy="362.1" class="T"/><circle cx="430.3" cy="165.4" class="b"/><circle cx="429.9" cy="165.3" class="b"/><circle cx="429.9" cy="161.8" class="a"/><circle cx="426.2" cy="245.4" class="t"/><circle cx="428.9" cy="173.2" class="c"/><circle cx="427.8" cy="180.4" class="e"/><circle cx="430.4" cy="163.1" class="a"/><circle cx="620.1" cy="287.4" class="C"/><circle cx="427.9" cy="265.5" class="x"/><circle cx="429.7" cy="167.4" class="b"/><circle cx="430.0" cy="165.0" class="b"/><circle cx="429.2" cy="170.0" class="c"/><circle cx="428.0" cy="176.5" class="d"/><circle cx="430.2" cy="162.8" class="a"/><circle cx="428.7" cy="172.8" class="c"/><circle cx="602.3" cy="348.4" class="Q"/><circle cx="585.7" cy="386.5" class="Y"/><circle cx="429.2" cy="169.6" class="c"/><circle cx="480.3" cy="402.5" class="ac"/><circle cx="427.8" cy="182.6" class="f"/><circle cx="427.1" cy="192.0" class="h"/><circle cx="426.0" cy="234.3" class="q"/><circle cx="427.5" cy="186.8" class="f"/><circle cx="425.7" cy="216.5" class="m"/><circle cx="427.9" cy="179.7" class="e"/><circle cx="430.0" cy="164.7" class="b"/><circle cx="429.5" cy="167.1" class="b"/><circle cx="429.1" cy="169.5" class="c"/><circle cx="429.8" cy="162.6" class="a"/><circle cx="425.5" cy="225.6" class="o"/><circle cx="433.7" cy="303.8" class="G"/><circle cx="430.5" cy="162.0" class="a"/><circle cx="429.7" cy="164.5" class="a"/><circle cx="428.9" cy="169.2" class="c"/><circle cx="429.9" cy="162.8" class="a"/><circle cx="627.7" cy="237.1" class="r"/><circle cx="428.5" cy="175.4" class="d"/><circle cx="429.1" cy="171.9" class="c"/><circle cx="426.9" cy="196.2" class="i"/><circle cx="611.5" cy="322.4" class="K"/><circle cx="429.7" cy="164.3" class="a"/><circle cx="625.5" cy="250.9" class="u"/><circle cx="427.7" cy="181.9" class="e"/><circle cx="429.0" cy="169.0" class="b"/><circle cx="428.9" cy="171.4" class="c"/><circle cx="429.5" cy="166.6" class="b"/><circle cx="428.0" cy="178.7" class="e"/><circle cx="574.0" cy="400.2" class="ab"/><circle cx="428.0" cy="175.1" class="d"/><circle cx="623.6" cy="269.1" class="y"/><circle cx="429.5" cy="166.3" class="b"/><circle cx="426.9" cy="191.0" class="g"/><circle cx="427.6" cy="185.7" class="f"/><circle cx="428.9" cy="168.7" class="b"/><circle cx="427.1" cy="252.9" class="u"/><circle cx="475.0" cy="393.1" class="aa"/><circle cx="430.2" cy="163.4" class="a"/><circle cx="430.2" cy="163.7" class="a"/><circle cx="428.6" cy="171.5" class="c"/><circle cx="542.2" cy="424.6" class="ah"/><circle cx="428.7" cy="170.9" class="c"/><circle cx="436.2" cy="313.5" class="I"/><circle cx="429.2" cy="168.3" class="b"/><circle cx="427.5" cy="181.3" class="e"/><circle cx="428.2" cy="174.3" class="d"/><circle cx="429.4" cy="277.3" class="A"/><circle cx="430.0" cy="163.0" class="a"/><circle cx="428.8" cy="170.5" class="c"/><circle cx="429.5" cy="167.8" class="b"/><circle cx="427.0" cy="194.7" class="h"/><circle cx="430.0" cy="163.4" class="a"/><circle cx="427.3" cy="185.1" class="f"/><circle cx="425.5" cy="214.6" class="m"/><circle cx="559.8" cy="414.2" class="ae"/><circle cx="498.1" cy="417.7" class="af"/><circle cx="428.5" cy="173.5" class="c"/><circle cx="551.0" cy="419.5" class="af"/><circle cx="427.2" cy="189.7" class="g"/><circle cx="620.4" cy="285.1" class="B"/><circle cx="426.1" cy="242.9" class="s"/><circle cx="429.2" cy="167.5" class="b"/><circle cx="609.3" cy="329.7" class="L"/><circle cx="429.8" cy="163.0" class="a"/><circle cx="428.5" cy="170.6" class="c"/><circle cx="427.5" cy="180.5" class="e"/><circle cx="429.3" cy="167.1" class="b"/><circle cx="427.8" cy="177.7" class="d"/><circle cx="627.9" cy="235.1" class="q"/><circle cx="428.6" cy="172.8" class="c"/><circle cx="426.1" cy="231.7" class="p"/><circle cx="425.3" cy="224.2" class="o"/><circle cx="428.8" cy="170.2" class="c"/><circle cx="429.4" cy="164.7" class="a"/><circle cx="440.4" cy="325.3" class="K"/><circle cx="428.8" cy="169.7" class="b"/><circle cx="467.8" cy="380.8" class="X"/><circle cx="427.2" cy="184.4" class="f"/><circle cx="429.2" cy="167.0" class="b"/><circle cx="625.6" cy="248.7" class="t"/><circle cx="426.7" cy="193.9" class="h"/><circle cx="514.0" cy="423.4" class="ag"/><circle cx="428.3" cy="172.7" class="c"/><circle cx="429.3" cy="166.6" class="b"/><circle cx="428.7" cy="169.5" class="b"/><circle cx="623.9" cy="266.9" class="x"/><circle cx="429.5" cy="166.2" class="b"/><circle cx="428.0" cy="261.9" class="w"/><circle cx="428.0" cy="176.8" class="d"/><circle cx="431.0" cy="287.1" class="C"/><circle cx="427.0" cy="189.1" class="g"/><circle cx="427.7" cy="179.7" class="e"/><circle cx="428.6" cy="169.3" class="b"/><circle cx="429.3" cy="164.0" class="a"/><circle cx="429.4" cy="164.6" class="a"/><circle cx="429.5" cy="164.3" class="a"/><circle cx="428.4" cy="172.4" class="c"/><circle cx="444.5" cy="335.6" class="N"/><circle cx="427.5" cy="183.2" class="e"/><circle cx="428.4" cy="172.0" class="c"/><circle cx="617.7" cy="299.2" class="E"/><circle cx="462.0" cy="372.1" class="V"/><circle cx="427.9" cy="176.2" class="d"/><circle cx="425.7" cy="212.6" class="l"/><circle cx="429.2" cy="165.9" class="b"/><circle cx="429.1" cy="164.0" class="a"/><circle cx="428.9" cy="168.6" class="b"/><circle cx="429.4" cy="165.6" class="a"/><circle cx="427.6" cy="179.0" class="d"/><circle cx="428.4" cy="171.7" class="c"/><circle cx="426.6" cy="192.9" class="h"/><circle cx="449.5" cy="347.1" class="P"/><circle cx="426.9" cy="188.1" class="f"/><circle cx="454.8" cy="359.2" class="S"/><circle cx="429.4" cy="165.3" class="a"/><circle cx="428.3" cy="171.4" class="c"/><circle cx="426.9" cy="250.5" class="t"/><circle cx="627.5" cy="232.8" class="p"/><circle cx="429.2" cy="165.2" class="a"/><circle cx="526.2" cy="424.3" class="ag"/><circle cx="427.8" cy="178.0" class="d"/><circle cx="428.9" cy="168.4" class="b"/><circle cx="425.5" cy="221.1" class="n"/><circle cx="620.4" cy="282.6" class="B"/><circle cx="510.8" cy="420.8" class="ag"/><circle cx="571.2" cy="400.8" class="ab"/><circle cx="427.4" cy="182.7" class="e"/><circle cx="428.8" cy="167.8" class="b"/><circle cx="425.8" cy="229.7" class="p"/><circle cx="428.8" cy="167.4" class="b"/><circle cx="429.0" cy="165.2" class="a"/><circle cx="428.4" cy="170.8" class="c"/><circle cx="426.9" cy="187.1" class="f"/><circle cx="426.3" cy="240.2" class="r"/><circle cx="429.0" cy="164.9" class="a"/><circle cx="429.1" cy="164.5" class="a"/><circle cx="489.8" cy="407.1" class="ac"/><circle cx="425.8" cy="210.2" class="k"/><circle cx="626.0" cy="246.8" class="t"/><circle cx="427.6" cy="177.5" class="d"/><circle cx="427.8" cy="175.2" class="d"/><circle cx="597.0" cy="356.9" class="R"/><circle cx="589.9" cy="371.0" class="U"/><circle cx="427.1" cy="191.4" class="g"/><circle cx="434.0" cy="299.0" class="E"/><circle cx="427.7" cy="181.5" class="e"/><circle cx="428.6" cy="167.4" class="b"/><circle cx="429.3" cy="273.4" class="z"/><circle cx="428.3" cy="170.2" class="b"/><circle cx="429.1" cy="166.9" class="b"/><circle cx="623.4" cy="264.3" class="w"/><circle cx="427.8" cy="174.3" class="c"/><circle cx="612.0" cy="317.9" class="I"/><circle cx="602.2" cy="342.8" class="O"/><circle cx="427.0" cy="186.1" class="f"/><circle cx="427.3" cy="181.0" class="e"/><circle cx="428.8" cy="169.7" class="b"/><circle cx="428.6" cy="167.0" class="b"/><circle cx="426.9" cy="190.5" class="g"/><circle cx="428.4" cy="169.2" class="b"/><circle cx="428.6" cy="166.7" class="b"/><circle cx="617.9" cy="296.8" class="E"/><circle cx="427.8" cy="174.1" class="c"/><circle cx="428.3" cy="169.7" class="b"/><circle cx="535.3" cy="420.5" class="af"/><circle cx="428.8" cy="166.3" class="a"/><circle cx="427.9" cy="259.0" class="v"/><circle cx="428.0" cy="173.1" class="c"/><circle cx="428.6" cy="166.1" class="a"/><circle cx="425.7" cy="219.4" class="m"/><circle cx="427.6" cy="176.3" class="d"/><circle cx="436.3" cy="309.4" class="G"/><circle cx="428.4" cy="169.1" class="b"/><circle cx="427.2" cy="180.5" class="e"/><circle cx="428.8" cy="165.8" class="a"/><circle cx="585.6" cy="379.9" class="W"/><circle cx="428.6" cy="168.6" class="b"/><circle cx="427.7" cy="175.8" class="d"/><circle cx="426.2" cy="226.9" class="o"/><circle cx="425.7" cy="209.5" class="k"/><circle cx="426.7" cy="248.0" class="t"/><circle cx="427.6" cy="175.4" class="c"/><circle cx="428.4" cy="165.7" class="a"/><circle cx="620.6" cy="280.4" class="A"/><circle cx="426.7" cy="189.8" class="g"/><circle cx="609.2" cy="324.3" class="K"/><circle cx="428.0" cy="172.5" class="c"/><circle cx="427.4" cy="179.4" class="d"/><circle cx="626.1" cy="244.8" class="s"/><circle cx="431.0" cy="283.7" class="B"/><circle cx="428.1" cy="168.8" class="b"/><circle cx="427.0" cy="184.3" class="e"/><circle cx="426.2" cy="237.8" class="q"/><circle cx="428.3" cy="168.3" class="b"/><circle cx="427.7" cy="175.1" class="c"/><circle cx="428.0" cy="172.2" class="c"/><circle cx="480.4" cy="395.8" class="aa"/><circle cx="623.7" cy="262.3" class="w"/><circle cx="428.3" cy="168.1" class="b"/><circle cx="428.2" cy="167.8" class="b"/><circle cx="427.1" cy="188.4" class="f"/><circle cx="574.3" cy="393.9" class="Z"/><circle cx="427.6" cy="174.9" class="c"/><circle cx="440.3" cy="320.6" class="J"/><circle cx="427.1" cy="179.1" class="d"/><circle cx="428.1" cy="171.5" class="c"/><circle cx="425.5" cy="217.9" class="m"/><circle cx="425.5" cy="208.1" class="k"/><circle cx="427.8" cy="171.4" class="b"/><circle cx="428.5" cy="166.7" class="a"/><circle cx="428.1" cy="167.7" class="b"/><circle cx="428.1" cy="170.8" class="b"/><circle cx="426.4" cy="194.3" class="h"/><circle cx="427.5" cy="174.2" class="c"/><circle cx="428.3" cy="167.3" class="b"/><circle cx="617.7" cy="294.1" class="D"/><circle cx="427.4" cy="178.1" class="d"/><circle cx="475.3" cy="386.6" class="Y"/><circle cx="425.8" cy="224.9" class="n"/><circle cx="426.8" cy="187.6" class="f"/><circle cx="428.6" cy="166.5" class="a"/><circle cx="429.0" cy="270.4" class="y"/><circle cx="427.5" cy="173.9" class="c"/><circle cx="427.6" cy="177.5" class="d"/><circle cx="427.7" cy="170.8" class="b"/><circle cx="626.0" cy="242.5" class="r"/><circle cx="444.4" cy="330.6" class="L"/><circle cx="620.7" cy="277.9" class="z"/><circle cx="559.9" cy="406.6" class="ac"/><circle cx="426.8" cy="183.1" class="e"/><circle cx="542.5" cy="417.0" class="ae"/><circle cx="427.5" cy="173.1" class="c"/><circle cx="427.9" cy="170.4" class="b"/><circle cx="427.5" cy="173.7" class="c"/><circle cx="427.7" cy="256.1" class="u"/><circle cx="427.3" cy="177.4" class="d"/><circle cx="433.9" cy="294.1" class="D"/><circle cx="425.9" cy="235.4" class="q"/><circle cx="426.8" cy="244.5" class="s"/><circle cx="427.5" cy="176.8" class="d"/><circle cx="427.8" cy="172.6" class="c"/><circle cx="623.9" cy="260.0" class="v"/><circle cx="550.9" cy="411.2" class="ad"/><circle cx="468.1" cy="374.9" class="V"/><circle cx="426.3" cy="193.7" class="g"/><circle cx="426.8" cy="187.0" class="f"/><circle cx="425.6" cy="206.6" class="j"/><circle cx="449.7" cy="341.3" class="N"/><circle cx="425.5" cy="216.0" class="l"/><circle cx="427.7" cy="172.4" class="c"/><circle cx="427.9" cy="170.3" class="b"/><circle cx="498.1" cy="409.5" class="ad"/><circle cx="427.0" cy="181.0" class="d"/><circle cx="611.8" cy="312.7" class="H"/><circle cx="462.3" cy="365.5" class="T"/><circle cx="427.9" cy="169.6" class="b"/><circle cx="427.3" cy="176.9" class="d"/><circle cx="454.7" cy="352.7" class="Q"/><circle cx="428.0" cy="169.2" class="b"/><circle cx="427.8" cy="172.1" class="b"/><circle cx="426.8" cy="185.9" class="f"/><circle cx="427.5" cy="176.2" class="c"/><circle cx="597.3" cy="351.3" class="Q"/><circle cx="428.0" cy="168.8" class="b"/><circle cx="427.9" cy="171.8" class="b"/><circle cx="427.1" cy="176.1" class="c"/><circle cx="425.7" cy="204.5" class="j"/><circle cx="602.7" cy="337.9" class="N"/><circle cx="514.2" cy="415.4" class="ae"/><circle cx="590.5" cy="365.5" class="T"/><circle cx="436.3" cy="303.7" class="F"/><circle cx="427.8" cy="168.8" class="b"/><circle cx="427.6" cy="171.6" class="b"/><circle cx="427.5" cy="171.1" class="b"/><circle cx="431.0" cy="279.8" class="A"/><circle cx="426.0" cy="223.9" class="n"/><circle cx="617.9" cy="291.7" class="C"/><circle cx="427.3" cy="175.6" class="c"/><circle cx="427.0" cy="179.9" class="d"/><circle cx="626.2" cy="240.6" class="r"/><circle cx="427.1" cy="184.9" class="e"/><circle cx="427.7" cy="168.6" class="b"/><circle cx="427.7" cy="170.8" class="b"/><circle cx="571.4" cy="394.1" class="Z"/><circle cx="427.9" cy="168.1" class="b"/><circle cx="620.8" cy="275.6" class="z"/><circle cx="425.3" cy="214.6" class="l"/><circle cx="427.3" cy="175.3" class="c"/><circle cx="426.3" cy="232.5" class="p"/><circle cx="427.7" cy="170.5" class="b"/><circle cx="427.1" cy="175.0" class="c"/></g><g fill-opacity="0.76" stroke-opacity="0.76"><circle cx="609.4" cy="319.5" class="I"/><circle cx="426.5" cy="184.4" class="e"/><circle cx="526.0" cy="414.8" class="ae"/><circle cx="427.6" cy="252.8" class="t"/><circle cx="426.9" cy="179.8" class="d"/><circle cx="427.6" cy="170.3" class="b"/><circle cx="429.1" cy="266.9" class="x"/><circle cx="427.1" cy="179.1" class="d"/><circle cx="426.7" cy="242.6" class="r"/><circle cx="624.4" cy="258.2" class="v"/><circle cx="427.2" cy="174.8" class="c"/><circle cx="425.7" cy="203.6" class="i"/><circle cx="510.9" cy="413.3" class="ad"/><circle cx="427.6" cy="170.1" class="b"/><circle cx="427.0" cy="178.7" class="d"/><circle cx="489.7" cy="399.4" class="aa"/><circle cx="427.1" cy="174.4" class="c"/><circle cx="426.0" cy="190.9" class="g"/><circle cx="427.0" cy="183.2" class="e"/><circle cx="426.1" cy="221.5" class="m"/><circle cx="427.5" cy="169.8" class="b"/><circle cx="427.2" cy="178.2" class="d"/><circle cx="427.2" cy="174.0" class="c"/><circle cx="440.4" cy="315.5" class="H"/><circle cx="425.5" cy="212.6" class="k"/><circle cx="586.1" cy="374.4" class="U"/><circle cx="626.4" cy="238.6" class="q"/><circle cx="427.3" cy="169.7" class="b"/><circle cx="427.5" cy="169.2" class="b"/><circle cx="618.2" cy="289.3" class="B"/><circle cx="433.7" cy="289.9" class="C"/><circle cx="426.9" cy="182.5" class="e"/><circle cx="425.6" cy="202.3" class="i"/><circle cx="427.6" cy="172.6" class="b"/><circle cx="427.2" cy="173.4" class="c"/><circle cx="621.1" cy="273.5" class="y"/><circle cx="426.3" cy="230.8" class="o"/><circle cx="535.4" cy="413.5" class="ad"/><circle cx="426.8" cy="182.3" class="e"/><circle cx="624.2" cy="255.8" class="u"/><circle cx="427.3" cy="172.6" class="b"/><circle cx="444.4" cy="325.8" class="K"/><circle cx="426.1" cy="188.7" class="f"/><circle cx="425.5" cy="210.9" class="k"/><circle cx="427.3" cy="172.3" class="b"/><circle cx="431.3" cy="275.2" class="y"/><circle cx="426.1" cy="219.8" class="m"/><circle cx="426.5" cy="192.5" class="g"/><circle cx="426.7" cy="182.0" class="d"/><circle cx="574.6" cy="387.5" class="X"/><circle cx="427.2" cy="171.9" class="b"/><circle cx="427.0" cy="239.9" class="q"/><circle cx="427.9" cy="249.3" class="s"/><circle cx="612.1" cy="308.4" class="G"/><circle cx="427.5" cy="171.4" class="b"/><circle cx="425.4" cy="201.5" class="i"/><circle cx="480.2" cy="387.9" class="X"/><circle cx="426.5" cy="181.8" class="d"/><circle cx="426.2" cy="187.8" class="f"/><circle cx="429.3" cy="263.5" class="w"/><circle cx="426.8" cy="181.1" class="d"/><circle cx="436.5" cy="299.3" class="E"/><circle cx="626.2" cy="236.5" class="q"/><circle cx="449.6" cy="336.0" class="M"/><circle cx="427.4" cy="170.9" class="b"/><circle cx="475.2" cy="379.8" class="V"/><circle cx="426.8" cy="180.5" class="d"/><circle cx="426.0" cy="228.5" class="o"/><circle cx="602.8" cy="332.7" class="L"/><circle cx="427.4" cy="171.5" class="b"/><circle cx="618.1" cy="286.8" class="B"/><circle cx="597.6" cy="346.1" class="O"/><circle cx="425.4" cy="209.6" class="j"/><circle cx="426.3" cy="192.2" class="g"/><circle cx="426.6" cy="176.3" class="c"/><circle cx="621.5" cy="271.4" class="x"/><circle cx="426.7" cy="180.2" class="d"/><circle cx="425.4" cy="200.3" class="h"/><circle cx="427.1" cy="170.9" class="b"/><circle cx="560.1" cy="399.7" class="aa"/><circle cx="454.8" cy="346.7" class="O"/><circle cx="624.0" cy="253.5" class="t"/><circle cx="467.9" cy="368.0" class="T"/><circle cx="426.2" cy="217.9" class="l"/><circle cx="462.0" cy="359.4" class="R"/><circle cx="426.8" cy="179.8" class="d"/><circle cx="590.3" cy="359.4" class="R"/><circle cx="426.8" cy="237.4" class="q"/><circle cx="542.6" cy="410.0" class="ac"/><circle cx="426.1" cy="191.3" class="f"/><circle cx="426.8" cy="179.3" class="d"/><circle cx="551.3" cy="404.8" class="ab"/><circle cx="609.5" cy="315.0" class="H"/><circle cx="426.3" cy="186.1" class="e"/><circle cx="426.5" cy="185.2" class="e"/><circle cx="426.7" cy="174.2" class="b"/><circle cx="434.0" cy="286.2" class="A"/><circle cx="425.6" cy="208.1" class="j"/><circle cx="426.7" cy="179.1" class="d"/><circle cx="427.8" cy="247.5" class="s"/><circle cx="425.9" cy="215.9" class="l"/><circle cx="426.9" cy="173.8" class="b"/><circle cx="498.4" cy="403.3" class="ab"/><circle cx="426.0" cy="190.3" class="f"/><circle cx="440.4" cy="311.8" class="G"/><circle cx="426.0" cy="226.8" class="n"/><circle cx="427.2" cy="172.7" class="b"/><circle cx="426.7" cy="178.8" class="c"/><circle cx="431.0" cy="272.5" class="x"/><circle cx="426.2" cy="185.2" class="e"/><circle cx="571.6" cy="387.6" class="X"/><circle cx="426.8" cy="178.2" class="c"/><circle cx="426.4" cy="173.7" class="b"/><circle cx="429.3" cy="260.0" class="v"/><circle cx="624.5" cy="251.5" class="t"/><circle cx="618.0" cy="284.3" class="A"/><circle cx="427.1" cy="172.6" class="b"/><circle cx="514.2" cy="408.2" class="ac"/><circle cx="621.4" cy="269.1" class="x"/><circle cx="426.2" cy="184.9" class="e"/><circle cx="426.0" cy="189.5" class="f"/><circle cx="426.8" cy="177.3" class="c"/><circle cx="586.1" cy="367.9" class="T"/><circle cx="426.7" cy="235.3" class="p"/><circle cx="425.1" cy="207.5" class="j"/><circle cx="426.7" cy="172.5" class="b"/><circle cx="427.0" cy="176.9" class="c"/><circle cx="612.3" cy="303.9" class="E"/><circle cx="426.1" cy="184.6" class="e"/><circle cx="426.0" cy="214.5" class="k"/><circle cx="444.5" cy="320.9" class="I"/><circle cx="436.3" cy="294.8" class="C"/><circle cx="426.7" cy="176.7" class="c"/><circle cx="426.0" cy="224.7" class="n"/><circle cx="526.2" cy="408.4" class="ac"/><circle cx="425.9" cy="188.6" class="f"/><circle cx="426.1" cy="183.3" class="d"/><circle cx="425.4" cy="197.1" class="g"/><circle cx="426.9" cy="176.1" class="c"/><circle cx="489.9" cy="392.8" class="Y"/><circle cx="427.8" cy="244.7" class="r"/><circle cx="510.8" cy="405.6" class="ab"/><circle cx="426.2" cy="187.9" class="e"/><circle cx="426.9" cy="175.8" class="c"/><circle cx="621.2" cy="266.5" class="w"/><circle cx="425.2" cy="206.1" class="i"/><circle cx="624.8" cy="249.5" class="s"/><circle cx="618.2" cy="281.9" class="z"/><circle cx="426.8" cy="175.4" class="c"/><circle cx="426.0" cy="187.6" class="e"/><circle cx="426.3" cy="186.6" class="e"/><circle cx="449.7" cy="330.7" class="K"/><circle cx="426.9" cy="175.0" class="b"/><circle cx="602.8" cy="327.7" class="J"/><circle cx="425.9" cy="213.1" class="k"/><circle cx="574.8" cy="381.2" class="V"/><circle cx="433.9" cy="282.3" class="z"/><circle cx="429.2" cy="257.2" class="u"/><circle cx="426.7" cy="233.4" class="o"/><circle cx="609.6" cy="310.2" class="G"/><circle cx="597.6" cy="340.7" class="M"/><circle cx="426.2" cy="182.1" class="d"/><circle cx="426.1" cy="222.5" class="m"/><circle cx="425.7" cy="204.1" class="i"/><circle cx="431.2" cy="269.6" class="w"/><circle cx="535.6" cy="406.6" class="ab"/><circle cx="426.2" cy="186.5" class="e"/><circle cx="480.4" cy="380.9" class="V"/><circle cx="426.7" cy="175.1" class="b"/><circle cx="454.7" cy="340.8" class="M"/><circle cx="427.0" cy="173.9" class="b"/><circle cx="425.3" cy="195.0" class="g"/><circle cx="426.7" cy="174.6" class="b"/><circle cx="612.2" cy="301.3" class="D"/><circle cx="426.0" cy="181.3" class="d"/><circle cx="440.3" cy="306.2" class="F"/><circle cx="590.9" cy="354.2" class="P"/><circle cx="426.0" cy="186.1" class="e"/><circle cx="475.4" cy="373.3" class="T"/><circle cx="624.8" cy="247.3" class="r"/><circle cx="427.8" cy="242.4" class="q"/><circle cx="425.9" cy="211.6" class="j"/><circle cx="426.1" cy="185.5" class="e"/><circle cx="468.1" cy="361.9" class="R"/><circle cx="462.1" cy="353.3" class="P"/><circle cx="621.3" cy="264.4" class="v"/><circle cx="426.4" cy="179.6" class="c"/><circle cx="425.2" cy="203.5" class="i"/><circle cx="618.6" cy="279.8" class="z"/><circle cx="425.9" cy="180.6" class="c"/><circle cx="560.3" cy="393.2" class="Y"/><circle cx="426.0" cy="185.2" class="e"/><circle cx="426.6" cy="231.3" class="o"/><circle cx="425.9" cy="221.6" class="m"/><circle cx="436.2" cy="291.7" class="B"/><circle cx="551.3" cy="397.1" class="Z"/><circle cx="426.1" cy="209.7" class="j"/><circle cx="426.0" cy="184.8" class="d"/><circle cx="425.5" cy="201.6" class="h"/><circle cx="425.8" cy="184.3" class="d"/><circle cx="425.7" cy="179.3" class="c"/><circle cx="429.2" cy="255.0" class="t"/><circle cx="542.7" cy="403.1" class="aa"/><circle cx="444.5" cy="316.5" class="H"/><circle cx="612.5" cy="298.9" class="D"/><circle cx="426.2" cy="178.7" class="c"/><circle cx="426.0" cy="183.8" class="d"/><circle cx="426.0" cy="183.0" class="d"/><circle cx="431.0" cy="266.7" class="w"/><circle cx="586.7" cy="362.7" class="R"/><circle cx="433.7" cy="279.4" class="y"/><circle cx="426.2" cy="218.9" class="l"/><circle cx="571.6" cy="381.4" class="V"/><circle cx="427.8" cy="240.3" class="q"/><circle cx="426.1" cy="178.3" class="c"/><circle cx="498.4" cy="395.9" class="Y"/><circle cx="624.4" cy="245.2" class="r"/><circle cx="621.3" cy="262.1" class="v"/><circle cx="426.0" cy="177.9" class="c"/><circle cx="425.0" cy="200.9" class="h"/><circle cx="426.8" cy="229.5" class="n"/><circle cx="425.9" cy="182.9" class="d"/><circle cx="618.9" cy="277.7" class="y"/><circle cx="425.7" cy="209.5" class="j"/><circle cx="426.0" cy="177.5" class="c"/><circle cx="602.9" cy="322.8" class="I"/><circle cx="426.0" cy="182.4" class="d"/><circle cx="426.2" cy="181.6" class="d"/><circle cx="426.0" cy="177.1" class="c"/><circle cx="514.5" cy="401.5" class="Z"/><circle cx="449.6" cy="326.5" class="J"/><circle cx="610.1" cy="306.2" class="E"/><circle cx="426.1" cy="176.6" class="b"/><circle cx="425.3" cy="199.5" class="g"/><circle cx="426.0" cy="181.3" class="c"/><circle cx="440.3" cy="302.3" class="D"/><circle cx="624.8" cy="243.1" class="q"/><circle cx="597.8" cy="335.9" class="L"/><circle cx="426.3" cy="217.7" class="l"/><circle cx="426.2" cy="180.7" class="c"/><circle cx="426.1" cy="207.5" class="i"/><circle cx="489.9" cy="385.9" class="W"/><circle cx="427.8" cy="237.8" class="p"/><circle cx="526.8" cy="402.2" class="aa"/><circle cx="428.9" cy="253.0" class="s"/><circle cx="612.6" cy="296.4" class="C"/><circle cx="426.9" cy="227.0" class="n"/><circle cx="426.2" cy="180.3" class="c"/><circle cx="574.8" cy="374.9" class="T"/><circle cx="425.3" cy="198.2" class="g"/><circle cx="511.3" cy="399.2" class="Z"/><circle cx="454.7" cy="335.6" class="L"/><circle cx="621.6" cy="260.1" class="u"/><circle cx="431.0" cy="262.8" class="u"/><circle cx="426.1" cy="179.9" class="c"/><circle cx="436.3" cy="288.1" class="A"/><circle cx="590.8" cy="348.5" class="O"/><circle cx="618.7" cy="275.3" class="x"/><circle cx="433.8" cy="275.8" class="x"/><circle cx="426.1" cy="179.7" class="c"/><circle cx="425.9" cy="216.6" class="k"/><circle cx="425.3" cy="197.3" class="g"/><circle cx="462.2" cy="348.3" class="N"/><circle cx="480.6" cy="375.3" class="T"/><circle cx="609.7" cy="303.2" class="D"/><circle cx="425.8" cy="186.8" class="e"/><circle cx="535.5" cy="399.0" class="Z"/><circle cx="475.3" cy="366.7" class="S"/><circle cx="624.8" cy="241.1" class="q"/><circle cx="444.5" cy="311.7" class="F"/><circle cx="468.1" cy="356.8" class="P"/><circle cx="426.1" cy="179.4" class="c"/><circle cx="426.7" cy="225.4" class="m"/><circle cx="426.3" cy="178.7" class="c"/></g><g fill-opacity="0.78" stroke-opacity="0.78"><circle cx="481.1" cy="181.9" class="c"/><circle cx="427.9" cy="235.8" class="o"/><circle cx="426.0" cy="178.3" class="c"/><circle cx="612.9" cy="294.0" class="B"/><circle cx="425.6" cy="195.5" class="f"/><circle cx="426.0" cy="204.9" class="h"/><circle cx="429.0" cy="249.9" class="r"/><circle cx="621.3" cy="257.8" class="t"/><circle cx="480.6" cy="180.5" class="c"/><circle cx="425.2" cy="187.0" class="d"/><circle cx="478.5" cy="180.8" class="c"/><circle cx="560.6" cy="387.2" class="W"/><circle cx="426.1" cy="214.7" class="k"/><circle cx="425.3" cy="186.4" class="d"/><circle cx="425.5" cy="195.2" class="f"/><circle cx="619.3" cy="273.3" class="x"/><circle cx="425.5" cy="185.6" class="d"/><circle cx="431.1" cy="260.1" class="u"/><circle cx="426.1" cy="203.5" class="h"/><circle cx="425.7" cy="184.9" class="d"/><circle cx="425.5" cy="194.4" class="f"/><circle cx="586.3" cy="356.8" class="P"/><circle cx="440.4" cy="298.4" class="C"/><circle cx="603.8" cy="318.9" class="H"/><circle cx="551.6" cy="391.3" class="X"/><circle cx="449.4" cy="320.9" class="H"/><circle cx="571.9" cy="375.3" class="T"/><circle cx="426.6" cy="223.9" class="m"/><circle cx="610.5" cy="301.2" class="D"/><circle cx="426.2" cy="213.0" class="j"/><circle cx="436.5" cy="284.4" class="z"/><circle cx="428.2" cy="233.4" class="o"/><circle cx="542.8" cy="396.6" class="Y"/><circle cx="425.2" cy="194.2" class="f"/><circle cx="598.1" cy="330.9" class="J"/><circle cx="425.4" cy="184.9" class="d"/><circle cx="433.7" cy="273.1" class="w"/><circle cx="429.0" cy="247.1" class="r"/><circle cx="622.1" cy="256.0" class="t"/><circle cx="425.3" cy="184.3" class="d"/><circle cx="482.3" cy="182.1" class="c"/><circle cx="498.5" cy="389.2" class="W"/><circle cx="425.8" cy="202.8" class="h"/><circle cx="612.9" cy="291.7" class="B"/><circle cx="425.3" cy="193.6" class="f"/><circle cx="618.3" cy="270.3" class="w"/><circle cx="425.2" cy="184.0" class="d"/><circle cx="454.8" cy="331.0" class="J"/><circle cx="426.2" cy="211.5" class="j"/><circle cx="425.2" cy="193.1" class="f"/><circle cx="425.3" cy="183.4" class="c"/><circle cx="426.5" cy="222.6" class="l"/><circle cx="425.4" cy="182.8" class="c"/><circle cx="514.7" cy="395.1" class="X"/><circle cx="444.4" cy="307.4" class="E"/><circle cx="425.3" cy="192.5" class="e"/><circle cx="431.2" cy="257.6" class="t"/><circle cx="590.9" cy="343.5" class="M"/><circle cx="427.6" cy="232.2" class="n"/><circle cx="575.4" cy="370.0" class="S"/><circle cx="425.3" cy="182.5" class="c"/><circle cx="490.0" cy="380.3" class="U"/><circle cx="610.8" cy="298.9" class="C"/><circle cx="462.2" cy="342.0" class="M"/><circle cx="621.6" cy="253.6" class="s"/><circle cx="425.1" cy="192.1" class="e"/><circle cx="425.3" cy="182.0" class="c"/><circle cx="527.0" cy="395.8" class="Y"/><circle cx="426.8" cy="220.3" class="l"/><circle cx="426.0" cy="210.6" class="i"/><circle cx="618.7" cy="268.2" class="v"/><circle cx="429.1" cy="245.2" class="q"/><circle cx="511.2" cy="392.3" class="X"/><circle cx="467.8" cy="349.9" class="N"/><circle cx="425.2" cy="191.4" class="e"/><circle cx="425.6" cy="181.4" class="c"/><circle cx="425.9" cy="200.2" class="g"/><circle cx="613.1" cy="289.4" class="A"/><circle cx="440.3" cy="294.5" class="B"/><circle cx="433.9" cy="269.6" class="v"/><circle cx="436.3" cy="280.9" class="y"/><circle cx="475.4" cy="361.4" class="Q"/><circle cx="480.5" cy="369.1" class="S"/><circle cx="425.7" cy="199.4" class="g"/><circle cx="425.4" cy="190.8" class="e"/><circle cx="425.2" cy="190.1" class="e"/><circle cx="603.4" cy="313.9" class="F"/><circle cx="449.6" cy="316.5" class="G"/><circle cx="426.3" cy="208.9" class="i"/><circle cx="535.8" cy="393.0" class="X"/><circle cx="427.9" cy="230.6" class="n"/><circle cx="425.4" cy="189.5" class="e"/><circle cx="482.5" cy="181.7" class="c"/><circle cx="587.0" cy="351.6" class="O"/><circle cx="426.7" cy="218.8" class="k"/><circle cx="430.8" cy="255.1" class="s"/><circle cx="560.7" cy="381.0" class="U"/><circle cx="621.5" cy="251.5" class="r"/><circle cx="425.9" cy="198.1" class="f"/><circle cx="610.9" cy="296.5" class="B"/><circle cx="428.9" cy="242.7" class="p"/><circle cx="598.4" cy="326.3" class="I"/><circle cx="425.2" cy="189.3" class="e"/><circle cx="425.9" cy="207.8" class="i"/><circle cx="619.2" cy="266.4" class="v"/><circle cx="572.2" cy="369.8" class="S"/><circle cx="613.1" cy="287.0" class="z"/><circle cx="425.3" cy="188.6" class="d"/><circle cx="427.7" cy="228.1" class="m"/><circle cx="425.7" cy="197.6" class="f"/><circle cx="551.8" cy="384.9" class="V"/><circle cx="444.5" cy="303.2" class="D"/><circle cx="454.7" cy="326.4" class="I"/><circle cx="433.6" cy="266.9" class="v"/><circle cx="426.5" cy="217.7" class="k"/><circle cx="425.1" cy="188.3" class="d"/><circle cx="542.8" cy="389.8" class="W"/><circle cx="621.9" cy="249.4" class="r"/><circle cx="431.1" cy="251.6" class="r"/><circle cx="436.1" cy="278.0" class="x"/><circle cx="591.4" cy="338.5" class="L"/><circle cx="425.1" cy="187.8" class="d"/><circle cx="425.8" cy="206.8" class="h"/><circle cx="440.3" cy="290.8" class="A"/><circle cx="429.0" cy="240.0" class="p"/><circle cx="425.9" cy="196.5" class="f"/><circle cx="498.7" cy="383.1" class="U"/><circle cx="425.9" cy="195.5" class="f"/><circle cx="610.3" cy="293.5" class="A"/><circle cx="425.2" cy="187.3" class="d"/><circle cx="426.8" cy="215.6" class="j"/><circle cx="427.7" cy="226.4" class="m"/><circle cx="618.9" cy="263.9" class="u"/><circle cx="575.1" cy="363.4" class="Q"/><circle cx="613.4" cy="284.6" class="y"/><circle cx="462.1" cy="336.9" class="K"/><circle cx="426.0" cy="206.0" class="h"/><circle cx="425.0" cy="186.8" class="d"/><circle cx="514.6" cy="387.9" class="V"/><circle cx="425.5" cy="186.1" class="d"/><circle cx="425.8" cy="194.2" class="e"/><circle cx="426.0" cy="205.2" class="h"/><circle cx="603.8" cy="309.6" class="E"/><circle cx="449.6" cy="312.5" class="F"/><circle cx="468.0" cy="345.7" class="M"/><circle cx="426.9" cy="213.7" class="j"/><circle cx="490.4" cy="374.5" class="S"/><circle cx="425.4" cy="185.6" class="c"/><circle cx="622.3" cy="247.5" class="q"/><circle cx="425.4" cy="185.0" class="c"/><circle cx="426.2" cy="192.6" class="e"/><circle cx="425.8" cy="204.5" class="h"/><circle cx="426.0" cy="193.8" class="e"/><circle cx="433.8" cy="264.0" class="u"/><circle cx="527.0" cy="389.0" class="W"/><circle cx="428.9" cy="238.2" class="o"/><circle cx="475.5" cy="356.2" class="O"/><circle cx="430.9" cy="249.7" class="r"/><circle cx="427.6" cy="224.9" class="l"/><circle cx="511.3" cy="385.7" class="V"/><circle cx="610.7" cy="291.3" class="A"/><circle cx="480.6" cy="364.0" class="Q"/><circle cx="598.2" cy="321.3" class="G"/><circle cx="436.3" cy="274.5" class="w"/><circle cx="586.7" cy="346.1" class="M"/><circle cx="426.2" cy="203.8" class="g"/><circle cx="619.3" cy="262.1" class="t"/><circle cx="444.6" cy="299.8" class="C"/><circle cx="425.9" cy="192.5" class="e"/><circle cx="426.3" cy="202.6" class="g"/><circle cx="613.4" cy="282.3" class="y"/><circle cx="426.6" cy="212.8" class="i"/><circle cx="622.4" cy="245.3" class="q"/><circle cx="426.0" cy="191.8" class="e"/><circle cx="535.9" cy="386.8" class="V"/><circle cx="440.1" cy="287.9" class="z"/><circle cx="426.1" cy="202.1" class="g"/><circle cx="427.6" cy="223.1" class="l"/><circle cx="455.0" cy="322.8" class="H"/><circle cx="561.2" cy="375.7" class="S"/><circle cx="426.0" cy="191.3" class="e"/><circle cx="604.0" cy="307.3" class="D"/><circle cx="572.6" cy="364.4" class="Q"/><circle cx="429.0" cy="236.6" class="o"/><circle cx="426.8" cy="211.1" class="i"/><circle cx="433.9" cy="260.8" class="t"/><circle cx="431.1" cy="247.4" class="q"/><circle cx="425.8" cy="190.9" class="d"/><circle cx="426.0" cy="201.7" class="g"/><circle cx="591.6" cy="333.8" class="J"/><circle cx="619.4" cy="259.8" class="t"/><circle cx="611.2" cy="289.3" class="z"/><circle cx="552.0" cy="379.2" class="T"/><circle cx="613.5" cy="280.0" class="x"/><circle cx="449.6" cy="307.6" class="D"/><circle cx="425.8" cy="201.1" class="g"/><circle cx="426.6" cy="210.7" class="i"/><circle cx="425.4" cy="190.7" class="d"/><circle cx="462.3" cy="332.7" class="J"/><circle cx="427.5" cy="221.8" class="k"/><circle cx="543.0" cy="383.7" class="U"/><circle cx="436.2" cy="271.5" class="v"/><circle cx="426.0" cy="200.3" class="f"/><circle cx="425.8" cy="190.0" class="d"/><circle cx="426.7" cy="209.7" class="h"/><circle cx="429.0" cy="234.4" class="n"/><circle cx="575.4" cy="358.4" class="O"/><circle cx="498.6" cy="376.9" class="S"/><circle cx="604.0" cy="304.6" class="C"/><circle cx="468.1" cy="340.1" class="K"/><circle cx="425.7" cy="189.5" class="d"/><circle cx="444.3" cy="296.0" class="B"/><circle cx="440.3" cy="283.8" class="y"/><circle cx="430.9" cy="245.0" class="p"/><circle cx="425.8" cy="188.7" class="d"/><circle cx="425.9" cy="199.9" class="f"/><circle cx="427.8" cy="219.9" class="k"/><circle cx="426.5" cy="209.2" class="h"/><circle cx="425.9" cy="199.0" class="f"/><circle cx="619.6" cy="257.9" class="s"/><circle cx="425.8" cy="188.2" class="d"/><circle cx="598.5" cy="316.9" class="F"/><circle cx="433.5" cy="258.9" class="s"/><circle cx="514.7" cy="381.9" class="T"/><circle cx="611.2" cy="286.9" class="y"/><circle cx="613.3" cy="277.6" class="w"/><circle cx="490.1" cy="368.4" class="R"/><circle cx="475.6" cy="351.1" class="N"/><circle cx="426.7" cy="208.2" class="h"/><circle cx="425.8" cy="198.3" class="f"/><circle cx="587.0" cy="341.1" class="K"/></g><g fill-opacity="0.81" stroke-opacity="0.81"><circle cx="454.8" cy="317.0" class="F"/><circle cx="426.9" cy="207.0" class="h"/><circle cx="480.6" cy="357.9" class="O"/><circle cx="428.9" cy="232.7" class="m"/><circle cx="427.6" cy="218.0" class="j"/><circle cx="425.9" cy="197.6" class="f"/><circle cx="436.0" cy="268.8" class="u"/><circle cx="527.0" cy="383.3" class="U"/><circle cx="511.4" cy="379.8" class="T"/><circle cx="426.1" cy="196.9" class="e"/><circle cx="619.8" cy="255.6" class="r"/><circle cx="430.9" cy="243.2" class="p"/><circle cx="604.0" cy="302.2" class="C"/><circle cx="426.4" cy="207.0" class="h"/><circle cx="610.7" cy="284.1" class="y"/><circle cx="591.7" cy="329.0" class="I"/><circle cx="426.1" cy="196.3" class="e"/><circle cx="560.9" cy="369.2" class="R"/><circle cx="449.6" cy="304.6" class="C"/><circle cx="536.0" cy="380.5" class="T"/><circle cx="572.7" cy="359.0" class="O"/><circle cx="433.9" cy="255.8" class="r"/><circle cx="614.0" cy="275.7" class="w"/><circle cx="427.7" cy="216.6" class="j"/><circle cx="426.5" cy="206.1" class="g"/><circle cx="429.2" cy="230.7" class="m"/><circle cx="440.2" cy="281.0" class="x"/><circle cx="462.0" cy="327.3" class="H"/><circle cx="444.5" cy="292.5" class="z"/><circle cx="425.9" cy="196.0" class="e"/><circle cx="426.7" cy="205.4" class="g"/><circle cx="427.7" cy="215.9" class="j"/><circle cx="552.0" cy="373.4" class="R"/><circle cx="426.0" cy="195.3" class="e"/><circle cx="619.8" cy="253.5" class="r"/><circle cx="430.7" cy="241.2" class="o"/><circle cx="426.0" cy="194.4" class="e"/><circle cx="436.2" cy="265.9" class="u"/><circle cx="575.6" cy="353.0" class="N"/><circle cx="604.1" cy="299.7" class="B"/><circle cx="468.3" cy="335.7" class="J"/><circle cx="426.7" cy="204.8" class="g"/><circle cx="598.5" cy="312.3" class="E"/><circle cx="543.3" cy="378.0" class="S"/><circle cx="611.2" cy="282.1" class="x"/><circle cx="428.9" cy="228.9" class="l"/><circle cx="427.5" cy="215.2" class="i"/><circle cx="425.9" cy="193.8" class="e"/><circle cx="613.9" cy="273.4" class="v"/><circle cx="433.7" cy="253.2" class="r"/><circle cx="454.8" cy="313.5" class="E"/><circle cx="498.8" cy="371.5" class="R"/><circle cx="427.2" cy="214.3" class="i"/><circle cx="426.6" cy="204.3" class="g"/><circle cx="425.8" cy="193.4" class="d"/><circle cx="426.6" cy="203.2" class="g"/><circle cx="440.5" cy="277.0" class="w"/><circle cx="426.1" cy="192.5" class="d"/><circle cx="587.3" cy="336.6" class="J"/><circle cx="475.5" cy="346.2" class="L"/><circle cx="490.3" cy="362.9" class="P"/><circle cx="429.1" cy="226.7" class="l"/><circle cx="449.6" cy="300.4" class="B"/><circle cx="427.4" cy="213.5" class="i"/><circle cx="480.7" cy="352.9" class="N"/><circle cx="430.9" cy="239.4" class="o"/><circle cx="515.0" cy="376.4" class="S"/><circle cx="619.9" cy="251.7" class="q"/><circle cx="444.4" cy="289.0" class="y"/><circle cx="436.3" cy="262.4" class="t"/><circle cx="604.2" cy="297.2" class="A"/><circle cx="426.4" cy="202.8" class="f"/><circle cx="426.8" cy="201.5" class="f"/><circle cx="425.8" cy="192.2" class="d"/><circle cx="427.6" cy="212.5" class="i"/><circle cx="611.3" cy="279.8" class="w"/><circle cx="614.3" cy="271.4" class="v"/><circle cx="592.1" cy="324.7" class="G"/><circle cx="527.1" cy="377.0" class="S"/><circle cx="599.3" cy="310.5" class="D"/><circle cx="511.4" cy="373.8" class="R"/><circle cx="433.6" cy="251.4" class="q"/><circle cx="427.7" cy="211.5" class="h"/><circle cx="426.6" cy="201.1" class="f"/><circle cx="561.0" cy="363.5" class="P"/><circle cx="462.3" cy="324.3" class="G"/><circle cx="430.8" cy="236.9" class="n"/><circle cx="572.7" cy="353.7" class="N"/><circle cx="429.0" cy="225.4" class="k"/><circle cx="620.0" cy="249.4" class="q"/><circle cx="427.6" cy="210.7" class="h"/><circle cx="426.6" cy="200.4" class="f"/><circle cx="536.1" cy="374.7" class="R"/><circle cx="468.2" cy="330.9" class="I"/><circle cx="454.9" cy="309.1" class="D"/><circle cx="426.4" cy="199.9" class="f"/><circle cx="611.6" cy="277.7" class="w"/><circle cx="604.1" cy="294.8" class="A"/><circle cx="440.2" cy="274.9" class="v"/><circle cx="614.1" cy="269.1" class="u"/><circle cx="552.4" cy="368.1" class="Q"/><circle cx="427.4" cy="210.3" class="h"/><circle cx="436.1" cy="260.7" class="s"/><circle cx="576.2" cy="348.5" class="L"/><circle cx="599.1" cy="307.7" class="C"/><circle cx="434.0" cy="248.7" class="p"/><circle cx="430.9" cy="234.8" class="m"/><circle cx="449.7" cy="296.8" class="A"/><circle cx="428.9" cy="224.0" class="k"/><circle cx="444.4" cy="286.1" class="y"/><circle cx="427.7" cy="209.3" class="h"/><circle cx="426.3" cy="199.6" class="e"/><circle cx="543.7" cy="372.5" class="R"/><circle cx="475.5" cy="340.3" class="K"/><circle cx="426.5" cy="198.6" class="e"/><circle cx="587.9" cy="332.3" class="I"/><circle cx="428.9" cy="222.9" class="k"/><circle cx="427.8" cy="208.5" class="g"/><circle cx="498.9" cy="365.9" class="P"/><circle cx="426.4" cy="197.9" class="e"/><circle cx="426.6" cy="196.9" class="e"/><circle cx="480.7" cy="347.4" class="L"/><circle cx="429.0" cy="221.8" class="j"/><circle cx="614.0" cy="266.8" class="t"/><circle cx="604.8" cy="292.9" class="z"/><circle cx="490.2" cy="357.5" class="N"/><circle cx="611.5" cy="275.5" class="v"/><circle cx="427.7" cy="207.8" class="g"/><circle cx="591.8" cy="319.8" class="F"/><circle cx="430.8" cy="233.1" class="m"/><circle cx="436.2" cy="257.7" class="r"/><circle cx="440.3" cy="271.8" class="u"/><circle cx="433.6" cy="246.8" class="p"/><circle cx="462.4" cy="319.8" class="F"/><circle cx="514.9" cy="370.4" class="Q"/><circle cx="426.8" cy="196.5" class="e"/><circle cx="599.3" cy="305.4" class="C"/><circle cx="427.5" cy="207.1" class="g"/><circle cx="429.2" cy="220.9" class="j"/><circle cx="426.6" cy="195.8" class="d"/><circle cx="427.4" cy="206.3" class="g"/><circle cx="449.6" cy="293.0" class="z"/><circle cx="573.0" cy="348.8" class="L"/><circle cx="444.4" cy="282.9" class="x"/><circle cx="454.9" cy="306.1" class="C"/><circle cx="511.6" cy="368.6" class="Q"/><circle cx="429.1" cy="219.9" class="j"/><circle cx="527.2" cy="371.8" class="Q"/><circle cx="561.2" cy="358.7" class="N"/><circle cx="611.8" cy="273.3" class="u"/><circle cx="613.9" cy="264.6" class="t"/><circle cx="468.3" cy="326.9" class="G"/><circle cx="604.5" cy="290.3" class="y"/><circle cx="430.7" cy="231.6" class="l"/><circle cx="427.4" cy="205.7" class="g"/><circle cx="433.5" cy="244.5" class="o"/><circle cx="536.7" cy="369.8" class="Q"/><circle cx="436.1" cy="255.3" class="q"/><circle cx="428.9" cy="219.4" class="j"/><circle cx="440.3" cy="268.8" class="t"/><circle cx="427.6" cy="204.9" class="f"/><circle cx="576.1" cy="343.3" class="K"/><circle cx="599.6" cy="303.2" class="B"/><circle cx="552.6" cy="362.9" class="O"/><circle cx="427.5" cy="204.0" class="f"/><circle cx="588.0" cy="327.6" class="G"/><circle cx="475.6" cy="336.1" class="I"/><circle cx="428.8" cy="218.5" class="i"/><circle cx="431.0" cy="229.6" class="l"/><circle cx="614.4" cy="262.7" class="s"/><circle cx="592.3" cy="315.4" class="E"/><circle cx="444.4" cy="278.9" class="w"/><circle cx="604.8" cy="288.1" class="y"/><circle cx="611.8" cy="271.2" class="u"/><circle cx="433.8" cy="242.3" class="n"/><circle cx="462.2" cy="315.4" class="E"/><circle cx="428.8" cy="217.6" class="i"/><circle cx="543.5" cy="367.0" class="P"/><circle cx="499.1" cy="360.5" class="O"/><circle cx="427.4" cy="203.8" class="f"/><circle cx="480.7" cy="342.9" class="K"/><circle cx="431.0" cy="228.7" class="k"/><circle cx="428.9" cy="216.4" class="i"/><circle cx="490.3" cy="352.3" class="M"/><circle cx="427.7" cy="202.8" class="f"/><circle cx="427.7" cy="201.6" class="e"/><circle cx="455.0" cy="302.0" class="B"/><circle cx="449.7" cy="290.5" class="y"/><circle cx="435.9" cy="253.4" class="q"/><circle cx="599.6" cy="300.6" class="A"/><circle cx="430.7" cy="227.7" class="k"/><circle cx="427.8" cy="201.0" class="e"/></g><g fill-opacity="0.83" stroke-opacity="0.83"><circle cx="428.9" cy="215.7" class="h"/><circle cx="440.0" cy="267.0" class="t"/><circle cx="611.9" cy="268.9" class="t"/><circle cx="614.0" cy="260.4" class="r"/><circle cx="515.4" cy="366.0" class="P"/><circle cx="468.4" cy="322.7" class="F"/><circle cx="573.2" cy="344.0" class="K"/><circle cx="433.9" cy="240.4" class="n"/><circle cx="604.9" cy="285.9" class="x"/><circle cx="429.0" cy="214.7" class="h"/><circle cx="527.4" cy="365.9" class="O"/><circle cx="592.5" cy="313.2" class="D"/><circle cx="561.7" cy="353.7" class="M"/><circle cx="430.7" cy="226.8" class="k"/><circle cx="427.5" cy="200.6" class="e"/><circle cx="511.8" cy="363.4" class="O"/><circle cx="436.3" cy="250.7" class="p"/><circle cx="444.5" cy="276.4" class="v"/><circle cx="427.4" cy="199.9" class="e"/><circle cx="429.0" cy="213.9" class="h"/><circle cx="576.4" cy="338.6" class="I"/><circle cx="430.8" cy="225.7" class="k"/><circle cx="599.6" cy="298.2" class="A"/><circle cx="536.6" cy="364.2" class="O"/><circle cx="440.2" cy="263.2" class="s"/><circle cx="475.7" cy="331.4" class="H"/><circle cx="614.7" cy="258.5" class="r"/><circle cx="462.4" cy="311.1" class="C"/><circle cx="587.9" cy="322.9" class="F"/><circle cx="449.5" cy="287.2" class="x"/><circle cx="612.2" cy="266.9" class="t"/><circle cx="455.0" cy="298.1" class="z"/><circle cx="552.5" cy="357.3" class="M"/><circle cx="604.4" cy="283.1" class="w"/><circle cx="433.7" cy="238.5" class="m"/><circle cx="430.8" cy="224.7" class="j"/><circle cx="428.6" cy="213.6" class="h"/><circle cx="428.8" cy="212.5" class="h"/><circle cx="480.8" cy="338.4" class="I"/><circle cx="430.8" cy="223.7" class="j"/><circle cx="592.3" cy="310.6" class="C"/><circle cx="544.0" cy="361.9" class="N"/><circle cx="436.2" cy="248.9" class="p"/><circle cx="490.5" cy="347.2" class="K"/><circle cx="499.2" cy="355.7" class="M"/><circle cx="433.9" cy="236.1" class="m"/><circle cx="430.8" cy="222.5" class="j"/><circle cx="599.6" cy="295.9" class="z"/><circle cx="444.5" cy="273.6" class="u"/><circle cx="428.8" cy="211.8" class="g"/><circle cx="614.5" cy="256.4" class="q"/><circle cx="468.4" cy="318.8" class="E"/><circle cx="612.2" cy="264.8" class="s"/><circle cx="604.5" cy="280.9" class="v"/><circle cx="440.1" cy="261.5" class="r"/><circle cx="429.0" cy="210.9" class="g"/><circle cx="430.8" cy="221.6" class="i"/><circle cx="573.4" cy="339.0" class="I"/><circle cx="515.4" cy="360.2" class="N"/><circle cx="449.4" cy="283.8" class="w"/><circle cx="428.9" cy="209.8" class="g"/><circle cx="433.7" cy="235.5" class="l"/><circle cx="592.4" cy="308.0" class="B"/><circle cx="561.6" cy="348.5" class="K"/><circle cx="436.1" cy="246.9" class="o"/><circle cx="433.8" cy="233.8" class="l"/><circle cx="430.9" cy="220.7" class="i"/><circle cx="614.3" cy="254.1" class="p"/><circle cx="527.9" cy="361.1" class="N"/><circle cx="462.3" cy="307.8" class="B"/><circle cx="454.8" cy="295.4" class="z"/><circle cx="576.1" cy="333.5" class="H"/><circle cx="511.9" cy="358.5" class="M"/><circle cx="612.0" cy="262.5" class="r"/><circle cx="599.7" cy="293.5" class="y"/><circle cx="428.9" cy="209.3" class="g"/><circle cx="475.9" cy="327.6" class="G"/><circle cx="588.2" cy="318.5" class="E"/><circle cx="430.8" cy="219.6" class="i"/><circle cx="429.0" cy="208.2" class="f"/><circle cx="444.5" cy="270.9" class="t"/><circle cx="536.9" cy="359.1" class="N"/><circle cx="433.6" cy="232.8" class="l"/><circle cx="605.1" cy="279.2" class="v"/><circle cx="440.1" cy="259.0" class="q"/><circle cx="430.9" cy="218.7" class="i"/><circle cx="428.9" cy="207.5" class="f"/><circle cx="436.3" cy="244.5" class="n"/><circle cx="480.9" cy="333.9" class="H"/><circle cx="553.1" cy="353.3" class="L"/><circle cx="468.4" cy="314.2" class="D"/><circle cx="592.7" cy="305.9" class="B"/><circle cx="449.5" cy="280.6" class="v"/><circle cx="428.9" cy="206.7" class="f"/><circle cx="433.7" cy="232.1" class="k"/><circle cx="490.5" cy="342.6" class="J"/><circle cx="599.7" cy="291.2" class="x"/><circle cx="612.2" cy="260.5" class="r"/><circle cx="499.1" cy="350.4" class="K"/><circle cx="430.6" cy="218.1" class="h"/><circle cx="544.2" cy="356.8" class="M"/><circle cx="588.4" cy="316.0" class="D"/><circle cx="605.1" cy="276.8" class="u"/><circle cx="454.9" cy="291.5" class="x"/><circle cx="428.9" cy="206.1" class="f"/><circle cx="433.5" cy="231.0" class="k"/><circle cx="436.4" cy="241.9" class="n"/><circle cx="462.4" cy="303.7" class="A"/><circle cx="444.3" cy="268.4" class="s"/><circle cx="573.5" cy="334.4" class="H"/><circle cx="440.1" cy="256.9" class="q"/><circle cx="428.8" cy="205.4" class="e"/><circle cx="430.6" cy="217.8" class="h"/><circle cx="515.3" cy="355.1" class="L"/><circle cx="592.8" cy="303.4" class="A"/><circle cx="600.0" cy="288.8" class="x"/><circle cx="433.5" cy="230.1" class="k"/><circle cx="430.8" cy="216.5" class="h"/><circle cx="612.7" cy="258.7" class="q"/><circle cx="475.7" cy="323.7" class="E"/><circle cx="562.3" cy="344.4" class="J"/><circle cx="576.4" cy="329.1" class="G"/><circle cx="449.7" cy="277.4" class="u"/><circle cx="433.8" cy="228.5" class="k"/><circle cx="436.3" cy="241.3" class="m"/><circle cx="527.9" cy="355.8" class="L"/><circle cx="512.1" cy="353.3" class="L"/><circle cx="605.3" cy="274.8" class="u"/><circle cx="588.5" cy="313.6" class="C"/><circle cx="436.3" cy="239.3" class="m"/><circle cx="430.7" cy="214.3" class="g"/><circle cx="430.6" cy="215.9" class="h"/><circle cx="468.2" cy="310.6" class="B"/><circle cx="440.3" cy="254.1" class="p"/><circle cx="481.0" cy="329.4" class="G"/><circle cx="536.9" cy="354.1" class="L"/><circle cx="454.8" cy="288.3" class="x"/><circle cx="433.7" cy="228.0" class="j"/><circle cx="444.5" cy="266.0" class="s"/><circle cx="553.4" cy="348.4" class="K"/><circle cx="592.7" cy="300.9" class="z"/><circle cx="612.5" cy="256.5" class="q"/><circle cx="490.3" cy="337.4" class="H"/><circle cx="430.9" cy="213.8" class="g"/><circle cx="600.2" cy="286.9" class="w"/><circle cx="433.7" cy="226.8" class="j"/><circle cx="436.4" cy="239.0" class="m"/><circle cx="499.1" cy="345.3" class="J"/><circle cx="462.5" cy="300.8" class="z"/><circle cx="544.5" cy="351.9" class="K"/><circle cx="436.2" cy="237.2" class="l"/><circle cx="605.3" cy="272.7" class="t"/><circle cx="449.7" cy="274.6" class="t"/><circle cx="430.8" cy="213.0" class="g"/><circle cx="440.2" cy="251.7" class="o"/><circle cx="588.4" cy="311.3" class="B"/><circle cx="573.7" cy="329.8" class="G"/><circle cx="433.6" cy="225.8" class="j"/><circle cx="444.4" cy="262.6" class="r"/><circle cx="430.7" cy="212.2" class="g"/><circle cx="475.5" cy="319.2" class="D"/><circle cx="599.9" cy="284.3" class="v"/><circle cx="593.0" cy="298.7" class="z"/><circle cx="515.3" cy="350.0" class="K"/><circle cx="576.8" cy="324.8" class="E"/><circle cx="455.0" cy="285.0" class="w"/><circle cx="562.0" cy="339.1" class="H"/><circle cx="436.2" cy="236.8" class="l"/><circle cx="433.7" cy="225.2" class="i"/><circle cx="605.7" cy="270.7" class="s"/><circle cx="430.7" cy="211.5" class="f"/><circle cx="430.7" cy="210.3" class="f"/><circle cx="468.1" cy="307.3" class="A"/><circle cx="440.3" cy="249.3" class="o"/><circle cx="512.2" cy="348.8" class="K"/><circle cx="433.5" cy="224.1" class="i"/><circle cx="528.0" cy="351.4" class="K"/><circle cx="588.5" cy="308.8" class="B"/><circle cx="436.2" cy="235.5" class="l"/></g><g fill-opacity="0.86" stroke-opacity="0.86"><circle cx="431.0" cy="209.4" class="f"/><circle cx="481.1" cy="325.9" class="E"/><circle cx="462.5" cy="297.3" class="y"/><circle cx="449.6" cy="272.2" class="t"/><circle cx="553.3" cy="343.0" class="I"/><circle cx="444.4" cy="260.7" class="q"/><circle cx="537.1" cy="349.7" class="K"/><circle cx="600.4" cy="282.4" class="v"/><circle cx="433.8" cy="223.3" class="i"/><circle cx="440.1" cy="248.3" class="n"/><circle cx="436.2" cy="234.5" class="k"/><circle cx="593.0" cy="296.6" class="y"/><circle cx="490.4" cy="333.9" class="G"/><circle cx="605.9" cy="268.6" class="s"/><circle cx="499.2" cy="340.9" class="I"/><circle cx="455.2" cy="281.6" class="v"/><circle cx="436.2" cy="233.1" class="k"/><circle cx="433.7" cy="222.3" class="i"/><circle cx="544.5" cy="347.1" class="J"/><circle cx="574.0" cy="325.5" class="E"/><circle cx="475.8" cy="315.5" class="C"/><circle cx="588.7" cy="306.5" class="A"/><circle cx="440.1" cy="247.1" class="n"/><circle cx="468.1" cy="302.9" class="z"/><circle cx="433.4" cy="221.7" class="h"/><circle cx="449.4" cy="269.7" class="s"/><circle cx="576.8" cy="320.4" class="D"/><circle cx="436.2" cy="232.3" class="k"/><circle cx="600.6" cy="280.3" class="u"/><circle cx="444.2" cy="258.3" class="p"/><circle cx="462.5" cy="293.7" class="x"/><circle cx="593.0" cy="294.2" class="x"/><circle cx="605.7" cy="266.4" class="r"/><circle cx="562.2" cy="334.5" class="G"/><circle cx="440.2" cy="245.8" class="n"/><circle cx="515.7" cy="346.1" class="J"/><circle cx="433.5" cy="220.6" class="h"/><circle cx="481.0" cy="321.2" class="D"/><circle cx="436.2" cy="231.2" class="j"/><circle cx="433.5" cy="219.3" class="h"/><circle cx="512.4" cy="344.1" class="I"/><circle cx="527.8" cy="346.1" class="J"/><circle cx="588.9" cy="304.1" class="z"/><circle cx="440.3" cy="244.6" class="m"/><circle cx="454.8" cy="279.4" class="u"/><circle cx="605.7" cy="264.1" class="r"/><circle cx="553.0" cy="338.0" class="H"/><circle cx="444.3" cy="255.7" class="p"/><circle cx="537.2" cy="344.6" class="I"/><circle cx="600.3" cy="278.0" class="u"/><circle cx="449.6" cy="266.7" class="r"/><circle cx="490.5" cy="329.5" class="F"/><circle cx="436.2" cy="230.5" class="j"/><circle cx="593.2" cy="292.0" class="x"/><circle cx="476.0" cy="311.4" class="B"/><circle cx="577.2" cy="318.2" class="C"/><circle cx="433.3" cy="218.9" class="h"/><circle cx="440.2" cy="243.3" class="m"/><circle cx="468.2" cy="299.3" class="y"/><circle cx="436.0" cy="229.0" class="j"/><circle cx="499.4" cy="336.7" class="G"/><circle cx="433.6" cy="217.6" class="g"/><circle cx="574.0" cy="321.1" class="D"/><circle cx="462.4" cy="290.5" class="w"/><circle cx="544.2" cy="342.1" class="H"/><circle cx="444.4" cy="254.6" class="o"/><circle cx="589.0" cy="301.8" class="z"/><circle cx="433.3" cy="216.8" class="g"/><circle cx="600.4" cy="275.7" class="t"/><circle cx="593.0" cy="289.3" class="w"/><circle cx="440.1" cy="242.5" class="m"/><circle cx="436.3" cy="228.4" class="j"/><circle cx="605.9" cy="262.3" class="q"/><circle cx="455.1" cy="276.2" class="t"/><circle cx="433.6" cy="215.7" class="g"/><circle cx="436.1" cy="226.8" class="i"/><circle cx="444.4" cy="252.9" class="o"/><circle cx="481.4" cy="317.6" class="C"/><circle cx="515.7" cy="340.9" class="H"/><circle cx="562.5" cy="330.5" class="F"/><circle cx="440.2" cy="241.0" class="l"/><circle cx="449.5" cy="264.7" class="q"/><circle cx="577.1" cy="315.9" class="C"/><circle cx="512.3" cy="339.3" class="H"/><circle cx="433.4" cy="215.1" class="g"/><circle cx="527.9" cy="341.5" class="H"/><circle cx="436.1" cy="226.2" class="i"/><circle cx="574.3" cy="319.0" class="C"/><circle cx="444.4" cy="251.7" class="o"/><circle cx="606.0" cy="260.1" class="p"/><circle cx="588.9" cy="299.5" class="y"/><circle cx="468.4" cy="296.4" class="x"/><circle cx="440.1" cy="240.0" class="l"/><circle cx="475.6" cy="307.9" class="A"/><circle cx="490.7" cy="325.4" class="E"/><circle cx="600.6" cy="273.8" class="s"/><circle cx="462.5" cy="287.6" class="v"/><circle cx="593.2" cy="287.5" class="v"/><circle cx="553.3" cy="334.1" class="F"/><circle cx="449.7" cy="261.3" class="q"/><circle cx="537.2" cy="340.2" class="H"/><circle cx="436.1" cy="225.3" class="i"/><circle cx="577.0" cy="313.0" class="B"/><circle cx="440.1" cy="238.7" class="l"/><circle cx="499.4" cy="332.4" class="F"/><circle cx="455.0" cy="273.7" class="s"/><circle cx="444.3" cy="250.7" class="n"/><circle cx="436.0" cy="224.2" class="h"/><circle cx="573.8" cy="315.7" class="B"/><circle cx="600.5" cy="271.5" class="s"/><circle cx="440.2" cy="237.5" class="k"/><circle cx="444.3" cy="249.1" class="n"/><circle cx="589.3" cy="297.4" class="x"/><circle cx="544.3" cy="338.0" class="G"/><circle cx="449.8" cy="260.3" class="p"/><circle cx="481.2" cy="314.1" class="B"/><circle cx="593.5" cy="285.3" class="v"/><circle cx="435.9" cy="223.4" class="h"/><circle cx="440.1" cy="236.2" class="k"/><circle cx="462.4" cy="283.9" class="u"/><circle cx="562.5" cy="326.1" class="E"/><circle cx="515.5" cy="336.4" class="G"/><circle cx="468.4" cy="293.0" class="w"/><circle cx="436.2" cy="222.2" class="h"/><circle cx="476.0" cy="304.4" class="z"/><circle cx="490.7" cy="320.9" class="C"/><circle cx="444.3" cy="248.1" class="m"/><circle cx="577.6" cy="311.4" class="A"/><circle cx="454.8" cy="271.2" class="r"/><circle cx="600.7" cy="269.5" class="r"/><circle cx="512.4" cy="335.5" class="G"/><circle cx="528.2" cy="337.3" class="G"/><circle cx="439.9" cy="235.4" class="k"/><circle cx="449.6" cy="259.6" class="p"/><circle cx="589.3" cy="295.0" class="x"/><circle cx="573.9" cy="313.7" class="B"/><circle cx="593.3" cy="282.9" class="u"/><circle cx="553.7" cy="329.4" class="E"/><circle cx="436.2" cy="221.4" class="h"/><circle cx="440.1" cy="233.9" class="j"/><circle cx="444.2" cy="246.9" class="m"/><circle cx="537.3" cy="335.6" class="F"/><circle cx="499.3" cy="328.0" class="E"/><circle cx="449.5" cy="257.5" class="o"/><circle cx="436.0" cy="220.5" class="g"/><circle cx="577.5" cy="308.7" class="A"/><circle cx="444.5" cy="245.5" class="m"/><circle cx="440.1" cy="232.9" class="j"/><circle cx="481.2" cy="310.3" class="A"/><circle cx="462.4" cy="281.4" class="u"/><circle cx="468.3" cy="289.8" class="v"/><circle cx="544.7" cy="333.3" class="F"/><circle cx="600.9" cy="267.5" class="r"/><circle cx="449.7" cy="256.0" class="o"/><circle cx="436.3" cy="219.5" class="g"/><circle cx="589.0" cy="292.5" class="w"/><circle cx="455.2" cy="268.6" class="r"/><circle cx="475.9" cy="300.7" class="y"/><circle cx="574.4" cy="311.7" class="A"/></g><g fill-opacity="0.88" stroke-opacity="0.88"><circle cx="593.9" cy="281.2" class="t"/><circle cx="444.3" cy="244.3" class="l"/><circle cx="562.5" cy="321.7" class="C"/><circle cx="515.6" cy="332.2" class="F"/><circle cx="440.1" cy="232.1" class="j"/><circle cx="600.8" cy="265.1" class="q"/><circle cx="454.7" cy="266.7" class="q"/><circle cx="490.7" cy="317.2" class="B"/><circle cx="449.7" cy="255.0" class="o"/><circle cx="577.0" cy="305.9" class="z"/><circle cx="512.4" cy="330.9" class="E"/><circle cx="444.4" cy="242.9" class="l"/><circle cx="440.2" cy="230.8" class="i"/><circle cx="528.3" cy="332.9" class="F"/><circle cx="589.0" cy="290.2" class="v"/><circle cx="593.5" cy="278.6" class="t"/><circle cx="553.8" cy="325.1" class="D"/><circle cx="444.5" cy="241.6" class="l"/><circle cx="455.0" cy="265.3" class="q"/><circle cx="481.1" cy="306.1" class="z"/><circle cx="499.8" cy="324.5" class="D"/><circle cx="574.7" cy="309.6" class="z"/><circle cx="562.6" cy="319.0" class="C"/><circle cx="537.3" cy="331.3" class="E"/><circle cx="449.7" cy="253.9" class="n"/><circle cx="468.4" cy="287.2" class="v"/><circle cx="462.6" cy="279.5" class="t"/><circle cx="440.1" cy="230.3" class="i"/><circle cx="577.6" cy="303.8" class="y"/><circle cx="601.5" cy="263.5" class="p"/><circle cx="475.9" cy="297.6" class="x"/><circle cx="449.4" cy="252.2" class="n"/><circle cx="440.2" cy="228.9" class="i"/><circle cx="544.9" cy="329.1" class="E"/><circle cx="455.0" cy="263.9" class="p"/><circle cx="589.4" cy="288.3" class="v"/><circle cx="444.4" cy="240.9" class="k"/><circle cx="594.0" cy="276.9" class="s"/><circle cx="574.2" cy="306.6" class="z"/><circle cx="515.8" cy="328.1" class="D"/><circle cx="440.1" cy="227.9" class="h"/><circle cx="444.4" cy="239.4" class="k"/><circle cx="449.7" cy="250.9" class="m"/><circle cx="490.9" cy="313.9" class="A"/><circle cx="562.8" cy="316.8" class="B"/><circle cx="455.0" cy="262.2" class="p"/><circle cx="462.7" cy="276.0" class="s"/><circle cx="512.3" cy="326.6" class="D"/><circle cx="449.6" cy="249.1" class="m"/><circle cx="440.2" cy="226.7" class="h"/><circle cx="577.7" cy="301.6" class="x"/><circle cx="528.2" cy="328.5" class="D"/><circle cx="468.7" cy="284.6" class="u"/><circle cx="481.1" cy="302.8" class="y"/><circle cx="593.7" cy="274.5" class="s"/><circle cx="589.3" cy="286.0" class="u"/><circle cx="499.7" cy="320.3" class="B"/><circle cx="553.8" cy="321.1" class="C"/><circle cx="444.3" cy="238.6" class="k"/><circle cx="476.0" cy="294.0" class="w"/><circle cx="537.4" cy="327.0" class="D"/><circle cx="462.7" cy="274.4" class="r"/><circle cx="440.3" cy="225.9" class="h"/><circle cx="454.9" cy="261.3" class="p"/><circle cx="574.5" cy="304.7" class="y"/><circle cx="449.6" cy="248.3" class="m"/><circle cx="444.3" cy="237.4" class="j"/><circle cx="563.0" cy="314.7" class="A"/><circle cx="440.1" cy="224.8" class="h"/><circle cx="454.8" cy="259.2" class="o"/><circle cx="577.8" cy="299.4" class="x"/><circle cx="545.1" cy="325.2" class="C"/><circle cx="444.4" cy="236.0" class="j"/><circle cx="594.0" cy="272.6" class="r"/><circle cx="462.5" cy="272.8" class="r"/><circle cx="468.5" cy="280.9" class="t"/><circle cx="589.5" cy="284.0" class="t"/><circle cx="491.0" cy="310.2" class="z"/><circle cx="449.6" cy="247.1" class="l"/><circle cx="516.0" cy="324.0" class="C"/><circle cx="553.8" cy="318.8" class="B"/><circle cx="454.8" cy="257.9" class="o"/><circle cx="575.0" cy="302.7" class="x"/><circle cx="512.7" cy="322.8" class="C"/><circle cx="481.2" cy="299.4" class="x"/><circle cx="562.8" cy="311.9" class="z"/><circle cx="444.3" cy="235.0" class="j"/><circle cx="462.6" cy="270.9" class="q"/><circle cx="589.3" cy="281.4" class="t"/><circle cx="475.9" cy="291.2" class="v"/><circle cx="528.2" cy="324.4" class="C"/><circle cx="449.7" cy="246.2" class="l"/><circle cx="577.5" cy="297.1" class="w"/><circle cx="499.9" cy="316.7" class="A"/><circle cx="594.4" cy="270.6" class="q"/><circle cx="454.9" cy="256.4" class="n"/><circle cx="444.2" cy="233.9" class="i"/><circle cx="468.5" cy="279.9" class="s"/><circle cx="554.2" cy="316.5" class="A"/><circle cx="537.9" cy="323.4" class="C"/><circle cx="574.9" cy="300.1" class="x"/><circle cx="462.6" cy="269.5" class="q"/><circle cx="449.5" cy="244.9" class="l"/><circle cx="455.1" cy="254.7" class="n"/><circle cx="444.5" cy="232.9" class="i"/><circle cx="468.6" cy="277.8" class="s"/><circle cx="490.9" cy="306.5" class="y"/><circle cx="544.8" cy="320.6" class="B"/><circle cx="449.6" cy="243.3" class="k"/><circle cx="563.1" cy="310.1" class="z"/><circle cx="577.8" cy="294.9" class="w"/><circle cx="589.4" cy="279.5" class="s"/><circle cx="462.5" cy="267.8" class="q"/><circle cx="444.3" cy="231.6" class="i"/><circle cx="481.3" cy="296.0" class="w"/><circle cx="594.2" cy="268.6" class="q"/><circle cx="516.0" cy="320.2" class="B"/><circle cx="512.2" cy="318.2" class="B"/><circle cx="468.3" cy="275.9" class="r"/><circle cx="476.2" cy="288.5" class="u"/><circle cx="574.7" cy="297.7" class="w"/><circle cx="554.0" cy="314.3" class="A"/><circle cx="455.1" cy="254.3" class="n"/><circle cx="449.7" cy="242.4" class="k"/><circle cx="499.5" cy="312.6" class="z"/><circle cx="528.7" cy="320.5" class="B"/><circle cx="444.3" cy="230.8" class="h"/><circle cx="462.5" cy="266.5" class="p"/><circle cx="563.0" cy="307.5" class="y"/><circle cx="594.1" cy="266.4" class="p"/><circle cx="454.9" cy="252.5" class="m"/><circle cx="449.8" cy="241.0" class="k"/><circle cx="475.9" cy="286.0" class="t"/><circle cx="589.8" cy="277.6" class="s"/><circle cx="577.7" cy="292.7" class="v"/><circle cx="545.4" cy="319.0" class="B"/><circle cx="537.7" cy="319.0" class="B"/><circle cx="444.3" cy="229.8" class="h"/><circle cx="468.4" cy="274.6" class="r"/><circle cx="490.8" cy="302.7" class="x"/><circle cx="575.1" cy="295.6" class="v"/><circle cx="462.6" cy="264.9" class="p"/><circle cx="553.9" cy="311.8" class="z"/><circle cx="481.2" cy="292.8" class="v"/><circle cx="449.5" cy="239.9" class="j"/><circle cx="563.2" cy="305.3" class="x"/><circle cx="475.9" cy="284.5" class="t"/><circle cx="468.5" cy="272.8" class="q"/><circle cx="455.1" cy="251.9" class="m"/><circle cx="590.0" cy="275.6" class="r"/></g><g fill-opacity="0.91" stroke-opacity="0.91"><circle cx="516.1" cy="316.4" class="A"/><circle cx="545.5" cy="316.6" class="A"/><circle cx="578.0" cy="290.9" class="u"/><circle cx="512.5" cy="314.8" class="z"/><circle cx="449.6" cy="238.9" class="j"/><circle cx="537.7" cy="316.8" class="A"/><circle cx="462.7" cy="263.9" class="o"/><circle cx="455.0" cy="250.3" class="l"/><circle cx="553.9" cy="309.3" class="y"/><circle cx="499.8" cy="309.3" class="y"/><circle cx="468.4" cy="270.9" class="q"/><circle cx="528.3" cy="316.4" class="A"/><circle cx="575.0" cy="293.7" class="v"/><circle cx="481.2" cy="291.5" class="u"/><circle cx="462.3" cy="261.9" class="o"/><circle cx="577.8" cy="288.1" class="u"/><circle cx="476.2" cy="283.1" class="s"/><circle cx="589.7" cy="273.2" class="q"/><circle cx="449.7" cy="237.8" class="j"/><circle cx="454.9" cy="248.8" class="l"/><circle cx="563.4" cy="303.3" class="x"/><circle cx="490.9" cy="299.5" class="w"/><circle cx="545.0" cy="313.8" class="z"/><circle cx="449.8" cy="236.3" class="i"/><circle cx="481.4" cy="289.1" class="u"/><circle cx="468.4" cy="269.5" class="p"/><circle cx="537.9" cy="314.8" class="z"/><circle cx="454.9" cy="247.5" class="l"/><circle cx="475.9" cy="281.1" class="s"/><circle cx="528.6" cy="314.4" class="z"/><circle cx="575.1" cy="291.6" class="u"/><circle cx="462.7" cy="261.0" class="o"/><circle cx="449.8" cy="235.2" class="i"/><circle cx="512.7" cy="310.8" class="y"/><circle cx="554.1" cy="307.6" class="y"/><circle cx="462.5" cy="258.5" class="n"/><circle cx="516.2" cy="312.8" class="z"/><circle cx="468.6" cy="268.0" class="p"/><circle cx="499.8" cy="305.5" class="x"/><circle cx="578.0" cy="286.4" class="t"/><circle cx="545.0" cy="311.4" class="y"/><circle cx="590.3" cy="271.7" class="q"/><circle cx="491.1" cy="298.1" class="w"/><circle cx="563.5" cy="301.3" class="w"/><circle cx="481.3" cy="287.7" class="t"/><circle cx="476.1" cy="279.5" class="r"/><circle cx="455.1" cy="246.7" class="k"/><circle cx="537.7" cy="312.1" class="z"/><circle cx="455.0" cy="244.6" class="k"/><circle cx="449.4" cy="234.3" class="i"/><circle cx="589.7" cy="268.9" class="p"/><circle cx="554.0" cy="304.8" class="x"/><circle cx="575.3" cy="289.5" class="u"/><circle cx="528.8" cy="312.4" class="z"/><circle cx="516.2" cy="310.4" class="y"/><circle cx="578.0" cy="284.0" class="s"/><circle cx="468.6" cy="266.8" class="p"/><circle cx="491.0" cy="295.8" class="v"/><circle cx="499.9" cy="303.2" class="x"/><circle cx="462.5" cy="257.9" class="n"/><circle cx="563.3" cy="298.7" class="w"/><circle cx="512.9" cy="309.2" class="y"/><circle cx="476.2" cy="278.1" class="r"/><circle cx="481.2" cy="286.1" class="t"/><circle cx="537.8" cy="309.9" class="y"/><circle cx="454.9" cy="244.0" class="k"/><circle cx="545.6" cy="310.0" class="y"/><circle cx="468.5" cy="265.2" class="o"/><circle cx="575.0" cy="287.1" class="t"/><circle cx="528.8" cy="310.0" class="y"/><circle cx="462.7" cy="256.8" class="m"/><circle cx="481.1" cy="283.7" class="s"/><circle cx="516.2" cy="308.4" class="x"/><circle cx="512.9" cy="306.8" class="x"/><circle cx="476.3" cy="276.2" class="r"/><circle cx="554.4" cy="303.3" class="w"/><circle cx="499.6" cy="301.2" class="w"/><circle cx="491.1" cy="294.3" class="u"/><circle cx="578.2" cy="282.2" class="s"/><circle cx="455.0" cy="242.8" class="j"/><circle cx="563.5" cy="296.7" class="v"/><circle cx="462.4" cy="255.2" class="m"/><circle cx="545.4" cy="307.5" class="x"/><circle cx="468.4" cy="264.0" class="o"/><circle cx="538.3" cy="308.2" class="x"/><circle cx="455.0" cy="241.6" class="j"/><circle cx="575.3" cy="285.1" class="s"/><circle cx="476.1" cy="274.5" class="q"/><circle cx="528.6" cy="307.7" class="x"/><circle cx="481.7" cy="282.4" class="s"/><circle cx="491.2" cy="292.3" class="u"/><circle cx="462.5" cy="253.6" class="l"/><circle cx="578.3" cy="279.9" class="r"/><circle cx="512.8" cy="304.6" class="x"/><circle cx="516.5" cy="306.3" class="x"/><circle cx="554.6" cy="301.1" class="w"/><circle cx="499.9" cy="299.5" class="v"/><circle cx="468.5" cy="262.2" class="n"/><circle cx="455.1" cy="240.1" class="j"/><circle cx="563.9" cy="294.9" class="u"/><circle cx="545.3" cy="305.1" class="x"/><circle cx="476.3" cy="272.9" class="q"/><circle cx="491.3" cy="290.3" class="t"/><circle cx="462.5" cy="252.5" class="l"/><circle cx="454.9" cy="238.9" class="i"/><circle cx="528.6" cy="305.4" class="x"/><circle cx="538.3" cy="306.1" class="x"/><circle cx="575.5" cy="283.2" class="s"/><circle cx="516.2" cy="303.9" class="w"/><circle cx="481.5" cy="281.2" class="r"/><circle cx="554.5" cy="298.8" class="v"/><circle cx="499.9" cy="297.6" class="v"/><circle cx="513.0" cy="302.8" class="w"/><circle cx="468.7" cy="261.3" class="n"/><circle cx="578.8" cy="278.3" class="r"/><circle cx="476.0" cy="271.3" class="p"/><circle cx="462.7" cy="251.2" class="l"/><circle cx="563.9" cy="292.8" class="u"/><circle cx="481.3" cy="278.9" class="r"/><circle cx="468.6" cy="259.4" class="n"/><circle cx="545.6" cy="303.3" class="w"/><circle cx="575.5" cy="281.0" class="r"/><circle cx="538.1" cy="303.7" class="w"/><circle cx="491.4" cy="288.9" class="t"/><circle cx="499.9" cy="295.3" class="u"/><circle cx="462.6" cy="249.5" class="k"/><circle cx="528.9" cy="303.7" class="w"/><circle cx="516.4" cy="302.2" class="w"/><circle cx="468.4" cy="257.7" class="m"/><circle cx="513.0" cy="300.9" class="v"/><circle cx="481.4" cy="276.9" class="q"/><circle cx="578.2" cy="276.0" class="q"/><circle cx="476.1" cy="269.8" class="p"/><circle cx="554.8" cy="297.0" class="v"/><circle cx="563.8" cy="290.3" class="t"/><circle cx="491.3" cy="286.7" class="s"/><circle cx="545.6" cy="300.8" class="v"/><circle cx="499.8" cy="293.4" class="u"/><circle cx="462.7" cy="248.7" class="k"/><circle cx="575.6" cy="279.1" class="r"/><circle cx="476.2" cy="268.2" class="o"/><circle cx="538.3" cy="301.8" class="v"/><circle cx="481.4" cy="275.2" class="q"/><circle cx="516.5" cy="300.2" class="v"/><circle cx="554.5" cy="294.6" class="u"/><circle cx="462.6" cy="246.9" class="k"/></g><g fill-opacity="0.93" stroke-opacity="0.93"><circle cx="578.8" cy="274.2" class="p"/><circle cx="528.9" cy="301.8" class="v"/><circle cx="468.7" cy="257.0" class="m"/><circle cx="512.9" cy="299.1" class="v"/><circle cx="491.1" cy="284.7" class="s"/><circle cx="563.6" cy="288.3" class="s"/><circle cx="476.0" cy="266.4" class="o"/><circle cx="545.4" cy="298.7" class="v"/><circle cx="468.7" cy="255.2" class="l"/><circle cx="538.1" cy="299.3" class="v"/><circle cx="500.1" cy="291.7" class="t"/><circle cx="575.3" cy="276.8" class="q"/><circle cx="462.7" cy="245.8" class="j"/><circle cx="481.5" cy="273.9" class="p"/><circle cx="578.8" cy="272.1" class="p"/><circle cx="516.5" cy="298.4" class="v"/><circle cx="528.8" cy="299.8" class="v"/><circle cx="513.1" cy="297.2" class="u"/><circle cx="491.3" cy="283.1" class="r"/><circle cx="476.1" cy="265.0" class="n"/><circle cx="554.9" cy="292.9" class="t"/><circle cx="462.7" cy="244.3" class="j"/><circle cx="564.0" cy="286.5" class="s"/><circle cx="468.7" cy="254.0" class="l"/><circle cx="545.3" cy="296.4" class="u"/><circle cx="468.8" cy="252.0" class="k"/><circle cx="575.4" cy="274.8" class="p"/><circle cx="500.0" cy="290.0" class="t"/><circle cx="481.4" cy="272.4" class="p"/><circle cx="554.4" cy="290.2" class="t"/><circle cx="538.4" cy="297.8" class="u"/><circle cx="491.4" cy="281.4" class="r"/><circle cx="516.5" cy="296.5" class="u"/><circle cx="513.3" cy="295.3" class="u"/><circle cx="476.3" cy="263.8" class="n"/><circle cx="529.1" cy="298.0" class="u"/><circle cx="563.7" cy="284.3" class="r"/><circle cx="499.8" cy="287.9" class="s"/><circle cx="481.7" cy="271.0" class="o"/><circle cx="575.9" cy="273.0" class="p"/><circle cx="538.3" cy="295.3" class="u"/><circle cx="468.7" cy="251.2" class="k"/><circle cx="545.9" cy="294.9" class="u"/><circle cx="491.2" cy="279.6" class="q"/><circle cx="476.0" cy="262.3" class="m"/><circle cx="513.0" cy="293.0" class="t"/><circle cx="516.6" cy="294.5" class="t"/><circle cx="529.0" cy="295.7" class="u"/><circle cx="554.8" cy="288.6" class="s"/><circle cx="481.4" cy="269.1" class="o"/><circle cx="563.9" cy="282.2" class="r"/><circle cx="468.7" cy="249.7" class="k"/><circle cx="499.9" cy="286.3" class="s"/><circle cx="476.0" cy="260.7" class="m"/><circle cx="538.6" cy="293.3" class="t"/><circle cx="512.9" cy="290.8" class="t"/><circle cx="491.3" cy="278.1" class="q"/><circle cx="546.2" cy="293.0" class="t"/><circle cx="516.7" cy="292.5" class="t"/><circle cx="468.6" cy="248.4" class="j"/><circle cx="529.1" cy="293.7" class="t"/><circle cx="481.7" cy="267.7" class="n"/><circle cx="555.1" cy="286.7" class="s"/><circle cx="500.0" cy="284.5" class="r"/><circle cx="563.8" cy="280.3" class="q"/><circle cx="491.4" cy="276.2" class="p"/><circle cx="476.3" cy="259.6" class="m"/><circle cx="546.1" cy="290.7" class="s"/><circle cx="481.5" cy="266.0" class="n"/><circle cx="538.3" cy="291.4" class="s"/><circle cx="516.7" cy="290.6" class="s"/><circle cx="513.2" cy="289.5" class="s"/><circle cx="529.2" cy="291.9" class="t"/><circle cx="555.0" cy="284.6" class="r"/><circle cx="564.0" cy="278.2" class="q"/><circle cx="500.2" cy="282.8" class="r"/><circle cx="476.3" cy="258.2" class="l"/><circle cx="491.5" cy="274.6" class="p"/><circle cx="481.6" cy="264.5" class="n"/><circle cx="516.7" cy="288.5" class="s"/><circle cx="538.5" cy="289.4" class="s"/><circle cx="476.3" cy="256.4" class="l"/><circle cx="545.8" cy="288.7" class="s"/><circle cx="529.1" cy="289.4" class="s"/><circle cx="513.4" cy="287.7" class="s"/><circle cx="554.9" cy="282.5" class="q"/><circle cx="491.2" cy="272.9" class="o"/><circle cx="481.4" cy="262.9" class="m"/><circle cx="564.1" cy="276.4" class="p"/><circle cx="500.2" cy="281.5" class="q"/><circle cx="476.3" cy="255.1" class="k"/><circle cx="538.4" cy="287.3" class="r"/><circle cx="546.1" cy="286.7" class="r"/><circle cx="513.2" cy="285.6" class="r"/><circle cx="516.4" cy="286.7" class="r"/><circle cx="491.2" cy="271.2" class="o"/><circle cx="554.7" cy="280.3" class="q"/><circle cx="529.4" cy="288.0" class="r"/><circle cx="481.9" cy="261.5" class="m"/><circle cx="500.2" cy="279.4" class="q"/><circle cx="476.4" cy="253.6" class="k"/><circle cx="564.2" cy="274.4" class="o"/><circle cx="538.6" cy="285.3" class="r"/><circle cx="546.0" cy="284.6" class="r"/><circle cx="516.9" cy="284.8" class="r"/><circle cx="481.4" cy="259.8" class="l"/><circle cx="554.9" cy="278.3" class="p"/><circle cx="529.2" cy="285.9" class="r"/><circle cx="491.5" cy="269.8" class="n"/><circle cx="513.4" cy="284.3" class="q"/><circle cx="500.4" cy="277.9" class="p"/></g><g fill-opacity="0.96" stroke-opacity="0.96"><circle cx="481.6" cy="258.2" class="l"/><circle cx="513.2" cy="282.0" class="q"/><circle cx="546.2" cy="282.8" class="q"/><circle cx="516.7" cy="283.1" class="q"/><circle cx="538.7" cy="283.6" class="q"/><circle cx="491.3" cy="268.1" class="n"/><circle cx="529.5" cy="283.9" class="q"/><circle cx="500.3" cy="275.9" class="p"/><circle cx="555.1" cy="276.8" class="p"/><circle cx="481.5" cy="256.9" class="k"/><circle cx="491.5" cy="266.4" class="m"/><circle cx="538.8" cy="281.6" class="q"/><circle cx="513.6" cy="280.5" class="p"/><circle cx="517.0" cy="281.5" class="q"/><circle cx="546.2" cy="280.9" class="q"/><circle cx="500.3" cy="274.4" class="o"/><circle cx="529.4" cy="282.3" class="q"/><circle cx="555.3" cy="274.7" class="o"/><circle cx="491.5" cy="264.9" class="m"/><circle cx="500.3" cy="272.3" class="o"/><circle cx="516.9" cy="279.4" class="p"/><circle cx="513.5" cy="278.6" class="p"/><circle cx="529.4" cy="280.0" class="p"/><circle cx="546.1" cy="278.9" class="p"/><circle cx="538.7" cy="280.0" class="p"/><circle cx="516.8" cy="277.4" class="p"/><circle cx="491.4" cy="263.6" class="m"/><circle cx="500.4" cy="270.8" class="n"/><circle cx="513.5" cy="276.8" class="o"/><circle cx="538.7" cy="277.8" class="p"/><circle cx="546.3" cy="277.1" class="o"/><circle cx="529.2" cy="278.4" class="p"/><circle cx="491.4" cy="261.7" class="l"/><circle cx="513.3" cy="274.7" class="o"/><circle cx="517.0" cy="275.7" class="o"/><circle cx="500.4" cy="269.3" class="n"/><circle cx="546.3" cy="275.2" class="o"/><circle cx="538.7" cy="276.1" class="o"/><circle cx="529.5" cy="276.7" class="o"/><circle cx="500.4" cy="267.5" class="m"/><circle cx="517.0" cy="274.0" class="o"/><circle cx="513.7" cy="273.4" class="n"/><circle cx="538.7" cy="274.0" class="n"/><circle cx="529.4" cy="274.7" class="o"/><circle cx="500.4" cy="265.7" class="m"/><circle cx="516.9" cy="272.0" class="n"/><circle cx="513.4" cy="271.3" class="n"/><circle cx="529.6" cy="272.7" class="n"/><circle cx="513.4" cy="269.5" class="m"/><circle cx="517.2" cy="270.8" class="n"/></g><g fill-opacity="0.98" stroke-opacity="0.98"><circle cx="497.6" cy="242.6" class="g"/><circle cx="499.4" cy="256.4" class="i"/></g></g></g> <g id="text_26"> <text style="font-size: 12px;  text-anchor: middle" x="442.71" y="71.40">LiDAR Point 3D Coordinate Graph</text> </g> <g id="legend_1" transform="translate(0.3 0.8)"> <g id="patch_6"> <path d="M 568.39 100.08 L 625.89 100.08 Q 627.89 100.08 627.89 98.08 L 627.89 84.40 Q 627.89 82.40 625.89 82.40 L 568.39 82.40 Q 566.39 82.40 566.39 84.40 L 566.39 98.08 Q 566.39 100.08 568.39 100.08 z " style="fill: #ffffff; opacity: 0.8; stroke: #cccccc; stroke-linejoin: miter"/> </g> <g id="Path3DCollection_1"> <g> <use href="#maa36936b1c" x="580.39" y="91.37" style="fill: #3f4d8c; stroke: #3f4d8c"/> </g> </g> <g id="text_27"> <text style="font-size: 10px;  text-anchor: start" x="598.39" y="94.00">point</text> </g> </g> </g> <g id="axes_2"> <g id="patch_7"> <path d="M 206.42 576.86 L 301.46 576.86 L 301.46 481.82 L 206.42 481.82 z " style="fill: #ffffff"/> </g> <g id="PTS2D"> <defs> <path id="m0f09bfcae3" d="M 0 3 C 0.79 3 1.55 2.68 2.12 2.12 C 2.68 1.55 3 0.79 3 0 C 3 -0.79 2.68 -1.55 2.12 -2.12 C 1.55 -2.68 0.79 -3 0 -3 C -0.79 -3 -1.55 -2.68 -2.12 -2.12 C -2.68 -1.55 -3 -0.79 -3 0 C -3 0.79 -2.68 1.55 -2.12 2.12 C -1.55 2.68 -0.79 3 0 3 z " style="stroke: #90ee90"/> </defs> <g clip-path="url(#p9071045371)"><path d="M263.5 475.9 L263.0 478.4 L261.9 480.3 L260.4 481.8 L258.7 483.1 L257.0 484.4 L255.3 485.7 L253.8 487.2 L252.5 489.0 L251.3 490.8 L250.1 492.7 L248.9 494.5 L247.6 496.4 L246.5 498.3 L245.4 500.2 L244.4 502.2 L243.6 504.2 L242.9 506.3 L242.3 508.4 L241.8 510.5 L241.3 512.6 L241.0 514.8 L240.7 517.0 L240.5 519.2 L240.3 521.4 L240.2 523.6 L240.2 525.7 L240.3 527.9 L240.6 530.0 L241.0 532.1 L241.5 534.2 L242.0 536.3 L242.6 538.4 L243.3 540.5 L244.1 542.5 L244.9 544.6 L245.9 546.6 L246.9 548.6 L247.9 550.6 L249.1 552.5 L250.3 554.4 L251.5 556.2 L252.9 558.0 L254.3 559.7 L255.8 561.3 L257.3 562.9 L258.9 564.4 L260.6 565.8 L262.3 567.1 L264.1 568.3 L265.9 569.4 L267.8 570.5 L269.8 571.5 L271.8 572.4 L273.8 573.2 L275.9 573.9 L278.0 574.6 L280.1 575.3 L282.2 575.8 L284.4 576.4 L286.6 576.9 L288.8 577.3 L291.0 577.8 L293.1 578.2 L295.3 578.5 L297.5 578.9 L299.7 579.3 L301.8 579.6 L303.9 579.9 L306.0 580.3 L309.6 581.8 L309.6 471.6z" fill="#90ee90"/></g> </g> <g id="PathCollection_1"/> <g id="matplotlib.axis_1"> <g id="xtick_24"> <g id="line2d_27"> <defs> <path id="m1504cfccaf" d="M 0 0 L 0 3.5 " style="stroke: #000000; stroke-width: 0.8"/> </defs> <g> <use href="#m1504cfccaf" x="221.46" y="576.86" style="stroke: #000000; stroke-width: 0.8"/> </g> </g> <g id="text_28"> <text style="font-size: 10px;  text-anchor: middle" x="221.46" y="591.46">−250</text> </g> </g> <g id="xtick_25"> <g id="line2d_28"> <g> <use href="#m1504cfccaf" x="253.87" y="576.86" style="stroke: #000000; stroke-width: 0.8"/> </g> </g> <g id="text_29"> <text style="font-size: 10px;  text-anchor: middle" x="253.87" y="591.46">0</text> </g> </g> <g id="xtick_26"> <g id="line2d_29"> <g> <use href="#m1504cfccaf" x="286.29" y="576.86" style="stroke: #000000; stroke-width: 0.8"/> </g> </g> <g id="text_30"> <text style="font-size: 10px;  text-anchor: middle" x="286.29" y="591.46">250</text> </g> </g> <g id="text_31"> <text style="font-size: 10px;  text-anchor: middle" x="253.94" y="605.14">X (cm)</text> </g> </g> <g id="matplotlib.axis_2"> <g id="ytick_1"> <g id="line2d_30"> <defs> <path id="m5d545ce8f8" d="M 0 0 L -3.5 0 " style="stroke: #000000; stroke-width: 0.8"/> </defs> <g> <use href="#m5d545ce8f8" x="206.42" y="555.36" style="stroke: #000000; stroke-width: 0.8"/> </g> </g> <g id="text_32"> <text style="font-size: 10px;  text-anchor: end" x="199.42" y="559.16">−200</text> </g> </g> <g id="ytick_2"> <g id="line2d_31"> <g> <use href="#m5d545ce8f8" x="206.42" y="529.47" style="stroke: #000000; stroke-width: 0.8"/> </g> </g> <g id="text_33"> <text style="font-size: 10px;  text-anchor: end" x="199.42" y="533.27">0</text> </g> </g> <g id="ytick_3"> <g id="line2d_32"> <g> <use href="#m5d545ce8f8" x="206.42" y="503.57" style="stroke: #000000; stroke-width: 0.8"/> </g> </g> <g id="text_34"> <text style="font-size: 10px;  text-anchor: end" x="199.42" y="507.37">200</text> </g> </g> <g id="text_35"> <text style="font-size: 10px;  text-anchor: middle" x="165.87" y="529.34" transform="rotate(-90 165.87 529.34)">Y (cm)</text> </g> </g> <g id="patch_8"> <path d="M 206.42 576.86 L 206.42 481.82 " style="fill: none; stroke: #000000; stroke-width: 0.8; stroke-linejoin: miter; stroke-linecap: square"/> </g> <g id="patch_9"> <path d="M 301.46 576.86 L 301.46 481.82 " style="fill: none; stroke: #000000; stroke-width: 0.8; stroke-linejoin: miter; stroke-linecap: square"/> </g> <g id="patch_10"> <path d="M 206.42 576.86 L 301.46 576.86 " style="fill: none; stroke: #000000; stroke-width: 0.8; stroke-linejoin: miter; stroke-linecap: square"/> </g> <g id="patch_11"> <path d="M 206.42 481.82 L 301.46 481.82 " style="fill: none; stroke: #000000; stroke-width: 0.8; stroke-linejoin: miter; stroke-linecap: square"/> </g> <g id="text_36"> <text style="font-size: 12px;  text-anchor: middle" x="253.94" y="475.82">LiDAR Point 2D Coordinate Graph</text> </g> <g id="legend_2" transform="translate(-0.5 0.4)"> <g id="patch_12"> <path d="M 313.21 520.13 L 371.11 520.13 Q 373.11 520.13 373.11 518.13 L 373.11 488.82 Q 373.11 486.82 371.11 486.82 L 313.21 486.82 Q 311.21 486.82 311.21 488.82 L 311.21 518.13 Q 311.21 520.13 313.21 520.13 z " style="fill: #ffffff; opacity: 0.8; stroke: #cccccc; stroke-linejoin: miter"/> </g> <g id="PathCollection_2"> <g> <use href="#m0f09bfcae3" x="325.41" y="495.99" style="fill: #90ee90; stroke: #90ee90"/> </g> </g> <g id="text_37"> <text style="font-size: 10px;  text-anchor: start" x="343.41" y="498.62">point</text> </g> <g id="PathCollection_3"> <defs> <path id="m07ba7ed919" d="M 0 3 C 0.79 3 1.55 2.68 2.12 2.12 C 2.68 1.55 3 0.79 3 0 C 3 -0.79 2.68 -1.55 2.12 -2.12 C 1.55 -2.68 0.79 -3 0 -3 C -0.79 -3 -1.55 -2.68 -2.12 -2.12 C -2.68 -1.55 -3 -0.79 -3 0 C -3 0.79 -2.68 1.55 -2.12 2.12 C -1.55 2.68 -0.79 3 0 3 z " style="stroke: #0000ff"/> </defs> <g> <use href="#m07ba7ed919" x="325.41" y="511.22" style="fill: #0000ff; stroke: #0000ff"/> </g> </g> <g id="text_38"> <text style="font-size: 10px;  text-anchor: start" x="343.41" y="513.85">wall</text> </g> </g> </g> <g id="axes_3"> <g id="patch_13"> <path d="M 487.29 576.86 L 777.88 576.86 L 777.88 481.82 L 487.29 481.82 z " style="fill: #ffffff"/> </g> <g id="patch_14"> <path d="M 493.92 576.86 L 493.92 498.72 L 522.21 498.72 L 522.21 530.59 L 550.50 530.59 L 550.50 540.84 L 578.79 540.84 L 578.79 548.60 L 607.08 548.60 L 607.08 555.82 L 635.38 555.82 L 635.38 560.78 L 663.67 560.78 L 663.67 563.86 L 691.96 563.86 L 691.96 566.60 L 720.25 566.60 L 720.25 568.29 L 748.55 568.29 L 748.55 486.33 L 776.84 486.33 L 776.84 576.86 L 748.55 576.86 L 748.55 576.86 L 720.25 576.86 L 720.25 576.86 L 691.96 576.86 L 691.96 576.86 L 663.67 576.86 L 663.67 576.86 L 635.38 576.86 L 635.38 576.86 L 607.08 576.86 L 607.08 576.86 L 578.79 576.86 L 578.79 576.86 L 550.50 576.86 L 550.50 576.86 L 522.21 576.86 L 522.21 576.86 z " clip-path="url(#pa9f9ad4b43)" style="fill: #0000ff"/> </g> <g id="matplotlib.axis_3"> <g id="xtick_27"> <g id="line2d_33"> <g> <use href="#m1504cfccaf" x="487.29" y="576.86" style="stroke: #000000; stroke-width: 0.8"/> </g> </g> <g id="text_39"> <text style="font-size: 10px;  text-anchor: middle" x="487.29" y="591.46">0</text> </g> </g> <g id="xtick_28"> <g id="line2d_34"> <g> <use href="#m1504cfccaf" x="519.92" y="576.86" style="stroke: #000000; stroke-width: 0.8"/> </g> </g> <g id="text_40"> <text style="font-size: 10px;  text-anchor: middle" x="519.92" y="591.46">100</text> </g> </g> <g id="xtick_29"> <g id="line2d_35"> <g> <use href="#m1504cfccaf" x="552.56" y="576.86" style="stroke: #000000; stroke-width: 0.8"/> </g> </g> <g id="text_41"> <text style="font-size: 10px;  text-anchor: middle" x="552.56" y="591.46">200</text> </g> </g> <g id="xtick_30"> <g id="line2d_36"> <g> <use href="#m1504cfccaf" x="585.19" y="576.86" style="stroke: #000000; stroke-width: 0.8"/> </g> </g> <g id="text_42"> <text style="font-size: 10px;  text-anchor: middle" x="585.19" y="591.46">300</text> </g> </g> <g id="xtick_31"> <g id="line2d_37"> <g> <use href="#m1504cfccaf" x="617.82" y="576.86" style="stroke: #000000; stroke-width: 0.8"/> </g> </g> <g id="text_43"> <text style="font-size: 10px;  text-anchor: middle" x="617.82" y="591.46">400</text> </g> </g> <g id="xtick_32"> <g id="line2d_38"> <g> <use href="#m1504cfccaf" x="650.45" y="576.86" style="stroke: #000000; stroke-width: 0.8"/> </g> </g> <g id="text_44"> <text style="font-size: 10px;  text-anchor: middle" x="650.45" y="591.46">500</text> </g> </g> <g id="xtick_33"> <g id="line2d_39"> <g> <use href="#m1504cfccaf" x="683.09" y="576.86" style="stroke: #000000; stroke-width: 0.8"/> </g> </g> <g id="text_45"> <text style="font-size: 10px;  text-anchor: middle" x="683.09" y="591.46">600</text> </g> </g> <g id="xtick_34"> <g id="line2d_40"> <g> <use href="#m1504cfccaf" x="715.72" y="576.86" style="stroke: #000000; stroke-width: 0.8"/> </g> </g> <g id="text_46"> <text style="font-size: 10px;  text-anchor: middle" x="715.72" y="591.46">700</text> </g> </g> <g id="xtick_35"> <g id="line2d_41"> <g> <use href="#m1504cfccaf" x="748.35" y="576.86" style="stroke: #000000; stroke-width: 0.8"/> </g> </g> <g id="text_47"> <text style="font-size: 10px;  text-anchor: middle" x="748.35" y="591.46">800</text> </g> </g> </g> <g id="matplotlib.axis_4"> <g id="ytick_4"> <g id="line2d_42"> <g> <use href="#m5d545ce8f8" x="487.29" y="576.86" style="stroke: #000000; stroke-width: 0.8"/> </g> </g> <g id="text_48"> <text style="font-size: 10px;  text-anchor: end" x="480.29" y="580.66">0</text> </g> </g> <g id="ytick_5"> <g id="line2d_43"> <g> <use href="#m5d545ce8f8" x="487.29" y="535.84" style="stroke: #000000; stroke-width: 0.8"/> </g> </g> <g id="text_49"> <text style="font-size: 10px;  text-anchor: end" x="480.29" y="539.64">1000</text> </g> </g> <g id="ytick_6"> <g id="line2d_44"> <g> <use href="#m5d545ce8f8" x="487.29" y="494.82" style="stroke: #000000; stroke-width: 0.8"/> </g> </g> <g id="text_50"> <text style="font-size: 10px;  text-anchor: end" x="480.29" y="498.62">2000</text> </g> </g> </g> <g id="patch_15"> <path d="M 487.29 576.86 L 487.29 481.82 " style="fill: none; stroke: #000000; stroke-width: 0.8; stroke-linejoin: miter; stroke-linecap: square"/> </g> <g id="patch_16"> <path d="M 777.88 576.86 L 777.88 481.82 " style="fill: none; stroke: #000000; stroke-width: 0.8; stroke-linejoin: miter; stroke-linecap: square"/> </g> <g id="patch_17"> <path d="M 487.29 576.86 L 777.88 576.86 " style="fill: none; stroke: #000000; stroke-width: 0.8; stroke-linejoin: miter; stroke-linecap: square"/> </g> <g id="patch_18"> <path d="M 487.29 481.82 L 777.88 481.82 " style="fill: none; stroke: #000000; stroke-width: 0.8; stroke-linejoin: miter; stroke-linecap: square"/> </g> <g id="text_51"> <text style="font-size: 12px;  text-anchor: middle" x="632.59" y="475.82">Height Histogram</text> </g> <g id="legend_3" transform="translate(0 0.6)"> <g id="patch_19"> <path d="M 600.06 504.50 L 665.12 504.50 Q 667.12 504.50 667.12 502.50 L 667.12 488.82 Q 667.12 486.82 665.12 486.82 L 600.06 486.82 Q 598.06 486.82 598.06 488.82 L 598.06 502.50 Q 598.06 504.50 600.06 504.50 z " style="fill: #ffffff; opacity: 0.8; stroke: #cccccc; stroke-linejoin: miter"/> </g> <g id="patch_20"> <path d="M 602.06 498.42 L 622.06 498.42 L 622.06 491.42 L 602.06 491.42 z " style="fill: #0000ff"/> </g> <g id="text_52"> <text style="font-size: 10px;  text-anchor: start" x="630.06" y="498.42">Height</text> </g> </g> </g> </g> <defs> <clipPath id="p3e3333d743"> <rect x="252.53" y="77.40" width="380.36" height="380.36"/> </clipPath> <clipPath id="p9071045371"> <rect x="206.42" y="481.82" width="95.04" height="95.04"/> </clipPath> <clipPath id="pa9f9ad4b43"> <rect x="487.29" y="481.82" width="290.59" height="95.04"/> </clipPath> </defs> </svg> </body></html>
